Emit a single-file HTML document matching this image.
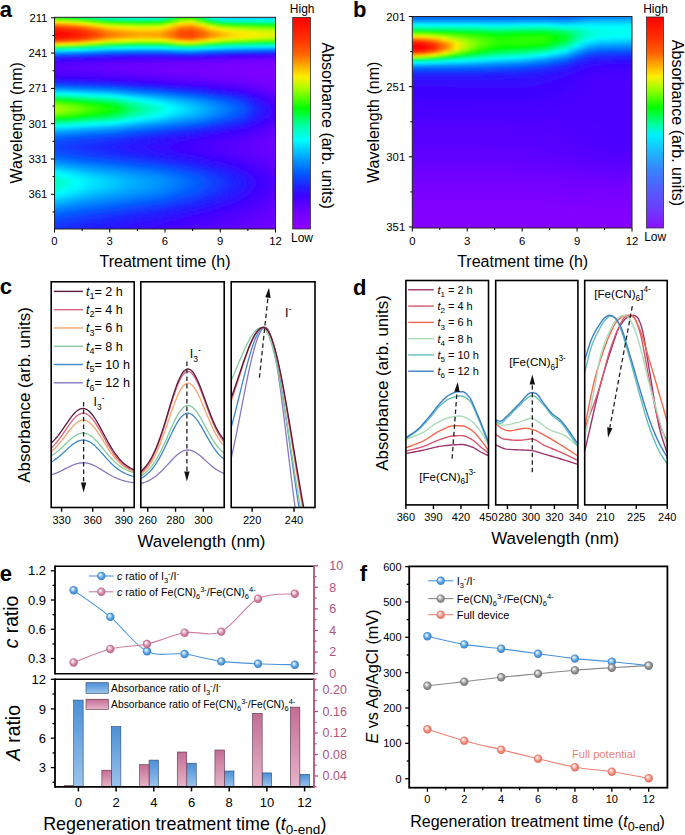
<!DOCTYPE html>
<html><head><meta charset="utf-8"><style>
html,body{margin:0;padding:0;background:#fff;width:685px;height:835px;overflow:hidden}
svg{display:block}
text{font-family:"Liberation Sans", sans-serif}
</style></head><body>
<svg width="685" height="835" viewBox="0 0 685 835">
<defs><filter id="blura" x="-5%" y="-5%" width="110%" height="110%"><feGaussianBlur stdDeviation="0.6 1.0"/></filter><clipPath id="clipa"><rect x="54.5" y="17.3" width="221" height="211.7"/></clipPath><linearGradient id="ga0" gradientUnits="userSpaceOnUse" x1="54.5" x2="275.5" y1="0" y2="0"><stop offset="0" stop-color="#00ff39"/><stop offset="0.05" stop-color="#00ff55"/><stop offset="0.1" stop-color="#00ff71"/><stop offset="0.14" stop-color="#00ff96"/><stop offset="0.19" stop-color="#00ffbc"/><stop offset="0.24" stop-color="#00ffdf"/><stop offset="0.29" stop-color="#00ffed"/><stop offset="0.33" stop-color="#00fff3"/><stop offset="0.38" stop-color="#00fff9"/><stop offset="0.43" stop-color="#00fff7"/><stop offset="0.48" stop-color="#00fff0"/><stop offset="0.52" stop-color="#00ffb3"/><stop offset="0.57" stop-color="#00ff23"/><stop offset="0.62" stop-color="#00ff01"/><stop offset="0.67" stop-color="#00ff8d"/><stop offset="0.71" stop-color="#00fffc"/><stop offset="0.76" stop-color="#00c1ff"/><stop offset="0.81" stop-color="#00b9ff"/><stop offset="0.86" stop-color="#00b9ff"/><stop offset="0.9" stop-color="#00baff"/><stop offset="0.95" stop-color="#00baff"/><stop offset="1" stop-color="#00b9ff"/></linearGradient><linearGradient id="ga1" gradientUnits="userSpaceOnUse" x1="54.5" x2="275.5" y1="0" y2="0"><stop offset="0" stop-color="#00ff39"/><stop offset="0.05" stop-color="#00ff55"/><stop offset="0.1" stop-color="#00ff71"/><stop offset="0.14" stop-color="#00ff96"/><stop offset="0.19" stop-color="#00ffbc"/><stop offset="0.24" stop-color="#00ffdf"/><stop offset="0.29" stop-color="#00ffed"/><stop offset="0.33" stop-color="#00fff3"/><stop offset="0.38" stop-color="#00fff9"/><stop offset="0.43" stop-color="#00fff7"/><stop offset="0.48" stop-color="#00fff0"/><stop offset="0.52" stop-color="#00ffb3"/><stop offset="0.57" stop-color="#00ff23"/><stop offset="0.62" stop-color="#00ff01"/><stop offset="0.67" stop-color="#00ff8d"/><stop offset="0.71" stop-color="#00fffc"/><stop offset="0.76" stop-color="#00c1ff"/><stop offset="0.81" stop-color="#00b9ff"/><stop offset="0.86" stop-color="#00b9ff"/><stop offset="0.9" stop-color="#00baff"/><stop offset="0.95" stop-color="#00baff"/><stop offset="1" stop-color="#00b9ff"/></linearGradient><linearGradient id="ga2" gradientUnits="userSpaceOnUse" x1="54.5" x2="275.5" y1="0" y2="0"><stop offset="0" stop-color="#00ff08"/><stop offset="0.05" stop-color="#00ff25"/><stop offset="0.1" stop-color="#00ff43"/><stop offset="0.14" stop-color="#00ff6a"/><stop offset="0.19" stop-color="#00ff9b"/><stop offset="0.24" stop-color="#00ffc2"/><stop offset="0.29" stop-color="#00ffd0"/><stop offset="0.33" stop-color="#00ffd7"/><stop offset="0.38" stop-color="#00ffde"/><stop offset="0.43" stop-color="#00ffdc"/><stop offset="0.48" stop-color="#00ffd4"/><stop offset="0.52" stop-color="#00ff94"/><stop offset="0.57" stop-color="#02ff00"/><stop offset="0.62" stop-color="#24ff00"/><stop offset="0.67" stop-color="#00ff67"/><stop offset="0.71" stop-color="#00ffdf"/><stop offset="0.76" stop-color="#00d8ff"/><stop offset="0.81" stop-color="#00cfff"/><stop offset="0.86" stop-color="#00d0ff"/><stop offset="0.9" stop-color="#00cfff"/><stop offset="0.95" stop-color="#00cfff"/><stop offset="1" stop-color="#00ceff"/></linearGradient><linearGradient id="ga3" gradientUnits="userSpaceOnUse" x1="54.5" x2="275.5" y1="0" y2="0"><stop offset="0" stop-color="#87ff00"/><stop offset="0.05" stop-color="#65ff00"/><stop offset="0.1" stop-color="#44ff00"/><stop offset="0.14" stop-color="#17ff00"/><stop offset="0.19" stop-color="#00ff22"/><stop offset="0.24" stop-color="#00ff5a"/><stop offset="0.29" stop-color="#00ff71"/><stop offset="0.33" stop-color="#00ff7c"/><stop offset="0.38" stop-color="#00ff87"/><stop offset="0.43" stop-color="#00ff85"/><stop offset="0.48" stop-color="#00ff7a"/><stop offset="0.52" stop-color="#00ff29"/><stop offset="0.57" stop-color="#6aff00"/><stop offset="0.62" stop-color="#8cff00"/><stop offset="0.67" stop-color="#06ff00"/><stop offset="0.71" stop-color="#00ff82"/><stop offset="0.76" stop-color="#00ffd9"/><stop offset="0.81" stop-color="#00ffe8"/><stop offset="0.86" stop-color="#00ffe9"/><stop offset="0.9" stop-color="#00ffeb"/><stop offset="0.95" stop-color="#00ffed"/><stop offset="1" stop-color="#00fff0"/></linearGradient><linearGradient id="ga4" gradientUnits="userSpaceOnUse" x1="54.5" x2="275.5" y1="0" y2="0"><stop offset="0" stop-color="#feee00"/><stop offset="0.05" stop-color="#e0f400"/><stop offset="0.1" stop-color="#c2f900"/><stop offset="0.14" stop-color="#99ff00"/><stop offset="0.19" stop-color="#59ff00"/><stop offset="0.24" stop-color="#19ff00"/><stop offset="0.29" stop-color="#00ff01"/><stop offset="0.33" stop-color="#00ff0f"/><stop offset="0.38" stop-color="#00ff1c"/><stop offset="0.43" stop-color="#00ff1a"/><stop offset="0.48" stop-color="#00ff0e"/><stop offset="0.52" stop-color="#41ff00"/><stop offset="0.57" stop-color="#c5f800"/><stop offset="0.62" stop-color="#e0f400"/><stop offset="0.67" stop-color="#70ff00"/><stop offset="0.71" stop-color="#00ff11"/><stop offset="0.76" stop-color="#00ff76"/><stop offset="0.81" stop-color="#00ff8f"/><stop offset="0.86" stop-color="#00ff94"/><stop offset="0.9" stop-color="#00ff99"/><stop offset="0.95" stop-color="#00ff9f"/><stop offset="1" stop-color="#00ffa4"/></linearGradient><linearGradient id="ga5" gradientUnits="userSpaceOnUse" x1="54.5" x2="275.5" y1="0" y2="0"><stop offset="0" stop-color="#ff9600"/><stop offset="0.05" stop-color="#ffb000"/><stop offset="0.1" stop-color="#ffcb00"/><stop offset="0.14" stop-color="#feee00"/><stop offset="0.19" stop-color="#c6f800"/><stop offset="0.24" stop-color="#89ff00"/><stop offset="0.29" stop-color="#6bff00"/><stop offset="0.33" stop-color="#5bff00"/><stop offset="0.38" stop-color="#4bff00"/><stop offset="0.43" stop-color="#4cff00"/><stop offset="0.48" stop-color="#59ff00"/><stop offset="0.52" stop-color="#a4fe00"/><stop offset="0.57" stop-color="#ffe000"/><stop offset="0.62" stop-color="#ffcb00"/><stop offset="0.67" stop-color="#caf700"/><stop offset="0.71" stop-color="#5dff00"/><stop offset="0.76" stop-color="#00ff02"/><stop offset="0.81" stop-color="#00ff21"/><stop offset="0.86" stop-color="#00ff29"/><stop offset="0.9" stop-color="#00ff31"/><stop offset="0.95" stop-color="#00ff3a"/><stop offset="1" stop-color="#00ff42"/></linearGradient><linearGradient id="ga6" gradientUnits="userSpaceOnUse" x1="54.5" x2="275.5" y1="0" y2="0"><stop offset="0" stop-color="#ff5300"/><stop offset="0.05" stop-color="#ff6500"/><stop offset="0.1" stop-color="#ff7f00"/><stop offset="0.14" stop-color="#ffa300"/><stop offset="0.19" stop-color="#ffd600"/><stop offset="0.24" stop-color="#dff400"/><stop offset="0.29" stop-color="#c5f800"/><stop offset="0.33" stop-color="#b7fb00"/><stop offset="0.38" stop-color="#a8fe00"/><stop offset="0.43" stop-color="#a8fd00"/><stop offset="0.48" stop-color="#b3fc00"/><stop offset="0.52" stop-color="#ecf100"/><stop offset="0.57" stop-color="#ffaa00"/><stop offset="0.62" stop-color="#ff9600"/><stop offset="0.67" stop-color="#ffde00"/><stop offset="0.71" stop-color="#bbfa00"/><stop offset="0.76" stop-color="#6bff00"/><stop offset="0.81" stop-color="#46ff00"/><stop offset="0.86" stop-color="#3bff00"/><stop offset="0.9" stop-color="#30ff00"/><stop offset="0.95" stop-color="#24ff00"/><stop offset="1" stop-color="#18ff00"/></linearGradient><linearGradient id="ga7" gradientUnits="userSpaceOnUse" x1="54.5" x2="275.5" y1="0" y2="0"><stop offset="0" stop-color="#ff2d00"/><stop offset="0.05" stop-color="#ff3d00"/><stop offset="0.1" stop-color="#ff4e00"/><stop offset="0.14" stop-color="#ff6800"/><stop offset="0.19" stop-color="#ff9900"/><stop offset="0.24" stop-color="#ffce00"/><stop offset="0.29" stop-color="#ffe500"/><stop offset="0.33" stop-color="#faef00"/><stop offset="0.38" stop-color="#eaf200"/><stop offset="0.43" stop-color="#e9f200"/><stop offset="0.48" stop-color="#f4f000"/><stop offset="0.52" stop-color="#ffcb00"/><stop offset="0.57" stop-color="#ff7f00"/><stop offset="0.62" stop-color="#ff6d00"/><stop offset="0.67" stop-color="#ffac00"/><stop offset="0.71" stop-color="#ffed00"/><stop offset="0.76" stop-color="#c2f900"/><stop offset="0.81" stop-color="#a0ff00"/><stop offset="0.86" stop-color="#92ff00"/><stop offset="0.9" stop-color="#84ff00"/><stop offset="0.95" stop-color="#76ff00"/><stop offset="1" stop-color="#68ff00"/></linearGradient><linearGradient id="ga8" gradientUnits="userSpaceOnUse" x1="54.5" x2="275.5" y1="0" y2="0"><stop offset="0" stop-color="#ff1800"/><stop offset="0.05" stop-color="#ff2400"/><stop offset="0.1" stop-color="#ff3000"/><stop offset="0.14" stop-color="#ff4800"/><stop offset="0.19" stop-color="#ff6c00"/><stop offset="0.24" stop-color="#ff9f00"/><stop offset="0.29" stop-color="#ffb800"/><stop offset="0.33" stop-color="#ffc600"/><stop offset="0.38" stop-color="#ffd500"/><stop offset="0.43" stop-color="#ffd500"/><stop offset="0.48" stop-color="#ffcd00"/><stop offset="0.52" stop-color="#ffa200"/><stop offset="0.57" stop-color="#ff5f00"/><stop offset="0.62" stop-color="#ff5400"/><stop offset="0.67" stop-color="#ff8600"/><stop offset="0.71" stop-color="#ffbf00"/><stop offset="0.76" stop-color="#ffed00"/><stop offset="0.81" stop-color="#daf500"/><stop offset="0.86" stop-color="#cdf700"/><stop offset="0.9" stop-color="#c0f900"/><stop offset="0.95" stop-color="#b3fc00"/><stop offset="1" stop-color="#a6fe00"/></linearGradient><linearGradient id="ga9" gradientUnits="userSpaceOnUse" x1="54.5" x2="275.5" y1="0" y2="0"><stop offset="0" stop-color="#ff0900"/><stop offset="0.05" stop-color="#ff1500"/><stop offset="0.1" stop-color="#ff2200"/><stop offset="0.14" stop-color="#ff3400"/><stop offset="0.19" stop-color="#ff5400"/><stop offset="0.24" stop-color="#ff8200"/><stop offset="0.29" stop-color="#ff9900"/><stop offset="0.33" stop-color="#ffa800"/><stop offset="0.38" stop-color="#ffb700"/><stop offset="0.43" stop-color="#ffb800"/><stop offset="0.48" stop-color="#ffaf00"/><stop offset="0.52" stop-color="#ff8900"/><stop offset="0.57" stop-color="#ff5100"/><stop offset="0.62" stop-color="#ff4700"/><stop offset="0.67" stop-color="#ff6d00"/><stop offset="0.71" stop-color="#ffa000"/><stop offset="0.76" stop-color="#ffca00"/><stop offset="0.81" stop-color="#ffeb00"/><stop offset="0.86" stop-color="#f4f000"/><stop offset="0.9" stop-color="#e6f300"/><stop offset="0.95" stop-color="#d7f500"/><stop offset="1" stop-color="#c9f800"/></linearGradient><linearGradient id="ga10" gradientUnits="userSpaceOnUse" x1="54.5" x2="275.5" y1="0" y2="0"><stop offset="0" stop-color="#ff0100"/><stop offset="0.05" stop-color="#ff0e00"/><stop offset="0.1" stop-color="#ff1a00"/><stop offset="0.14" stop-color="#ff2c00"/><stop offset="0.19" stop-color="#ff4a00"/><stop offset="0.24" stop-color="#ff7300"/><stop offset="0.29" stop-color="#ff8b00"/><stop offset="0.33" stop-color="#ff9900"/><stop offset="0.38" stop-color="#ffa800"/><stop offset="0.43" stop-color="#ffa900"/><stop offset="0.48" stop-color="#ffa000"/><stop offset="0.52" stop-color="#ff7c00"/><stop offset="0.57" stop-color="#ff4a00"/><stop offset="0.62" stop-color="#ff4000"/><stop offset="0.67" stop-color="#ff6100"/><stop offset="0.71" stop-color="#ff9100"/><stop offset="0.76" stop-color="#ffb800"/><stop offset="0.81" stop-color="#ffda00"/><stop offset="0.86" stop-color="#ffe600"/><stop offset="0.9" stop-color="#f9ef00"/><stop offset="0.95" stop-color="#eaf200"/><stop offset="1" stop-color="#dbf400"/></linearGradient><linearGradient id="ga11" gradientUnits="userSpaceOnUse" x1="54.5" x2="275.5" y1="0" y2="0"><stop offset="0" stop-color="#ff0200"/><stop offset="0.05" stop-color="#ff0e00"/><stop offset="0.1" stop-color="#ff1b00"/><stop offset="0.14" stop-color="#ff2c00"/><stop offset="0.19" stop-color="#ff4b00"/><stop offset="0.24" stop-color="#ff7400"/><stop offset="0.29" stop-color="#ff8c00"/><stop offset="0.33" stop-color="#ff9a00"/><stop offset="0.38" stop-color="#ffa900"/><stop offset="0.43" stop-color="#ffaa00"/><stop offset="0.48" stop-color="#ffa200"/><stop offset="0.52" stop-color="#ff7e00"/><stop offset="0.57" stop-color="#ff4c00"/><stop offset="0.62" stop-color="#ff4200"/><stop offset="0.67" stop-color="#ff6300"/><stop offset="0.71" stop-color="#ff9300"/><stop offset="0.76" stop-color="#ffb900"/><stop offset="0.81" stop-color="#ffdb00"/><stop offset="0.86" stop-color="#ffe800"/><stop offset="0.9" stop-color="#f7ef00"/><stop offset="0.95" stop-color="#e8f200"/><stop offset="1" stop-color="#d9f500"/></linearGradient><linearGradient id="ga12" gradientUnits="userSpaceOnUse" x1="54.5" x2="275.5" y1="0" y2="0"><stop offset="0" stop-color="#ff1000"/><stop offset="0.05" stop-color="#ff1c00"/><stop offset="0.1" stop-color="#ff2900"/><stop offset="0.14" stop-color="#ff3e00"/><stop offset="0.19" stop-color="#ff5d00"/><stop offset="0.24" stop-color="#ff9000"/><stop offset="0.29" stop-color="#ffa800"/><stop offset="0.33" stop-color="#ffb700"/><stop offset="0.38" stop-color="#ffc700"/><stop offset="0.43" stop-color="#ffc800"/><stop offset="0.48" stop-color="#ffbf00"/><stop offset="0.52" stop-color="#ff9a00"/><stop offset="0.57" stop-color="#ff5e00"/><stop offset="0.62" stop-color="#ff5500"/><stop offset="0.67" stop-color="#ff8000"/><stop offset="0.71" stop-color="#ffb000"/><stop offset="0.76" stop-color="#ffd700"/><stop offset="0.81" stop-color="#f3f000"/><stop offset="0.86" stop-color="#e4f300"/><stop offset="0.9" stop-color="#d5f500"/><stop offset="0.95" stop-color="#c6f800"/><stop offset="1" stop-color="#b8fb00"/></linearGradient><linearGradient id="ga13" gradientUnits="userSpaceOnUse" x1="54.5" x2="275.5" y1="0" y2="0"><stop offset="0" stop-color="#ff2b00"/><stop offset="0.05" stop-color="#ff3900"/><stop offset="0.1" stop-color="#ff4b00"/><stop offset="0.14" stop-color="#ff6300"/><stop offset="0.19" stop-color="#ff9400"/><stop offset="0.24" stop-color="#ffc900"/><stop offset="0.29" stop-color="#ffe100"/><stop offset="0.33" stop-color="#fdee00"/><stop offset="0.38" stop-color="#ecf100"/><stop offset="0.43" stop-color="#eaf200"/><stop offset="0.48" stop-color="#f3f000"/><stop offset="0.52" stop-color="#ffd500"/><stop offset="0.57" stop-color="#ff9700"/><stop offset="0.62" stop-color="#ff8800"/><stop offset="0.67" stop-color="#ffbb00"/><stop offset="0.71" stop-color="#ffea00"/><stop offset="0.76" stop-color="#d7f500"/><stop offset="0.81" stop-color="#b1fc00"/><stop offset="0.86" stop-color="#a3ff00"/><stop offset="0.9" stop-color="#92ff00"/><stop offset="0.95" stop-color="#80ff00"/><stop offset="1" stop-color="#6eff00"/></linearGradient><linearGradient id="ga14" gradientUnits="userSpaceOnUse" x1="54.5" x2="275.5" y1="0" y2="0"><stop offset="0" stop-color="#ff5f00"/><stop offset="0.05" stop-color="#ff7800"/><stop offset="0.1" stop-color="#ff9200"/><stop offset="0.14" stop-color="#ffb700"/><stop offset="0.19" stop-color="#ffe800"/><stop offset="0.24" stop-color="#caf800"/><stop offset="0.29" stop-color="#affc00"/><stop offset="0.33" stop-color="#9eff00"/><stop offset="0.38" stop-color="#8aff00"/><stop offset="0.43" stop-color="#88ff00"/><stop offset="0.48" stop-color="#92ff00"/><stop offset="0.52" stop-color="#bbfa00"/><stop offset="0.57" stop-color="#ffee00"/><stop offset="0.62" stop-color="#ffdf00"/><stop offset="0.67" stop-color="#d6f500"/><stop offset="0.71" stop-color="#a1ff00"/><stop offset="0.76" stop-color="#6fff00"/><stop offset="0.81" stop-color="#43ff00"/><stop offset="0.86" stop-color="#32ff00"/><stop offset="0.9" stop-color="#22ff00"/><stop offset="0.95" stop-color="#11ff00"/><stop offset="1" stop-color="#00ff00"/></linearGradient><linearGradient id="ga15" gradientUnits="userSpaceOnUse" x1="54.5" x2="275.5" y1="0" y2="0"><stop offset="0" stop-color="#ffce00"/><stop offset="0.05" stop-color="#ffe700"/><stop offset="0.1" stop-color="#e9f200"/><stop offset="0.14" stop-color="#bff900"/><stop offset="0.19" stop-color="#85ff00"/><stop offset="0.24" stop-color="#42ff00"/><stop offset="0.29" stop-color="#24ff00"/><stop offset="0.33" stop-color="#11ff00"/><stop offset="0.38" stop-color="#00ff01"/><stop offset="0.43" stop-color="#00ff04"/><stop offset="0.48" stop-color="#04ff00"/><stop offset="0.52" stop-color="#2eff00"/><stop offset="0.57" stop-color="#78ff00"/><stop offset="0.62" stop-color="#8bff00"/><stop offset="0.67" stop-color="#4aff00"/><stop offset="0.71" stop-color="#0fff00"/><stop offset="0.76" stop-color="#00ff1e"/><stop offset="0.81" stop-color="#00ff44"/><stop offset="0.86" stop-color="#00ff53"/><stop offset="0.9" stop-color="#00ff62"/><stop offset="0.95" stop-color="#00ff71"/><stop offset="1" stop-color="#00ff80"/></linearGradient><linearGradient id="ga16" gradientUnits="userSpaceOnUse" x1="54.5" x2="275.5" y1="0" y2="0"><stop offset="0" stop-color="#87ff00"/><stop offset="0.05" stop-color="#65ff00"/><stop offset="0.1" stop-color="#44ff00"/><stop offset="0.14" stop-color="#17ff00"/><stop offset="0.19" stop-color="#00ff22"/><stop offset="0.24" stop-color="#00ff5a"/><stop offset="0.29" stop-color="#00ff74"/><stop offset="0.33" stop-color="#00ff85"/><stop offset="0.38" stop-color="#00ff95"/><stop offset="0.43" stop-color="#00ff98"/><stop offset="0.48" stop-color="#00ff92"/><stop offset="0.52" stop-color="#00ff70"/><stop offset="0.57" stop-color="#00ff32"/><stop offset="0.62" stop-color="#00ff23"/><stop offset="0.67" stop-color="#00ff5b"/><stop offset="0.71" stop-color="#00ff8d"/><stop offset="0.76" stop-color="#00ffaf"/><stop offset="0.81" stop-color="#00ffc8"/><stop offset="0.86" stop-color="#00ffd2"/><stop offset="0.9" stop-color="#00ffdc"/><stop offset="0.95" stop-color="#00ffe6"/><stop offset="1" stop-color="#00fff0"/></linearGradient><linearGradient id="ga17" gradientUnits="userSpaceOnUse" x1="54.5" x2="275.5" y1="0" y2="0"><stop offset="0" stop-color="#00ff3a"/><stop offset="0.05" stop-color="#00ff56"/><stop offset="0.1" stop-color="#00ff72"/><stop offset="0.14" stop-color="#00ff97"/><stop offset="0.19" stop-color="#00ffbd"/><stop offset="0.24" stop-color="#00ffe0"/><stop offset="0.29" stop-color="#00fff1"/><stop offset="0.33" stop-color="#00fffc"/><stop offset="0.38" stop-color="#00f9ff"/><stop offset="0.43" stop-color="#00f7ff"/><stop offset="0.48" stop-color="#00faff"/><stop offset="0.52" stop-color="#00fff2"/><stop offset="0.57" stop-color="#00ffcd"/><stop offset="0.62" stop-color="#00ffc4"/><stop offset="0.67" stop-color="#00ffe7"/><stop offset="0.71" stop-color="#00f9ff"/><stop offset="0.76" stop-color="#00e6ff"/><stop offset="0.81" stop-color="#00d5ff"/><stop offset="0.86" stop-color="#00ceff"/><stop offset="0.9" stop-color="#00c7ff"/><stop offset="0.95" stop-color="#00c0ff"/><stop offset="1" stop-color="#00b9ff"/></linearGradient><linearGradient id="ga18" gradientUnits="userSpaceOnUse" x1="54.5" x2="275.5" y1="0" y2="0"><stop offset="0" stop-color="#00ffda"/><stop offset="0.05" stop-color="#00ffec"/><stop offset="0.1" stop-color="#00fffd"/><stop offset="0.14" stop-color="#00eeff"/><stop offset="0.19" stop-color="#00d7ff"/><stop offset="0.24" stop-color="#00c0ff"/><stop offset="0.29" stop-color="#00b5ff"/><stop offset="0.33" stop-color="#00aeff"/><stop offset="0.38" stop-color="#00a8ff"/><stop offset="0.43" stop-color="#00a6ff"/><stop offset="0.48" stop-color="#00a7ff"/><stop offset="0.52" stop-color="#00b2ff"/><stop offset="0.57" stop-color="#00c8ff"/><stop offset="0.62" stop-color="#00cdff"/><stop offset="0.67" stop-color="#00b7ff"/><stop offset="0.71" stop-color="#00a5ff"/><stop offset="0.76" stop-color="#0097ff"/><stop offset="0.81" stop-color="#008cff"/><stop offset="0.86" stop-color="#0087ff"/><stop offset="0.9" stop-color="#0082ff"/><stop offset="0.95" stop-color="#007cff"/><stop offset="1" stop-color="#0077ff"/></linearGradient><linearGradient id="ga19" gradientUnits="userSpaceOnUse" x1="54.5" x2="275.5" y1="0" y2="0"><stop offset="0" stop-color="#00bdff"/><stop offset="0.05" stop-color="#00b1ff"/><stop offset="0.1" stop-color="#00a8ff"/><stop offset="0.14" stop-color="#009cff"/><stop offset="0.19" stop-color="#008dff"/><stop offset="0.24" stop-color="#007eff"/><stop offset="0.29" stop-color="#0076ff"/><stop offset="0.33" stop-color="#0071ff"/><stop offset="0.38" stop-color="#006cff"/><stop offset="0.43" stop-color="#006aff"/><stop offset="0.48" stop-color="#006aff"/><stop offset="0.52" stop-color="#0071ff"/><stop offset="0.57" stop-color="#007fff"/><stop offset="0.62" stop-color="#0081ff"/><stop offset="0.67" stop-color="#0072ff"/><stop offset="0.71" stop-color="#0065ff"/><stop offset="0.76" stop-color="#035aff"/><stop offset="0.81" stop-color="#0751ff"/><stop offset="0.86" stop-color="#0a4dff"/><stop offset="0.9" stop-color="#0c48ff"/><stop offset="0.95" stop-color="#0e44ff"/><stop offset="1" stop-color="#103fff"/></linearGradient><linearGradient id="ga20" gradientUnits="userSpaceOnUse" x1="54.5" x2="275.5" y1="0" y2="0"><stop offset="0" stop-color="#0078ff"/><stop offset="0.05" stop-color="#0070ff"/><stop offset="0.1" stop-color="#0069ff"/><stop offset="0.14" stop-color="#005fff"/><stop offset="0.19" stop-color="#0654ff"/><stop offset="0.24" stop-color="#0c48ff"/><stop offset="0.29" stop-color="#0f42ff"/><stop offset="0.33" stop-color="#113eff"/><stop offset="0.38" stop-color="#1339ff"/><stop offset="0.43" stop-color="#1437ff"/><stop offset="0.48" stop-color="#1537ff"/><stop offset="0.52" stop-color="#123bff"/><stop offset="0.57" stop-color="#0e44ff"/><stop offset="0.62" stop-color="#0d46ff"/><stop offset="0.67" stop-color="#133aff"/><stop offset="0.71" stop-color="#1830ff"/><stop offset="0.76" stop-color="#1c28ff"/><stop offset="0.81" stop-color="#2020ff"/><stop offset="0.86" stop-color="#231dff"/><stop offset="0.9" stop-color="#251bff"/><stop offset="0.95" stop-color="#2818ff"/><stop offset="1" stop-color="#2b15ff"/></linearGradient><linearGradient id="ga21" gradientUnits="userSpaceOnUse" x1="54.5" x2="275.5" y1="0" y2="0"><stop offset="0" stop-color="#0e43ff"/><stop offset="0.05" stop-color="#113dff"/><stop offset="0.1" stop-color="#1437ff"/><stop offset="0.14" stop-color="#1830ff"/><stop offset="0.19" stop-color="#1d27ff"/><stop offset="0.24" stop-color="#221eff"/><stop offset="0.29" stop-color="#251bff"/><stop offset="0.33" stop-color="#2818ff"/><stop offset="0.38" stop-color="#2b15ff"/><stop offset="0.43" stop-color="#2c14ff"/><stop offset="0.48" stop-color="#2d13ff"/><stop offset="0.52" stop-color="#2b15ff"/><stop offset="0.57" stop-color="#2719ff"/><stop offset="0.62" stop-color="#2719ff"/><stop offset="0.67" stop-color="#2d13ff"/><stop offset="0.71" stop-color="#330dff"/><stop offset="0.76" stop-color="#3709ff"/><stop offset="0.81" stop-color="#3c04ff"/><stop offset="0.86" stop-color="#3e02ff"/><stop offset="0.9" stop-color="#4100ff"/><stop offset="0.95" stop-color="#4300ff"/><stop offset="1" stop-color="#4600ff"/></linearGradient><linearGradient id="ga22" gradientUnits="userSpaceOnUse" x1="54.5" x2="275.5" y1="0" y2="0"><stop offset="0" stop-color="#241cff"/><stop offset="0.05" stop-color="#2719ff"/><stop offset="0.1" stop-color="#2b15ff"/><stop offset="0.14" stop-color="#2f11ff"/><stop offset="0.19" stop-color="#340cff"/><stop offset="0.24" stop-color="#3808ff"/><stop offset="0.29" stop-color="#3c04ff"/><stop offset="0.33" stop-color="#3e02ff"/><stop offset="0.38" stop-color="#4000ff"/><stop offset="0.43" stop-color="#4200ff"/><stop offset="0.48" stop-color="#4300ff"/><stop offset="0.52" stop-color="#4300ff"/><stop offset="0.57" stop-color="#4000ff"/><stop offset="0.62" stop-color="#4100ff"/><stop offset="0.67" stop-color="#4600ff"/><stop offset="0.71" stop-color="#4b00ff"/><stop offset="0.76" stop-color="#4f00ff"/><stop offset="0.81" stop-color="#5300ff"/><stop offset="0.86" stop-color="#5500ff"/><stop offset="0.9" stop-color="#5700ff"/><stop offset="0.95" stop-color="#5a00ff"/><stop offset="1" stop-color="#5c00ff"/></linearGradient><linearGradient id="ga23" gradientUnits="userSpaceOnUse" x1="54.5" x2="275.5" y1="0" y2="0"><stop offset="0" stop-color="#3808ff"/><stop offset="0.05" stop-color="#3b05ff"/><stop offset="0.1" stop-color="#3e02ff"/><stop offset="0.14" stop-color="#4200ff"/><stop offset="0.19" stop-color="#4600ff"/><stop offset="0.24" stop-color="#4a00ff"/><stop offset="0.29" stop-color="#4d00ff"/><stop offset="0.33" stop-color="#4f00ff"/><stop offset="0.38" stop-color="#5200ff"/><stop offset="0.43" stop-color="#5300ff"/><stop offset="0.48" stop-color="#5500ff"/><stop offset="0.52" stop-color="#5500ff"/><stop offset="0.57" stop-color="#5400ff"/><stop offset="0.62" stop-color="#5500ff"/><stop offset="0.67" stop-color="#5900ff"/><stop offset="0.71" stop-color="#5d00ff"/><stop offset="0.76" stop-color="#6000ff"/><stop offset="0.81" stop-color="#6400ff"/><stop offset="0.86" stop-color="#6600ff"/><stop offset="0.9" stop-color="#6800ff"/><stop offset="0.95" stop-color="#6b00ff"/><stop offset="1" stop-color="#6d00ff"/></linearGradient><linearGradient id="ga24" gradientUnits="userSpaceOnUse" x1="54.5" x2="275.5" y1="0" y2="0"><stop offset="0" stop-color="#4700ff"/><stop offset="0.05" stop-color="#4a00ff"/><stop offset="0.1" stop-color="#4d00ff"/><stop offset="0.14" stop-color="#5000ff"/><stop offset="0.19" stop-color="#5300ff"/><stop offset="0.24" stop-color="#5600ff"/><stop offset="0.29" stop-color="#5900ff"/><stop offset="0.33" stop-color="#5b00ff"/><stop offset="0.38" stop-color="#5e00ff"/><stop offset="0.43" stop-color="#5f00ff"/><stop offset="0.48" stop-color="#6100ff"/><stop offset="0.52" stop-color="#6200ff"/><stop offset="0.57" stop-color="#6200ff"/><stop offset="0.62" stop-color="#6300ff"/><stop offset="0.67" stop-color="#6700ff"/><stop offset="0.71" stop-color="#6a00ff"/><stop offset="0.76" stop-color="#6d00ff"/><stop offset="0.81" stop-color="#7000ff"/><stop offset="0.86" stop-color="#7100ff"/><stop offset="0.9" stop-color="#7200ff"/><stop offset="0.95" stop-color="#7400ff"/><stop offset="1" stop-color="#7500ff"/></linearGradient><linearGradient id="ga25" gradientUnits="userSpaceOnUse" x1="54.5" x2="275.5" y1="0" y2="0"><stop offset="0" stop-color="#5100ff"/><stop offset="0.05" stop-color="#5300ff"/><stop offset="0.1" stop-color="#5600ff"/><stop offset="0.14" stop-color="#5900ff"/><stop offset="0.19" stop-color="#5b00ff"/><stop offset="0.24" stop-color="#5e00ff"/><stop offset="0.29" stop-color="#6100ff"/><stop offset="0.33" stop-color="#6300ff"/><stop offset="0.38" stop-color="#6500ff"/><stop offset="0.43" stop-color="#6700ff"/><stop offset="0.48" stop-color="#6900ff"/><stop offset="0.52" stop-color="#6a00ff"/><stop offset="0.57" stop-color="#6b00ff"/><stop offset="0.62" stop-color="#6d00ff"/><stop offset="0.67" stop-color="#7000ff"/><stop offset="0.71" stop-color="#7100ff"/><stop offset="0.76" stop-color="#7300ff"/><stop offset="0.81" stop-color="#7400ff"/><stop offset="0.86" stop-color="#7600ff"/><stop offset="0.9" stop-color="#7700ff"/><stop offset="0.95" stop-color="#7800ff"/><stop offset="1" stop-color="#7a00ff"/></linearGradient><linearGradient id="ga26" gradientUnits="userSpaceOnUse" x1="54.5" x2="275.5" y1="0" y2="0"><stop offset="0" stop-color="#5600ff"/><stop offset="0.05" stop-color="#5900ff"/><stop offset="0.1" stop-color="#5b00ff"/><stop offset="0.14" stop-color="#5d00ff"/><stop offset="0.19" stop-color="#6000ff"/><stop offset="0.24" stop-color="#6200ff"/><stop offset="0.29" stop-color="#6500ff"/><stop offset="0.33" stop-color="#6700ff"/><stop offset="0.38" stop-color="#6900ff"/><stop offset="0.43" stop-color="#6b00ff"/><stop offset="0.48" stop-color="#6d00ff"/><stop offset="0.52" stop-color="#6f00ff"/><stop offset="0.57" stop-color="#7000ff"/><stop offset="0.62" stop-color="#7100ff"/><stop offset="0.67" stop-color="#7300ff"/><stop offset="0.71" stop-color="#7400ff"/><stop offset="0.76" stop-color="#7600ff"/><stop offset="0.81" stop-color="#7700ff"/><stop offset="0.86" stop-color="#7900ff"/><stop offset="0.9" stop-color="#7a00ff"/><stop offset="0.95" stop-color="#7b00ff"/><stop offset="1" stop-color="#7d00ff"/></linearGradient><linearGradient id="ga27" gradientUnits="userSpaceOnUse" x1="54.5" x2="275.5" y1="0" y2="0"><stop offset="0" stop-color="#5800ff"/><stop offset="0.05" stop-color="#5a00ff"/><stop offset="0.1" stop-color="#5c00ff"/><stop offset="0.14" stop-color="#5f00ff"/><stop offset="0.19" stop-color="#6100ff"/><stop offset="0.24" stop-color="#6400ff"/><stop offset="0.29" stop-color="#6600ff"/><stop offset="0.33" stop-color="#6800ff"/><stop offset="0.38" stop-color="#6b00ff"/><stop offset="0.43" stop-color="#6d00ff"/><stop offset="0.48" stop-color="#6f00ff"/><stop offset="0.52" stop-color="#7100ff"/><stop offset="0.57" stop-color="#7200ff"/><stop offset="0.62" stop-color="#7300ff"/><stop offset="0.67" stop-color="#7400ff"/><stop offset="0.71" stop-color="#7600ff"/><stop offset="0.76" stop-color="#7700ff"/><stop offset="0.81" stop-color="#7900ff"/><stop offset="0.86" stop-color="#7a00ff"/><stop offset="0.9" stop-color="#7b00ff"/><stop offset="0.95" stop-color="#7d00ff"/><stop offset="1" stop-color="#7e00ff"/></linearGradient><linearGradient id="ga28" gradientUnits="userSpaceOnUse" x1="54.5" x2="275.5" y1="0" y2="0"><stop offset="0" stop-color="#5700ff"/><stop offset="0.05" stop-color="#5900ff"/><stop offset="0.1" stop-color="#5b00ff"/><stop offset="0.14" stop-color="#5e00ff"/><stop offset="0.19" stop-color="#6000ff"/><stop offset="0.24" stop-color="#6200ff"/><stop offset="0.29" stop-color="#6500ff"/><stop offset="0.33" stop-color="#6700ff"/><stop offset="0.38" stop-color="#6a00ff"/><stop offset="0.43" stop-color="#6c00ff"/><stop offset="0.48" stop-color="#6f00ff"/><stop offset="0.52" stop-color="#7000ff"/><stop offset="0.57" stop-color="#7200ff"/><stop offset="0.62" stop-color="#7300ff"/><stop offset="0.67" stop-color="#7400ff"/><stop offset="0.71" stop-color="#7600ff"/><stop offset="0.76" stop-color="#7700ff"/><stop offset="0.81" stop-color="#7900ff"/><stop offset="0.86" stop-color="#7a00ff"/><stop offset="0.9" stop-color="#7c00ff"/><stop offset="0.95" stop-color="#7e00ff"/><stop offset="1" stop-color="#7f00ff"/></linearGradient><linearGradient id="ga29" gradientUnits="userSpaceOnUse" x1="54.5" x2="275.5" y1="0" y2="0"><stop offset="0" stop-color="#5300ff"/><stop offset="0.05" stop-color="#5500ff"/><stop offset="0.1" stop-color="#5800ff"/><stop offset="0.14" stop-color="#5a00ff"/><stop offset="0.19" stop-color="#5c00ff"/><stop offset="0.24" stop-color="#5f00ff"/><stop offset="0.29" stop-color="#6100ff"/><stop offset="0.33" stop-color="#6400ff"/><stop offset="0.38" stop-color="#6700ff"/><stop offset="0.43" stop-color="#6a00ff"/><stop offset="0.48" stop-color="#6c00ff"/><stop offset="0.52" stop-color="#6f00ff"/><stop offset="0.57" stop-color="#7100ff"/><stop offset="0.62" stop-color="#7200ff"/><stop offset="0.67" stop-color="#7400ff"/><stop offset="0.71" stop-color="#7500ff"/><stop offset="0.76" stop-color="#7700ff"/><stop offset="0.81" stop-color="#7800ff"/><stop offset="0.86" stop-color="#7a00ff"/><stop offset="0.9" stop-color="#7c00ff"/><stop offset="0.95" stop-color="#7e00ff"/><stop offset="1" stop-color="#7f00ff"/></linearGradient><linearGradient id="ga30" gradientUnits="userSpaceOnUse" x1="54.5" x2="275.5" y1="0" y2="0"><stop offset="0" stop-color="#4d00ff"/><stop offset="0.05" stop-color="#4f00ff"/><stop offset="0.1" stop-color="#5200ff"/><stop offset="0.14" stop-color="#5400ff"/><stop offset="0.19" stop-color="#5700ff"/><stop offset="0.24" stop-color="#5900ff"/><stop offset="0.29" stop-color="#5c00ff"/><stop offset="0.33" stop-color="#5f00ff"/><stop offset="0.38" stop-color="#6200ff"/><stop offset="0.43" stop-color="#6500ff"/><stop offset="0.48" stop-color="#6800ff"/><stop offset="0.52" stop-color="#6b00ff"/><stop offset="0.57" stop-color="#6e00ff"/><stop offset="0.62" stop-color="#7000ff"/><stop offset="0.67" stop-color="#7200ff"/><stop offset="0.71" stop-color="#7400ff"/><stop offset="0.76" stop-color="#7500ff"/><stop offset="0.81" stop-color="#7700ff"/><stop offset="0.86" stop-color="#7900ff"/><stop offset="0.9" stop-color="#7b00ff"/><stop offset="0.95" stop-color="#7d00ff"/><stop offset="1" stop-color="#7f00ff"/></linearGradient><linearGradient id="ga31" gradientUnits="userSpaceOnUse" x1="54.5" x2="275.5" y1="0" y2="0"><stop offset="0" stop-color="#4400ff"/><stop offset="0.05" stop-color="#4700ff"/><stop offset="0.1" stop-color="#4900ff"/><stop offset="0.14" stop-color="#4c00ff"/><stop offset="0.19" stop-color="#4e00ff"/><stop offset="0.24" stop-color="#5100ff"/><stop offset="0.29" stop-color="#5500ff"/><stop offset="0.33" stop-color="#5800ff"/><stop offset="0.38" stop-color="#5c00ff"/><stop offset="0.43" stop-color="#5f00ff"/><stop offset="0.48" stop-color="#6200ff"/><stop offset="0.52" stop-color="#6500ff"/><stop offset="0.57" stop-color="#6900ff"/><stop offset="0.62" stop-color="#6c00ff"/><stop offset="0.67" stop-color="#6f00ff"/><stop offset="0.71" stop-color="#7100ff"/><stop offset="0.76" stop-color="#7300ff"/><stop offset="0.81" stop-color="#7500ff"/><stop offset="0.86" stop-color="#7700ff"/><stop offset="0.9" stop-color="#7a00ff"/><stop offset="0.95" stop-color="#7c00ff"/><stop offset="1" stop-color="#7e00ff"/></linearGradient><linearGradient id="ga32" gradientUnits="userSpaceOnUse" x1="54.5" x2="275.5" y1="0" y2="0"><stop offset="0" stop-color="#3907ff"/><stop offset="0.05" stop-color="#3c04ff"/><stop offset="0.1" stop-color="#3e02ff"/><stop offset="0.14" stop-color="#4100ff"/><stop offset="0.19" stop-color="#4400ff"/><stop offset="0.24" stop-color="#4700ff"/><stop offset="0.29" stop-color="#4b00ff"/><stop offset="0.33" stop-color="#4f00ff"/><stop offset="0.38" stop-color="#5300ff"/><stop offset="0.43" stop-color="#5700ff"/><stop offset="0.48" stop-color="#5b00ff"/><stop offset="0.52" stop-color="#5e00ff"/><stop offset="0.57" stop-color="#6200ff"/><stop offset="0.62" stop-color="#6500ff"/><stop offset="0.67" stop-color="#6900ff"/><stop offset="0.71" stop-color="#6d00ff"/><stop offset="0.76" stop-color="#7000ff"/><stop offset="0.81" stop-color="#7300ff"/><stop offset="0.86" stop-color="#7500ff"/><stop offset="0.9" stop-color="#7800ff"/><stop offset="0.95" stop-color="#7b00ff"/><stop offset="1" stop-color="#7d00ff"/></linearGradient><linearGradient id="ga33" gradientUnits="userSpaceOnUse" x1="54.5" x2="275.5" y1="0" y2="0"><stop offset="0" stop-color="#2c14ff"/><stop offset="0.05" stop-color="#2f11ff"/><stop offset="0.1" stop-color="#320eff"/><stop offset="0.14" stop-color="#350bff"/><stop offset="0.19" stop-color="#3808ff"/><stop offset="0.24" stop-color="#3b05ff"/><stop offset="0.29" stop-color="#3f01ff"/><stop offset="0.33" stop-color="#4400ff"/><stop offset="0.38" stop-color="#4900ff"/><stop offset="0.43" stop-color="#4d00ff"/><stop offset="0.48" stop-color="#5100ff"/><stop offset="0.52" stop-color="#5500ff"/><stop offset="0.57" stop-color="#5900ff"/><stop offset="0.62" stop-color="#5e00ff"/><stop offset="0.67" stop-color="#6200ff"/><stop offset="0.71" stop-color="#6600ff"/><stop offset="0.76" stop-color="#6a00ff"/><stop offset="0.81" stop-color="#6f00ff"/><stop offset="0.86" stop-color="#7200ff"/><stop offset="0.9" stop-color="#7500ff"/><stop offset="0.95" stop-color="#7900ff"/><stop offset="1" stop-color="#7c00ff"/></linearGradient><linearGradient id="ga34" gradientUnits="userSpaceOnUse" x1="54.5" x2="275.5" y1="0" y2="0"><stop offset="0" stop-color="#1d26ff"/><stop offset="0.05" stop-color="#2021ff"/><stop offset="0.1" stop-color="#231dff"/><stop offset="0.14" stop-color="#261aff"/><stop offset="0.19" stop-color="#2917ff"/><stop offset="0.24" stop-color="#2d13ff"/><stop offset="0.29" stop-color="#320eff"/><stop offset="0.33" stop-color="#3709ff"/><stop offset="0.38" stop-color="#3c04ff"/><stop offset="0.43" stop-color="#4100ff"/><stop offset="0.48" stop-color="#4600ff"/><stop offset="0.52" stop-color="#4b00ff"/><stop offset="0.57" stop-color="#4f00ff"/><stop offset="0.62" stop-color="#5400ff"/><stop offset="0.67" stop-color="#5900ff"/><stop offset="0.71" stop-color="#5e00ff"/><stop offset="0.76" stop-color="#6300ff"/><stop offset="0.81" stop-color="#6800ff"/><stop offset="0.86" stop-color="#6d00ff"/><stop offset="0.9" stop-color="#7200ff"/><stop offset="0.95" stop-color="#7600ff"/><stop offset="1" stop-color="#7a00ff"/></linearGradient><linearGradient id="ga35" gradientUnits="userSpaceOnUse" x1="54.5" x2="275.5" y1="0" y2="0"><stop offset="0" stop-color="#1041ff"/><stop offset="0.05" stop-color="#123cff"/><stop offset="0.1" stop-color="#1536ff"/><stop offset="0.14" stop-color="#1831ff"/><stop offset="0.19" stop-color="#1a2bff"/><stop offset="0.24" stop-color="#1d26ff"/><stop offset="0.29" stop-color="#211fff"/><stop offset="0.33" stop-color="#2818ff"/><stop offset="0.38" stop-color="#2e12ff"/><stop offset="0.43" stop-color="#330dff"/><stop offset="0.48" stop-color="#3907ff"/><stop offset="0.52" stop-color="#3e02ff"/><stop offset="0.57" stop-color="#4300ff"/><stop offset="0.62" stop-color="#4800ff"/><stop offset="0.67" stop-color="#4e00ff"/><stop offset="0.71" stop-color="#5400ff"/><stop offset="0.76" stop-color="#5a00ff"/><stop offset="0.81" stop-color="#6000ff"/><stop offset="0.86" stop-color="#6600ff"/><stop offset="0.9" stop-color="#6e00ff"/><stop offset="0.95" stop-color="#7300ff"/><stop offset="1" stop-color="#7800ff"/></linearGradient><linearGradient id="ga36" gradientUnits="userSpaceOnUse" x1="54.5" x2="275.5" y1="0" y2="0"><stop offset="0" stop-color="#0060ff"/><stop offset="0.05" stop-color="#035aff"/><stop offset="0.1" stop-color="#0654ff"/><stop offset="0.14" stop-color="#094eff"/><stop offset="0.19" stop-color="#0c48ff"/><stop offset="0.24" stop-color="#0f42ff"/><stop offset="0.29" stop-color="#1439ff"/><stop offset="0.33" stop-color="#192eff"/><stop offset="0.38" stop-color="#1e24ff"/><stop offset="0.43" stop-color="#241cff"/><stop offset="0.48" stop-color="#2a16ff"/><stop offset="0.52" stop-color="#3010ff"/><stop offset="0.57" stop-color="#360aff"/><stop offset="0.62" stop-color="#3b05ff"/><stop offset="0.67" stop-color="#4100ff"/><stop offset="0.71" stop-color="#4800ff"/><stop offset="0.76" stop-color="#4f00ff"/><stop offset="0.81" stop-color="#5600ff"/><stop offset="0.86" stop-color="#5e00ff"/><stop offset="0.9" stop-color="#6700ff"/><stop offset="0.95" stop-color="#7000ff"/><stop offset="1" stop-color="#7600ff"/></linearGradient><linearGradient id="ga37" gradientUnits="userSpaceOnUse" x1="54.5" x2="275.5" y1="0" y2="0"><stop offset="0" stop-color="#0085ff"/><stop offset="0.05" stop-color="#007eff"/><stop offset="0.1" stop-color="#0077ff"/><stop offset="0.14" stop-color="#0070ff"/><stop offset="0.19" stop-color="#0069ff"/><stop offset="0.24" stop-color="#0061ff"/><stop offset="0.29" stop-color="#0557ff"/><stop offset="0.33" stop-color="#0b4bff"/><stop offset="0.38" stop-color="#113eff"/><stop offset="0.43" stop-color="#1634ff"/><stop offset="0.48" stop-color="#1b2aff"/><stop offset="0.52" stop-color="#2020ff"/><stop offset="0.57" stop-color="#2719ff"/><stop offset="0.62" stop-color="#2d13ff"/><stop offset="0.67" stop-color="#340cff"/><stop offset="0.71" stop-color="#3b05ff"/><stop offset="0.76" stop-color="#4300ff"/><stop offset="0.81" stop-color="#4b00ff"/><stop offset="0.86" stop-color="#5400ff"/><stop offset="0.9" stop-color="#5f00ff"/><stop offset="0.95" stop-color="#6a00ff"/><stop offset="1" stop-color="#7300ff"/></linearGradient><linearGradient id="ga38" gradientUnits="userSpaceOnUse" x1="54.5" x2="275.5" y1="0" y2="0"><stop offset="0" stop-color="#00acff"/><stop offset="0.05" stop-color="#00a5ff"/><stop offset="0.1" stop-color="#009dff"/><stop offset="0.14" stop-color="#0095ff"/><stop offset="0.19" stop-color="#008dff"/><stop offset="0.24" stop-color="#0085ff"/><stop offset="0.29" stop-color="#0078ff"/><stop offset="0.33" stop-color="#006aff"/><stop offset="0.38" stop-color="#025bff"/><stop offset="0.43" stop-color="#084fff"/><stop offset="0.48" stop-color="#0e44ff"/><stop offset="0.52" stop-color="#1439ff"/><stop offset="0.57" stop-color="#192eff"/><stop offset="0.62" stop-color="#1f23ff"/><stop offset="0.67" stop-color="#261aff"/><stop offset="0.71" stop-color="#2e12ff"/><stop offset="0.76" stop-color="#3709ff"/><stop offset="0.81" stop-color="#4000ff"/><stop offset="0.86" stop-color="#4900ff"/><stop offset="0.9" stop-color="#5600ff"/><stop offset="0.95" stop-color="#6300ff"/><stop offset="1" stop-color="#6f00ff"/></linearGradient><linearGradient id="ga39" gradientUnits="userSpaceOnUse" x1="54.5" x2="275.5" y1="0" y2="0"><stop offset="0" stop-color="#00dfff"/><stop offset="0.05" stop-color="#00d4ff"/><stop offset="0.1" stop-color="#00c9ff"/><stop offset="0.14" stop-color="#00beff"/><stop offset="0.19" stop-color="#00b3ff"/><stop offset="0.24" stop-color="#00aaff"/><stop offset="0.29" stop-color="#009bff"/><stop offset="0.33" stop-color="#008bff"/><stop offset="0.38" stop-color="#007bff"/><stop offset="0.43" stop-color="#006cff"/><stop offset="0.48" stop-color="#005fff"/><stop offset="0.52" stop-color="#0753ff"/><stop offset="0.57" stop-color="#0d46ff"/><stop offset="0.62" stop-color="#133aff"/><stop offset="0.67" stop-color="#192dff"/><stop offset="0.71" stop-color="#2020ff"/><stop offset="0.76" stop-color="#2a16ff"/><stop offset="0.81" stop-color="#340cff"/><stop offset="0.86" stop-color="#3e02ff"/><stop offset="0.9" stop-color="#4d00ff"/><stop offset="0.95" stop-color="#5b00ff"/><stop offset="1" stop-color="#6900ff"/></linearGradient><linearGradient id="ga40" gradientUnits="userSpaceOnUse" x1="54.5" x2="275.5" y1="0" y2="0"><stop offset="0" stop-color="#00ffe6"/><stop offset="0.05" stop-color="#00fff5"/><stop offset="0.1" stop-color="#00fbff"/><stop offset="0.14" stop-color="#00efff"/><stop offset="0.19" stop-color="#00e3ff"/><stop offset="0.24" stop-color="#00d7ff"/><stop offset="0.29" stop-color="#00c3ff"/><stop offset="0.33" stop-color="#00adff"/><stop offset="0.38" stop-color="#009bff"/><stop offset="0.43" stop-color="#008bff"/><stop offset="0.48" stop-color="#007cff"/><stop offset="0.52" stop-color="#006eff"/><stop offset="0.57" stop-color="#005fff"/><stop offset="0.62" stop-color="#0751ff"/><stop offset="0.67" stop-color="#0e43ff"/><stop offset="0.71" stop-color="#1635ff"/><stop offset="0.76" stop-color="#1e25ff"/><stop offset="0.81" stop-color="#2818ff"/><stop offset="0.86" stop-color="#340cff"/><stop offset="0.9" stop-color="#4300ff"/><stop offset="0.95" stop-color="#5300ff"/><stop offset="1" stop-color="#6400ff"/></linearGradient><linearGradient id="ga41" gradientUnits="userSpaceOnUse" x1="54.5" x2="275.5" y1="0" y2="0"><stop offset="0" stop-color="#00ffa4"/><stop offset="0.05" stop-color="#00ffb5"/><stop offset="0.1" stop-color="#00ffc6"/><stop offset="0.14" stop-color="#00ffd6"/><stop offset="0.19" stop-color="#00ffe7"/><stop offset="0.24" stop-color="#00fff7"/><stop offset="0.29" stop-color="#00efff"/><stop offset="0.33" stop-color="#00d6ff"/><stop offset="0.38" stop-color="#00beff"/><stop offset="0.43" stop-color="#00a9ff"/><stop offset="0.48" stop-color="#0099ff"/><stop offset="0.52" stop-color="#0089ff"/><stop offset="0.57" stop-color="#0079ff"/><stop offset="0.62" stop-color="#0069ff"/><stop offset="0.67" stop-color="#0359ff"/><stop offset="0.71" stop-color="#0b49ff"/><stop offset="0.76" stop-color="#1437ff"/><stop offset="0.81" stop-color="#1d26ff"/><stop offset="0.86" stop-color="#2917ff"/><stop offset="0.9" stop-color="#3a06ff"/><stop offset="0.95" stop-color="#4c00ff"/><stop offset="1" stop-color="#5e00ff"/></linearGradient><linearGradient id="ga42" gradientUnits="userSpaceOnUse" x1="54.5" x2="275.5" y1="0" y2="0"><stop offset="0" stop-color="#00ff53"/><stop offset="0.05" stop-color="#00ff6b"/><stop offset="0.1" stop-color="#00ff83"/><stop offset="0.14" stop-color="#00ff9b"/><stop offset="0.19" stop-color="#00ffae"/><stop offset="0.24" stop-color="#00ffc0"/><stop offset="0.29" stop-color="#00ffde"/><stop offset="0.33" stop-color="#00feff"/><stop offset="0.38" stop-color="#00e3ff"/><stop offset="0.43" stop-color="#00cbff"/><stop offset="0.48" stop-color="#00b6ff"/><stop offset="0.52" stop-color="#00a3ff"/><stop offset="0.57" stop-color="#0092ff"/><stop offset="0.62" stop-color="#0080ff"/><stop offset="0.67" stop-color="#006fff"/><stop offset="0.71" stop-color="#025dff"/><stop offset="0.76" stop-color="#0b49ff"/><stop offset="0.81" stop-color="#1536ff"/><stop offset="0.86" stop-color="#1f21ff"/><stop offset="0.9" stop-color="#310fff"/><stop offset="0.95" stop-color="#4400ff"/><stop offset="1" stop-color="#5800ff"/></linearGradient><linearGradient id="ga43" gradientUnits="userSpaceOnUse" x1="54.5" x2="275.5" y1="0" y2="0"><stop offset="0" stop-color="#00ff07"/><stop offset="0.05" stop-color="#00ff20"/><stop offset="0.1" stop-color="#00ff3a"/><stop offset="0.14" stop-color="#00ff54"/><stop offset="0.19" stop-color="#00ff6e"/><stop offset="0.24" stop-color="#00ff88"/><stop offset="0.29" stop-color="#00ffae"/><stop offset="0.33" stop-color="#00ffd3"/><stop offset="0.38" stop-color="#00fff8"/><stop offset="0.43" stop-color="#00ebff"/><stop offset="0.48" stop-color="#00d4ff"/><stop offset="0.52" stop-color="#00bdff"/><stop offset="0.57" stop-color="#00a8ff"/><stop offset="0.62" stop-color="#0095ff"/><stop offset="0.67" stop-color="#0082ff"/><stop offset="0.71" stop-color="#006fff"/><stop offset="0.76" stop-color="#035aff"/><stop offset="0.81" stop-color="#0e45ff"/><stop offset="0.86" stop-color="#192fff"/><stop offset="0.9" stop-color="#2917ff"/><stop offset="0.95" stop-color="#3d03ff"/><stop offset="1" stop-color="#5200ff"/></linearGradient><linearGradient id="ga44" gradientUnits="userSpaceOnUse" x1="54.5" x2="275.5" y1="0" y2="0"><stop offset="0" stop-color="#3cff00"/><stop offset="0.05" stop-color="#20ff00"/><stop offset="0.1" stop-color="#04ff00"/><stop offset="0.14" stop-color="#00ff17"/><stop offset="0.19" stop-color="#00ff33"/><stop offset="0.24" stop-color="#00ff4e"/><stop offset="0.29" stop-color="#00ff7c"/><stop offset="0.33" stop-color="#00ffac"/><stop offset="0.38" stop-color="#00ffd3"/><stop offset="0.43" stop-color="#00fff5"/><stop offset="0.48" stop-color="#00efff"/><stop offset="0.52" stop-color="#00d6ff"/><stop offset="0.57" stop-color="#00beff"/><stop offset="0.62" stop-color="#00a8ff"/><stop offset="0.67" stop-color="#0094ff"/><stop offset="0.71" stop-color="#007fff"/><stop offset="0.76" stop-color="#0068ff"/><stop offset="0.81" stop-color="#0752ff"/><stop offset="0.86" stop-color="#133aff"/><stop offset="0.9" stop-color="#231dff"/><stop offset="0.95" stop-color="#3808ff"/><stop offset="1" stop-color="#4e00ff"/></linearGradient><linearGradient id="ga45" gradientUnits="userSpaceOnUse" x1="54.5" x2="275.5" y1="0" y2="0"><stop offset="0" stop-color="#70ff00"/><stop offset="0.05" stop-color="#53ff00"/><stop offset="0.1" stop-color="#36ff00"/><stop offset="0.14" stop-color="#19ff00"/><stop offset="0.19" stop-color="#00ff03"/><stop offset="0.24" stop-color="#00ff20"/><stop offset="0.29" stop-color="#00ff50"/><stop offset="0.33" stop-color="#00ff87"/><stop offset="0.38" stop-color="#00ffb6"/><stop offset="0.43" stop-color="#00ffd9"/><stop offset="0.48" stop-color="#00fff9"/><stop offset="0.52" stop-color="#00eaff"/><stop offset="0.57" stop-color="#00d1ff"/><stop offset="0.62" stop-color="#00b7ff"/><stop offset="0.67" stop-color="#00a1ff"/><stop offset="0.71" stop-color="#008bff"/><stop offset="0.76" stop-color="#0074ff"/><stop offset="0.81" stop-color="#025cff"/><stop offset="0.86" stop-color="#0e44ff"/><stop offset="0.9" stop-color="#1e24ff"/><stop offset="0.95" stop-color="#330dff"/><stop offset="1" stop-color="#4a00ff"/></linearGradient><linearGradient id="ga46" gradientUnits="userSpaceOnUse" x1="54.5" x2="275.5" y1="0" y2="0"><stop offset="0" stop-color="#95ff00"/><stop offset="0.05" stop-color="#77ff00"/><stop offset="0.1" stop-color="#5aff00"/><stop offset="0.14" stop-color="#3cff00"/><stop offset="0.19" stop-color="#1eff00"/><stop offset="0.24" stop-color="#00ff00"/><stop offset="0.29" stop-color="#00ff31"/><stop offset="0.33" stop-color="#00ff6a"/><stop offset="0.38" stop-color="#00ffa1"/><stop offset="0.43" stop-color="#00ffc6"/><stop offset="0.48" stop-color="#00ffe7"/><stop offset="0.52" stop-color="#00f8ff"/><stop offset="0.57" stop-color="#00deff"/><stop offset="0.62" stop-color="#00c4ff"/><stop offset="0.67" stop-color="#00abff"/><stop offset="0.71" stop-color="#0095ff"/><stop offset="0.76" stop-color="#007cff"/><stop offset="0.81" stop-color="#0064ff"/><stop offset="0.86" stop-color="#0b4aff"/><stop offset="0.9" stop-color="#1b2aff"/><stop offset="0.95" stop-color="#3010ff"/><stop offset="1" stop-color="#4700ff"/></linearGradient><linearGradient id="ga47" gradientUnits="userSpaceOnUse" x1="54.5" x2="275.5" y1="0" y2="0"><stop offset="0" stop-color="#a7fe00"/><stop offset="0.05" stop-color="#8aff00"/><stop offset="0.1" stop-color="#6cff00"/><stop offset="0.14" stop-color="#4eff00"/><stop offset="0.19" stop-color="#2fff00"/><stop offset="0.24" stop-color="#11ff00"/><stop offset="0.29" stop-color="#00ff21"/><stop offset="0.33" stop-color="#00ff5a"/><stop offset="0.38" stop-color="#00ff93"/><stop offset="0.43" stop-color="#00ffbb"/><stop offset="0.48" stop-color="#00ffdd"/><stop offset="0.52" stop-color="#00fffe"/><stop offset="0.57" stop-color="#00e5ff"/><stop offset="0.62" stop-color="#00cbff"/><stop offset="0.67" stop-color="#00b0ff"/><stop offset="0.71" stop-color="#0099ff"/><stop offset="0.76" stop-color="#0081ff"/><stop offset="0.81" stop-color="#0068ff"/><stop offset="0.86" stop-color="#094eff"/><stop offset="0.9" stop-color="#192dff"/><stop offset="0.95" stop-color="#2e12ff"/><stop offset="1" stop-color="#4500ff"/></linearGradient><linearGradient id="ga48" gradientUnits="userSpaceOnUse" x1="54.5" x2="275.5" y1="0" y2="0"><stop offset="0" stop-color="#a8fd00"/><stop offset="0.05" stop-color="#8cff00"/><stop offset="0.1" stop-color="#6eff00"/><stop offset="0.14" stop-color="#4fff00"/><stop offset="0.19" stop-color="#31ff00"/><stop offset="0.24" stop-color="#12ff00"/><stop offset="0.29" stop-color="#00ff20"/><stop offset="0.33" stop-color="#00ff59"/><stop offset="0.38" stop-color="#00ff92"/><stop offset="0.43" stop-color="#00ffba"/><stop offset="0.48" stop-color="#00ffdc"/><stop offset="0.52" stop-color="#00fffd"/><stop offset="0.57" stop-color="#00e6ff"/><stop offset="0.62" stop-color="#00ccff"/><stop offset="0.67" stop-color="#00b1ff"/><stop offset="0.71" stop-color="#009aff"/><stop offset="0.76" stop-color="#0081ff"/><stop offset="0.81" stop-color="#0069ff"/><stop offset="0.86" stop-color="#084fff"/><stop offset="0.9" stop-color="#192eff"/><stop offset="0.95" stop-color="#2d13ff"/><stop offset="1" stop-color="#4400ff"/></linearGradient><linearGradient id="ga49" gradientUnits="userSpaceOnUse" x1="54.5" x2="275.5" y1="0" y2="0"><stop offset="0" stop-color="#9bff00"/><stop offset="0.05" stop-color="#7dff00"/><stop offset="0.1" stop-color="#5eff00"/><stop offset="0.14" stop-color="#40ff00"/><stop offset="0.19" stop-color="#22ff00"/><stop offset="0.24" stop-color="#04ff00"/><stop offset="0.29" stop-color="#00ff2e"/><stop offset="0.33" stop-color="#00ff65"/><stop offset="0.38" stop-color="#00ff9d"/><stop offset="0.43" stop-color="#00ffc2"/><stop offset="0.48" stop-color="#00ffe3"/><stop offset="0.52" stop-color="#00fbff"/><stop offset="0.57" stop-color="#00e1ff"/><stop offset="0.62" stop-color="#00c7ff"/><stop offset="0.67" stop-color="#00adff"/><stop offset="0.71" stop-color="#0097ff"/><stop offset="0.76" stop-color="#007fff"/><stop offset="0.81" stop-color="#0066ff"/><stop offset="0.86" stop-color="#094dff"/><stop offset="0.9" stop-color="#1a2dff"/><stop offset="0.95" stop-color="#2d13ff"/><stop offset="1" stop-color="#4400ff"/></linearGradient><linearGradient id="ga50" gradientUnits="userSpaceOnUse" x1="54.5" x2="275.5" y1="0" y2="0"><stop offset="0" stop-color="#7bff00"/><stop offset="0.05" stop-color="#5dff00"/><stop offset="0.1" stop-color="#40ff00"/><stop offset="0.14" stop-color="#22ff00"/><stop offset="0.19" stop-color="#05ff00"/><stop offset="0.24" stop-color="#00ff19"/><stop offset="0.29" stop-color="#00ff49"/><stop offset="0.33" stop-color="#00ff7f"/><stop offset="0.38" stop-color="#00ffaf"/><stop offset="0.43" stop-color="#00ffd3"/><stop offset="0.48" stop-color="#00fff3"/><stop offset="0.52" stop-color="#00efff"/><stop offset="0.57" stop-color="#00d6ff"/><stop offset="0.62" stop-color="#00bdff"/><stop offset="0.67" stop-color="#00a5ff"/><stop offset="0.71" stop-color="#0090ff"/><stop offset="0.76" stop-color="#0078ff"/><stop offset="0.81" stop-color="#0060ff"/><stop offset="0.86" stop-color="#0c48ff"/><stop offset="0.9" stop-color="#1b29ff"/><stop offset="0.95" stop-color="#2f11ff"/><stop offset="1" stop-color="#4500ff"/></linearGradient><linearGradient id="ga51" gradientUnits="userSpaceOnUse" x1="54.5" x2="275.5" y1="0" y2="0"><stop offset="0" stop-color="#4dff00"/><stop offset="0.05" stop-color="#30ff00"/><stop offset="0.1" stop-color="#14ff00"/><stop offset="0.14" stop-color="#00ff09"/><stop offset="0.19" stop-color="#00ff25"/><stop offset="0.24" stop-color="#00ff42"/><stop offset="0.29" stop-color="#00ff6f"/><stop offset="0.33" stop-color="#00ffa2"/><stop offset="0.38" stop-color="#00ffc9"/><stop offset="0.43" stop-color="#00ffeb"/><stop offset="0.48" stop-color="#00f7ff"/><stop offset="0.52" stop-color="#00deff"/><stop offset="0.57" stop-color="#00c6ff"/><stop offset="0.62" stop-color="#00aeff"/><stop offset="0.67" stop-color="#009aff"/><stop offset="0.71" stop-color="#0085ff"/><stop offset="0.76" stop-color="#006fff"/><stop offset="0.81" stop-color="#0458ff"/><stop offset="0.86" stop-color="#0f41ff"/><stop offset="0.9" stop-color="#1e24ff"/><stop offset="0.95" stop-color="#320eff"/><stop offset="1" stop-color="#4700ff"/></linearGradient><linearGradient id="ga52" gradientUnits="userSpaceOnUse" x1="54.5" x2="275.5" y1="0" y2="0"><stop offset="0" stop-color="#13ff00"/><stop offset="0.05" stop-color="#00ff08"/><stop offset="0.1" stop-color="#00ff23"/><stop offset="0.14" stop-color="#00ff3e"/><stop offset="0.19" stop-color="#00ff59"/><stop offset="0.24" stop-color="#00ff74"/><stop offset="0.29" stop-color="#00ffa0"/><stop offset="0.33" stop-color="#00ffc4"/><stop offset="0.38" stop-color="#00ffe9"/><stop offset="0.43" stop-color="#00f7ff"/><stop offset="0.48" stop-color="#00e0ff"/><stop offset="0.52" stop-color="#00c9ff"/><stop offset="0.57" stop-color="#00b2ff"/><stop offset="0.62" stop-color="#009fff"/><stop offset="0.67" stop-color="#008cff"/><stop offset="0.71" stop-color="#0078ff"/><stop offset="0.76" stop-color="#0063ff"/><stop offset="0.81" stop-color="#094eff"/><stop offset="0.86" stop-color="#1438ff"/><stop offset="0.9" stop-color="#231dff"/><stop offset="0.95" stop-color="#360aff"/><stop offset="1" stop-color="#4a00ff"/></linearGradient><linearGradient id="ga53" gradientUnits="userSpaceOnUse" x1="54.5" x2="275.5" y1="0" y2="0"><stop offset="0" stop-color="#00ff2e"/><stop offset="0.05" stop-color="#00ff48"/><stop offset="0.1" stop-color="#00ff61"/><stop offset="0.14" stop-color="#00ff7b"/><stop offset="0.19" stop-color="#00ff95"/><stop offset="0.24" stop-color="#00ffab"/><stop offset="0.29" stop-color="#00ffc9"/><stop offset="0.33" stop-color="#00ffeb"/><stop offset="0.38" stop-color="#00f4ff"/><stop offset="0.43" stop-color="#00dcff"/><stop offset="0.48" stop-color="#00c7ff"/><stop offset="0.52" stop-color="#00b1ff"/><stop offset="0.57" stop-color="#009fff"/><stop offset="0.62" stop-color="#008dff"/><stop offset="0.67" stop-color="#007bff"/><stop offset="0.71" stop-color="#0069ff"/><stop offset="0.76" stop-color="#0555ff"/><stop offset="0.81" stop-color="#0f42ff"/><stop offset="0.86" stop-color="#192eff"/><stop offset="0.9" stop-color="#2818ff"/><stop offset="0.95" stop-color="#3a06ff"/><stop offset="1" stop-color="#4d00ff"/></linearGradient><linearGradient id="ga54" gradientUnits="userSpaceOnUse" x1="54.5" x2="275.5" y1="0" y2="0"><stop offset="0" stop-color="#00ff74"/><stop offset="0.05" stop-color="#00ff8c"/><stop offset="0.1" stop-color="#00ffa3"/><stop offset="0.14" stop-color="#00ffb6"/><stop offset="0.19" stop-color="#00ffc8"/><stop offset="0.24" stop-color="#00ffda"/><stop offset="0.29" stop-color="#00fff6"/><stop offset="0.33" stop-color="#00eeff"/><stop offset="0.38" stop-color="#00d5ff"/><stop offset="0.43" stop-color="#00bfff"/><stop offset="0.48" stop-color="#00acff"/><stop offset="0.52" stop-color="#009bff"/><stop offset="0.57" stop-color="#008bff"/><stop offset="0.62" stop-color="#007aff"/><stop offset="0.67" stop-color="#006aff"/><stop offset="0.71" stop-color="#0459ff"/><stop offset="0.76" stop-color="#0d47ff"/><stop offset="0.81" stop-color="#1535ff"/><stop offset="0.86" stop-color="#1f22ff"/><stop offset="0.9" stop-color="#2f11ff"/><stop offset="0.95" stop-color="#3f01ff"/><stop offset="1" stop-color="#5100ff"/></linearGradient><linearGradient id="ga55" gradientUnits="userSpaceOnUse" x1="54.5" x2="275.5" y1="0" y2="0"><stop offset="0" stop-color="#00ffb5"/><stop offset="0.05" stop-color="#00ffc6"/><stop offset="0.1" stop-color="#00ffd7"/><stop offset="0.14" stop-color="#00ffe8"/><stop offset="0.19" stop-color="#00fff9"/><stop offset="0.24" stop-color="#00f6ff"/><stop offset="0.29" stop-color="#00e2ff"/><stop offset="0.33" stop-color="#00cbff"/><stop offset="0.38" stop-color="#00b5ff"/><stop offset="0.43" stop-color="#00a3ff"/><stop offset="0.48" stop-color="#0094ff"/><stop offset="0.52" stop-color="#0085ff"/><stop offset="0.57" stop-color="#0076ff"/><stop offset="0.62" stop-color="#0067ff"/><stop offset="0.67" stop-color="#0458ff"/><stop offset="0.71" stop-color="#0c48ff"/><stop offset="0.76" stop-color="#1438ff"/><stop offset="0.81" stop-color="#1c28ff"/><stop offset="0.86" stop-color="#2719ff"/><stop offset="0.9" stop-color="#360aff"/><stop offset="0.95" stop-color="#4500ff"/><stop offset="1" stop-color="#5500ff"/></linearGradient><linearGradient id="ga56" gradientUnits="userSpaceOnUse" x1="54.5" x2="275.5" y1="0" y2="0"><stop offset="0" stop-color="#00ffea"/><stop offset="0.05" stop-color="#00fffa"/><stop offset="0.1" stop-color="#00f6ff"/><stop offset="0.14" stop-color="#00eaff"/><stop offset="0.19" stop-color="#00ddff"/><stop offset="0.24" stop-color="#00d0ff"/><stop offset="0.29" stop-color="#00beff"/><stop offset="0.33" stop-color="#00abff"/><stop offset="0.38" stop-color="#009aff"/><stop offset="0.43" stop-color="#008bff"/><stop offset="0.48" stop-color="#007dff"/><stop offset="0.52" stop-color="#006fff"/><stop offset="0.57" stop-color="#0061ff"/><stop offset="0.62" stop-color="#0654ff"/><stop offset="0.67" stop-color="#0d46ff"/><stop offset="0.71" stop-color="#1438ff"/><stop offset="0.76" stop-color="#1b29ff"/><stop offset="0.81" stop-color="#241cff"/><stop offset="0.86" stop-color="#2f11ff"/><stop offset="0.9" stop-color="#3c04ff"/><stop offset="0.95" stop-color="#4a00ff"/><stop offset="1" stop-color="#5900ff"/></linearGradient><linearGradient id="ga57" gradientUnits="userSpaceOnUse" x1="54.5" x2="275.5" y1="0" y2="0"><stop offset="0" stop-color="#00e7ff"/><stop offset="0.05" stop-color="#00dbff"/><stop offset="0.1" stop-color="#00d0ff"/><stop offset="0.14" stop-color="#00c4ff"/><stop offset="0.19" stop-color="#00b8ff"/><stop offset="0.24" stop-color="#00adff"/><stop offset="0.29" stop-color="#009fff"/><stop offset="0.33" stop-color="#0090ff"/><stop offset="0.38" stop-color="#0081ff"/><stop offset="0.43" stop-color="#0073ff"/><stop offset="0.48" stop-color="#0067ff"/><stop offset="0.52" stop-color="#035aff"/><stop offset="0.57" stop-color="#094eff"/><stop offset="0.62" stop-color="#0f42ff"/><stop offset="0.67" stop-color="#1535ff"/><stop offset="0.71" stop-color="#1c29ff"/><stop offset="0.76" stop-color="#231dff"/><stop offset="0.81" stop-color="#2d13ff"/><stop offset="0.86" stop-color="#3709ff"/><stop offset="0.9" stop-color="#4300ff"/><stop offset="0.95" stop-color="#4f00ff"/><stop offset="1" stop-color="#5c00ff"/></linearGradient><linearGradient id="ga58" gradientUnits="userSpaceOnUse" x1="54.5" x2="275.5" y1="0" y2="0"><stop offset="0" stop-color="#00c2ff"/><stop offset="0.05" stop-color="#00b7ff"/><stop offset="0.1" stop-color="#00acff"/><stop offset="0.14" stop-color="#00a3ff"/><stop offset="0.19" stop-color="#009aff"/><stop offset="0.24" stop-color="#0091ff"/><stop offset="0.29" stop-color="#0085ff"/><stop offset="0.33" stop-color="#0077ff"/><stop offset="0.38" stop-color="#006aff"/><stop offset="0.43" stop-color="#015eff"/><stop offset="0.48" stop-color="#0753ff"/><stop offset="0.52" stop-color="#0c47ff"/><stop offset="0.57" stop-color="#123cff"/><stop offset="0.62" stop-color="#1731ff"/><stop offset="0.67" stop-color="#1d26ff"/><stop offset="0.71" stop-color="#241cff"/><stop offset="0.76" stop-color="#2c14ff"/><stop offset="0.81" stop-color="#350bff"/><stop offset="0.86" stop-color="#3e02ff"/><stop offset="0.9" stop-color="#4900ff"/><stop offset="0.95" stop-color="#5400ff"/><stop offset="1" stop-color="#6000ff"/></linearGradient><linearGradient id="ga59" gradientUnits="userSpaceOnUse" x1="54.5" x2="275.5" y1="0" y2="0"><stop offset="0" stop-color="#00a3ff"/><stop offset="0.05" stop-color="#009aff"/><stop offset="0.1" stop-color="#0092ff"/><stop offset="0.14" stop-color="#0089ff"/><stop offset="0.19" stop-color="#0081ff"/><stop offset="0.24" stop-color="#0079ff"/><stop offset="0.29" stop-color="#006dff"/><stop offset="0.33" stop-color="#0061ff"/><stop offset="0.38" stop-color="#0555ff"/><stop offset="0.43" stop-color="#0b4bff"/><stop offset="0.48" stop-color="#1041ff"/><stop offset="0.52" stop-color="#1536ff"/><stop offset="0.57" stop-color="#1a2cff"/><stop offset="0.62" stop-color="#1f22ff"/><stop offset="0.67" stop-color="#261aff"/><stop offset="0.71" stop-color="#2d13ff"/><stop offset="0.76" stop-color="#350bff"/><stop offset="0.81" stop-color="#3c04ff"/><stop offset="0.86" stop-color="#4500ff"/><stop offset="0.9" stop-color="#4f00ff"/><stop offset="0.95" stop-color="#5900ff"/><stop offset="1" stop-color="#6300ff"/></linearGradient><linearGradient id="ga60" gradientUnits="userSpaceOnUse" x1="54.5" x2="275.5" y1="0" y2="0"><stop offset="0" stop-color="#008bff"/><stop offset="0.05" stop-color="#0083ff"/><stop offset="0.1" stop-color="#007bff"/><stop offset="0.14" stop-color="#0073ff"/><stop offset="0.19" stop-color="#006bff"/><stop offset="0.24" stop-color="#0063ff"/><stop offset="0.29" stop-color="#0459ff"/><stop offset="0.33" stop-color="#094eff"/><stop offset="0.38" stop-color="#0e44ff"/><stop offset="0.43" stop-color="#133aff"/><stop offset="0.48" stop-color="#1831ff"/><stop offset="0.52" stop-color="#1c28ff"/><stop offset="0.57" stop-color="#211fff"/><stop offset="0.62" stop-color="#2818ff"/><stop offset="0.67" stop-color="#2e12ff"/><stop offset="0.71" stop-color="#350bff"/><stop offset="0.76" stop-color="#3c04ff"/><stop offset="0.81" stop-color="#4300ff"/><stop offset="0.86" stop-color="#4b00ff"/><stop offset="0.9" stop-color="#5400ff"/><stop offset="0.95" stop-color="#5d00ff"/><stop offset="1" stop-color="#6500ff"/></linearGradient><linearGradient id="ga61" gradientUnits="userSpaceOnUse" x1="54.5" x2="275.5" y1="0" y2="0"><stop offset="0" stop-color="#0076ff"/><stop offset="0.05" stop-color="#006fff"/><stop offset="0.1" stop-color="#0067ff"/><stop offset="0.14" stop-color="#005fff"/><stop offset="0.19" stop-color="#0458ff"/><stop offset="0.24" stop-color="#0851ff"/><stop offset="0.29" stop-color="#0c48ff"/><stop offset="0.33" stop-color="#113eff"/><stop offset="0.38" stop-color="#1635ff"/><stop offset="0.43" stop-color="#1a2cff"/><stop offset="0.48" stop-color="#1e24ff"/><stop offset="0.52" stop-color="#231dff"/><stop offset="0.57" stop-color="#2917ff"/><stop offset="0.62" stop-color="#2f11ff"/><stop offset="0.67" stop-color="#350bff"/><stop offset="0.71" stop-color="#3c04ff"/><stop offset="0.76" stop-color="#4200ff"/><stop offset="0.81" stop-color="#4900ff"/><stop offset="0.86" stop-color="#5000ff"/><stop offset="0.9" stop-color="#5800ff"/><stop offset="0.95" stop-color="#6000ff"/><stop offset="1" stop-color="#6800ff"/></linearGradient><linearGradient id="ga62" gradientUnits="userSpaceOnUse" x1="54.5" x2="275.5" y1="0" y2="0"><stop offset="0" stop-color="#0065ff"/><stop offset="0.05" stop-color="#015eff"/><stop offset="0.1" stop-color="#0557ff"/><stop offset="0.14" stop-color="#0850ff"/><stop offset="0.19" stop-color="#0b49ff"/><stop offset="0.24" stop-color="#0f42ff"/><stop offset="0.29" stop-color="#133aff"/><stop offset="0.33" stop-color="#1731ff"/><stop offset="0.38" stop-color="#1c29ff"/><stop offset="0.43" stop-color="#2020ff"/><stop offset="0.48" stop-color="#251bff"/><stop offset="0.52" stop-color="#2b15ff"/><stop offset="0.57" stop-color="#3010ff"/><stop offset="0.62" stop-color="#360aff"/><stop offset="0.67" stop-color="#3b05ff"/><stop offset="0.71" stop-color="#4100ff"/><stop offset="0.76" stop-color="#4800ff"/><stop offset="0.81" stop-color="#4e00ff"/><stop offset="0.86" stop-color="#5400ff"/><stop offset="0.9" stop-color="#5b00ff"/><stop offset="0.95" stop-color="#6300ff"/><stop offset="1" stop-color="#6a00ff"/></linearGradient><linearGradient id="ga63" gradientUnits="userSpaceOnUse" x1="54.5" x2="275.5" y1="0" y2="0"><stop offset="0" stop-color="#0458ff"/><stop offset="0.05" stop-color="#0751ff"/><stop offset="0.1" stop-color="#0b4aff"/><stop offset="0.14" stop-color="#0e44ff"/><stop offset="0.19" stop-color="#123dff"/><stop offset="0.24" stop-color="#1536ff"/><stop offset="0.29" stop-color="#192fff"/><stop offset="0.33" stop-color="#1d27ff"/><stop offset="0.38" stop-color="#211fff"/><stop offset="0.43" stop-color="#261aff"/><stop offset="0.48" stop-color="#2b15ff"/><stop offset="0.52" stop-color="#310fff"/><stop offset="0.57" stop-color="#360aff"/><stop offset="0.62" stop-color="#3b05ff"/><stop offset="0.67" stop-color="#4000ff"/><stop offset="0.71" stop-color="#4600ff"/><stop offset="0.76" stop-color="#4c00ff"/><stop offset="0.81" stop-color="#5200ff"/><stop offset="0.86" stop-color="#5800ff"/><stop offset="0.9" stop-color="#5e00ff"/><stop offset="0.95" stop-color="#6500ff"/><stop offset="1" stop-color="#6b00ff"/></linearGradient><linearGradient id="ga64" gradientUnits="userSpaceOnUse" x1="54.5" x2="275.5" y1="0" y2="0"><stop offset="0" stop-color="#094eff"/><stop offset="0.05" stop-color="#0c48ff"/><stop offset="0.1" stop-color="#1041ff"/><stop offset="0.14" stop-color="#133aff"/><stop offset="0.19" stop-color="#1634ff"/><stop offset="0.24" stop-color="#192dff"/><stop offset="0.29" stop-color="#1d26ff"/><stop offset="0.33" stop-color="#211fff"/><stop offset="0.38" stop-color="#261aff"/><stop offset="0.43" stop-color="#2b15ff"/><stop offset="0.48" stop-color="#3010ff"/><stop offset="0.52" stop-color="#350bff"/><stop offset="0.57" stop-color="#3a06ff"/><stop offset="0.62" stop-color="#3f01ff"/><stop offset="0.67" stop-color="#4400ff"/><stop offset="0.71" stop-color="#4a00ff"/><stop offset="0.76" stop-color="#4f00ff"/><stop offset="0.81" stop-color="#5500ff"/><stop offset="0.86" stop-color="#5a00ff"/><stop offset="0.9" stop-color="#6000ff"/><stop offset="0.95" stop-color="#6700ff"/><stop offset="1" stop-color="#6d00ff"/></linearGradient><linearGradient id="ga65" gradientUnits="userSpaceOnUse" x1="54.5" x2="275.5" y1="0" y2="0"><stop offset="0" stop-color="#0c48ff"/><stop offset="0.05" stop-color="#0f42ff"/><stop offset="0.1" stop-color="#133bff"/><stop offset="0.14" stop-color="#1634ff"/><stop offset="0.19" stop-color="#192eff"/><stop offset="0.24" stop-color="#1c27ff"/><stop offset="0.29" stop-color="#2021ff"/><stop offset="0.33" stop-color="#241cff"/><stop offset="0.38" stop-color="#2917ff"/><stop offset="0.43" stop-color="#2e12ff"/><stop offset="0.48" stop-color="#330dff"/><stop offset="0.52" stop-color="#3808ff"/><stop offset="0.57" stop-color="#3c04ff"/><stop offset="0.62" stop-color="#4100ff"/><stop offset="0.67" stop-color="#4700ff"/><stop offset="0.71" stop-color="#4c00ff"/><stop offset="0.76" stop-color="#5100ff"/><stop offset="0.81" stop-color="#5700ff"/><stop offset="0.86" stop-color="#5c00ff"/><stop offset="0.9" stop-color="#6200ff"/><stop offset="0.95" stop-color="#6800ff"/><stop offset="1" stop-color="#6d00ff"/></linearGradient><linearGradient id="ga66" gradientUnits="userSpaceOnUse" x1="54.5" x2="275.5" y1="0" y2="0"><stop offset="0" stop-color="#0d46ff"/><stop offset="0.05" stop-color="#113fff"/><stop offset="0.1" stop-color="#1438ff"/><stop offset="0.14" stop-color="#1731ff"/><stop offset="0.19" stop-color="#1b2bff"/><stop offset="0.24" stop-color="#1e24ff"/><stop offset="0.29" stop-color="#221eff"/><stop offset="0.33" stop-color="#261aff"/><stop offset="0.38" stop-color="#2b15ff"/><stop offset="0.43" stop-color="#3010ff"/><stop offset="0.48" stop-color="#340cff"/><stop offset="0.52" stop-color="#3907ff"/><stop offset="0.57" stop-color="#3e02ff"/><stop offset="0.62" stop-color="#4300ff"/><stop offset="0.67" stop-color="#4800ff"/><stop offset="0.71" stop-color="#4d00ff"/><stop offset="0.76" stop-color="#5200ff"/><stop offset="0.81" stop-color="#5800ff"/><stop offset="0.86" stop-color="#5d00ff"/><stop offset="0.9" stop-color="#6200ff"/><stop offset="0.95" stop-color="#6800ff"/><stop offset="1" stop-color="#6e00ff"/></linearGradient><linearGradient id="ga67" gradientUnits="userSpaceOnUse" x1="54.5" x2="275.5" y1="0" y2="0"><stop offset="0" stop-color="#0d46ff"/><stop offset="0.05" stop-color="#113fff"/><stop offset="0.1" stop-color="#1437ff"/><stop offset="0.14" stop-color="#1831ff"/><stop offset="0.19" stop-color="#1b2aff"/><stop offset="0.24" stop-color="#1e24ff"/><stop offset="0.29" stop-color="#221eff"/><stop offset="0.33" stop-color="#261aff"/><stop offset="0.38" stop-color="#2b15ff"/><stop offset="0.43" stop-color="#2f11ff"/><stop offset="0.48" stop-color="#340cff"/><stop offset="0.52" stop-color="#3907ff"/><stop offset="0.57" stop-color="#3d03ff"/><stop offset="0.62" stop-color="#4200ff"/><stop offset="0.67" stop-color="#4800ff"/><stop offset="0.71" stop-color="#4d00ff"/><stop offset="0.76" stop-color="#5200ff"/><stop offset="0.81" stop-color="#5800ff"/><stop offset="0.86" stop-color="#5d00ff"/><stop offset="0.9" stop-color="#6200ff"/><stop offset="0.95" stop-color="#6800ff"/><stop offset="1" stop-color="#6e00ff"/></linearGradient><linearGradient id="ga68" gradientUnits="userSpaceOnUse" x1="54.5" x2="275.5" y1="0" y2="0"><stop offset="0" stop-color="#0c49ff"/><stop offset="0.05" stop-color="#0f41ff"/><stop offset="0.1" stop-color="#133aff"/><stop offset="0.14" stop-color="#1633ff"/><stop offset="0.19" stop-color="#1a2dff"/><stop offset="0.24" stop-color="#1d26ff"/><stop offset="0.29" stop-color="#2020ff"/><stop offset="0.33" stop-color="#251bff"/><stop offset="0.38" stop-color="#2917ff"/><stop offset="0.43" stop-color="#2e12ff"/><stop offset="0.48" stop-color="#320eff"/><stop offset="0.52" stop-color="#3709ff"/><stop offset="0.57" stop-color="#3c04ff"/><stop offset="0.62" stop-color="#4100ff"/><stop offset="0.67" stop-color="#4600ff"/><stop offset="0.71" stop-color="#4c00ff"/><stop offset="0.76" stop-color="#5100ff"/><stop offset="0.81" stop-color="#5700ff"/><stop offset="0.86" stop-color="#5c00ff"/><stop offset="0.9" stop-color="#6200ff"/><stop offset="0.95" stop-color="#6800ff"/><stop offset="1" stop-color="#6d00ff"/></linearGradient><linearGradient id="ga69" gradientUnits="userSpaceOnUse" x1="54.5" x2="275.5" y1="0" y2="0"><stop offset="0" stop-color="#094fff"/><stop offset="0.05" stop-color="#0d47ff"/><stop offset="0.1" stop-color="#113fff"/><stop offset="0.14" stop-color="#1438ff"/><stop offset="0.19" stop-color="#1831ff"/><stop offset="0.24" stop-color="#1b2aff"/><stop offset="0.29" stop-color="#1e24ff"/><stop offset="0.33" stop-color="#221eff"/><stop offset="0.38" stop-color="#2719ff"/><stop offset="0.43" stop-color="#2b15ff"/><stop offset="0.48" stop-color="#3010ff"/><stop offset="0.52" stop-color="#350bff"/><stop offset="0.57" stop-color="#3a06ff"/><stop offset="0.62" stop-color="#3f01ff"/><stop offset="0.67" stop-color="#4400ff"/><stop offset="0.71" stop-color="#4a00ff"/><stop offset="0.76" stop-color="#4f00ff"/><stop offset="0.81" stop-color="#5500ff"/><stop offset="0.86" stop-color="#5b00ff"/><stop offset="0.9" stop-color="#6100ff"/><stop offset="0.95" stop-color="#6700ff"/><stop offset="1" stop-color="#6c00ff"/></linearGradient><linearGradient id="ga70" gradientUnits="userSpaceOnUse" x1="54.5" x2="275.5" y1="0" y2="0"><stop offset="0" stop-color="#0557ff"/><stop offset="0.05" stop-color="#094eff"/><stop offset="0.1" stop-color="#0d46ff"/><stop offset="0.14" stop-color="#113eff"/><stop offset="0.19" stop-color="#1437ff"/><stop offset="0.24" stop-color="#1831ff"/><stop offset="0.29" stop-color="#1b2aff"/><stop offset="0.33" stop-color="#1e23ff"/><stop offset="0.38" stop-color="#231dff"/><stop offset="0.43" stop-color="#2719ff"/><stop offset="0.48" stop-color="#2c14ff"/><stop offset="0.52" stop-color="#310fff"/><stop offset="0.57" stop-color="#360aff"/><stop offset="0.62" stop-color="#3c04ff"/><stop offset="0.67" stop-color="#4100ff"/><stop offset="0.71" stop-color="#4700ff"/><stop offset="0.76" stop-color="#4d00ff"/><stop offset="0.81" stop-color="#5300ff"/><stop offset="0.86" stop-color="#5900ff"/><stop offset="0.9" stop-color="#5f00ff"/><stop offset="0.95" stop-color="#6500ff"/><stop offset="1" stop-color="#6b00ff"/></linearGradient><linearGradient id="ga71" gradientUnits="userSpaceOnUse" x1="54.5" x2="275.5" y1="0" y2="0"><stop offset="0" stop-color="#0062ff"/><stop offset="0.05" stop-color="#0458ff"/><stop offset="0.1" stop-color="#094fff"/><stop offset="0.14" stop-color="#0c47ff"/><stop offset="0.19" stop-color="#1040ff"/><stop offset="0.24" stop-color="#1439ff"/><stop offset="0.29" stop-color="#1732ff"/><stop offset="0.33" stop-color="#1b2bff"/><stop offset="0.38" stop-color="#1e24ff"/><stop offset="0.43" stop-color="#221eff"/><stop offset="0.48" stop-color="#2719ff"/><stop offset="0.52" stop-color="#2c14ff"/><stop offset="0.57" stop-color="#320eff"/><stop offset="0.62" stop-color="#3709ff"/><stop offset="0.67" stop-color="#3d03ff"/><stop offset="0.71" stop-color="#4300ff"/><stop offset="0.76" stop-color="#4900ff"/><stop offset="0.81" stop-color="#5000ff"/><stop offset="0.86" stop-color="#5600ff"/><stop offset="0.9" stop-color="#5d00ff"/><stop offset="0.95" stop-color="#6300ff"/><stop offset="1" stop-color="#6a00ff"/></linearGradient><linearGradient id="ga72" gradientUnits="userSpaceOnUse" x1="54.5" x2="275.5" y1="0" y2="0"><stop offset="0" stop-color="#006fff"/><stop offset="0.05" stop-color="#0064ff"/><stop offset="0.1" stop-color="#035aff"/><stop offset="0.14" stop-color="#0752ff"/><stop offset="0.19" stop-color="#0b4aff"/><stop offset="0.24" stop-color="#0f43ff"/><stop offset="0.29" stop-color="#123bff"/><stop offset="0.33" stop-color="#1634ff"/><stop offset="0.38" stop-color="#192dff"/><stop offset="0.43" stop-color="#1d26ff"/><stop offset="0.48" stop-color="#211fff"/><stop offset="0.52" stop-color="#261aff"/><stop offset="0.57" stop-color="#2c14ff"/><stop offset="0.62" stop-color="#320eff"/><stop offset="0.67" stop-color="#3808ff"/><stop offset="0.71" stop-color="#3f01ff"/><stop offset="0.76" stop-color="#4500ff"/><stop offset="0.81" stop-color="#4c00ff"/><stop offset="0.86" stop-color="#5300ff"/><stop offset="0.9" stop-color="#5a00ff"/><stop offset="0.95" stop-color="#6100ff"/><stop offset="1" stop-color="#6800ff"/></linearGradient><linearGradient id="ga73" gradientUnits="userSpaceOnUse" x1="54.5" x2="275.5" y1="0" y2="0"><stop offset="0" stop-color="#007eff"/><stop offset="0.05" stop-color="#0072ff"/><stop offset="0.1" stop-color="#0067ff"/><stop offset="0.14" stop-color="#015eff"/><stop offset="0.19" stop-color="#0556ff"/><stop offset="0.24" stop-color="#094eff"/><stop offset="0.29" stop-color="#0d47ff"/><stop offset="0.33" stop-color="#103fff"/><stop offset="0.38" stop-color="#1438ff"/><stop offset="0.43" stop-color="#1830ff"/><stop offset="0.48" stop-color="#1c29ff"/><stop offset="0.52" stop-color="#2021ff"/><stop offset="0.57" stop-color="#261aff"/><stop offset="0.62" stop-color="#2d13ff"/><stop offset="0.67" stop-color="#330dff"/><stop offset="0.71" stop-color="#3a06ff"/><stop offset="0.76" stop-color="#4000ff"/><stop offset="0.81" stop-color="#4800ff"/><stop offset="0.86" stop-color="#4f00ff"/><stop offset="0.9" stop-color="#5700ff"/><stop offset="0.95" stop-color="#5e00ff"/><stop offset="1" stop-color="#6600ff"/></linearGradient><linearGradient id="ga74" gradientUnits="userSpaceOnUse" x1="54.5" x2="275.5" y1="0" y2="0"><stop offset="0" stop-color="#008fff"/><stop offset="0.05" stop-color="#0082ff"/><stop offset="0.1" stop-color="#0076ff"/><stop offset="0.14" stop-color="#006dff"/><stop offset="0.19" stop-color="#0064ff"/><stop offset="0.24" stop-color="#035bff"/><stop offset="0.29" stop-color="#0753ff"/><stop offset="0.33" stop-color="#0a4bff"/><stop offset="0.38" stop-color="#0e44ff"/><stop offset="0.43" stop-color="#123cff"/><stop offset="0.48" stop-color="#1634ff"/><stop offset="0.52" stop-color="#1a2bff"/><stop offset="0.57" stop-color="#1f21ff"/><stop offset="0.62" stop-color="#261aff"/><stop offset="0.67" stop-color="#2d13ff"/><stop offset="0.71" stop-color="#340cff"/><stop offset="0.76" stop-color="#3b05ff"/><stop offset="0.81" stop-color="#4300ff"/><stop offset="0.86" stop-color="#4b00ff"/><stop offset="0.9" stop-color="#5300ff"/><stop offset="0.95" stop-color="#5b00ff"/><stop offset="1" stop-color="#6400ff"/></linearGradient><linearGradient id="ga75" gradientUnits="userSpaceOnUse" x1="54.5" x2="275.5" y1="0" y2="0"><stop offset="0" stop-color="#00a1ff"/><stop offset="0.05" stop-color="#0093ff"/><stop offset="0.1" stop-color="#0086ff"/><stop offset="0.14" stop-color="#007cff"/><stop offset="0.19" stop-color="#0072ff"/><stop offset="0.24" stop-color="#0069ff"/><stop offset="0.29" stop-color="#0060ff"/><stop offset="0.33" stop-color="#0458ff"/><stop offset="0.38" stop-color="#0850ff"/><stop offset="0.43" stop-color="#0c48ff"/><stop offset="0.48" stop-color="#1040ff"/><stop offset="0.52" stop-color="#1537ff"/><stop offset="0.57" stop-color="#1a2cff"/><stop offset="0.62" stop-color="#1f21ff"/><stop offset="0.67" stop-color="#2719ff"/><stop offset="0.71" stop-color="#2e12ff"/><stop offset="0.76" stop-color="#360aff"/><stop offset="0.81" stop-color="#3e02ff"/><stop offset="0.86" stop-color="#4700ff"/><stop offset="0.9" stop-color="#5000ff"/><stop offset="0.95" stop-color="#5800ff"/><stop offset="1" stop-color="#6100ff"/></linearGradient><linearGradient id="ga76" gradientUnits="userSpaceOnUse" x1="54.5" x2="275.5" y1="0" y2="0"><stop offset="0" stop-color="#00b5ff"/><stop offset="0.05" stop-color="#00a5ff"/><stop offset="0.1" stop-color="#0096ff"/><stop offset="0.14" stop-color="#008cff"/><stop offset="0.19" stop-color="#0082ff"/><stop offset="0.24" stop-color="#0078ff"/><stop offset="0.29" stop-color="#006fff"/><stop offset="0.33" stop-color="#0066ff"/><stop offset="0.38" stop-color="#015dff"/><stop offset="0.43" stop-color="#0655ff"/><stop offset="0.48" stop-color="#0a4cff"/><stop offset="0.52" stop-color="#0f42ff"/><stop offset="0.57" stop-color="#1537ff"/><stop offset="0.62" stop-color="#1a2bff"/><stop offset="0.67" stop-color="#2020ff"/><stop offset="0.71" stop-color="#2818ff"/><stop offset="0.76" stop-color="#310fff"/><stop offset="0.81" stop-color="#3907ff"/><stop offset="0.86" stop-color="#4200ff"/><stop offset="0.9" stop-color="#4c00ff"/><stop offset="0.95" stop-color="#5500ff"/><stop offset="1" stop-color="#5f00ff"/></linearGradient><linearGradient id="ga77" gradientUnits="userSpaceOnUse" x1="54.5" x2="275.5" y1="0" y2="0"><stop offset="0" stop-color="#00ccff"/><stop offset="0.05" stop-color="#00b8ff"/><stop offset="0.1" stop-color="#00a7ff"/><stop offset="0.14" stop-color="#009cff"/><stop offset="0.19" stop-color="#0091ff"/><stop offset="0.24" stop-color="#0087ff"/><stop offset="0.29" stop-color="#007dff"/><stop offset="0.33" stop-color="#0074ff"/><stop offset="0.38" stop-color="#006bff"/><stop offset="0.43" stop-color="#0062ff"/><stop offset="0.48" stop-color="#0359ff"/><stop offset="0.52" stop-color="#094eff"/><stop offset="0.57" stop-color="#0f42ff"/><stop offset="0.62" stop-color="#1536ff"/><stop offset="0.67" stop-color="#1b29ff"/><stop offset="0.71" stop-color="#221eff"/><stop offset="0.76" stop-color="#2b15ff"/><stop offset="0.81" stop-color="#340cff"/><stop offset="0.86" stop-color="#3e02ff"/><stop offset="0.9" stop-color="#4800ff"/><stop offset="0.95" stop-color="#5200ff"/><stop offset="1" stop-color="#5c00ff"/></linearGradient><linearGradient id="ga78" gradientUnits="userSpaceOnUse" x1="54.5" x2="275.5" y1="0" y2="0"><stop offset="0" stop-color="#00e2ff"/><stop offset="0.05" stop-color="#00ceff"/><stop offset="0.1" stop-color="#00b9ff"/><stop offset="0.14" stop-color="#00acff"/><stop offset="0.19" stop-color="#00a1ff"/><stop offset="0.24" stop-color="#0095ff"/><stop offset="0.29" stop-color="#008cff"/><stop offset="0.33" stop-color="#0082ff"/><stop offset="0.38" stop-color="#0078ff"/><stop offset="0.43" stop-color="#006fff"/><stop offset="0.48" stop-color="#0065ff"/><stop offset="0.52" stop-color="#035aff"/><stop offset="0.57" stop-color="#094dff"/><stop offset="0.62" stop-color="#1040ff"/><stop offset="0.67" stop-color="#1733ff"/><stop offset="0.71" stop-color="#1d26ff"/><stop offset="0.76" stop-color="#251bff"/><stop offset="0.81" stop-color="#2f11ff"/><stop offset="0.86" stop-color="#3a06ff"/><stop offset="0.9" stop-color="#4400ff"/><stop offset="0.95" stop-color="#4f00ff"/><stop offset="1" stop-color="#5900ff"/></linearGradient><linearGradient id="ga79" gradientUnits="userSpaceOnUse" x1="54.5" x2="275.5" y1="0" y2="0"><stop offset="0" stop-color="#00f8ff"/><stop offset="0.05" stop-color="#00e2ff"/><stop offset="0.1" stop-color="#00ccff"/><stop offset="0.14" stop-color="#00bdff"/><stop offset="0.19" stop-color="#00afff"/><stop offset="0.24" stop-color="#00a3ff"/><stop offset="0.29" stop-color="#0099ff"/><stop offset="0.33" stop-color="#008fff"/><stop offset="0.38" stop-color="#0085ff"/><stop offset="0.43" stop-color="#007bff"/><stop offset="0.48" stop-color="#0071ff"/><stop offset="0.52" stop-color="#0065ff"/><stop offset="0.57" stop-color="#0457ff"/><stop offset="0.62" stop-color="#0b49ff"/><stop offset="0.67" stop-color="#123cff"/><stop offset="0.71" stop-color="#192eff"/><stop offset="0.76" stop-color="#2020ff"/><stop offset="0.81" stop-color="#2b15ff"/><stop offset="0.86" stop-color="#360aff"/><stop offset="0.9" stop-color="#4000ff"/><stop offset="0.95" stop-color="#4c00ff"/><stop offset="1" stop-color="#5700ff"/></linearGradient><linearGradient id="ga80" gradientUnits="userSpaceOnUse" x1="54.5" x2="275.5" y1="0" y2="0"><stop offset="0" stop-color="#00fff0"/><stop offset="0.05" stop-color="#00f4ff"/><stop offset="0.1" stop-color="#00dcff"/><stop offset="0.14" stop-color="#00cdff"/><stop offset="0.19" stop-color="#00beff"/><stop offset="0.24" stop-color="#00b0ff"/><stop offset="0.29" stop-color="#00a5ff"/><stop offset="0.33" stop-color="#009bff"/><stop offset="0.38" stop-color="#0090ff"/><stop offset="0.43" stop-color="#0086ff"/><stop offset="0.48" stop-color="#007cff"/><stop offset="0.52" stop-color="#006fff"/><stop offset="0.57" stop-color="#0061ff"/><stop offset="0.62" stop-color="#0752ff"/><stop offset="0.67" stop-color="#0e44ff"/><stop offset="0.71" stop-color="#1535ff"/><stop offset="0.76" stop-color="#1d26ff"/><stop offset="0.81" stop-color="#2719ff"/><stop offset="0.86" stop-color="#320eff"/><stop offset="0.9" stop-color="#3d03ff"/><stop offset="0.95" stop-color="#4900ff"/><stop offset="1" stop-color="#5500ff"/></linearGradient><linearGradient id="ga81" gradientUnits="userSpaceOnUse" x1="54.5" x2="275.5" y1="0" y2="0"><stop offset="0" stop-color="#00ffdc"/><stop offset="0.05" stop-color="#00fffa"/><stop offset="0.1" stop-color="#00ebff"/><stop offset="0.14" stop-color="#00daff"/><stop offset="0.19" stop-color="#00cbff"/><stop offset="0.24" stop-color="#00bcff"/><stop offset="0.29" stop-color="#00afff"/><stop offset="0.33" stop-color="#00a5ff"/><stop offset="0.38" stop-color="#009aff"/><stop offset="0.43" stop-color="#0090ff"/><stop offset="0.48" stop-color="#0085ff"/><stop offset="0.52" stop-color="#0078ff"/><stop offset="0.57" stop-color="#0069ff"/><stop offset="0.62" stop-color="#0359ff"/><stop offset="0.67" stop-color="#0b4aff"/><stop offset="0.71" stop-color="#123bff"/><stop offset="0.76" stop-color="#1a2cff"/><stop offset="0.81" stop-color="#231dff"/><stop offset="0.86" stop-color="#2f11ff"/><stop offset="0.9" stop-color="#3b05ff"/><stop offset="0.95" stop-color="#4700ff"/><stop offset="1" stop-color="#5300ff"/></linearGradient><linearGradient id="ga82" gradientUnits="userSpaceOnUse" x1="54.5" x2="275.5" y1="0" y2="0"><stop offset="0" stop-color="#00ffcc"/><stop offset="0.05" stop-color="#00ffeb"/><stop offset="0.1" stop-color="#00f5ff"/><stop offset="0.14" stop-color="#00e5ff"/><stop offset="0.19" stop-color="#00d6ff"/><stop offset="0.24" stop-color="#00c6ff"/><stop offset="0.29" stop-color="#00b8ff"/><stop offset="0.33" stop-color="#00acff"/><stop offset="0.38" stop-color="#00a1ff"/><stop offset="0.43" stop-color="#0097ff"/><stop offset="0.48" stop-color="#008cff"/><stop offset="0.52" stop-color="#007fff"/><stop offset="0.57" stop-color="#006fff"/><stop offset="0.62" stop-color="#015fff"/><stop offset="0.67" stop-color="#084fff"/><stop offset="0.71" stop-color="#1040ff"/><stop offset="0.76" stop-color="#1830ff"/><stop offset="0.81" stop-color="#211fff"/><stop offset="0.86" stop-color="#2d13ff"/><stop offset="0.9" stop-color="#3907ff"/><stop offset="0.95" stop-color="#4500ff"/><stop offset="1" stop-color="#5200ff"/></linearGradient><linearGradient id="ga83" gradientUnits="userSpaceOnUse" x1="54.5" x2="275.5" y1="0" y2="0"><stop offset="0" stop-color="#00ffc1"/><stop offset="0.05" stop-color="#00ffe2"/><stop offset="0.1" stop-color="#00fdff"/><stop offset="0.14" stop-color="#00ecff"/><stop offset="0.19" stop-color="#00dcff"/><stop offset="0.24" stop-color="#00cdff"/><stop offset="0.29" stop-color="#00bfff"/><stop offset="0.33" stop-color="#00b1ff"/><stop offset="0.38" stop-color="#00a6ff"/><stop offset="0.43" stop-color="#009bff"/><stop offset="0.48" stop-color="#0091ff"/><stop offset="0.52" stop-color="#0083ff"/><stop offset="0.57" stop-color="#0073ff"/><stop offset="0.62" stop-color="#0063ff"/><stop offset="0.67" stop-color="#0753ff"/><stop offset="0.71" stop-color="#0e43ff"/><stop offset="0.76" stop-color="#1733ff"/><stop offset="0.81" stop-color="#1f22ff"/><stop offset="0.86" stop-color="#2b15ff"/><stop offset="0.9" stop-color="#3709ff"/><stop offset="0.95" stop-color="#4400ff"/><stop offset="1" stop-color="#5100ff"/></linearGradient><linearGradient id="ga84" gradientUnits="userSpaceOnUse" x1="54.5" x2="275.5" y1="0" y2="0"><stop offset="0" stop-color="#00ffbd"/><stop offset="0.05" stop-color="#00ffdd"/><stop offset="0.1" stop-color="#00fffe"/><stop offset="0.14" stop-color="#00efff"/><stop offset="0.19" stop-color="#00dfff"/><stop offset="0.24" stop-color="#00cfff"/><stop offset="0.29" stop-color="#00c1ff"/><stop offset="0.33" stop-color="#00b4ff"/><stop offset="0.38" stop-color="#00a8ff"/><stop offset="0.43" stop-color="#009dff"/><stop offset="0.48" stop-color="#0093ff"/><stop offset="0.52" stop-color="#0085ff"/><stop offset="0.57" stop-color="#0075ff"/><stop offset="0.62" stop-color="#0064ff"/><stop offset="0.67" stop-color="#0654ff"/><stop offset="0.71" stop-color="#0e45ff"/><stop offset="0.76" stop-color="#1634ff"/><stop offset="0.81" stop-color="#1f23ff"/><stop offset="0.86" stop-color="#2a16ff"/><stop offset="0.9" stop-color="#3709ff"/><stop offset="0.95" stop-color="#4300ff"/><stop offset="1" stop-color="#5000ff"/></linearGradient><linearGradient id="ga85" gradientUnits="userSpaceOnUse" x1="54.5" x2="275.5" y1="0" y2="0"><stop offset="0" stop-color="#00ffbe"/><stop offset="0.05" stop-color="#00ffde"/><stop offset="0.1" stop-color="#00ffff"/><stop offset="0.14" stop-color="#00eeff"/><stop offset="0.19" stop-color="#00dfff"/><stop offset="0.24" stop-color="#00cfff"/><stop offset="0.29" stop-color="#00c1ff"/><stop offset="0.33" stop-color="#00b4ff"/><stop offset="0.38" stop-color="#00a8ff"/><stop offset="0.43" stop-color="#009dff"/><stop offset="0.48" stop-color="#0092ff"/><stop offset="0.52" stop-color="#0085ff"/><stop offset="0.57" stop-color="#0074ff"/><stop offset="0.62" stop-color="#0064ff"/><stop offset="0.67" stop-color="#0654ff"/><stop offset="0.71" stop-color="#0e44ff"/><stop offset="0.76" stop-color="#1634ff"/><stop offset="0.81" stop-color="#1f22ff"/><stop offset="0.86" stop-color="#2b15ff"/><stop offset="0.9" stop-color="#3709ff"/><stop offset="0.95" stop-color="#4300ff"/><stop offset="1" stop-color="#5100ff"/></linearGradient><linearGradient id="ga86" gradientUnits="userSpaceOnUse" x1="54.5" x2="275.5" y1="0" y2="0"><stop offset="0" stop-color="#00ffc3"/><stop offset="0.05" stop-color="#00ffe3"/><stop offset="0.1" stop-color="#00fcff"/><stop offset="0.14" stop-color="#00ebff"/><stop offset="0.19" stop-color="#00dbff"/><stop offset="0.24" stop-color="#00ccff"/><stop offset="0.29" stop-color="#00beff"/><stop offset="0.33" stop-color="#00b1ff"/><stop offset="0.38" stop-color="#00a6ff"/><stop offset="0.43" stop-color="#009bff"/><stop offset="0.48" stop-color="#0090ff"/><stop offset="0.52" stop-color="#0083ff"/><stop offset="0.57" stop-color="#0072ff"/><stop offset="0.62" stop-color="#0062ff"/><stop offset="0.67" stop-color="#0752ff"/><stop offset="0.71" stop-color="#0f43ff"/><stop offset="0.76" stop-color="#1733ff"/><stop offset="0.81" stop-color="#1f21ff"/><stop offset="0.86" stop-color="#2b15ff"/><stop offset="0.9" stop-color="#3709ff"/><stop offset="0.95" stop-color="#4400ff"/><stop offset="1" stop-color="#5100ff"/></linearGradient><linearGradient id="ga87" gradientUnits="userSpaceOnUse" x1="54.5" x2="275.5" y1="0" y2="0"><stop offset="0" stop-color="#00ffcb"/><stop offset="0.05" stop-color="#00ffeb"/><stop offset="0.1" stop-color="#00f6ff"/><stop offset="0.14" stop-color="#00e5ff"/><stop offset="0.19" stop-color="#00d6ff"/><stop offset="0.24" stop-color="#00c6ff"/><stop offset="0.29" stop-color="#00b9ff"/><stop offset="0.33" stop-color="#00acff"/><stop offset="0.38" stop-color="#00a2ff"/><stop offset="0.43" stop-color="#0097ff"/><stop offset="0.48" stop-color="#008cff"/><stop offset="0.52" stop-color="#007fff"/><stop offset="0.57" stop-color="#006fff"/><stop offset="0.62" stop-color="#005fff"/><stop offset="0.67" stop-color="#0850ff"/><stop offset="0.71" stop-color="#1040ff"/><stop offset="0.76" stop-color="#1830ff"/><stop offset="0.81" stop-color="#211fff"/><stop offset="0.86" stop-color="#2d13ff"/><stop offset="0.9" stop-color="#3907ff"/><stop offset="0.95" stop-color="#4500ff"/><stop offset="1" stop-color="#5200ff"/></linearGradient><linearGradient id="ga88" gradientUnits="userSpaceOnUse" x1="54.5" x2="275.5" y1="0" y2="0"><stop offset="0" stop-color="#00ffd7"/><stop offset="0.05" stop-color="#00fff6"/><stop offset="0.1" stop-color="#00eeff"/><stop offset="0.14" stop-color="#00ddff"/><stop offset="0.19" stop-color="#00ceff"/><stop offset="0.24" stop-color="#00bfff"/><stop offset="0.29" stop-color="#00b2ff"/><stop offset="0.33" stop-color="#00a7ff"/><stop offset="0.38" stop-color="#009cff"/><stop offset="0.43" stop-color="#0092ff"/><stop offset="0.48" stop-color="#0087ff"/><stop offset="0.52" stop-color="#007aff"/><stop offset="0.57" stop-color="#006aff"/><stop offset="0.62" stop-color="#035bff"/><stop offset="0.67" stop-color="#0a4cff"/><stop offset="0.71" stop-color="#123dff"/><stop offset="0.76" stop-color="#192dff"/><stop offset="0.81" stop-color="#231dff"/><stop offset="0.86" stop-color="#2e12ff"/><stop offset="0.9" stop-color="#3a06ff"/><stop offset="0.95" stop-color="#4600ff"/><stop offset="1" stop-color="#5300ff"/></linearGradient><linearGradient id="ga89" gradientUnits="userSpaceOnUse" x1="54.5" x2="275.5" y1="0" y2="0"><stop offset="0" stop-color="#00ffe6"/><stop offset="0.05" stop-color="#00fbff"/><stop offset="0.1" stop-color="#00e3ff"/><stop offset="0.14" stop-color="#00d3ff"/><stop offset="0.19" stop-color="#00c4ff"/><stop offset="0.24" stop-color="#00b6ff"/><stop offset="0.29" stop-color="#00aaff"/><stop offset="0.33" stop-color="#009fff"/><stop offset="0.38" stop-color="#0095ff"/><stop offset="0.43" stop-color="#008bff"/><stop offset="0.48" stop-color="#0080ff"/><stop offset="0.52" stop-color="#0074ff"/><stop offset="0.57" stop-color="#0064ff"/><stop offset="0.62" stop-color="#0555ff"/><stop offset="0.67" stop-color="#0d47ff"/><stop offset="0.71" stop-color="#1438ff"/><stop offset="0.76" stop-color="#1c29ff"/><stop offset="0.81" stop-color="#251bff"/><stop offset="0.86" stop-color="#310fff"/><stop offset="0.9" stop-color="#3c04ff"/><stop offset="0.95" stop-color="#4800ff"/><stop offset="1" stop-color="#5400ff"/></linearGradient><linearGradient id="ga90" gradientUnits="userSpaceOnUse" x1="54.5" x2="275.5" y1="0" y2="0"><stop offset="0" stop-color="#00fff8"/><stop offset="0.05" stop-color="#00eeff"/><stop offset="0.1" stop-color="#00d7ff"/><stop offset="0.14" stop-color="#00c7ff"/><stop offset="0.19" stop-color="#00b9ff"/><stop offset="0.24" stop-color="#00abff"/><stop offset="0.29" stop-color="#00a1ff"/><stop offset="0.33" stop-color="#0097ff"/><stop offset="0.38" stop-color="#008dff"/><stop offset="0.43" stop-color="#0083ff"/><stop offset="0.48" stop-color="#0078ff"/><stop offset="0.52" stop-color="#006cff"/><stop offset="0.57" stop-color="#015dff"/><stop offset="0.62" stop-color="#084fff"/><stop offset="0.67" stop-color="#1041ff"/><stop offset="0.71" stop-color="#1733ff"/><stop offset="0.76" stop-color="#1e24ff"/><stop offset="0.81" stop-color="#2818ff"/><stop offset="0.86" stop-color="#330dff"/><stop offset="0.9" stop-color="#3e02ff"/><stop offset="0.95" stop-color="#4a00ff"/><stop offset="1" stop-color="#5600ff"/></linearGradient><linearGradient id="ga91" gradientUnits="userSpaceOnUse" x1="54.5" x2="275.5" y1="0" y2="0"><stop offset="0" stop-color="#00f5ff"/><stop offset="0.05" stop-color="#00dfff"/><stop offset="0.1" stop-color="#00c9ff"/><stop offset="0.14" stop-color="#00baff"/><stop offset="0.19" stop-color="#00adff"/><stop offset="0.24" stop-color="#00a1ff"/><stop offset="0.29" stop-color="#0097ff"/><stop offset="0.33" stop-color="#008dff"/><stop offset="0.38" stop-color="#0083ff"/><stop offset="0.43" stop-color="#0079ff"/><stop offset="0.48" stop-color="#0070ff"/><stop offset="0.52" stop-color="#0064ff"/><stop offset="0.57" stop-color="#0556ff"/><stop offset="0.62" stop-color="#0c48ff"/><stop offset="0.67" stop-color="#133aff"/><stop offset="0.71" stop-color="#1a2dff"/><stop offset="0.76" stop-color="#211fff"/><stop offset="0.81" stop-color="#2c14ff"/><stop offset="0.86" stop-color="#360aff"/><stop offset="0.9" stop-color="#4100ff"/><stop offset="0.95" stop-color="#4c00ff"/><stop offset="1" stop-color="#5700ff"/></linearGradient><linearGradient id="ga92" gradientUnits="userSpaceOnUse" x1="54.5" x2="275.5" y1="0" y2="0"><stop offset="0" stop-color="#00e3ff"/><stop offset="0.05" stop-color="#00cfff"/><stop offset="0.1" stop-color="#00baff"/><stop offset="0.14" stop-color="#00acff"/><stop offset="0.19" stop-color="#00a1ff"/><stop offset="0.24" stop-color="#0096ff"/><stop offset="0.29" stop-color="#008cff"/><stop offset="0.33" stop-color="#0083ff"/><stop offset="0.38" stop-color="#0079ff"/><stop offset="0.43" stop-color="#0070ff"/><stop offset="0.48" stop-color="#0066ff"/><stop offset="0.52" stop-color="#035bff"/><stop offset="0.57" stop-color="#094dff"/><stop offset="0.62" stop-color="#1040ff"/><stop offset="0.67" stop-color="#1633ff"/><stop offset="0.71" stop-color="#1d26ff"/><stop offset="0.76" stop-color="#251bff"/><stop offset="0.81" stop-color="#2f11ff"/><stop offset="0.86" stop-color="#3907ff"/><stop offset="0.9" stop-color="#4400ff"/><stop offset="0.95" stop-color="#4f00ff"/><stop offset="1" stop-color="#5900ff"/></linearGradient><linearGradient id="ga93" gradientUnits="userSpaceOnUse" x1="54.5" x2="275.5" y1="0" y2="0"><stop offset="0" stop-color="#00d1ff"/><stop offset="0.05" stop-color="#00beff"/><stop offset="0.1" stop-color="#00abff"/><stop offset="0.14" stop-color="#00a0ff"/><stop offset="0.19" stop-color="#0095ff"/><stop offset="0.24" stop-color="#008aff"/><stop offset="0.29" stop-color="#0081ff"/><stop offset="0.33" stop-color="#0078ff"/><stop offset="0.38" stop-color="#006eff"/><stop offset="0.43" stop-color="#0065ff"/><stop offset="0.48" stop-color="#025cff"/><stop offset="0.52" stop-color="#0751ff"/><stop offset="0.57" stop-color="#0e45ff"/><stop offset="0.62" stop-color="#1438ff"/><stop offset="0.67" stop-color="#1a2cff"/><stop offset="0.71" stop-color="#211fff"/><stop offset="0.76" stop-color="#2a16ff"/><stop offset="0.81" stop-color="#330dff"/><stop offset="0.86" stop-color="#3d03ff"/><stop offset="0.9" stop-color="#4700ff"/><stop offset="0.95" stop-color="#5100ff"/><stop offset="1" stop-color="#5b00ff"/></linearGradient><linearGradient id="ga94" gradientUnits="userSpaceOnUse" x1="54.5" x2="275.5" y1="0" y2="0"><stop offset="0" stop-color="#00bfff"/><stop offset="0.05" stop-color="#00adff"/><stop offset="0.1" stop-color="#009dff"/><stop offset="0.14" stop-color="#0093ff"/><stop offset="0.19" stop-color="#0089ff"/><stop offset="0.24" stop-color="#007eff"/><stop offset="0.29" stop-color="#0075ff"/><stop offset="0.33" stop-color="#006cff"/><stop offset="0.38" stop-color="#0063ff"/><stop offset="0.43" stop-color="#035bff"/><stop offset="0.48" stop-color="#0752ff"/><stop offset="0.52" stop-color="#0c48ff"/><stop offset="0.57" stop-color="#123cff"/><stop offset="0.62" stop-color="#1830ff"/><stop offset="0.67" stop-color="#1e24ff"/><stop offset="0.71" stop-color="#261aff"/><stop offset="0.76" stop-color="#2e12ff"/><stop offset="0.81" stop-color="#3709ff"/><stop offset="0.86" stop-color="#4000ff"/><stop offset="0.9" stop-color="#4a00ff"/><stop offset="0.95" stop-color="#5400ff"/><stop offset="1" stop-color="#5d00ff"/></linearGradient><linearGradient id="ga95" gradientUnits="userSpaceOnUse" x1="54.5" x2="275.5" y1="0" y2="0"><stop offset="0" stop-color="#00adff"/><stop offset="0.05" stop-color="#009eff"/><stop offset="0.1" stop-color="#0090ff"/><stop offset="0.14" stop-color="#0086ff"/><stop offset="0.19" stop-color="#007cff"/><stop offset="0.24" stop-color="#0072ff"/><stop offset="0.29" stop-color="#0069ff"/><stop offset="0.33" stop-color="#0061ff"/><stop offset="0.38" stop-color="#0458ff"/><stop offset="0.43" stop-color="#0850ff"/><stop offset="0.48" stop-color="#0c48ff"/><stop offset="0.52" stop-color="#113eff"/><stop offset="0.57" stop-color="#1733ff"/><stop offset="0.62" stop-color="#1c28ff"/><stop offset="0.67" stop-color="#231dff"/><stop offset="0.71" stop-color="#2b15ff"/><stop offset="0.76" stop-color="#330dff"/><stop offset="0.81" stop-color="#3b05ff"/><stop offset="0.86" stop-color="#4400ff"/><stop offset="0.9" stop-color="#4d00ff"/><stop offset="0.95" stop-color="#5600ff"/><stop offset="1" stop-color="#6000ff"/></linearGradient><linearGradient id="ga96" gradientUnits="userSpaceOnUse" x1="54.5" x2="275.5" y1="0" y2="0"><stop offset="0" stop-color="#009eff"/><stop offset="0.05" stop-color="#0090ff"/><stop offset="0.1" stop-color="#0083ff"/><stop offset="0.14" stop-color="#0079ff"/><stop offset="0.19" stop-color="#0070ff"/><stop offset="0.24" stop-color="#0066ff"/><stop offset="0.29" stop-color="#015eff"/><stop offset="0.33" stop-color="#0556ff"/><stop offset="0.38" stop-color="#094eff"/><stop offset="0.43" stop-color="#0d46ff"/><stop offset="0.48" stop-color="#113eff"/><stop offset="0.52" stop-color="#1635ff"/><stop offset="0.57" stop-color="#1b2aff"/><stop offset="0.62" stop-color="#211fff"/><stop offset="0.67" stop-color="#2818ff"/><stop offset="0.71" stop-color="#2f11ff"/><stop offset="0.76" stop-color="#3709ff"/><stop offset="0.81" stop-color="#3f01ff"/><stop offset="0.86" stop-color="#4800ff"/><stop offset="0.9" stop-color="#5000ff"/><stop offset="0.95" stop-color="#5900ff"/><stop offset="1" stop-color="#6200ff"/></linearGradient><linearGradient id="ga97" gradientUnits="userSpaceOnUse" x1="54.5" x2="275.5" y1="0" y2="0"><stop offset="0" stop-color="#008fff"/><stop offset="0.05" stop-color="#0082ff"/><stop offset="0.1" stop-color="#0076ff"/><stop offset="0.14" stop-color="#006dff"/><stop offset="0.19" stop-color="#0064ff"/><stop offset="0.24" stop-color="#035bff"/><stop offset="0.29" stop-color="#0653ff"/><stop offset="0.33" stop-color="#0a4bff"/><stop offset="0.38" stop-color="#0e44ff"/><stop offset="0.43" stop-color="#123cff"/><stop offset="0.48" stop-color="#1634ff"/><stop offset="0.52" stop-color="#1a2bff"/><stop offset="0.57" stop-color="#1f21ff"/><stop offset="0.62" stop-color="#261aff"/><stop offset="0.67" stop-color="#2d13ff"/><stop offset="0.71" stop-color="#340cff"/><stop offset="0.76" stop-color="#3b05ff"/><stop offset="0.81" stop-color="#4300ff"/><stop offset="0.86" stop-color="#4b00ff"/><stop offset="0.9" stop-color="#5300ff"/><stop offset="0.95" stop-color="#5b00ff"/><stop offset="1" stop-color="#6400ff"/></linearGradient><linearGradient id="ga98" gradientUnits="userSpaceOnUse" x1="54.5" x2="275.5" y1="0" y2="0"><stop offset="0" stop-color="#0081ff"/><stop offset="0.05" stop-color="#0075ff"/><stop offset="0.1" stop-color="#006aff"/><stop offset="0.14" stop-color="#0061ff"/><stop offset="0.19" stop-color="#0459ff"/><stop offset="0.24" stop-color="#0850ff"/><stop offset="0.29" stop-color="#0c49ff"/><stop offset="0.33" stop-color="#0f41ff"/><stop offset="0.38" stop-color="#133aff"/><stop offset="0.43" stop-color="#1732ff"/><stop offset="0.48" stop-color="#1b2bff"/><stop offset="0.52" stop-color="#1f23ff"/><stop offset="0.57" stop-color="#251bff"/><stop offset="0.62" stop-color="#2b15ff"/><stop offset="0.67" stop-color="#320eff"/><stop offset="0.71" stop-color="#3907ff"/><stop offset="0.76" stop-color="#3f01ff"/><stop offset="0.81" stop-color="#4700ff"/><stop offset="0.86" stop-color="#4f00ff"/><stop offset="0.9" stop-color="#5600ff"/><stop offset="0.95" stop-color="#5e00ff"/><stop offset="1" stop-color="#6500ff"/></linearGradient><linearGradient id="ga99" gradientUnits="userSpaceOnUse" x1="54.5" x2="275.5" y1="0" y2="0"><stop offset="0" stop-color="#0074ff"/><stop offset="0.05" stop-color="#0069ff"/><stop offset="0.1" stop-color="#015eff"/><stop offset="0.14" stop-color="#0556ff"/><stop offset="0.19" stop-color="#094eff"/><stop offset="0.24" stop-color="#0d46ff"/><stop offset="0.29" stop-color="#113fff"/><stop offset="0.33" stop-color="#1438ff"/><stop offset="0.38" stop-color="#1831ff"/><stop offset="0.43" stop-color="#1b2aff"/><stop offset="0.48" stop-color="#1f22ff"/><stop offset="0.52" stop-color="#241cff"/><stop offset="0.57" stop-color="#2a16ff"/><stop offset="0.62" stop-color="#3010ff"/><stop offset="0.67" stop-color="#3709ff"/><stop offset="0.71" stop-color="#3d03ff"/><stop offset="0.76" stop-color="#4400ff"/><stop offset="0.81" stop-color="#4b00ff"/><stop offset="0.86" stop-color="#5200ff"/><stop offset="0.9" stop-color="#5900ff"/><stop offset="0.95" stop-color="#6000ff"/><stop offset="1" stop-color="#6700ff"/></linearGradient><linearGradient id="ga100" gradientUnits="userSpaceOnUse" x1="54.5" x2="275.5" y1="0" y2="0"><stop offset="0" stop-color="#0068ff"/><stop offset="0.05" stop-color="#015eff"/><stop offset="0.1" stop-color="#0654ff"/><stop offset="0.14" stop-color="#0a4cff"/><stop offset="0.19" stop-color="#0e45ff"/><stop offset="0.24" stop-color="#113dff"/><stop offset="0.29" stop-color="#1536ff"/><stop offset="0.33" stop-color="#182fff"/><stop offset="0.38" stop-color="#1c28ff"/><stop offset="0.43" stop-color="#1f21ff"/><stop offset="0.48" stop-color="#241cff"/><stop offset="0.52" stop-color="#2917ff"/><stop offset="0.57" stop-color="#2f11ff"/><stop offset="0.62" stop-color="#350bff"/><stop offset="0.67" stop-color="#3b05ff"/><stop offset="0.71" stop-color="#4100ff"/><stop offset="0.76" stop-color="#4700ff"/><stop offset="0.81" stop-color="#4e00ff"/><stop offset="0.86" stop-color="#5500ff"/><stop offset="0.9" stop-color="#5b00ff"/><stop offset="0.95" stop-color="#6200ff"/><stop offset="1" stop-color="#6900ff"/></linearGradient><linearGradient id="ga101" gradientUnits="userSpaceOnUse" x1="54.5" x2="275.5" y1="0" y2="0"><stop offset="0" stop-color="#025dff"/><stop offset="0.05" stop-color="#0654ff"/><stop offset="0.1" stop-color="#0b4aff"/><stop offset="0.14" stop-color="#0e43ff"/><stop offset="0.19" stop-color="#123cff"/><stop offset="0.24" stop-color="#1635ff"/><stop offset="0.29" stop-color="#192eff"/><stop offset="0.33" stop-color="#1c27ff"/><stop offset="0.38" stop-color="#2020ff"/><stop offset="0.43" stop-color="#241cff"/><stop offset="0.48" stop-color="#2917ff"/><stop offset="0.52" stop-color="#2e12ff"/><stop offset="0.57" stop-color="#340cff"/><stop offset="0.62" stop-color="#3907ff"/><stop offset="0.67" stop-color="#3f01ff"/><stop offset="0.71" stop-color="#4500ff"/><stop offset="0.76" stop-color="#4b00ff"/><stop offset="0.81" stop-color="#5100ff"/><stop offset="0.86" stop-color="#5700ff"/><stop offset="0.9" stop-color="#5e00ff"/><stop offset="0.95" stop-color="#6400ff"/><stop offset="1" stop-color="#6a00ff"/></linearGradient><linearGradient id="ga102" gradientUnits="userSpaceOnUse" x1="54.5" x2="275.5" y1="0" y2="0"><stop offset="0" stop-color="#0653ff"/><stop offset="0.05" stop-color="#0b4bff"/><stop offset="0.1" stop-color="#0f42ff"/><stop offset="0.14" stop-color="#133bff"/><stop offset="0.19" stop-color="#1634ff"/><stop offset="0.24" stop-color="#192dff"/><stop offset="0.29" stop-color="#1d27ff"/><stop offset="0.33" stop-color="#2020ff"/><stop offset="0.38" stop-color="#251bff"/><stop offset="0.43" stop-color="#2917ff"/><stop offset="0.48" stop-color="#2e12ff"/><stop offset="0.52" stop-color="#320eff"/><stop offset="0.57" stop-color="#3808ff"/><stop offset="0.62" stop-color="#3d03ff"/><stop offset="0.67" stop-color="#4300ff"/><stop offset="0.71" stop-color="#4800ff"/><stop offset="0.76" stop-color="#4e00ff"/><stop offset="0.81" stop-color="#5400ff"/><stop offset="0.86" stop-color="#5a00ff"/><stop offset="0.9" stop-color="#6000ff"/><stop offset="0.95" stop-color="#6600ff"/><stop offset="1" stop-color="#6c00ff"/></linearGradient><linearGradient id="ga103" gradientUnits="userSpaceOnUse" x1="54.5" x2="275.5" y1="0" y2="0"><stop offset="0" stop-color="#0b4bff"/><stop offset="0.05" stop-color="#0f43ff"/><stop offset="0.1" stop-color="#133bff"/><stop offset="0.14" stop-color="#1634ff"/><stop offset="0.19" stop-color="#192dff"/><stop offset="0.24" stop-color="#1d26ff"/><stop offset="0.29" stop-color="#2020ff"/><stop offset="0.33" stop-color="#241cff"/><stop offset="0.38" stop-color="#2917ff"/><stop offset="0.43" stop-color="#2d13ff"/><stop offset="0.48" stop-color="#320eff"/><stop offset="0.52" stop-color="#360aff"/><stop offset="0.57" stop-color="#3b05ff"/><stop offset="0.62" stop-color="#4000ff"/><stop offset="0.67" stop-color="#4600ff"/><stop offset="0.71" stop-color="#4b00ff"/><stop offset="0.76" stop-color="#5100ff"/><stop offset="0.81" stop-color="#5600ff"/><stop offset="0.86" stop-color="#5c00ff"/><stop offset="0.9" stop-color="#6200ff"/><stop offset="0.95" stop-color="#6700ff"/><stop offset="1" stop-color="#6d00ff"/></linearGradient><linearGradient id="ga104" gradientUnits="userSpaceOnUse" x1="54.5" x2="275.5" y1="0" y2="0"><stop offset="0" stop-color="#0e43ff"/><stop offset="0.05" stop-color="#123cff"/><stop offset="0.1" stop-color="#1634ff"/><stop offset="0.14" stop-color="#192dff"/><stop offset="0.19" stop-color="#1c27ff"/><stop offset="0.24" stop-color="#2021ff"/><stop offset="0.29" stop-color="#241cff"/><stop offset="0.33" stop-color="#2818ff"/><stop offset="0.38" stop-color="#2d13ff"/><stop offset="0.43" stop-color="#310fff"/><stop offset="0.48" stop-color="#350bff"/><stop offset="0.52" stop-color="#3a06ff"/><stop offset="0.57" stop-color="#3f01ff"/><stop offset="0.62" stop-color="#4400ff"/><stop offset="0.67" stop-color="#4900ff"/><stop offset="0.71" stop-color="#4e00ff"/><stop offset="0.76" stop-color="#5300ff"/><stop offset="0.81" stop-color="#5800ff"/><stop offset="0.86" stop-color="#5e00ff"/><stop offset="0.9" stop-color="#6300ff"/><stop offset="0.95" stop-color="#6900ff"/><stop offset="1" stop-color="#6e00ff"/></linearGradient><linearGradient id="ga105" gradientUnits="userSpaceOnUse" x1="54.5" x2="275.5" y1="0" y2="0"><stop offset="0" stop-color="#123dff"/><stop offset="0.05" stop-color="#1536ff"/><stop offset="0.1" stop-color="#192eff"/><stop offset="0.14" stop-color="#1c28ff"/><stop offset="0.19" stop-color="#1f22ff"/><stop offset="0.24" stop-color="#231dff"/><stop offset="0.29" stop-color="#2719ff"/><stop offset="0.33" stop-color="#2c14ff"/><stop offset="0.38" stop-color="#3010ff"/><stop offset="0.43" stop-color="#340cff"/><stop offset="0.48" stop-color="#3808ff"/><stop offset="0.52" stop-color="#3d03ff"/><stop offset="0.57" stop-color="#4100ff"/><stop offset="0.62" stop-color="#4600ff"/><stop offset="0.67" stop-color="#4b00ff"/><stop offset="0.71" stop-color="#5000ff"/><stop offset="0.76" stop-color="#5500ff"/><stop offset="0.81" stop-color="#5a00ff"/><stop offset="0.86" stop-color="#5f00ff"/><stop offset="0.9" stop-color="#6500ff"/><stop offset="0.95" stop-color="#6a00ff"/><stop offset="1" stop-color="#6f00ff"/></linearGradient><linearGradient id="ga106" gradientUnits="userSpaceOnUse" x1="54.5" x2="275.5" y1="0" y2="0"><stop offset="0" stop-color="#1437ff"/><stop offset="0.05" stop-color="#1830ff"/><stop offset="0.1" stop-color="#1b2aff"/><stop offset="0.14" stop-color="#1e23ff"/><stop offset="0.19" stop-color="#221eff"/><stop offset="0.24" stop-color="#261aff"/><stop offset="0.29" stop-color="#2a16ff"/><stop offset="0.33" stop-color="#2e12ff"/><stop offset="0.38" stop-color="#330dff"/><stop offset="0.43" stop-color="#3709ff"/><stop offset="0.48" stop-color="#3b05ff"/><stop offset="0.52" stop-color="#3f01ff"/><stop offset="0.57" stop-color="#4400ff"/><stop offset="0.62" stop-color="#4900ff"/><stop offset="0.67" stop-color="#4d00ff"/><stop offset="0.71" stop-color="#5200ff"/><stop offset="0.76" stop-color="#5700ff"/><stop offset="0.81" stop-color="#5c00ff"/><stop offset="0.86" stop-color="#6100ff"/><stop offset="0.9" stop-color="#6600ff"/><stop offset="0.95" stop-color="#6b00ff"/><stop offset="1" stop-color="#7000ff"/></linearGradient><linearGradient id="ga107" gradientUnits="userSpaceOnUse" x1="54.5" x2="275.5" y1="0" y2="0"><stop offset="0" stop-color="#1733ff"/><stop offset="0.05" stop-color="#1a2cff"/><stop offset="0.1" stop-color="#1d25ff"/><stop offset="0.14" stop-color="#2020ff"/><stop offset="0.19" stop-color="#251bff"/><stop offset="0.24" stop-color="#2917ff"/><stop offset="0.29" stop-color="#2d13ff"/><stop offset="0.33" stop-color="#310fff"/><stop offset="0.38" stop-color="#350bff"/><stop offset="0.43" stop-color="#3907ff"/><stop offset="0.48" stop-color="#3d03ff"/><stop offset="0.52" stop-color="#4100ff"/><stop offset="0.57" stop-color="#4600ff"/><stop offset="0.62" stop-color="#4b00ff"/><stop offset="0.67" stop-color="#4f00ff"/><stop offset="0.71" stop-color="#5400ff"/><stop offset="0.76" stop-color="#5800ff"/><stop offset="0.81" stop-color="#5d00ff"/><stop offset="0.86" stop-color="#6200ff"/><stop offset="0.9" stop-color="#6700ff"/><stop offset="0.95" stop-color="#6b00ff"/><stop offset="1" stop-color="#7000ff"/></linearGradient><linearGradient id="ga108" gradientUnits="userSpaceOnUse" x1="54.5" x2="275.5" y1="0" y2="0"><stop offset="0" stop-color="#1831ff"/><stop offset="0.05" stop-color="#1b2aff"/><stop offset="0.1" stop-color="#1e24ff"/><stop offset="0.14" stop-color="#221eff"/><stop offset="0.19" stop-color="#261aff"/><stop offset="0.24" stop-color="#2a16ff"/><stop offset="0.29" stop-color="#2e12ff"/><stop offset="0.33" stop-color="#320eff"/><stop offset="0.38" stop-color="#360aff"/><stop offset="0.43" stop-color="#3a06ff"/><stop offset="0.48" stop-color="#3e02ff"/><stop offset="0.52" stop-color="#4200ff"/><stop offset="0.57" stop-color="#4700ff"/><stop offset="0.62" stop-color="#4b00ff"/><stop offset="0.67" stop-color="#5000ff"/><stop offset="0.71" stop-color="#5500ff"/><stop offset="0.76" stop-color="#5900ff"/><stop offset="0.81" stop-color="#5e00ff"/><stop offset="0.86" stop-color="#6200ff"/><stop offset="0.9" stop-color="#6700ff"/><stop offset="0.95" stop-color="#6c00ff"/><stop offset="1" stop-color="#7000ff"/></linearGradient><linearGradient id="ga109" gradientUnits="userSpaceOnUse" x1="54.5" x2="275.5" y1="0" y2="0"><stop offset="0" stop-color="#1831ff"/><stop offset="0.05" stop-color="#1b2aff"/><stop offset="0.1" stop-color="#1e24ff"/><stop offset="0.14" stop-color="#221eff"/><stop offset="0.19" stop-color="#261aff"/><stop offset="0.24" stop-color="#2a16ff"/><stop offset="0.29" stop-color="#2e12ff"/><stop offset="0.33" stop-color="#320eff"/><stop offset="0.38" stop-color="#360aff"/><stop offset="0.43" stop-color="#3a06ff"/><stop offset="0.48" stop-color="#3e02ff"/><stop offset="0.52" stop-color="#4200ff"/><stop offset="0.57" stop-color="#4700ff"/><stop offset="0.62" stop-color="#4b00ff"/><stop offset="0.67" stop-color="#5000ff"/><stop offset="0.71" stop-color="#5500ff"/><stop offset="0.76" stop-color="#5900ff"/><stop offset="0.81" stop-color="#5e00ff"/><stop offset="0.86" stop-color="#6200ff"/><stop offset="0.9" stop-color="#6700ff"/><stop offset="0.95" stop-color="#6c00ff"/><stop offset="1" stop-color="#7000ff"/></linearGradient><linearGradient id="cba" x1="0" y1="0" x2="0" y2="1"><stop offset="0" stop-color="#ff0000"/><stop offset="0.1" stop-color="#ff3000"/><stop offset="0.17" stop-color="#ff6000"/><stop offset="0.22" stop-color="#ffa000"/><stop offset="0.28" stop-color="#ffee00"/><stop offset="0.34" stop-color="#a0ff00"/><stop offset="0.43" stop-color="#00ff00"/><stop offset="0.51" stop-color="#00ffa0"/><stop offset="0.58" stop-color="#00ffff"/><stop offset="0.65" stop-color="#00b0ff"/><stop offset="0.73" stop-color="#0060ff"/><stop offset="0.8" stop-color="#2020ff"/><stop offset="0.85" stop-color="#4000ff"/><stop offset="0.92" stop-color="#7000ff"/><stop offset="1" stop-color="#9000ff"/></linearGradient><filter id="blurb" x="-5%" y="-5%" width="110%" height="110%"><feGaussianBlur stdDeviation="0.6 1.0"/></filter><clipPath id="clipb"><rect x="412.3" y="16.5" width="219.7" height="211.5"/></clipPath><linearGradient id="gb0" gradientUnits="userSpaceOnUse" x1="412.3" x2="632" y1="0" y2="0"><stop offset="0" stop-color="#0556ff"/><stop offset="0.05" stop-color="#0556ff"/><stop offset="0.1" stop-color="#0556ff"/><stop offset="0.15" stop-color="#0556ff"/><stop offset="0.2" stop-color="#0556ff"/><stop offset="0.25" stop-color="#0556ff"/><stop offset="0.3" stop-color="#0655ff"/><stop offset="0.35" stop-color="#0654ff"/><stop offset="0.4" stop-color="#0752ff"/><stop offset="0.45" stop-color="#0654ff"/><stop offset="0.5" stop-color="#0556ff"/><stop offset="0.55" stop-color="#0557ff"/><stop offset="0.6" stop-color="#0557ff"/><stop offset="0.65" stop-color="#0654ff"/><stop offset="0.7" stop-color="#0751ff"/><stop offset="0.75" stop-color="#015fff"/><stop offset="0.8" stop-color="#006fff"/><stop offset="0.85" stop-color="#0076ff"/><stop offset="0.9" stop-color="#0078ff"/><stop offset="0.95" stop-color="#0079ff"/><stop offset="1" stop-color="#007aff"/></linearGradient><linearGradient id="gb1" gradientUnits="userSpaceOnUse" x1="412.3" x2="632" y1="0" y2="0"><stop offset="0" stop-color="#0556ff"/><stop offset="0.05" stop-color="#0556ff"/><stop offset="0.1" stop-color="#0556ff"/><stop offset="0.15" stop-color="#0556ff"/><stop offset="0.2" stop-color="#0556ff"/><stop offset="0.25" stop-color="#0556ff"/><stop offset="0.3" stop-color="#0655ff"/><stop offset="0.35" stop-color="#0654ff"/><stop offset="0.4" stop-color="#0752ff"/><stop offset="0.45" stop-color="#0654ff"/><stop offset="0.5" stop-color="#0556ff"/><stop offset="0.55" stop-color="#0557ff"/><stop offset="0.6" stop-color="#0557ff"/><stop offset="0.65" stop-color="#0654ff"/><stop offset="0.7" stop-color="#0751ff"/><stop offset="0.75" stop-color="#015fff"/><stop offset="0.8" stop-color="#006fff"/><stop offset="0.85" stop-color="#0076ff"/><stop offset="0.9" stop-color="#0078ff"/><stop offset="0.95" stop-color="#0079ff"/><stop offset="1" stop-color="#007aff"/></linearGradient><linearGradient id="gb2" gradientUnits="userSpaceOnUse" x1="412.3" x2="632" y1="0" y2="0"><stop offset="0" stop-color="#025dff"/><stop offset="0.05" stop-color="#025dff"/><stop offset="0.1" stop-color="#025dff"/><stop offset="0.15" stop-color="#025dff"/><stop offset="0.2" stop-color="#025dff"/><stop offset="0.25" stop-color="#025dff"/><stop offset="0.3" stop-color="#025cff"/><stop offset="0.35" stop-color="#035aff"/><stop offset="0.4" stop-color="#0459ff"/><stop offset="0.45" stop-color="#025bff"/><stop offset="0.5" stop-color="#015dff"/><stop offset="0.55" stop-color="#015eff"/><stop offset="0.6" stop-color="#015eff"/><stop offset="0.65" stop-color="#035bff"/><stop offset="0.7" stop-color="#0458ff"/><stop offset="0.75" stop-color="#0066ff"/><stop offset="0.8" stop-color="#0077ff"/><stop offset="0.85" stop-color="#007eff"/><stop offset="0.9" stop-color="#007fff"/><stop offset="0.95" stop-color="#0081ff"/><stop offset="1" stop-color="#0082ff"/></linearGradient><linearGradient id="gb3" gradientUnits="userSpaceOnUse" x1="412.3" x2="632" y1="0" y2="0"><stop offset="0" stop-color="#007bff"/><stop offset="0.05" stop-color="#007bff"/><stop offset="0.1" stop-color="#007bff"/><stop offset="0.15" stop-color="#007bff"/><stop offset="0.2" stop-color="#007bff"/><stop offset="0.25" stop-color="#007bff"/><stop offset="0.3" stop-color="#007aff"/><stop offset="0.35" stop-color="#0078ff"/><stop offset="0.4" stop-color="#0076ff"/><stop offset="0.45" stop-color="#0079ff"/><stop offset="0.5" stop-color="#007cff"/><stop offset="0.55" stop-color="#007dff"/><stop offset="0.6" stop-color="#007dff"/><stop offset="0.65" stop-color="#0079ff"/><stop offset="0.7" stop-color="#0074ff"/><stop offset="0.75" stop-color="#0085ff"/><stop offset="0.8" stop-color="#0096ff"/><stop offset="0.85" stop-color="#009dff"/><stop offset="0.9" stop-color="#009eff"/><stop offset="0.95" stop-color="#009fff"/><stop offset="1" stop-color="#00a0ff"/></linearGradient><linearGradient id="gb4" gradientUnits="userSpaceOnUse" x1="412.3" x2="632" y1="0" y2="0"><stop offset="0" stop-color="#009eff"/><stop offset="0.05" stop-color="#009eff"/><stop offset="0.1" stop-color="#009eff"/><stop offset="0.15" stop-color="#009eff"/><stop offset="0.2" stop-color="#009eff"/><stop offset="0.25" stop-color="#009eff"/><stop offset="0.3" stop-color="#009cff"/><stop offset="0.35" stop-color="#009aff"/><stop offset="0.4" stop-color="#0097ff"/><stop offset="0.45" stop-color="#009aff"/><stop offset="0.5" stop-color="#009eff"/><stop offset="0.55" stop-color="#009fff"/><stop offset="0.6" stop-color="#00a0ff"/><stop offset="0.65" stop-color="#009aff"/><stop offset="0.7" stop-color="#0095ff"/><stop offset="0.75" stop-color="#00a4ff"/><stop offset="0.8" stop-color="#00b4ff"/><stop offset="0.85" stop-color="#00baff"/><stop offset="0.9" stop-color="#00bbff"/><stop offset="0.95" stop-color="#00bbff"/><stop offset="1" stop-color="#00bcff"/></linearGradient><linearGradient id="gb5" gradientUnits="userSpaceOnUse" x1="412.3" x2="632" y1="0" y2="0"><stop offset="0" stop-color="#00c9ff"/><stop offset="0.05" stop-color="#00c9ff"/><stop offset="0.1" stop-color="#00c9ff"/><stop offset="0.15" stop-color="#00c8ff"/><stop offset="0.2" stop-color="#00c8ff"/><stop offset="0.25" stop-color="#00c8ff"/><stop offset="0.3" stop-color="#00c6ff"/><stop offset="0.35" stop-color="#00c1ff"/><stop offset="0.4" stop-color="#00bdff"/><stop offset="0.45" stop-color="#00c2ff"/><stop offset="0.5" stop-color="#00c8ff"/><stop offset="0.55" stop-color="#00caff"/><stop offset="0.6" stop-color="#00cbff"/><stop offset="0.65" stop-color="#00c2ff"/><stop offset="0.7" stop-color="#00b9ff"/><stop offset="0.75" stop-color="#00c8ff"/><stop offset="0.8" stop-color="#00d4ff"/><stop offset="0.85" stop-color="#00d7ff"/><stop offset="0.9" stop-color="#00d7ff"/><stop offset="0.95" stop-color="#00d7ff"/><stop offset="1" stop-color="#00d7ff"/></linearGradient><linearGradient id="gb6" gradientUnits="userSpaceOnUse" x1="412.3" x2="632" y1="0" y2="0"><stop offset="0" stop-color="#00fbff"/><stop offset="0.05" stop-color="#00fbff"/><stop offset="0.1" stop-color="#00faff"/><stop offset="0.15" stop-color="#00faff"/><stop offset="0.2" stop-color="#00f9ff"/><stop offset="0.25" stop-color="#00f9ff"/><stop offset="0.3" stop-color="#00f5ff"/><stop offset="0.35" stop-color="#00f0ff"/><stop offset="0.4" stop-color="#00ebff"/><stop offset="0.45" stop-color="#00f1ff"/><stop offset="0.5" stop-color="#00f7ff"/><stop offset="0.55" stop-color="#00faff"/><stop offset="0.6" stop-color="#00fcff"/><stop offset="0.65" stop-color="#00f1ff"/><stop offset="0.7" stop-color="#00e5ff"/><stop offset="0.75" stop-color="#00ecff"/><stop offset="0.8" stop-color="#00efff"/><stop offset="0.85" stop-color="#00eeff"/><stop offset="0.9" stop-color="#00edff"/><stop offset="0.95" stop-color="#00ecff"/><stop offset="1" stop-color="#00ebff"/></linearGradient><linearGradient id="gb7" gradientUnits="userSpaceOnUse" x1="412.3" x2="632" y1="0" y2="0"><stop offset="0" stop-color="#00ffc3"/><stop offset="0.05" stop-color="#00ffc4"/><stop offset="0.1" stop-color="#00ffc5"/><stop offset="0.15" stop-color="#00ffc7"/><stop offset="0.2" stop-color="#00ffc9"/><stop offset="0.25" stop-color="#00ffca"/><stop offset="0.3" stop-color="#00ffcf"/><stop offset="0.35" stop-color="#00ffd7"/><stop offset="0.4" stop-color="#00ffde"/><stop offset="0.45" stop-color="#00ffd6"/><stop offset="0.5" stop-color="#00ffce"/><stop offset="0.55" stop-color="#00ffcb"/><stop offset="0.6" stop-color="#00ffc7"/><stop offset="0.65" stop-color="#00ffd8"/><stop offset="0.7" stop-color="#00ffe9"/><stop offset="0.75" stop-color="#00ffef"/><stop offset="0.8" stop-color="#00fff8"/><stop offset="0.85" stop-color="#00feff"/><stop offset="0.9" stop-color="#00fcff"/><stop offset="0.95" stop-color="#00faff"/><stop offset="1" stop-color="#00f8ff"/></linearGradient><linearGradient id="gb8" gradientUnits="userSpaceOnUse" x1="412.3" x2="632" y1="0" y2="0"><stop offset="0" stop-color="#00ff75"/><stop offset="0.05" stop-color="#00ff77"/><stop offset="0.1" stop-color="#00ff7c"/><stop offset="0.15" stop-color="#00ff81"/><stop offset="0.2" stop-color="#00ff86"/><stop offset="0.25" stop-color="#00ff8a"/><stop offset="0.3" stop-color="#00ff93"/><stop offset="0.35" stop-color="#00ff9f"/><stop offset="0.4" stop-color="#00ffa8"/><stop offset="0.45" stop-color="#00ff9f"/><stop offset="0.5" stop-color="#00ff94"/><stop offset="0.55" stop-color="#00ff8e"/><stop offset="0.6" stop-color="#00ff89"/><stop offset="0.65" stop-color="#00ffa3"/><stop offset="0.7" stop-color="#00ffb7"/><stop offset="0.75" stop-color="#00ffcc"/><stop offset="0.8" stop-color="#00ffe3"/><stop offset="0.85" stop-color="#00fff1"/><stop offset="0.9" stop-color="#00fff5"/><stop offset="0.95" stop-color="#00fff9"/><stop offset="1" stop-color="#00fffc"/></linearGradient><linearGradient id="gb9" gradientUnits="userSpaceOnUse" x1="412.3" x2="632" y1="0" y2="0"><stop offset="0" stop-color="#00ff15"/><stop offset="0.05" stop-color="#00ff19"/><stop offset="0.1" stop-color="#00ff23"/><stop offset="0.15" stop-color="#00ff2f"/><stop offset="0.2" stop-color="#00ff39"/><stop offset="0.25" stop-color="#00ff40"/><stop offset="0.3" stop-color="#00ff4c"/><stop offset="0.35" stop-color="#00ff5a"/><stop offset="0.4" stop-color="#00ff67"/><stop offset="0.45" stop-color="#00ff5c"/><stop offset="0.5" stop-color="#00ff51"/><stop offset="0.55" stop-color="#00ff4b"/><stop offset="0.6" stop-color="#00ff46"/><stop offset="0.65" stop-color="#00ff64"/><stop offset="0.7" stop-color="#00ff83"/><stop offset="0.75" stop-color="#00ffaf"/><stop offset="0.8" stop-color="#00ffd3"/><stop offset="0.85" stop-color="#00ffe6"/><stop offset="0.9" stop-color="#00ffeb"/><stop offset="0.95" stop-color="#00fff0"/><stop offset="1" stop-color="#00fff4"/></linearGradient><linearGradient id="gb10" gradientUnits="userSpaceOnUse" x1="412.3" x2="632" y1="0" y2="0"><stop offset="0" stop-color="#50ff00"/><stop offset="0.05" stop-color="#48ff00"/><stop offset="0.1" stop-color="#35ff00"/><stop offset="0.15" stop-color="#1fff00"/><stop offset="0.2" stop-color="#0bff00"/><stop offset="0.25" stop-color="#00ff02"/><stop offset="0.3" stop-color="#00ff12"/><stop offset="0.35" stop-color="#00ff23"/><stop offset="0.4" stop-color="#00ff32"/><stop offset="0.45" stop-color="#00ff27"/><stop offset="0.5" stop-color="#00ff1c"/><stop offset="0.55" stop-color="#00ff16"/><stop offset="0.6" stop-color="#00ff12"/><stop offset="0.65" stop-color="#00ff34"/><stop offset="0.7" stop-color="#00ff57"/><stop offset="0.75" stop-color="#00ff9c"/><stop offset="0.8" stop-color="#00ffcd"/><stop offset="0.85" stop-color="#00ffe4"/><stop offset="0.9" stop-color="#00ffea"/><stop offset="0.95" stop-color="#00fff0"/><stop offset="1" stop-color="#00fff5"/></linearGradient><linearGradient id="gb11" gradientUnits="userSpaceOnUse" x1="412.3" x2="632" y1="0" y2="0"><stop offset="0" stop-color="#b9fa00"/><stop offset="0.05" stop-color="#affc00"/><stop offset="0.1" stop-color="#92ff00"/><stop offset="0.15" stop-color="#6aff00"/><stop offset="0.2" stop-color="#48ff00"/><stop offset="0.25" stop-color="#31ff00"/><stop offset="0.3" stop-color="#1bff00"/><stop offset="0.35" stop-color="#06ff00"/><stop offset="0.4" stop-color="#00ff0b"/><stop offset="0.45" stop-color="#00ff01"/><stop offset="0.5" stop-color="#09ff00"/><stop offset="0.55" stop-color="#0eff00"/><stop offset="0.6" stop-color="#11ff00"/><stop offset="0.65" stop-color="#00ff15"/><stop offset="0.7" stop-color="#00ff3d"/><stop offset="0.75" stop-color="#00ff93"/><stop offset="0.8" stop-color="#00ffcf"/><stop offset="0.85" stop-color="#00ffeb"/><stop offset="0.9" stop-color="#00fff2"/><stop offset="0.95" stop-color="#00fff8"/><stop offset="1" stop-color="#00fffd"/></linearGradient><linearGradient id="gb12" gradientUnits="userSpaceOnUse" x1="412.3" x2="632" y1="0" y2="0"><stop offset="0" stop-color="#ffd200"/><stop offset="0.05" stop-color="#ffe000"/><stop offset="0.1" stop-color="#e5f300"/><stop offset="0.15" stop-color="#b3fc00"/><stop offset="0.2" stop-color="#80ff00"/><stop offset="0.25" stop-color="#5aff00"/><stop offset="0.3" stop-color="#3cff00"/><stop offset="0.35" stop-color="#23ff00"/><stop offset="0.4" stop-color="#10ff00"/><stop offset="0.45" stop-color="#18ff00"/><stop offset="0.5" stop-color="#21ff00"/><stop offset="0.55" stop-color="#24ff00"/><stop offset="0.6" stop-color="#25ff00"/><stop offset="0.65" stop-color="#00ff05"/><stop offset="0.7" stop-color="#00ff32"/><stop offset="0.75" stop-color="#00ff96"/><stop offset="0.8" stop-color="#00ffda"/><stop offset="0.85" stop-color="#00fff9"/><stop offset="0.9" stop-color="#00feff"/><stop offset="0.95" stop-color="#00f9ff"/><stop offset="1" stop-color="#00f4ff"/></linearGradient><linearGradient id="gb13" gradientUnits="userSpaceOnUse" x1="412.3" x2="632" y1="0" y2="0"><stop offset="0" stop-color="#ff7600"/><stop offset="0.05" stop-color="#ff8900"/><stop offset="0.1" stop-color="#ffba00"/><stop offset="0.15" stop-color="#f2f000"/><stop offset="0.2" stop-color="#b1fc00"/><stop offset="0.25" stop-color="#7dff00"/><stop offset="0.3" stop-color="#54ff00"/><stop offset="0.35" stop-color="#36ff00"/><stop offset="0.4" stop-color="#20ff00"/><stop offset="0.45" stop-color="#26ff00"/><stop offset="0.5" stop-color="#2dff00"/><stop offset="0.55" stop-color="#2eff00"/><stop offset="0.6" stop-color="#2bff00"/><stop offset="0.65" stop-color="#00ff04"/><stop offset="0.7" stop-color="#00ff35"/><stop offset="0.75" stop-color="#00ffa4"/><stop offset="0.8" stop-color="#00ffed"/><stop offset="0.85" stop-color="#00f3ff"/><stop offset="0.9" stop-color="#00edff"/><stop offset="0.95" stop-color="#00e8ff"/><stop offset="1" stop-color="#00e3ff"/></linearGradient><linearGradient id="gb14" gradientUnits="userSpaceOnUse" x1="412.3" x2="632" y1="0" y2="0"><stop offset="0" stop-color="#ff3600"/><stop offset="0.05" stop-color="#ff4500"/><stop offset="0.1" stop-color="#ff7400"/><stop offset="0.15" stop-color="#ffc500"/><stop offset="0.2" stop-color="#d7f500"/><stop offset="0.25" stop-color="#98ff00"/><stop offset="0.3" stop-color="#64ff00"/><stop offset="0.35" stop-color="#40ff00"/><stop offset="0.4" stop-color="#26ff00"/><stop offset="0.45" stop-color="#2bff00"/><stop offset="0.5" stop-color="#2fff00"/><stop offset="0.55" stop-color="#2cff00"/><stop offset="0.6" stop-color="#26ff00"/><stop offset="0.65" stop-color="#00ff0e"/><stop offset="0.7" stop-color="#00ff44"/><stop offset="0.75" stop-color="#00ffb7"/><stop offset="0.8" stop-color="#00f9ff"/><stop offset="0.85" stop-color="#00ddff"/><stop offset="0.9" stop-color="#00d7ff"/><stop offset="0.95" stop-color="#00d2ff"/><stop offset="1" stop-color="#00cdff"/></linearGradient><linearGradient id="gb15" gradientUnits="userSpaceOnUse" x1="412.3" x2="632" y1="0" y2="0"><stop offset="0" stop-color="#ff1100"/><stop offset="0.05" stop-color="#ff1f00"/><stop offset="0.1" stop-color="#ff4800"/><stop offset="0.15" stop-color="#ff9900"/><stop offset="0.2" stop-color="#f6f000"/><stop offset="0.25" stop-color="#a9fd00"/><stop offset="0.3" stop-color="#6bff00"/><stop offset="0.35" stop-color="#41ff00"/><stop offset="0.4" stop-color="#25ff00"/><stop offset="0.45" stop-color="#26ff00"/><stop offset="0.5" stop-color="#28ff00"/><stop offset="0.55" stop-color="#21ff00"/><stop offset="0.6" stop-color="#15ff00"/><stop offset="0.65" stop-color="#00ff24"/><stop offset="0.7" stop-color="#00ff5f"/><stop offset="0.75" stop-color="#00ffd2"/><stop offset="0.8" stop-color="#00e1ff"/><stop offset="0.85" stop-color="#00c4ff"/><stop offset="0.9" stop-color="#00beff"/><stop offset="0.95" stop-color="#00b9ff"/><stop offset="1" stop-color="#00b4ff"/></linearGradient><linearGradient id="gb16" gradientUnits="userSpaceOnUse" x1="412.3" x2="632" y1="0" y2="0"><stop offset="0" stop-color="#ff0000"/><stop offset="0.05" stop-color="#ff0800"/><stop offset="0.1" stop-color="#ff2e00"/><stop offset="0.15" stop-color="#ff7e00"/><stop offset="0.2" stop-color="#ffe700"/><stop offset="0.25" stop-color="#aefc00"/><stop offset="0.3" stop-color="#68ff00"/><stop offset="0.35" stop-color="#39ff00"/><stop offset="0.4" stop-color="#1aff00"/><stop offset="0.45" stop-color="#18ff00"/><stop offset="0.5" stop-color="#17ff00"/><stop offset="0.55" stop-color="#0bff00"/><stop offset="0.6" stop-color="#00ff07"/><stop offset="0.65" stop-color="#00ff45"/><stop offset="0.7" stop-color="#00ff86"/><stop offset="0.75" stop-color="#00fff3"/><stop offset="0.8" stop-color="#00c4ff"/><stop offset="0.85" stop-color="#00a9ff"/><stop offset="0.9" stop-color="#00a5ff"/><stop offset="0.95" stop-color="#00a1ff"/><stop offset="1" stop-color="#009dff"/></linearGradient><linearGradient id="gb17" gradientUnits="userSpaceOnUse" x1="412.3" x2="632" y1="0" y2="0"><stop offset="0" stop-color="#ff0000"/><stop offset="0.05" stop-color="#ff0000"/><stop offset="0.1" stop-color="#ff2900"/><stop offset="0.15" stop-color="#ff7800"/><stop offset="0.2" stop-color="#ffe700"/><stop offset="0.25" stop-color="#a7fe00"/><stop offset="0.3" stop-color="#5aff00"/><stop offset="0.35" stop-color="#28ff00"/><stop offset="0.4" stop-color="#07ff00"/><stop offset="0.45" stop-color="#01ff00"/><stop offset="0.5" stop-color="#00ff04"/><stop offset="0.55" stop-color="#00ff15"/><stop offset="0.6" stop-color="#00ff2d"/><stop offset="0.65" stop-color="#00ff70"/><stop offset="0.7" stop-color="#00ffb0"/><stop offset="0.75" stop-color="#00ebff"/><stop offset="0.8" stop-color="#00a8ff"/><stop offset="0.85" stop-color="#0091ff"/><stop offset="0.9" stop-color="#008cff"/><stop offset="0.95" stop-color="#0089ff"/><stop offset="1" stop-color="#0086ff"/></linearGradient><linearGradient id="gb18" gradientUnits="userSpaceOnUse" x1="412.3" x2="632" y1="0" y2="0"><stop offset="0" stop-color="#ff0000"/><stop offset="0.05" stop-color="#ff0800"/><stop offset="0.1" stop-color="#ff3100"/><stop offset="0.15" stop-color="#ff8a00"/><stop offset="0.2" stop-color="#f1f000"/><stop offset="0.25" stop-color="#8eff00"/><stop offset="0.3" stop-color="#40ff00"/><stop offset="0.35" stop-color="#0dff00"/><stop offset="0.4" stop-color="#00ff15"/><stop offset="0.45" stop-color="#00ff1f"/><stop offset="0.5" stop-color="#00ff28"/><stop offset="0.55" stop-color="#00ff3f"/><stop offset="0.6" stop-color="#00ff5d"/><stop offset="0.65" stop-color="#00ffa4"/><stop offset="0.7" stop-color="#00ffda"/><stop offset="0.75" stop-color="#00c9ff"/><stop offset="0.8" stop-color="#008eff"/><stop offset="0.85" stop-color="#0078ff"/><stop offset="0.9" stop-color="#0074ff"/><stop offset="0.95" stop-color="#0071ff"/><stop offset="1" stop-color="#006fff"/></linearGradient><linearGradient id="gb19" gradientUnits="userSpaceOnUse" x1="412.3" x2="632" y1="0" y2="0"><stop offset="0" stop-color="#ff1100"/><stop offset="0.05" stop-color="#ff2100"/><stop offset="0.1" stop-color="#ff5100"/><stop offset="0.15" stop-color="#ffb500"/><stop offset="0.2" stop-color="#c6f800"/><stop offset="0.25" stop-color="#62ff00"/><stop offset="0.3" stop-color="#18ff00"/><stop offset="0.35" stop-color="#00ff19"/><stop offset="0.4" stop-color="#00ff3b"/><stop offset="0.45" stop-color="#00ff48"/><stop offset="0.5" stop-color="#00ff55"/><stop offset="0.55" stop-color="#00ff73"/><stop offset="0.6" stop-color="#00ff96"/><stop offset="0.65" stop-color="#00ffd1"/><stop offset="0.7" stop-color="#00f8ff"/><stop offset="0.75" stop-color="#00a8ff"/><stop offset="0.8" stop-color="#0074ff"/><stop offset="0.85" stop-color="#0060ff"/><stop offset="0.9" stop-color="#025dff"/><stop offset="0.95" stop-color="#035bff"/><stop offset="1" stop-color="#0459ff"/></linearGradient><linearGradient id="gb20" gradientUnits="userSpaceOnUse" x1="412.3" x2="632" y1="0" y2="0"><stop offset="0" stop-color="#ff3e00"/><stop offset="0.05" stop-color="#ff5200"/><stop offset="0.1" stop-color="#ff9500"/><stop offset="0.15" stop-color="#f2f000"/><stop offset="0.2" stop-color="#81ff00"/><stop offset="0.25" stop-color="#24ff00"/><stop offset="0.3" stop-color="#00ff1c"/><stop offset="0.35" stop-color="#00ff4a"/><stop offset="0.4" stop-color="#00ff6b"/><stop offset="0.45" stop-color="#00ff7c"/><stop offset="0.5" stop-color="#00ff8d"/><stop offset="0.55" stop-color="#00ffac"/><stop offset="0.6" stop-color="#00ffca"/><stop offset="0.65" stop-color="#00fcff"/><stop offset="0.7" stop-color="#00d0ff"/><stop offset="0.75" stop-color="#008cff"/><stop offset="0.8" stop-color="#025cff"/><stop offset="0.85" stop-color="#0b4bff"/><stop offset="0.9" stop-color="#0c48ff"/><stop offset="0.95" stop-color="#0d46ff"/><stop offset="1" stop-color="#0e45ff"/></linearGradient><linearGradient id="gb21" gradientUnits="userSpaceOnUse" x1="412.3" x2="632" y1="0" y2="0"><stop offset="0" stop-color="#ff9c00"/><stop offset="0.05" stop-color="#ffb900"/><stop offset="0.1" stop-color="#eff100"/><stop offset="0.15" stop-color="#8bff00"/><stop offset="0.2" stop-color="#23ff00"/><stop offset="0.25" stop-color="#00ff26"/><stop offset="0.3" stop-color="#00ff5c"/><stop offset="0.35" stop-color="#00ff86"/><stop offset="0.4" stop-color="#00ffa4"/><stop offset="0.45" stop-color="#00ffb3"/><stop offset="0.5" stop-color="#00ffc1"/><stop offset="0.55" stop-color="#00ffdf"/><stop offset="0.6" stop-color="#00fffe"/><stop offset="0.65" stop-color="#00d3ff"/><stop offset="0.7" stop-color="#00aaff"/><stop offset="0.75" stop-color="#0070ff"/><stop offset="0.8" stop-color="#0d47ff"/><stop offset="0.85" stop-color="#1437ff"/><stop offset="0.9" stop-color="#1535ff"/><stop offset="0.95" stop-color="#1634ff"/><stop offset="1" stop-color="#1733ff"/></linearGradient><linearGradient id="gb22" gradientUnits="userSpaceOnUse" x1="412.3" x2="632" y1="0" y2="0"><stop offset="0" stop-color="#c2f900"/><stop offset="0.05" stop-color="#a6fe00"/><stop offset="0.1" stop-color="#5eff00"/><stop offset="0.15" stop-color="#07ff00"/><stop offset="0.2" stop-color="#00ff44"/><stop offset="0.25" stop-color="#00ff7a"/><stop offset="0.3" stop-color="#00ffa4"/><stop offset="0.35" stop-color="#00ffc0"/><stop offset="0.4" stop-color="#00ffd5"/><stop offset="0.45" stop-color="#00ffe5"/><stop offset="0.5" stop-color="#00fff5"/><stop offset="0.55" stop-color="#00eeff"/><stop offset="0.6" stop-color="#00d4ff"/><stop offset="0.65" stop-color="#00abff"/><stop offset="0.7" stop-color="#008bff"/><stop offset="0.75" stop-color="#0458ff"/><stop offset="0.8" stop-color="#1634ff"/><stop offset="0.85" stop-color="#1d27ff"/><stop offset="0.9" stop-color="#1e25ff"/><stop offset="0.95" stop-color="#1e24ff"/><stop offset="1" stop-color="#1e23ff"/></linearGradient><linearGradient id="gb23" gradientUnits="userSpaceOnUse" x1="412.3" x2="632" y1="0" y2="0"><stop offset="0" stop-color="#0cff00"/><stop offset="0.05" stop-color="#00ff0e"/><stop offset="0.1" stop-color="#00ff40"/><stop offset="0.15" stop-color="#00ff7a"/><stop offset="0.2" stop-color="#00ffaa"/><stop offset="0.25" stop-color="#00ffc6"/><stop offset="0.3" stop-color="#00ffe0"/><stop offset="0.35" stop-color="#00fff7"/><stop offset="0.4" stop-color="#00f6ff"/><stop offset="0.45" stop-color="#00e8ff"/><stop offset="0.5" stop-color="#00dcff"/><stop offset="0.55" stop-color="#00c3ff"/><stop offset="0.6" stop-color="#00abff"/><stop offset="0.65" stop-color="#008bff"/><stop offset="0.7" stop-color="#006fff"/><stop offset="0.75" stop-color="#0f42ff"/><stop offset="0.8" stop-color="#1e24ff"/><stop offset="0.85" stop-color="#251bff"/><stop offset="0.9" stop-color="#261aff"/><stop offset="0.95" stop-color="#2719ff"/><stop offset="1" stop-color="#2719ff"/></linearGradient><linearGradient id="gb24" gradientUnits="userSpaceOnUse" x1="412.3" x2="632" y1="0" y2="0"><stop offset="0" stop-color="#00ff9b"/><stop offset="0.05" stop-color="#00ffaa"/><stop offset="0.1" stop-color="#00ffc2"/><stop offset="0.15" stop-color="#00ffde"/><stop offset="0.2" stop-color="#00fff7"/><stop offset="0.25" stop-color="#00f7ff"/><stop offset="0.3" stop-color="#00e7ff"/><stop offset="0.35" stop-color="#00d7ff"/><stop offset="0.4" stop-color="#00caff"/><stop offset="0.45" stop-color="#00bdff"/><stop offset="0.5" stop-color="#00b1ff"/><stop offset="0.55" stop-color="#009eff"/><stop offset="0.6" stop-color="#008aff"/><stop offset="0.65" stop-color="#006eff"/><stop offset="0.7" stop-color="#0555ff"/><stop offset="0.75" stop-color="#1830ff"/><stop offset="0.8" stop-color="#2719ff"/><stop offset="0.85" stop-color="#2d13ff"/><stop offset="0.9" stop-color="#2e12ff"/><stop offset="0.95" stop-color="#2f11ff"/><stop offset="1" stop-color="#2f11ff"/></linearGradient><linearGradient id="gb25" gradientUnits="userSpaceOnUse" x1="412.3" x2="632" y1="0" y2="0"><stop offset="0" stop-color="#00f9ff"/><stop offset="0.05" stop-color="#00f1ff"/><stop offset="0.1" stop-color="#00e6ff"/><stop offset="0.15" stop-color="#00d8ff"/><stop offset="0.2" stop-color="#00ccff"/><stop offset="0.25" stop-color="#00c3ff"/><stop offset="0.3" stop-color="#00b7ff"/><stop offset="0.35" stop-color="#00acff"/><stop offset="0.4" stop-color="#00a2ff"/><stop offset="0.45" stop-color="#0099ff"/><stop offset="0.5" stop-color="#008fff"/><stop offset="0.55" stop-color="#007eff"/><stop offset="0.6" stop-color="#006dff"/><stop offset="0.65" stop-color="#0555ff"/><stop offset="0.7" stop-color="#1040ff"/><stop offset="0.75" stop-color="#1f21ff"/><stop offset="0.8" stop-color="#2e12ff"/><stop offset="0.85" stop-color="#340cff"/><stop offset="0.9" stop-color="#350bff"/><stop offset="0.95" stop-color="#350bff"/><stop offset="1" stop-color="#350bff"/></linearGradient><linearGradient id="gb26" gradientUnits="userSpaceOnUse" x1="412.3" x2="632" y1="0" y2="0"><stop offset="0" stop-color="#00b3ff"/><stop offset="0.05" stop-color="#00afff"/><stop offset="0.1" stop-color="#00a9ff"/><stop offset="0.15" stop-color="#00a3ff"/><stop offset="0.2" stop-color="#009dff"/><stop offset="0.25" stop-color="#0098ff"/><stop offset="0.3" stop-color="#0091ff"/><stop offset="0.35" stop-color="#0089ff"/><stop offset="0.4" stop-color="#0082ff"/><stop offset="0.45" stop-color="#0079ff"/><stop offset="0.5" stop-color="#0071ff"/><stop offset="0.55" stop-color="#0062ff"/><stop offset="0.6" stop-color="#0654ff"/><stop offset="0.65" stop-color="#1040ff"/><stop offset="0.7" stop-color="#192eff"/><stop offset="0.75" stop-color="#2818ff"/><stop offset="0.8" stop-color="#340cff"/><stop offset="0.85" stop-color="#3907ff"/><stop offset="0.9" stop-color="#3a06ff"/><stop offset="0.95" stop-color="#3a06ff"/><stop offset="1" stop-color="#3a06ff"/></linearGradient><linearGradient id="gb27" gradientUnits="userSpaceOnUse" x1="412.3" x2="632" y1="0" y2="0"><stop offset="0" stop-color="#0084ff"/><stop offset="0.05" stop-color="#0082ff"/><stop offset="0.1" stop-color="#007fff"/><stop offset="0.15" stop-color="#007bff"/><stop offset="0.2" stop-color="#0078ff"/><stop offset="0.25" stop-color="#0076ff"/><stop offset="0.3" stop-color="#0071ff"/><stop offset="0.35" stop-color="#006bff"/><stop offset="0.4" stop-color="#0065ff"/><stop offset="0.45" stop-color="#015eff"/><stop offset="0.5" stop-color="#0458ff"/><stop offset="0.55" stop-color="#0a4bff"/><stop offset="0.6" stop-color="#103fff"/><stop offset="0.65" stop-color="#192fff"/><stop offset="0.7" stop-color="#2020ff"/><stop offset="0.75" stop-color="#2f11ff"/><stop offset="0.8" stop-color="#3907ff"/><stop offset="0.85" stop-color="#3d03ff"/><stop offset="0.9" stop-color="#3e02ff"/><stop offset="0.95" stop-color="#3e02ff"/><stop offset="1" stop-color="#3e02ff"/></linearGradient><linearGradient id="gb28" gradientUnits="userSpaceOnUse" x1="412.3" x2="632" y1="0" y2="0"><stop offset="0" stop-color="#005fff"/><stop offset="0.05" stop-color="#015eff"/><stop offset="0.1" stop-color="#025dff"/><stop offset="0.15" stop-color="#025bff"/><stop offset="0.2" stop-color="#035aff"/><stop offset="0.25" stop-color="#0459ff"/><stop offset="0.3" stop-color="#0556ff"/><stop offset="0.35" stop-color="#0851ff"/><stop offset="0.4" stop-color="#0a4dff"/><stop offset="0.45" stop-color="#0c47ff"/><stop offset="0.5" stop-color="#0f42ff"/><stop offset="0.55" stop-color="#1439ff"/><stop offset="0.6" stop-color="#192fff"/><stop offset="0.65" stop-color="#2021ff"/><stop offset="0.7" stop-color="#2818ff"/><stop offset="0.75" stop-color="#340cff"/><stop offset="0.8" stop-color="#3c04ff"/><stop offset="0.85" stop-color="#4000ff"/><stop offset="0.9" stop-color="#4100ff"/><stop offset="0.95" stop-color="#4100ff"/><stop offset="1" stop-color="#4100ff"/></linearGradient><linearGradient id="gb29" gradientUnits="userSpaceOnUse" x1="412.3" x2="632" y1="0" y2="0"><stop offset="0" stop-color="#0e44ff"/><stop offset="0.05" stop-color="#0e43ff"/><stop offset="0.1" stop-color="#0f43ff"/><stop offset="0.15" stop-color="#0f42ff"/><stop offset="0.2" stop-color="#0f42ff"/><stop offset="0.25" stop-color="#0f42ff"/><stop offset="0.3" stop-color="#103fff"/><stop offset="0.35" stop-color="#123cff"/><stop offset="0.4" stop-color="#1339ff"/><stop offset="0.45" stop-color="#1635ff"/><stop offset="0.5" stop-color="#1731ff"/><stop offset="0.55" stop-color="#1b29ff"/><stop offset="0.6" stop-color="#1f21ff"/><stop offset="0.65" stop-color="#2719ff"/><stop offset="0.7" stop-color="#2e12ff"/><stop offset="0.75" stop-color="#3808ff"/><stop offset="0.8" stop-color="#3f01ff"/><stop offset="0.85" stop-color="#4200ff"/><stop offset="0.9" stop-color="#4400ff"/><stop offset="0.95" stop-color="#4400ff"/><stop offset="1" stop-color="#4400ff"/></linearGradient><linearGradient id="gb30" gradientUnits="userSpaceOnUse" x1="412.3" x2="632" y1="0" y2="0"><stop offset="0" stop-color="#192fff"/><stop offset="0.05" stop-color="#192fff"/><stop offset="0.1" stop-color="#182fff"/><stop offset="0.15" stop-color="#182fff"/><stop offset="0.2" stop-color="#182fff"/><stop offset="0.25" stop-color="#182fff"/><stop offset="0.3" stop-color="#192eff"/><stop offset="0.35" stop-color="#1a2bff"/><stop offset="0.4" stop-color="#1b29ff"/><stop offset="0.45" stop-color="#1d26ff"/><stop offset="0.5" stop-color="#1e24ff"/><stop offset="0.55" stop-color="#221eff"/><stop offset="0.6" stop-color="#2719ff"/><stop offset="0.65" stop-color="#2d13ff"/><stop offset="0.7" stop-color="#330dff"/><stop offset="0.75" stop-color="#3b05ff"/><stop offset="0.8" stop-color="#4100ff"/><stop offset="0.85" stop-color="#4400ff"/><stop offset="0.9" stop-color="#4600ff"/><stop offset="0.95" stop-color="#4600ff"/><stop offset="1" stop-color="#4600ff"/></linearGradient><linearGradient id="gb31" gradientUnits="userSpaceOnUse" x1="412.3" x2="632" y1="0" y2="0"><stop offset="0" stop-color="#2020ff"/><stop offset="0.05" stop-color="#2020ff"/><stop offset="0.1" stop-color="#2020ff"/><stop offset="0.15" stop-color="#2020ff"/><stop offset="0.2" stop-color="#2021ff"/><stop offset="0.25" stop-color="#2021ff"/><stop offset="0.3" stop-color="#2020ff"/><stop offset="0.35" stop-color="#211fff"/><stop offset="0.4" stop-color="#221eff"/><stop offset="0.45" stop-color="#241cff"/><stop offset="0.5" stop-color="#251bff"/><stop offset="0.55" stop-color="#2818ff"/><stop offset="0.6" stop-color="#2c14ff"/><stop offset="0.65" stop-color="#320eff"/><stop offset="0.7" stop-color="#3709ff"/><stop offset="0.75" stop-color="#3e02ff"/><stop offset="0.8" stop-color="#4300ff"/><stop offset="0.85" stop-color="#4600ff"/><stop offset="0.9" stop-color="#4700ff"/><stop offset="0.95" stop-color="#4800ff"/><stop offset="1" stop-color="#4700ff"/></linearGradient><linearGradient id="gb32" gradientUnits="userSpaceOnUse" x1="412.3" x2="632" y1="0" y2="0"><stop offset="0" stop-color="#2818ff"/><stop offset="0.05" stop-color="#2818ff"/><stop offset="0.1" stop-color="#2818ff"/><stop offset="0.15" stop-color="#2818ff"/><stop offset="0.2" stop-color="#2719ff"/><stop offset="0.25" stop-color="#2719ff"/><stop offset="0.3" stop-color="#2719ff"/><stop offset="0.35" stop-color="#2818ff"/><stop offset="0.4" stop-color="#2917ff"/><stop offset="0.45" stop-color="#2a16ff"/><stop offset="0.5" stop-color="#2b15ff"/><stop offset="0.55" stop-color="#2d13ff"/><stop offset="0.6" stop-color="#310fff"/><stop offset="0.65" stop-color="#350bff"/><stop offset="0.7" stop-color="#3a06ff"/><stop offset="0.75" stop-color="#3f01ff"/><stop offset="0.8" stop-color="#4400ff"/><stop offset="0.85" stop-color="#4700ff"/><stop offset="0.9" stop-color="#4800ff"/><stop offset="0.95" stop-color="#4900ff"/><stop offset="1" stop-color="#4900ff"/></linearGradient><linearGradient id="gb33" gradientUnits="userSpaceOnUse" x1="412.3" x2="632" y1="0" y2="0"><stop offset="0" stop-color="#2e12ff"/><stop offset="0.05" stop-color="#2e12ff"/><stop offset="0.1" stop-color="#2e12ff"/><stop offset="0.15" stop-color="#2d13ff"/><stop offset="0.2" stop-color="#2d13ff"/><stop offset="0.25" stop-color="#2d13ff"/><stop offset="0.3" stop-color="#2d13ff"/><stop offset="0.35" stop-color="#2d13ff"/><stop offset="0.4" stop-color="#2e12ff"/><stop offset="0.45" stop-color="#2f11ff"/><stop offset="0.5" stop-color="#2f11ff"/><stop offset="0.55" stop-color="#310fff"/><stop offset="0.6" stop-color="#340cff"/><stop offset="0.65" stop-color="#3808ff"/><stop offset="0.7" stop-color="#3c04ff"/><stop offset="0.75" stop-color="#4100ff"/><stop offset="0.8" stop-color="#4500ff"/><stop offset="0.85" stop-color="#4800ff"/><stop offset="0.9" stop-color="#4900ff"/><stop offset="0.95" stop-color="#4a00ff"/><stop offset="1" stop-color="#4900ff"/></linearGradient><linearGradient id="gb34" gradientUnits="userSpaceOnUse" x1="412.3" x2="632" y1="0" y2="0"><stop offset="0" stop-color="#330dff"/><stop offset="0.05" stop-color="#320eff"/><stop offset="0.1" stop-color="#320eff"/><stop offset="0.15" stop-color="#320eff"/><stop offset="0.2" stop-color="#310fff"/><stop offset="0.25" stop-color="#310fff"/><stop offset="0.3" stop-color="#310fff"/><stop offset="0.35" stop-color="#320eff"/><stop offset="0.4" stop-color="#320eff"/><stop offset="0.45" stop-color="#320eff"/><stop offset="0.5" stop-color="#330dff"/><stop offset="0.55" stop-color="#340cff"/><stop offset="0.6" stop-color="#3709ff"/><stop offset="0.65" stop-color="#3a06ff"/><stop offset="0.7" stop-color="#3e02ff"/><stop offset="0.75" stop-color="#4200ff"/><stop offset="0.8" stop-color="#4600ff"/><stop offset="0.85" stop-color="#4800ff"/><stop offset="0.9" stop-color="#4a00ff"/><stop offset="0.95" stop-color="#4a00ff"/><stop offset="1" stop-color="#4a00ff"/></linearGradient><linearGradient id="gb35" gradientUnits="userSpaceOnUse" x1="412.3" x2="632" y1="0" y2="0"><stop offset="0" stop-color="#360aff"/><stop offset="0.05" stop-color="#360aff"/><stop offset="0.1" stop-color="#350bff"/><stop offset="0.15" stop-color="#350bff"/><stop offset="0.2" stop-color="#350bff"/><stop offset="0.25" stop-color="#350bff"/><stop offset="0.3" stop-color="#350bff"/><stop offset="0.35" stop-color="#350bff"/><stop offset="0.4" stop-color="#350bff"/><stop offset="0.45" stop-color="#350bff"/><stop offset="0.5" stop-color="#350bff"/><stop offset="0.55" stop-color="#3709ff"/><stop offset="0.6" stop-color="#3907ff"/><stop offset="0.65" stop-color="#3c04ff"/><stop offset="0.7" stop-color="#3f01ff"/><stop offset="0.75" stop-color="#4300ff"/><stop offset="0.8" stop-color="#4600ff"/><stop offset="0.85" stop-color="#4900ff"/><stop offset="0.9" stop-color="#4a00ff"/><stop offset="0.95" stop-color="#4b00ff"/><stop offset="1" stop-color="#4b00ff"/></linearGradient><linearGradient id="gb36" gradientUnits="userSpaceOnUse" x1="412.3" x2="632" y1="0" y2="0"><stop offset="0" stop-color="#3808ff"/><stop offset="0.05" stop-color="#3808ff"/><stop offset="0.1" stop-color="#3808ff"/><stop offset="0.15" stop-color="#3808ff"/><stop offset="0.2" stop-color="#3709ff"/><stop offset="0.25" stop-color="#3709ff"/><stop offset="0.3" stop-color="#3709ff"/><stop offset="0.35" stop-color="#3709ff"/><stop offset="0.4" stop-color="#3709ff"/><stop offset="0.45" stop-color="#3709ff"/><stop offset="0.5" stop-color="#3808ff"/><stop offset="0.55" stop-color="#3907ff"/><stop offset="0.6" stop-color="#3a06ff"/><stop offset="0.65" stop-color="#3d03ff"/><stop offset="0.7" stop-color="#4000ff"/><stop offset="0.75" stop-color="#4400ff"/><stop offset="0.8" stop-color="#4700ff"/><stop offset="0.85" stop-color="#4900ff"/><stop offset="0.9" stop-color="#4b00ff"/><stop offset="0.95" stop-color="#4b00ff"/><stop offset="1" stop-color="#4b00ff"/></linearGradient><linearGradient id="gb37" gradientUnits="userSpaceOnUse" x1="412.3" x2="632" y1="0" y2="0"><stop offset="0" stop-color="#3a06ff"/><stop offset="0.05" stop-color="#3a06ff"/><stop offset="0.1" stop-color="#3a06ff"/><stop offset="0.15" stop-color="#3a06ff"/><stop offset="0.2" stop-color="#3907ff"/><stop offset="0.25" stop-color="#3907ff"/><stop offset="0.3" stop-color="#3907ff"/><stop offset="0.35" stop-color="#3907ff"/><stop offset="0.4" stop-color="#3907ff"/><stop offset="0.45" stop-color="#3907ff"/><stop offset="0.5" stop-color="#3907ff"/><stop offset="0.55" stop-color="#3a06ff"/><stop offset="0.6" stop-color="#3c04ff"/><stop offset="0.65" stop-color="#3e02ff"/><stop offset="0.7" stop-color="#4100ff"/><stop offset="0.75" stop-color="#4400ff"/><stop offset="0.8" stop-color="#4700ff"/><stop offset="0.85" stop-color="#4a00ff"/><stop offset="0.9" stop-color="#4b00ff"/><stop offset="0.95" stop-color="#4b00ff"/><stop offset="1" stop-color="#4b00ff"/></linearGradient><linearGradient id="gb38" gradientUnits="userSpaceOnUse" x1="412.3" x2="632" y1="0" y2="0"><stop offset="0" stop-color="#3c04ff"/><stop offset="0.05" stop-color="#3b05ff"/><stop offset="0.1" stop-color="#3b05ff"/><stop offset="0.15" stop-color="#3b05ff"/><stop offset="0.2" stop-color="#3b05ff"/><stop offset="0.25" stop-color="#3b05ff"/><stop offset="0.3" stop-color="#3b05ff"/><stop offset="0.35" stop-color="#3b05ff"/><stop offset="0.4" stop-color="#3b05ff"/><stop offset="0.45" stop-color="#3b05ff"/><stop offset="0.5" stop-color="#3b05ff"/><stop offset="0.55" stop-color="#3c04ff"/><stop offset="0.6" stop-color="#3d03ff"/><stop offset="0.65" stop-color="#3f01ff"/><stop offset="0.7" stop-color="#4200ff"/><stop offset="0.75" stop-color="#4500ff"/><stop offset="0.8" stop-color="#4800ff"/><stop offset="0.85" stop-color="#4a00ff"/><stop offset="0.9" stop-color="#4b00ff"/><stop offset="0.95" stop-color="#4c00ff"/><stop offset="1" stop-color="#4c00ff"/></linearGradient><linearGradient id="gb39" gradientUnits="userSpaceOnUse" x1="412.3" x2="632" y1="0" y2="0"><stop offset="0" stop-color="#3d03ff"/><stop offset="0.05" stop-color="#3d03ff"/><stop offset="0.1" stop-color="#3d03ff"/><stop offset="0.15" stop-color="#3d03ff"/><stop offset="0.2" stop-color="#3c04ff"/><stop offset="0.25" stop-color="#3c04ff"/><stop offset="0.3" stop-color="#3c04ff"/><stop offset="0.35" stop-color="#3c04ff"/><stop offset="0.4" stop-color="#3c04ff"/><stop offset="0.45" stop-color="#3c04ff"/><stop offset="0.5" stop-color="#3c04ff"/><stop offset="0.55" stop-color="#3d03ff"/><stop offset="0.6" stop-color="#3e02ff"/><stop offset="0.65" stop-color="#4000ff"/><stop offset="0.7" stop-color="#4300ff"/><stop offset="0.75" stop-color="#4600ff"/><stop offset="0.8" stop-color="#4800ff"/><stop offset="0.85" stop-color="#4a00ff"/><stop offset="0.9" stop-color="#4b00ff"/><stop offset="0.95" stop-color="#4c00ff"/><stop offset="1" stop-color="#4c00ff"/></linearGradient><linearGradient id="gb40" gradientUnits="userSpaceOnUse" x1="412.3" x2="632" y1="0" y2="0"><stop offset="0" stop-color="#3e02ff"/><stop offset="0.05" stop-color="#3e02ff"/><stop offset="0.1" stop-color="#3e02ff"/><stop offset="0.15" stop-color="#3e02ff"/><stop offset="0.2" stop-color="#3e02ff"/><stop offset="0.25" stop-color="#3e02ff"/><stop offset="0.3" stop-color="#3e02ff"/><stop offset="0.35" stop-color="#3e02ff"/><stop offset="0.4" stop-color="#3e02ff"/><stop offset="0.45" stop-color="#3e02ff"/><stop offset="0.5" stop-color="#3d03ff"/><stop offset="0.55" stop-color="#3e02ff"/><stop offset="0.6" stop-color="#3f01ff"/><stop offset="0.65" stop-color="#4100ff"/><stop offset="0.7" stop-color="#4400ff"/><stop offset="0.75" stop-color="#4600ff"/><stop offset="0.8" stop-color="#4800ff"/><stop offset="0.85" stop-color="#4a00ff"/><stop offset="0.9" stop-color="#4b00ff"/><stop offset="0.95" stop-color="#4c00ff"/><stop offset="1" stop-color="#4c00ff"/></linearGradient><linearGradient id="gb41" gradientUnits="userSpaceOnUse" x1="412.3" x2="632" y1="0" y2="0"><stop offset="0" stop-color="#3f01ff"/><stop offset="0.05" stop-color="#3f01ff"/><stop offset="0.1" stop-color="#3f01ff"/><stop offset="0.15" stop-color="#3f01ff"/><stop offset="0.2" stop-color="#3f01ff"/><stop offset="0.25" stop-color="#3f01ff"/><stop offset="0.3" stop-color="#3f01ff"/><stop offset="0.35" stop-color="#3f01ff"/><stop offset="0.4" stop-color="#3f01ff"/><stop offset="0.45" stop-color="#3f01ff"/><stop offset="0.5" stop-color="#3f01ff"/><stop offset="0.55" stop-color="#3f01ff"/><stop offset="0.6" stop-color="#4000ff"/><stop offset="0.65" stop-color="#4200ff"/><stop offset="0.7" stop-color="#4400ff"/><stop offset="0.75" stop-color="#4700ff"/><stop offset="0.8" stop-color="#4900ff"/><stop offset="0.85" stop-color="#4a00ff"/><stop offset="0.9" stop-color="#4c00ff"/><stop offset="0.95" stop-color="#4c00ff"/><stop offset="1" stop-color="#4c00ff"/></linearGradient><linearGradient id="gb42" gradientUnits="userSpaceOnUse" x1="412.3" x2="632" y1="0" y2="0"><stop offset="0" stop-color="#4000ff"/><stop offset="0.05" stop-color="#4000ff"/><stop offset="0.1" stop-color="#4000ff"/><stop offset="0.15" stop-color="#4000ff"/><stop offset="0.2" stop-color="#4000ff"/><stop offset="0.25" stop-color="#4000ff"/><stop offset="0.3" stop-color="#4000ff"/><stop offset="0.35" stop-color="#4000ff"/><stop offset="0.4" stop-color="#4000ff"/><stop offset="0.45" stop-color="#4000ff"/><stop offset="0.5" stop-color="#4000ff"/><stop offset="0.55" stop-color="#4000ff"/><stop offset="0.6" stop-color="#4100ff"/><stop offset="0.65" stop-color="#4300ff"/><stop offset="0.7" stop-color="#4500ff"/><stop offset="0.75" stop-color="#4700ff"/><stop offset="0.8" stop-color="#4900ff"/><stop offset="0.85" stop-color="#4b00ff"/><stop offset="0.9" stop-color="#4c00ff"/><stop offset="0.95" stop-color="#4c00ff"/><stop offset="1" stop-color="#4c00ff"/></linearGradient><linearGradient id="gb43" gradientUnits="userSpaceOnUse" x1="412.3" x2="632" y1="0" y2="0"><stop offset="0" stop-color="#4100ff"/><stop offset="0.05" stop-color="#4100ff"/><stop offset="0.1" stop-color="#4100ff"/><stop offset="0.15" stop-color="#4100ff"/><stop offset="0.2" stop-color="#4100ff"/><stop offset="0.25" stop-color="#4100ff"/><stop offset="0.3" stop-color="#4100ff"/><stop offset="0.35" stop-color="#4100ff"/><stop offset="0.4" stop-color="#4100ff"/><stop offset="0.45" stop-color="#4100ff"/><stop offset="0.5" stop-color="#4100ff"/><stop offset="0.55" stop-color="#4100ff"/><stop offset="0.6" stop-color="#4200ff"/><stop offset="0.65" stop-color="#4400ff"/><stop offset="0.7" stop-color="#4600ff"/><stop offset="0.75" stop-color="#4800ff"/><stop offset="0.8" stop-color="#4900ff"/><stop offset="0.85" stop-color="#4b00ff"/><stop offset="0.9" stop-color="#4c00ff"/><stop offset="0.95" stop-color="#4c00ff"/><stop offset="1" stop-color="#4c00ff"/></linearGradient><linearGradient id="gb44" gradientUnits="userSpaceOnUse" x1="412.3" x2="632" y1="0" y2="0"><stop offset="0" stop-color="#4300ff"/><stop offset="0.05" stop-color="#4300ff"/><stop offset="0.1" stop-color="#4300ff"/><stop offset="0.15" stop-color="#4300ff"/><stop offset="0.2" stop-color="#4300ff"/><stop offset="0.25" stop-color="#4300ff"/><stop offset="0.3" stop-color="#4200ff"/><stop offset="0.35" stop-color="#4200ff"/><stop offset="0.4" stop-color="#4200ff"/><stop offset="0.45" stop-color="#4200ff"/><stop offset="0.5" stop-color="#4200ff"/><stop offset="0.55" stop-color="#4200ff"/><stop offset="0.6" stop-color="#4300ff"/><stop offset="0.65" stop-color="#4500ff"/><stop offset="0.7" stop-color="#4600ff"/><stop offset="0.75" stop-color="#4800ff"/><stop offset="0.8" stop-color="#4a00ff"/><stop offset="0.85" stop-color="#4b00ff"/><stop offset="0.9" stop-color="#4c00ff"/><stop offset="0.95" stop-color="#4c00ff"/><stop offset="1" stop-color="#4c00ff"/></linearGradient><linearGradient id="gb45" gradientUnits="userSpaceOnUse" x1="412.3" x2="632" y1="0" y2="0"><stop offset="0" stop-color="#4400ff"/><stop offset="0.05" stop-color="#4400ff"/><stop offset="0.1" stop-color="#4400ff"/><stop offset="0.15" stop-color="#4400ff"/><stop offset="0.2" stop-color="#4400ff"/><stop offset="0.25" stop-color="#4400ff"/><stop offset="0.3" stop-color="#4400ff"/><stop offset="0.35" stop-color="#4400ff"/><stop offset="0.4" stop-color="#4400ff"/><stop offset="0.45" stop-color="#4400ff"/><stop offset="0.5" stop-color="#4300ff"/><stop offset="0.55" stop-color="#4400ff"/><stop offset="0.6" stop-color="#4400ff"/><stop offset="0.65" stop-color="#4600ff"/><stop offset="0.7" stop-color="#4700ff"/><stop offset="0.75" stop-color="#4900ff"/><stop offset="0.8" stop-color="#4a00ff"/><stop offset="0.85" stop-color="#4b00ff"/><stop offset="0.9" stop-color="#4c00ff"/><stop offset="0.95" stop-color="#4c00ff"/><stop offset="1" stop-color="#4c00ff"/></linearGradient><linearGradient id="gb46" gradientUnits="userSpaceOnUse" x1="412.3" x2="632" y1="0" y2="0"><stop offset="0" stop-color="#4500ff"/><stop offset="0.05" stop-color="#4500ff"/><stop offset="0.1" stop-color="#4500ff"/><stop offset="0.15" stop-color="#4500ff"/><stop offset="0.2" stop-color="#4500ff"/><stop offset="0.25" stop-color="#4500ff"/><stop offset="0.3" stop-color="#4500ff"/><stop offset="0.35" stop-color="#4500ff"/><stop offset="0.4" stop-color="#4500ff"/><stop offset="0.45" stop-color="#4500ff"/><stop offset="0.5" stop-color="#4500ff"/><stop offset="0.55" stop-color="#4500ff"/><stop offset="0.6" stop-color="#4500ff"/><stop offset="0.65" stop-color="#4700ff"/><stop offset="0.7" stop-color="#4800ff"/><stop offset="0.75" stop-color="#4900ff"/><stop offset="0.8" stop-color="#4a00ff"/><stop offset="0.85" stop-color="#4b00ff"/><stop offset="0.9" stop-color="#4c00ff"/><stop offset="0.95" stop-color="#4c00ff"/><stop offset="1" stop-color="#4c00ff"/></linearGradient><linearGradient id="gb47" gradientUnits="userSpaceOnUse" x1="412.3" x2="632" y1="0" y2="0"><stop offset="0" stop-color="#4600ff"/><stop offset="0.05" stop-color="#4600ff"/><stop offset="0.1" stop-color="#4600ff"/><stop offset="0.15" stop-color="#4600ff"/><stop offset="0.2" stop-color="#4600ff"/><stop offset="0.25" stop-color="#4600ff"/><stop offset="0.3" stop-color="#4600ff"/><stop offset="0.35" stop-color="#4600ff"/><stop offset="0.4" stop-color="#4600ff"/><stop offset="0.45" stop-color="#4600ff"/><stop offset="0.5" stop-color="#4600ff"/><stop offset="0.55" stop-color="#4600ff"/><stop offset="0.6" stop-color="#4700ff"/><stop offset="0.65" stop-color="#4700ff"/><stop offset="0.7" stop-color="#4900ff"/><stop offset="0.75" stop-color="#4a00ff"/><stop offset="0.8" stop-color="#4b00ff"/><stop offset="0.85" stop-color="#4b00ff"/><stop offset="0.9" stop-color="#4c00ff"/><stop offset="0.95" stop-color="#4c00ff"/><stop offset="1" stop-color="#4c00ff"/></linearGradient><linearGradient id="gb48" gradientUnits="userSpaceOnUse" x1="412.3" x2="632" y1="0" y2="0"><stop offset="0" stop-color="#4800ff"/><stop offset="0.05" stop-color="#4800ff"/><stop offset="0.1" stop-color="#4800ff"/><stop offset="0.15" stop-color="#4800ff"/><stop offset="0.2" stop-color="#4800ff"/><stop offset="0.25" stop-color="#4800ff"/><stop offset="0.3" stop-color="#4700ff"/><stop offset="0.35" stop-color="#4700ff"/><stop offset="0.4" stop-color="#4700ff"/><stop offset="0.45" stop-color="#4700ff"/><stop offset="0.5" stop-color="#4700ff"/><stop offset="0.55" stop-color="#4700ff"/><stop offset="0.6" stop-color="#4800ff"/><stop offset="0.65" stop-color="#4800ff"/><stop offset="0.7" stop-color="#4900ff"/><stop offset="0.75" stop-color="#4a00ff"/><stop offset="0.8" stop-color="#4b00ff"/><stop offset="0.85" stop-color="#4c00ff"/><stop offset="0.9" stop-color="#4c00ff"/><stop offset="0.95" stop-color="#4c00ff"/><stop offset="1" stop-color="#4c00ff"/></linearGradient><linearGradient id="gb49" gradientUnits="userSpaceOnUse" x1="412.3" x2="632" y1="0" y2="0"><stop offset="0" stop-color="#4900ff"/><stop offset="0.05" stop-color="#4900ff"/><stop offset="0.1" stop-color="#4900ff"/><stop offset="0.15" stop-color="#4900ff"/><stop offset="0.2" stop-color="#4900ff"/><stop offset="0.25" stop-color="#4900ff"/><stop offset="0.3" stop-color="#4900ff"/><stop offset="0.35" stop-color="#4900ff"/><stop offset="0.4" stop-color="#4900ff"/><stop offset="0.45" stop-color="#4900ff"/><stop offset="0.5" stop-color="#4800ff"/><stop offset="0.55" stop-color="#4800ff"/><stop offset="0.6" stop-color="#4900ff"/><stop offset="0.65" stop-color="#4900ff"/><stop offset="0.7" stop-color="#4a00ff"/><stop offset="0.75" stop-color="#4b00ff"/><stop offset="0.8" stop-color="#4b00ff"/><stop offset="0.85" stop-color="#4c00ff"/><stop offset="0.9" stop-color="#4c00ff"/><stop offset="0.95" stop-color="#4c00ff"/><stop offset="1" stop-color="#4c00ff"/></linearGradient><linearGradient id="gb50" gradientUnits="userSpaceOnUse" x1="412.3" x2="632" y1="0" y2="0"><stop offset="0" stop-color="#4a00ff"/><stop offset="0.05" stop-color="#4a00ff"/><stop offset="0.1" stop-color="#4a00ff"/><stop offset="0.15" stop-color="#4a00ff"/><stop offset="0.2" stop-color="#4a00ff"/><stop offset="0.25" stop-color="#4a00ff"/><stop offset="0.3" stop-color="#4a00ff"/><stop offset="0.35" stop-color="#4a00ff"/><stop offset="0.4" stop-color="#4a00ff"/><stop offset="0.45" stop-color="#4a00ff"/><stop offset="0.5" stop-color="#4a00ff"/><stop offset="0.55" stop-color="#4900ff"/><stop offset="0.6" stop-color="#4a00ff"/><stop offset="0.65" stop-color="#4a00ff"/><stop offset="0.7" stop-color="#4b00ff"/><stop offset="0.75" stop-color="#4b00ff"/><stop offset="0.8" stop-color="#4c00ff"/><stop offset="0.85" stop-color="#4c00ff"/><stop offset="0.9" stop-color="#4c00ff"/><stop offset="0.95" stop-color="#4c00ff"/><stop offset="1" stop-color="#4c00ff"/></linearGradient><linearGradient id="gb51" gradientUnits="userSpaceOnUse" x1="412.3" x2="632" y1="0" y2="0"><stop offset="0" stop-color="#4b00ff"/><stop offset="0.05" stop-color="#4b00ff"/><stop offset="0.1" stop-color="#4b00ff"/><stop offset="0.15" stop-color="#4b00ff"/><stop offset="0.2" stop-color="#4b00ff"/><stop offset="0.25" stop-color="#4b00ff"/><stop offset="0.3" stop-color="#4b00ff"/><stop offset="0.35" stop-color="#4b00ff"/><stop offset="0.4" stop-color="#4b00ff"/><stop offset="0.45" stop-color="#4b00ff"/><stop offset="0.5" stop-color="#4b00ff"/><stop offset="0.55" stop-color="#4b00ff"/><stop offset="0.6" stop-color="#4b00ff"/><stop offset="0.65" stop-color="#4b00ff"/><stop offset="0.7" stop-color="#4b00ff"/><stop offset="0.75" stop-color="#4c00ff"/><stop offset="0.8" stop-color="#4c00ff"/><stop offset="0.85" stop-color="#4c00ff"/><stop offset="0.9" stop-color="#4c00ff"/><stop offset="0.95" stop-color="#4c00ff"/><stop offset="1" stop-color="#4c00ff"/></linearGradient><linearGradient id="gb52" gradientUnits="userSpaceOnUse" x1="412.3" x2="632" y1="0" y2="0"><stop offset="0" stop-color="#4d00ff"/><stop offset="0.05" stop-color="#4d00ff"/><stop offset="0.1" stop-color="#4c00ff"/><stop offset="0.15" stop-color="#4c00ff"/><stop offset="0.2" stop-color="#4c00ff"/><stop offset="0.25" stop-color="#4c00ff"/><stop offset="0.3" stop-color="#4c00ff"/><stop offset="0.35" stop-color="#4c00ff"/><stop offset="0.4" stop-color="#4c00ff"/><stop offset="0.45" stop-color="#4c00ff"/><stop offset="0.5" stop-color="#4c00ff"/><stop offset="0.55" stop-color="#4c00ff"/><stop offset="0.6" stop-color="#4c00ff"/><stop offset="0.65" stop-color="#4c00ff"/><stop offset="0.7" stop-color="#4c00ff"/><stop offset="0.75" stop-color="#4c00ff"/><stop offset="0.8" stop-color="#4c00ff"/><stop offset="0.85" stop-color="#4c00ff"/><stop offset="0.9" stop-color="#4c00ff"/><stop offset="0.95" stop-color="#4c00ff"/><stop offset="1" stop-color="#4c00ff"/></linearGradient><linearGradient id="gb53" gradientUnits="userSpaceOnUse" x1="412.3" x2="632" y1="0" y2="0"><stop offset="0" stop-color="#4e00ff"/><stop offset="0.05" stop-color="#4e00ff"/><stop offset="0.1" stop-color="#4e00ff"/><stop offset="0.15" stop-color="#4e00ff"/><stop offset="0.2" stop-color="#4e00ff"/><stop offset="0.25" stop-color="#4e00ff"/><stop offset="0.3" stop-color="#4e00ff"/><stop offset="0.35" stop-color="#4e00ff"/><stop offset="0.4" stop-color="#4d00ff"/><stop offset="0.45" stop-color="#4d00ff"/><stop offset="0.5" stop-color="#4d00ff"/><stop offset="0.55" stop-color="#4d00ff"/><stop offset="0.6" stop-color="#4d00ff"/><stop offset="0.65" stop-color="#4d00ff"/><stop offset="0.7" stop-color="#4d00ff"/><stop offset="0.75" stop-color="#4d00ff"/><stop offset="0.8" stop-color="#4c00ff"/><stop offset="0.85" stop-color="#4c00ff"/><stop offset="0.9" stop-color="#4c00ff"/><stop offset="0.95" stop-color="#4c00ff"/><stop offset="1" stop-color="#4c00ff"/></linearGradient><linearGradient id="gb54" gradientUnits="userSpaceOnUse" x1="412.3" x2="632" y1="0" y2="0"><stop offset="0" stop-color="#4f00ff"/><stop offset="0.05" stop-color="#4f00ff"/><stop offset="0.1" stop-color="#4f00ff"/><stop offset="0.15" stop-color="#4f00ff"/><stop offset="0.2" stop-color="#4f00ff"/><stop offset="0.25" stop-color="#4f00ff"/><stop offset="0.3" stop-color="#4f00ff"/><stop offset="0.35" stop-color="#4f00ff"/><stop offset="0.4" stop-color="#4f00ff"/><stop offset="0.45" stop-color="#4e00ff"/><stop offset="0.5" stop-color="#4e00ff"/><stop offset="0.55" stop-color="#4e00ff"/><stop offset="0.6" stop-color="#4e00ff"/><stop offset="0.65" stop-color="#4e00ff"/><stop offset="0.7" stop-color="#4d00ff"/><stop offset="0.75" stop-color="#4d00ff"/><stop offset="0.8" stop-color="#4d00ff"/><stop offset="0.85" stop-color="#4c00ff"/><stop offset="0.9" stop-color="#4c00ff"/><stop offset="0.95" stop-color="#4c00ff"/><stop offset="1" stop-color="#4c00ff"/></linearGradient><linearGradient id="gb55" gradientUnits="userSpaceOnUse" x1="412.3" x2="632" y1="0" y2="0"><stop offset="0" stop-color="#5000ff"/><stop offset="0.05" stop-color="#5000ff"/><stop offset="0.1" stop-color="#5000ff"/><stop offset="0.15" stop-color="#5000ff"/><stop offset="0.2" stop-color="#5000ff"/><stop offset="0.25" stop-color="#5000ff"/><stop offset="0.3" stop-color="#5000ff"/><stop offset="0.35" stop-color="#5000ff"/><stop offset="0.4" stop-color="#5000ff"/><stop offset="0.45" stop-color="#5000ff"/><stop offset="0.5" stop-color="#4f00ff"/><stop offset="0.55" stop-color="#4f00ff"/><stop offset="0.6" stop-color="#4f00ff"/><stop offset="0.65" stop-color="#4e00ff"/><stop offset="0.7" stop-color="#4e00ff"/><stop offset="0.75" stop-color="#4d00ff"/><stop offset="0.8" stop-color="#4d00ff"/><stop offset="0.85" stop-color="#4c00ff"/><stop offset="0.9" stop-color="#4c00ff"/><stop offset="0.95" stop-color="#4c00ff"/><stop offset="1" stop-color="#4c00ff"/></linearGradient><linearGradient id="gb56" gradientUnits="userSpaceOnUse" x1="412.3" x2="632" y1="0" y2="0"><stop offset="0" stop-color="#5100ff"/><stop offset="0.05" stop-color="#5100ff"/><stop offset="0.1" stop-color="#5100ff"/><stop offset="0.15" stop-color="#5100ff"/><stop offset="0.2" stop-color="#5100ff"/><stop offset="0.25" stop-color="#5100ff"/><stop offset="0.3" stop-color="#5100ff"/><stop offset="0.35" stop-color="#5100ff"/><stop offset="0.4" stop-color="#5100ff"/><stop offset="0.45" stop-color="#5100ff"/><stop offset="0.5" stop-color="#5000ff"/><stop offset="0.55" stop-color="#5000ff"/><stop offset="0.6" stop-color="#5000ff"/><stop offset="0.65" stop-color="#4f00ff"/><stop offset="0.7" stop-color="#4f00ff"/><stop offset="0.75" stop-color="#4e00ff"/><stop offset="0.8" stop-color="#4d00ff"/><stop offset="0.85" stop-color="#4d00ff"/><stop offset="0.9" stop-color="#4c00ff"/><stop offset="0.95" stop-color="#4c00ff"/><stop offset="1" stop-color="#4c00ff"/></linearGradient><linearGradient id="gb57" gradientUnits="userSpaceOnUse" x1="412.3" x2="632" y1="0" y2="0"><stop offset="0" stop-color="#5200ff"/><stop offset="0.05" stop-color="#5200ff"/><stop offset="0.1" stop-color="#5200ff"/><stop offset="0.15" stop-color="#5200ff"/><stop offset="0.2" stop-color="#5200ff"/><stop offset="0.25" stop-color="#5200ff"/><stop offset="0.3" stop-color="#5200ff"/><stop offset="0.35" stop-color="#5200ff"/><stop offset="0.4" stop-color="#5200ff"/><stop offset="0.45" stop-color="#5200ff"/><stop offset="0.5" stop-color="#5100ff"/><stop offset="0.55" stop-color="#5100ff"/><stop offset="0.6" stop-color="#5000ff"/><stop offset="0.65" stop-color="#5000ff"/><stop offset="0.7" stop-color="#4f00ff"/><stop offset="0.75" stop-color="#4e00ff"/><stop offset="0.8" stop-color="#4d00ff"/><stop offset="0.85" stop-color="#4d00ff"/><stop offset="0.9" stop-color="#4c00ff"/><stop offset="0.95" stop-color="#4c00ff"/><stop offset="1" stop-color="#4c00ff"/></linearGradient><linearGradient id="gb58" gradientUnits="userSpaceOnUse" x1="412.3" x2="632" y1="0" y2="0"><stop offset="0" stop-color="#5300ff"/><stop offset="0.05" stop-color="#5300ff"/><stop offset="0.1" stop-color="#5300ff"/><stop offset="0.15" stop-color="#5300ff"/><stop offset="0.2" stop-color="#5300ff"/><stop offset="0.25" stop-color="#5300ff"/><stop offset="0.3" stop-color="#5300ff"/><stop offset="0.35" stop-color="#5300ff"/><stop offset="0.4" stop-color="#5300ff"/><stop offset="0.45" stop-color="#5300ff"/><stop offset="0.5" stop-color="#5200ff"/><stop offset="0.55" stop-color="#5200ff"/><stop offset="0.6" stop-color="#5100ff"/><stop offset="0.65" stop-color="#5100ff"/><stop offset="0.7" stop-color="#5000ff"/><stop offset="0.75" stop-color="#4f00ff"/><stop offset="0.8" stop-color="#4e00ff"/><stop offset="0.85" stop-color="#4d00ff"/><stop offset="0.9" stop-color="#4c00ff"/><stop offset="0.95" stop-color="#4c00ff"/><stop offset="1" stop-color="#4c00ff"/></linearGradient><linearGradient id="gb59" gradientUnits="userSpaceOnUse" x1="412.3" x2="632" y1="0" y2="0"><stop offset="0" stop-color="#5400ff"/><stop offset="0.05" stop-color="#5400ff"/><stop offset="0.1" stop-color="#5400ff"/><stop offset="0.15" stop-color="#5400ff"/><stop offset="0.2" stop-color="#5400ff"/><stop offset="0.25" stop-color="#5400ff"/><stop offset="0.3" stop-color="#5400ff"/><stop offset="0.35" stop-color="#5400ff"/><stop offset="0.4" stop-color="#5400ff"/><stop offset="0.45" stop-color="#5300ff"/><stop offset="0.5" stop-color="#5300ff"/><stop offset="0.55" stop-color="#5300ff"/><stop offset="0.6" stop-color="#5200ff"/><stop offset="0.65" stop-color="#5100ff"/><stop offset="0.7" stop-color="#5000ff"/><stop offset="0.75" stop-color="#4f00ff"/><stop offset="0.8" stop-color="#4e00ff"/><stop offset="0.85" stop-color="#4d00ff"/><stop offset="0.9" stop-color="#4c00ff"/><stop offset="0.95" stop-color="#4c00ff"/><stop offset="1" stop-color="#4c00ff"/></linearGradient><linearGradient id="gb60" gradientUnits="userSpaceOnUse" x1="412.3" x2="632" y1="0" y2="0"><stop offset="0" stop-color="#5500ff"/><stop offset="0.05" stop-color="#5500ff"/><stop offset="0.1" stop-color="#5500ff"/><stop offset="0.15" stop-color="#5500ff"/><stop offset="0.2" stop-color="#5500ff"/><stop offset="0.25" stop-color="#5500ff"/><stop offset="0.3" stop-color="#5500ff"/><stop offset="0.35" stop-color="#5500ff"/><stop offset="0.4" stop-color="#5500ff"/><stop offset="0.45" stop-color="#5400ff"/><stop offset="0.5" stop-color="#5400ff"/><stop offset="0.55" stop-color="#5300ff"/><stop offset="0.6" stop-color="#5300ff"/><stop offset="0.65" stop-color="#5200ff"/><stop offset="0.7" stop-color="#5100ff"/><stop offset="0.75" stop-color="#4f00ff"/><stop offset="0.8" stop-color="#4e00ff"/><stop offset="0.85" stop-color="#4d00ff"/><stop offset="0.9" stop-color="#4c00ff"/><stop offset="0.95" stop-color="#4c00ff"/><stop offset="1" stop-color="#4c00ff"/></linearGradient><linearGradient id="gb61" gradientUnits="userSpaceOnUse" x1="412.3" x2="632" y1="0" y2="0"><stop offset="0" stop-color="#5600ff"/><stop offset="0.05" stop-color="#5600ff"/><stop offset="0.1" stop-color="#5600ff"/><stop offset="0.15" stop-color="#5600ff"/><stop offset="0.2" stop-color="#5600ff"/><stop offset="0.25" stop-color="#5600ff"/><stop offset="0.3" stop-color="#5600ff"/><stop offset="0.35" stop-color="#5600ff"/><stop offset="0.4" stop-color="#5500ff"/><stop offset="0.45" stop-color="#5500ff"/><stop offset="0.5" stop-color="#5500ff"/><stop offset="0.55" stop-color="#5400ff"/><stop offset="0.6" stop-color="#5300ff"/><stop offset="0.65" stop-color="#5200ff"/><stop offset="0.7" stop-color="#5100ff"/><stop offset="0.75" stop-color="#5000ff"/><stop offset="0.8" stop-color="#4e00ff"/><stop offset="0.85" stop-color="#4d00ff"/><stop offset="0.9" stop-color="#4c00ff"/><stop offset="0.95" stop-color="#4c00ff"/><stop offset="1" stop-color="#4c00ff"/></linearGradient><linearGradient id="gb62" gradientUnits="userSpaceOnUse" x1="412.3" x2="632" y1="0" y2="0"><stop offset="0" stop-color="#5600ff"/><stop offset="0.05" stop-color="#5600ff"/><stop offset="0.1" stop-color="#5600ff"/><stop offset="0.15" stop-color="#5600ff"/><stop offset="0.2" stop-color="#5600ff"/><stop offset="0.25" stop-color="#5600ff"/><stop offset="0.3" stop-color="#5600ff"/><stop offset="0.35" stop-color="#5600ff"/><stop offset="0.4" stop-color="#5600ff"/><stop offset="0.45" stop-color="#5600ff"/><stop offset="0.5" stop-color="#5500ff"/><stop offset="0.55" stop-color="#5500ff"/><stop offset="0.6" stop-color="#5400ff"/><stop offset="0.65" stop-color="#5300ff"/><stop offset="0.7" stop-color="#5200ff"/><stop offset="0.75" stop-color="#5000ff"/><stop offset="0.8" stop-color="#4f00ff"/><stop offset="0.85" stop-color="#4d00ff"/><stop offset="0.9" stop-color="#4c00ff"/><stop offset="0.95" stop-color="#4c00ff"/><stop offset="1" stop-color="#4d00ff"/></linearGradient><linearGradient id="gb63" gradientUnits="userSpaceOnUse" x1="412.3" x2="632" y1="0" y2="0"><stop offset="0" stop-color="#5700ff"/><stop offset="0.05" stop-color="#5700ff"/><stop offset="0.1" stop-color="#5700ff"/><stop offset="0.15" stop-color="#5700ff"/><stop offset="0.2" stop-color="#5700ff"/><stop offset="0.25" stop-color="#5700ff"/><stop offset="0.3" stop-color="#5700ff"/><stop offset="0.35" stop-color="#5700ff"/><stop offset="0.4" stop-color="#5700ff"/><stop offset="0.45" stop-color="#5700ff"/><stop offset="0.5" stop-color="#5600ff"/><stop offset="0.55" stop-color="#5600ff"/><stop offset="0.6" stop-color="#5500ff"/><stop offset="0.65" stop-color="#5400ff"/><stop offset="0.7" stop-color="#5200ff"/><stop offset="0.75" stop-color="#5100ff"/><stop offset="0.8" stop-color="#4f00ff"/><stop offset="0.85" stop-color="#4e00ff"/><stop offset="0.9" stop-color="#4d00ff"/><stop offset="0.95" stop-color="#4c00ff"/><stop offset="1" stop-color="#4d00ff"/></linearGradient><linearGradient id="gb64" gradientUnits="userSpaceOnUse" x1="412.3" x2="632" y1="0" y2="0"><stop offset="0" stop-color="#5800ff"/><stop offset="0.05" stop-color="#5800ff"/><stop offset="0.1" stop-color="#5800ff"/><stop offset="0.15" stop-color="#5800ff"/><stop offset="0.2" stop-color="#5800ff"/><stop offset="0.25" stop-color="#5800ff"/><stop offset="0.3" stop-color="#5800ff"/><stop offset="0.35" stop-color="#5800ff"/><stop offset="0.4" stop-color="#5800ff"/><stop offset="0.45" stop-color="#5700ff"/><stop offset="0.5" stop-color="#5700ff"/><stop offset="0.55" stop-color="#5600ff"/><stop offset="0.6" stop-color="#5500ff"/><stop offset="0.65" stop-color="#5400ff"/><stop offset="0.7" stop-color="#5300ff"/><stop offset="0.75" stop-color="#5100ff"/><stop offset="0.8" stop-color="#4f00ff"/><stop offset="0.85" stop-color="#4e00ff"/><stop offset="0.9" stop-color="#4d00ff"/><stop offset="0.95" stop-color="#4c00ff"/><stop offset="1" stop-color="#4d00ff"/></linearGradient><linearGradient id="gb65" gradientUnits="userSpaceOnUse" x1="412.3" x2="632" y1="0" y2="0"><stop offset="0" stop-color="#5900ff"/><stop offset="0.05" stop-color="#5900ff"/><stop offset="0.1" stop-color="#5900ff"/><stop offset="0.15" stop-color="#5900ff"/><stop offset="0.2" stop-color="#5900ff"/><stop offset="0.25" stop-color="#5900ff"/><stop offset="0.3" stop-color="#5900ff"/><stop offset="0.35" stop-color="#5900ff"/><stop offset="0.4" stop-color="#5800ff"/><stop offset="0.45" stop-color="#5800ff"/><stop offset="0.5" stop-color="#5800ff"/><stop offset="0.55" stop-color="#5700ff"/><stop offset="0.6" stop-color="#5600ff"/><stop offset="0.65" stop-color="#5500ff"/><stop offset="0.7" stop-color="#5300ff"/><stop offset="0.75" stop-color="#5100ff"/><stop offset="0.8" stop-color="#5000ff"/><stop offset="0.85" stop-color="#4e00ff"/><stop offset="0.9" stop-color="#4d00ff"/><stop offset="0.95" stop-color="#4d00ff"/><stop offset="1" stop-color="#4d00ff"/></linearGradient><linearGradient id="gb66" gradientUnits="userSpaceOnUse" x1="412.3" x2="632" y1="0" y2="0"><stop offset="0" stop-color="#5a00ff"/><stop offset="0.05" stop-color="#5a00ff"/><stop offset="0.1" stop-color="#5a00ff"/><stop offset="0.15" stop-color="#5a00ff"/><stop offset="0.2" stop-color="#5a00ff"/><stop offset="0.25" stop-color="#5a00ff"/><stop offset="0.3" stop-color="#5a00ff"/><stop offset="0.35" stop-color="#5900ff"/><stop offset="0.4" stop-color="#5900ff"/><stop offset="0.45" stop-color="#5900ff"/><stop offset="0.5" stop-color="#5900ff"/><stop offset="0.55" stop-color="#5800ff"/><stop offset="0.6" stop-color="#5700ff"/><stop offset="0.65" stop-color="#5600ff"/><stop offset="0.7" stop-color="#5400ff"/><stop offset="0.75" stop-color="#5200ff"/><stop offset="0.8" stop-color="#5000ff"/><stop offset="0.85" stop-color="#4f00ff"/><stop offset="0.9" stop-color="#4e00ff"/><stop offset="0.95" stop-color="#4d00ff"/><stop offset="1" stop-color="#4e00ff"/></linearGradient><linearGradient id="gb67" gradientUnits="userSpaceOnUse" x1="412.3" x2="632" y1="0" y2="0"><stop offset="0" stop-color="#5b00ff"/><stop offset="0.05" stop-color="#5b00ff"/><stop offset="0.1" stop-color="#5b00ff"/><stop offset="0.15" stop-color="#5b00ff"/><stop offset="0.2" stop-color="#5b00ff"/><stop offset="0.25" stop-color="#5b00ff"/><stop offset="0.3" stop-color="#5b00ff"/><stop offset="0.35" stop-color="#5a00ff"/><stop offset="0.4" stop-color="#5a00ff"/><stop offset="0.45" stop-color="#5a00ff"/><stop offset="0.5" stop-color="#5a00ff"/><stop offset="0.55" stop-color="#5900ff"/><stop offset="0.6" stop-color="#5800ff"/><stop offset="0.65" stop-color="#5600ff"/><stop offset="0.7" stop-color="#5500ff"/><stop offset="0.75" stop-color="#5300ff"/><stop offset="0.8" stop-color="#5100ff"/><stop offset="0.85" stop-color="#4f00ff"/><stop offset="0.9" stop-color="#4e00ff"/><stop offset="0.95" stop-color="#4e00ff"/><stop offset="1" stop-color="#4e00ff"/></linearGradient><linearGradient id="gb68" gradientUnits="userSpaceOnUse" x1="412.3" x2="632" y1="0" y2="0"><stop offset="0" stop-color="#5c00ff"/><stop offset="0.05" stop-color="#5c00ff"/><stop offset="0.1" stop-color="#5c00ff"/><stop offset="0.15" stop-color="#5c00ff"/><stop offset="0.2" stop-color="#5c00ff"/><stop offset="0.25" stop-color="#5c00ff"/><stop offset="0.3" stop-color="#5c00ff"/><stop offset="0.35" stop-color="#5c00ff"/><stop offset="0.4" stop-color="#5b00ff"/><stop offset="0.45" stop-color="#5b00ff"/><stop offset="0.5" stop-color="#5b00ff"/><stop offset="0.55" stop-color="#5a00ff"/><stop offset="0.6" stop-color="#5900ff"/><stop offset="0.65" stop-color="#5700ff"/><stop offset="0.7" stop-color="#5600ff"/><stop offset="0.75" stop-color="#5400ff"/><stop offset="0.8" stop-color="#5200ff"/><stop offset="0.85" stop-color="#5000ff"/><stop offset="0.9" stop-color="#4f00ff"/><stop offset="0.95" stop-color="#4f00ff"/><stop offset="1" stop-color="#4f00ff"/></linearGradient><linearGradient id="gb69" gradientUnits="userSpaceOnUse" x1="412.3" x2="632" y1="0" y2="0"><stop offset="0" stop-color="#5d00ff"/><stop offset="0.05" stop-color="#5d00ff"/><stop offset="0.1" stop-color="#5d00ff"/><stop offset="0.15" stop-color="#5d00ff"/><stop offset="0.2" stop-color="#5d00ff"/><stop offset="0.25" stop-color="#5d00ff"/><stop offset="0.3" stop-color="#5d00ff"/><stop offset="0.35" stop-color="#5d00ff"/><stop offset="0.4" stop-color="#5d00ff"/><stop offset="0.45" stop-color="#5c00ff"/><stop offset="0.5" stop-color="#5c00ff"/><stop offset="0.55" stop-color="#5b00ff"/><stop offset="0.6" stop-color="#5a00ff"/><stop offset="0.65" stop-color="#5900ff"/><stop offset="0.7" stop-color="#5700ff"/><stop offset="0.75" stop-color="#5500ff"/><stop offset="0.8" stop-color="#5300ff"/><stop offset="0.85" stop-color="#5100ff"/><stop offset="0.9" stop-color="#5000ff"/><stop offset="0.95" stop-color="#5000ff"/><stop offset="1" stop-color="#5000ff"/></linearGradient><linearGradient id="gb70" gradientUnits="userSpaceOnUse" x1="412.3" x2="632" y1="0" y2="0"><stop offset="0" stop-color="#5e00ff"/><stop offset="0.05" stop-color="#5e00ff"/><stop offset="0.1" stop-color="#5e00ff"/><stop offset="0.15" stop-color="#5e00ff"/><stop offset="0.2" stop-color="#5e00ff"/><stop offset="0.25" stop-color="#5e00ff"/><stop offset="0.3" stop-color="#5e00ff"/><stop offset="0.35" stop-color="#5e00ff"/><stop offset="0.4" stop-color="#5e00ff"/><stop offset="0.45" stop-color="#5d00ff"/><stop offset="0.5" stop-color="#5d00ff"/><stop offset="0.55" stop-color="#5c00ff"/><stop offset="0.6" stop-color="#5b00ff"/><stop offset="0.65" stop-color="#5a00ff"/><stop offset="0.7" stop-color="#5800ff"/><stop offset="0.75" stop-color="#5600ff"/><stop offset="0.8" stop-color="#5400ff"/><stop offset="0.85" stop-color="#5300ff"/><stop offset="0.9" stop-color="#5100ff"/><stop offset="0.95" stop-color="#5100ff"/><stop offset="1" stop-color="#5100ff"/></linearGradient><linearGradient id="gb71" gradientUnits="userSpaceOnUse" x1="412.3" x2="632" y1="0" y2="0"><stop offset="0" stop-color="#5f00ff"/><stop offset="0.05" stop-color="#5f00ff"/><stop offset="0.1" stop-color="#5f00ff"/><stop offset="0.15" stop-color="#5f00ff"/><stop offset="0.2" stop-color="#5f00ff"/><stop offset="0.25" stop-color="#5f00ff"/><stop offset="0.3" stop-color="#5f00ff"/><stop offset="0.35" stop-color="#5f00ff"/><stop offset="0.4" stop-color="#5f00ff"/><stop offset="0.45" stop-color="#5f00ff"/><stop offset="0.5" stop-color="#5e00ff"/><stop offset="0.55" stop-color="#5e00ff"/><stop offset="0.6" stop-color="#5d00ff"/><stop offset="0.65" stop-color="#5b00ff"/><stop offset="0.7" stop-color="#5900ff"/><stop offset="0.75" stop-color="#5700ff"/><stop offset="0.8" stop-color="#5600ff"/><stop offset="0.85" stop-color="#5400ff"/><stop offset="0.9" stop-color="#5300ff"/><stop offset="0.95" stop-color="#5200ff"/><stop offset="1" stop-color="#5300ff"/></linearGradient><linearGradient id="gb72" gradientUnits="userSpaceOnUse" x1="412.3" x2="632" y1="0" y2="0"><stop offset="0" stop-color="#6100ff"/><stop offset="0.05" stop-color="#6100ff"/><stop offset="0.1" stop-color="#6100ff"/><stop offset="0.15" stop-color="#6100ff"/><stop offset="0.2" stop-color="#6100ff"/><stop offset="0.25" stop-color="#6100ff"/><stop offset="0.3" stop-color="#6100ff"/><stop offset="0.35" stop-color="#6100ff"/><stop offset="0.4" stop-color="#6000ff"/><stop offset="0.45" stop-color="#6000ff"/><stop offset="0.5" stop-color="#6000ff"/><stop offset="0.55" stop-color="#5f00ff"/><stop offset="0.6" stop-color="#5e00ff"/><stop offset="0.65" stop-color="#5d00ff"/><stop offset="0.7" stop-color="#5b00ff"/><stop offset="0.75" stop-color="#5900ff"/><stop offset="0.8" stop-color="#5700ff"/><stop offset="0.85" stop-color="#5500ff"/><stop offset="0.9" stop-color="#5400ff"/><stop offset="0.95" stop-color="#5400ff"/><stop offset="1" stop-color="#5400ff"/></linearGradient><linearGradient id="gb73" gradientUnits="userSpaceOnUse" x1="412.3" x2="632" y1="0" y2="0"><stop offset="0" stop-color="#6200ff"/><stop offset="0.05" stop-color="#6200ff"/><stop offset="0.1" stop-color="#6200ff"/><stop offset="0.15" stop-color="#6200ff"/><stop offset="0.2" stop-color="#6200ff"/><stop offset="0.25" stop-color="#6200ff"/><stop offset="0.3" stop-color="#6200ff"/><stop offset="0.35" stop-color="#6200ff"/><stop offset="0.4" stop-color="#6200ff"/><stop offset="0.45" stop-color="#6200ff"/><stop offset="0.5" stop-color="#6100ff"/><stop offset="0.55" stop-color="#6000ff"/><stop offset="0.6" stop-color="#5f00ff"/><stop offset="0.65" stop-color="#5e00ff"/><stop offset="0.7" stop-color="#5c00ff"/><stop offset="0.75" stop-color="#5a00ff"/><stop offset="0.8" stop-color="#5900ff"/><stop offset="0.85" stop-color="#5700ff"/><stop offset="0.9" stop-color="#5600ff"/><stop offset="0.95" stop-color="#5500ff"/><stop offset="1" stop-color="#5600ff"/></linearGradient><linearGradient id="gb74" gradientUnits="userSpaceOnUse" x1="412.3" x2="632" y1="0" y2="0"><stop offset="0" stop-color="#6400ff"/><stop offset="0.05" stop-color="#6400ff"/><stop offset="0.1" stop-color="#6400ff"/><stop offset="0.15" stop-color="#6400ff"/><stop offset="0.2" stop-color="#6400ff"/><stop offset="0.25" stop-color="#6400ff"/><stop offset="0.3" stop-color="#6400ff"/><stop offset="0.35" stop-color="#6400ff"/><stop offset="0.4" stop-color="#6300ff"/><stop offset="0.45" stop-color="#6300ff"/><stop offset="0.5" stop-color="#6300ff"/><stop offset="0.55" stop-color="#6200ff"/><stop offset="0.6" stop-color="#6100ff"/><stop offset="0.65" stop-color="#6000ff"/><stop offset="0.7" stop-color="#5e00ff"/><stop offset="0.75" stop-color="#5c00ff"/><stop offset="0.8" stop-color="#5a00ff"/><stop offset="0.85" stop-color="#5900ff"/><stop offset="0.9" stop-color="#5800ff"/><stop offset="0.95" stop-color="#5700ff"/><stop offset="1" stop-color="#5800ff"/></linearGradient><linearGradient id="gb75" gradientUnits="userSpaceOnUse" x1="412.3" x2="632" y1="0" y2="0"><stop offset="0" stop-color="#6500ff"/><stop offset="0.05" stop-color="#6500ff"/><stop offset="0.1" stop-color="#6500ff"/><stop offset="0.15" stop-color="#6500ff"/><stop offset="0.2" stop-color="#6500ff"/><stop offset="0.25" stop-color="#6500ff"/><stop offset="0.3" stop-color="#6500ff"/><stop offset="0.35" stop-color="#6500ff"/><stop offset="0.4" stop-color="#6500ff"/><stop offset="0.45" stop-color="#6500ff"/><stop offset="0.5" stop-color="#6400ff"/><stop offset="0.55" stop-color="#6400ff"/><stop offset="0.6" stop-color="#6300ff"/><stop offset="0.65" stop-color="#6100ff"/><stop offset="0.7" stop-color="#6000ff"/><stop offset="0.75" stop-color="#5e00ff"/><stop offset="0.8" stop-color="#5c00ff"/><stop offset="0.85" stop-color="#5b00ff"/><stop offset="0.9" stop-color="#5900ff"/><stop offset="0.95" stop-color="#5900ff"/><stop offset="1" stop-color="#5900ff"/></linearGradient><linearGradient id="gb76" gradientUnits="userSpaceOnUse" x1="412.3" x2="632" y1="0" y2="0"><stop offset="0" stop-color="#6700ff"/><stop offset="0.05" stop-color="#6700ff"/><stop offset="0.1" stop-color="#6700ff"/><stop offset="0.15" stop-color="#6700ff"/><stop offset="0.2" stop-color="#6700ff"/><stop offset="0.25" stop-color="#6700ff"/><stop offset="0.3" stop-color="#6700ff"/><stop offset="0.35" stop-color="#6700ff"/><stop offset="0.4" stop-color="#6700ff"/><stop offset="0.45" stop-color="#6600ff"/><stop offset="0.5" stop-color="#6600ff"/><stop offset="0.55" stop-color="#6500ff"/><stop offset="0.6" stop-color="#6400ff"/><stop offset="0.65" stop-color="#6300ff"/><stop offset="0.7" stop-color="#6200ff"/><stop offset="0.75" stop-color="#6000ff"/><stop offset="0.8" stop-color="#5e00ff"/><stop offset="0.85" stop-color="#5c00ff"/><stop offset="0.9" stop-color="#5b00ff"/><stop offset="0.95" stop-color="#5b00ff"/><stop offset="1" stop-color="#5b00ff"/></linearGradient><linearGradient id="gb77" gradientUnits="userSpaceOnUse" x1="412.3" x2="632" y1="0" y2="0"><stop offset="0" stop-color="#6900ff"/><stop offset="0.05" stop-color="#6900ff"/><stop offset="0.1" stop-color="#6900ff"/><stop offset="0.15" stop-color="#6900ff"/><stop offset="0.2" stop-color="#6900ff"/><stop offset="0.25" stop-color="#6900ff"/><stop offset="0.3" stop-color="#6900ff"/><stop offset="0.35" stop-color="#6900ff"/><stop offset="0.4" stop-color="#6800ff"/><stop offset="0.45" stop-color="#6800ff"/><stop offset="0.5" stop-color="#6800ff"/><stop offset="0.55" stop-color="#6700ff"/><stop offset="0.6" stop-color="#6600ff"/><stop offset="0.65" stop-color="#6500ff"/><stop offset="0.7" stop-color="#6300ff"/><stop offset="0.75" stop-color="#6200ff"/><stop offset="0.8" stop-color="#6000ff"/><stop offset="0.85" stop-color="#5e00ff"/><stop offset="0.9" stop-color="#5d00ff"/><stop offset="0.95" stop-color="#5d00ff"/><stop offset="1" stop-color="#5d00ff"/></linearGradient><linearGradient id="gb78" gradientUnits="userSpaceOnUse" x1="412.3" x2="632" y1="0" y2="0"><stop offset="0" stop-color="#6a00ff"/><stop offset="0.05" stop-color="#6a00ff"/><stop offset="0.1" stop-color="#6a00ff"/><stop offset="0.15" stop-color="#6a00ff"/><stop offset="0.2" stop-color="#6a00ff"/><stop offset="0.25" stop-color="#6a00ff"/><stop offset="0.3" stop-color="#6a00ff"/><stop offset="0.35" stop-color="#6a00ff"/><stop offset="0.4" stop-color="#6a00ff"/><stop offset="0.45" stop-color="#6a00ff"/><stop offset="0.5" stop-color="#6900ff"/><stop offset="0.55" stop-color="#6900ff"/><stop offset="0.6" stop-color="#6800ff"/><stop offset="0.65" stop-color="#6700ff"/><stop offset="0.7" stop-color="#6500ff"/><stop offset="0.75" stop-color="#6400ff"/><stop offset="0.8" stop-color="#6200ff"/><stop offset="0.85" stop-color="#6100ff"/><stop offset="0.9" stop-color="#6000ff"/><stop offset="0.95" stop-color="#5f00ff"/><stop offset="1" stop-color="#6000ff"/></linearGradient><linearGradient id="gb79" gradientUnits="userSpaceOnUse" x1="412.3" x2="632" y1="0" y2="0"><stop offset="0" stop-color="#6c00ff"/><stop offset="0.05" stop-color="#6c00ff"/><stop offset="0.1" stop-color="#6c00ff"/><stop offset="0.15" stop-color="#6c00ff"/><stop offset="0.2" stop-color="#6c00ff"/><stop offset="0.25" stop-color="#6c00ff"/><stop offset="0.3" stop-color="#6c00ff"/><stop offset="0.35" stop-color="#6c00ff"/><stop offset="0.4" stop-color="#6c00ff"/><stop offset="0.45" stop-color="#6c00ff"/><stop offset="0.5" stop-color="#6b00ff"/><stop offset="0.55" stop-color="#6b00ff"/><stop offset="0.6" stop-color="#6a00ff"/><stop offset="0.65" stop-color="#6900ff"/><stop offset="0.7" stop-color="#6700ff"/><stop offset="0.75" stop-color="#6600ff"/><stop offset="0.8" stop-color="#6400ff"/><stop offset="0.85" stop-color="#6300ff"/><stop offset="0.9" stop-color="#6200ff"/><stop offset="0.95" stop-color="#6100ff"/><stop offset="1" stop-color="#6200ff"/></linearGradient><linearGradient id="gb80" gradientUnits="userSpaceOnUse" x1="412.3" x2="632" y1="0" y2="0"><stop offset="0" stop-color="#6e00ff"/><stop offset="0.05" stop-color="#6e00ff"/><stop offset="0.1" stop-color="#6e00ff"/><stop offset="0.15" stop-color="#6e00ff"/><stop offset="0.2" stop-color="#6e00ff"/><stop offset="0.25" stop-color="#6e00ff"/><stop offset="0.3" stop-color="#6e00ff"/><stop offset="0.35" stop-color="#6e00ff"/><stop offset="0.4" stop-color="#6e00ff"/><stop offset="0.45" stop-color="#6d00ff"/><stop offset="0.5" stop-color="#6d00ff"/><stop offset="0.55" stop-color="#6d00ff"/><stop offset="0.6" stop-color="#6c00ff"/><stop offset="0.65" stop-color="#6b00ff"/><stop offset="0.7" stop-color="#6900ff"/><stop offset="0.75" stop-color="#6800ff"/><stop offset="0.8" stop-color="#6600ff"/><stop offset="0.85" stop-color="#6500ff"/><stop offset="0.9" stop-color="#6400ff"/><stop offset="0.95" stop-color="#6400ff"/><stop offset="1" stop-color="#6400ff"/></linearGradient><linearGradient id="gb81" gradientUnits="userSpaceOnUse" x1="412.3" x2="632" y1="0" y2="0"><stop offset="0" stop-color="#7000ff"/><stop offset="0.05" stop-color="#7000ff"/><stop offset="0.1" stop-color="#7000ff"/><stop offset="0.15" stop-color="#7000ff"/><stop offset="0.2" stop-color="#7000ff"/><stop offset="0.25" stop-color="#7000ff"/><stop offset="0.3" stop-color="#7000ff"/><stop offset="0.35" stop-color="#7000ff"/><stop offset="0.4" stop-color="#6f00ff"/><stop offset="0.45" stop-color="#6f00ff"/><stop offset="0.5" stop-color="#6f00ff"/><stop offset="0.55" stop-color="#6e00ff"/><stop offset="0.6" stop-color="#6e00ff"/><stop offset="0.65" stop-color="#6d00ff"/><stop offset="0.7" stop-color="#6b00ff"/><stop offset="0.75" stop-color="#6a00ff"/><stop offset="0.8" stop-color="#6800ff"/><stop offset="0.85" stop-color="#6700ff"/><stop offset="0.9" stop-color="#6600ff"/><stop offset="0.95" stop-color="#6600ff"/><stop offset="1" stop-color="#6600ff"/></linearGradient><linearGradient id="gb82" gradientUnits="userSpaceOnUse" x1="412.3" x2="632" y1="0" y2="0"><stop offset="0" stop-color="#7100ff"/><stop offset="0.05" stop-color="#7100ff"/><stop offset="0.1" stop-color="#7100ff"/><stop offset="0.15" stop-color="#7100ff"/><stop offset="0.2" stop-color="#7100ff"/><stop offset="0.25" stop-color="#7100ff"/><stop offset="0.3" stop-color="#7100ff"/><stop offset="0.35" stop-color="#7100ff"/><stop offset="0.4" stop-color="#7100ff"/><stop offset="0.45" stop-color="#7100ff"/><stop offset="0.5" stop-color="#7000ff"/><stop offset="0.55" stop-color="#7000ff"/><stop offset="0.6" stop-color="#7000ff"/><stop offset="0.65" stop-color="#6f00ff"/><stop offset="0.7" stop-color="#6d00ff"/><stop offset="0.75" stop-color="#6c00ff"/><stop offset="0.8" stop-color="#6b00ff"/><stop offset="0.85" stop-color="#6a00ff"/><stop offset="0.9" stop-color="#6900ff"/><stop offset="0.95" stop-color="#6800ff"/><stop offset="1" stop-color="#6900ff"/></linearGradient><linearGradient id="gb83" gradientUnits="userSpaceOnUse" x1="412.3" x2="632" y1="0" y2="0"><stop offset="0" stop-color="#7200ff"/><stop offset="0.05" stop-color="#7200ff"/><stop offset="0.1" stop-color="#7200ff"/><stop offset="0.15" stop-color="#7200ff"/><stop offset="0.2" stop-color="#7200ff"/><stop offset="0.25" stop-color="#7200ff"/><stop offset="0.3" stop-color="#7200ff"/><stop offset="0.35" stop-color="#7200ff"/><stop offset="0.4" stop-color="#7200ff"/><stop offset="0.45" stop-color="#7200ff"/><stop offset="0.5" stop-color="#7200ff"/><stop offset="0.55" stop-color="#7100ff"/><stop offset="0.6" stop-color="#7100ff"/><stop offset="0.65" stop-color="#7000ff"/><stop offset="0.7" stop-color="#6f00ff"/><stop offset="0.75" stop-color="#6e00ff"/><stop offset="0.8" stop-color="#6d00ff"/><stop offset="0.85" stop-color="#6c00ff"/><stop offset="0.9" stop-color="#6b00ff"/><stop offset="0.95" stop-color="#6b00ff"/><stop offset="1" stop-color="#6b00ff"/></linearGradient><linearGradient id="gb84" gradientUnits="userSpaceOnUse" x1="412.3" x2="632" y1="0" y2="0"><stop offset="0" stop-color="#7300ff"/><stop offset="0.05" stop-color="#7300ff"/><stop offset="0.1" stop-color="#7300ff"/><stop offset="0.15" stop-color="#7300ff"/><stop offset="0.2" stop-color="#7300ff"/><stop offset="0.25" stop-color="#7300ff"/><stop offset="0.3" stop-color="#7300ff"/><stop offset="0.35" stop-color="#7300ff"/><stop offset="0.4" stop-color="#7300ff"/><stop offset="0.45" stop-color="#7300ff"/><stop offset="0.5" stop-color="#7300ff"/><stop offset="0.55" stop-color="#7200ff"/><stop offset="0.6" stop-color="#7200ff"/><stop offset="0.65" stop-color="#7200ff"/><stop offset="0.7" stop-color="#7100ff"/><stop offset="0.75" stop-color="#7000ff"/><stop offset="0.8" stop-color="#6f00ff"/><stop offset="0.85" stop-color="#6e00ff"/><stop offset="0.9" stop-color="#6d00ff"/><stop offset="0.95" stop-color="#6d00ff"/><stop offset="1" stop-color="#6d00ff"/></linearGradient><linearGradient id="gb85" gradientUnits="userSpaceOnUse" x1="412.3" x2="632" y1="0" y2="0"><stop offset="0" stop-color="#7400ff"/><stop offset="0.05" stop-color="#7400ff"/><stop offset="0.1" stop-color="#7400ff"/><stop offset="0.15" stop-color="#7400ff"/><stop offset="0.2" stop-color="#7400ff"/><stop offset="0.25" stop-color="#7400ff"/><stop offset="0.3" stop-color="#7400ff"/><stop offset="0.35" stop-color="#7400ff"/><stop offset="0.4" stop-color="#7400ff"/><stop offset="0.45" stop-color="#7400ff"/><stop offset="0.5" stop-color="#7400ff"/><stop offset="0.55" stop-color="#7400ff"/><stop offset="0.6" stop-color="#7300ff"/><stop offset="0.65" stop-color="#7300ff"/><stop offset="0.7" stop-color="#7200ff"/><stop offset="0.75" stop-color="#7100ff"/><stop offset="0.8" stop-color="#7100ff"/><stop offset="0.85" stop-color="#7000ff"/><stop offset="0.9" stop-color="#7000ff"/><stop offset="0.95" stop-color="#7000ff"/><stop offset="1" stop-color="#7000ff"/></linearGradient><linearGradient id="gb86" gradientUnits="userSpaceOnUse" x1="412.3" x2="632" y1="0" y2="0"><stop offset="0" stop-color="#7500ff"/><stop offset="0.05" stop-color="#7500ff"/><stop offset="0.1" stop-color="#7500ff"/><stop offset="0.15" stop-color="#7500ff"/><stop offset="0.2" stop-color="#7500ff"/><stop offset="0.25" stop-color="#7500ff"/><stop offset="0.3" stop-color="#7500ff"/><stop offset="0.35" stop-color="#7500ff"/><stop offset="0.4" stop-color="#7500ff"/><stop offset="0.45" stop-color="#7500ff"/><stop offset="0.5" stop-color="#7500ff"/><stop offset="0.55" stop-color="#7500ff"/><stop offset="0.6" stop-color="#7400ff"/><stop offset="0.65" stop-color="#7400ff"/><stop offset="0.7" stop-color="#7300ff"/><stop offset="0.75" stop-color="#7300ff"/><stop offset="0.8" stop-color="#7200ff"/><stop offset="0.85" stop-color="#7200ff"/><stop offset="0.9" stop-color="#7100ff"/><stop offset="0.95" stop-color="#7100ff"/><stop offset="1" stop-color="#7100ff"/></linearGradient><linearGradient id="gb87" gradientUnits="userSpaceOnUse" x1="412.3" x2="632" y1="0" y2="0"><stop offset="0" stop-color="#7600ff"/><stop offset="0.05" stop-color="#7600ff"/><stop offset="0.1" stop-color="#7600ff"/><stop offset="0.15" stop-color="#7600ff"/><stop offset="0.2" stop-color="#7600ff"/><stop offset="0.25" stop-color="#7600ff"/><stop offset="0.3" stop-color="#7600ff"/><stop offset="0.35" stop-color="#7600ff"/><stop offset="0.4" stop-color="#7600ff"/><stop offset="0.45" stop-color="#7600ff"/><stop offset="0.5" stop-color="#7600ff"/><stop offset="0.55" stop-color="#7600ff"/><stop offset="0.6" stop-color="#7500ff"/><stop offset="0.65" stop-color="#7500ff"/><stop offset="0.7" stop-color="#7500ff"/><stop offset="0.75" stop-color="#7400ff"/><stop offset="0.8" stop-color="#7300ff"/><stop offset="0.85" stop-color="#7300ff"/><stop offset="0.9" stop-color="#7300ff"/><stop offset="0.95" stop-color="#7300ff"/><stop offset="1" stop-color="#7300ff"/></linearGradient><linearGradient id="gb88" gradientUnits="userSpaceOnUse" x1="412.3" x2="632" y1="0" y2="0"><stop offset="0" stop-color="#7700ff"/><stop offset="0.05" stop-color="#7700ff"/><stop offset="0.1" stop-color="#7700ff"/><stop offset="0.15" stop-color="#7700ff"/><stop offset="0.2" stop-color="#7700ff"/><stop offset="0.25" stop-color="#7700ff"/><stop offset="0.3" stop-color="#7700ff"/><stop offset="0.35" stop-color="#7700ff"/><stop offset="0.4" stop-color="#7700ff"/><stop offset="0.45" stop-color="#7700ff"/><stop offset="0.5" stop-color="#7700ff"/><stop offset="0.55" stop-color="#7700ff"/><stop offset="0.6" stop-color="#7700ff"/><stop offset="0.65" stop-color="#7600ff"/><stop offset="0.7" stop-color="#7600ff"/><stop offset="0.75" stop-color="#7500ff"/><stop offset="0.8" stop-color="#7500ff"/><stop offset="0.85" stop-color="#7400ff"/><stop offset="0.9" stop-color="#7400ff"/><stop offset="0.95" stop-color="#7400ff"/><stop offset="1" stop-color="#7400ff"/></linearGradient><linearGradient id="gb89" gradientUnits="userSpaceOnUse" x1="412.3" x2="632" y1="0" y2="0"><stop offset="0" stop-color="#7800ff"/><stop offset="0.05" stop-color="#7800ff"/><stop offset="0.1" stop-color="#7800ff"/><stop offset="0.15" stop-color="#7800ff"/><stop offset="0.2" stop-color="#7800ff"/><stop offset="0.25" stop-color="#7800ff"/><stop offset="0.3" stop-color="#7800ff"/><stop offset="0.35" stop-color="#7800ff"/><stop offset="0.4" stop-color="#7800ff"/><stop offset="0.45" stop-color="#7800ff"/><stop offset="0.5" stop-color="#7800ff"/><stop offset="0.55" stop-color="#7800ff"/><stop offset="0.6" stop-color="#7800ff"/><stop offset="0.65" stop-color="#7700ff"/><stop offset="0.7" stop-color="#7700ff"/><stop offset="0.75" stop-color="#7600ff"/><stop offset="0.8" stop-color="#7600ff"/><stop offset="0.85" stop-color="#7600ff"/><stop offset="0.9" stop-color="#7500ff"/><stop offset="0.95" stop-color="#7500ff"/><stop offset="1" stop-color="#7500ff"/></linearGradient><linearGradient id="gb90" gradientUnits="userSpaceOnUse" x1="412.3" x2="632" y1="0" y2="0"><stop offset="0" stop-color="#7900ff"/><stop offset="0.05" stop-color="#7900ff"/><stop offset="0.1" stop-color="#7900ff"/><stop offset="0.15" stop-color="#7900ff"/><stop offset="0.2" stop-color="#7900ff"/><stop offset="0.25" stop-color="#7900ff"/><stop offset="0.3" stop-color="#7900ff"/><stop offset="0.35" stop-color="#7900ff"/><stop offset="0.4" stop-color="#7900ff"/><stop offset="0.45" stop-color="#7900ff"/><stop offset="0.5" stop-color="#7900ff"/><stop offset="0.55" stop-color="#7900ff"/><stop offset="0.6" stop-color="#7900ff"/><stop offset="0.65" stop-color="#7800ff"/><stop offset="0.7" stop-color="#7800ff"/><stop offset="0.75" stop-color="#7800ff"/><stop offset="0.8" stop-color="#7700ff"/><stop offset="0.85" stop-color="#7700ff"/><stop offset="0.9" stop-color="#7700ff"/><stop offset="0.95" stop-color="#7600ff"/><stop offset="1" stop-color="#7700ff"/></linearGradient><linearGradient id="gb91" gradientUnits="userSpaceOnUse" x1="412.3" x2="632" y1="0" y2="0"><stop offset="0" stop-color="#7a00ff"/><stop offset="0.05" stop-color="#7a00ff"/><stop offset="0.1" stop-color="#7a00ff"/><stop offset="0.15" stop-color="#7a00ff"/><stop offset="0.2" stop-color="#7a00ff"/><stop offset="0.25" stop-color="#7a00ff"/><stop offset="0.3" stop-color="#7a00ff"/><stop offset="0.35" stop-color="#7a00ff"/><stop offset="0.4" stop-color="#7a00ff"/><stop offset="0.45" stop-color="#7a00ff"/><stop offset="0.5" stop-color="#7a00ff"/><stop offset="0.55" stop-color="#7a00ff"/><stop offset="0.6" stop-color="#7a00ff"/><stop offset="0.65" stop-color="#7a00ff"/><stop offset="0.7" stop-color="#7900ff"/><stop offset="0.75" stop-color="#7900ff"/><stop offset="0.8" stop-color="#7800ff"/><stop offset="0.85" stop-color="#7800ff"/><stop offset="0.9" stop-color="#7800ff"/><stop offset="0.95" stop-color="#7800ff"/><stop offset="1" stop-color="#7800ff"/></linearGradient><linearGradient id="gb92" gradientUnits="userSpaceOnUse" x1="412.3" x2="632" y1="0" y2="0"><stop offset="0" stop-color="#7b00ff"/><stop offset="0.05" stop-color="#7b00ff"/><stop offset="0.1" stop-color="#7b00ff"/><stop offset="0.15" stop-color="#7b00ff"/><stop offset="0.2" stop-color="#7b00ff"/><stop offset="0.25" stop-color="#7b00ff"/><stop offset="0.3" stop-color="#7b00ff"/><stop offset="0.35" stop-color="#7b00ff"/><stop offset="0.4" stop-color="#7b00ff"/><stop offset="0.45" stop-color="#7b00ff"/><stop offset="0.5" stop-color="#7b00ff"/><stop offset="0.55" stop-color="#7b00ff"/><stop offset="0.6" stop-color="#7b00ff"/><stop offset="0.65" stop-color="#7b00ff"/><stop offset="0.7" stop-color="#7a00ff"/><stop offset="0.75" stop-color="#7a00ff"/><stop offset="0.8" stop-color="#7a00ff"/><stop offset="0.85" stop-color="#7900ff"/><stop offset="0.9" stop-color="#7900ff"/><stop offset="0.95" stop-color="#7900ff"/><stop offset="1" stop-color="#7900ff"/></linearGradient><linearGradient id="gb93" gradientUnits="userSpaceOnUse" x1="412.3" x2="632" y1="0" y2="0"><stop offset="0" stop-color="#7c00ff"/><stop offset="0.05" stop-color="#7c00ff"/><stop offset="0.1" stop-color="#7c00ff"/><stop offset="0.15" stop-color="#7c00ff"/><stop offset="0.2" stop-color="#7c00ff"/><stop offset="0.25" stop-color="#7c00ff"/><stop offset="0.3" stop-color="#7c00ff"/><stop offset="0.35" stop-color="#7c00ff"/><stop offset="0.4" stop-color="#7c00ff"/><stop offset="0.45" stop-color="#7c00ff"/><stop offset="0.5" stop-color="#7c00ff"/><stop offset="0.55" stop-color="#7c00ff"/><stop offset="0.6" stop-color="#7c00ff"/><stop offset="0.65" stop-color="#7c00ff"/><stop offset="0.7" stop-color="#7b00ff"/><stop offset="0.75" stop-color="#7b00ff"/><stop offset="0.8" stop-color="#7b00ff"/><stop offset="0.85" stop-color="#7a00ff"/><stop offset="0.9" stop-color="#7a00ff"/><stop offset="0.95" stop-color="#7a00ff"/><stop offset="1" stop-color="#7a00ff"/></linearGradient><linearGradient id="gb94" gradientUnits="userSpaceOnUse" x1="412.3" x2="632" y1="0" y2="0"><stop offset="0" stop-color="#7d00ff"/><stop offset="0.05" stop-color="#7d00ff"/><stop offset="0.1" stop-color="#7d00ff"/><stop offset="0.15" stop-color="#7d00ff"/><stop offset="0.2" stop-color="#7d00ff"/><stop offset="0.25" stop-color="#7d00ff"/><stop offset="0.3" stop-color="#7d00ff"/><stop offset="0.35" stop-color="#7d00ff"/><stop offset="0.4" stop-color="#7d00ff"/><stop offset="0.45" stop-color="#7d00ff"/><stop offset="0.5" stop-color="#7d00ff"/><stop offset="0.55" stop-color="#7d00ff"/><stop offset="0.6" stop-color="#7d00ff"/><stop offset="0.65" stop-color="#7d00ff"/><stop offset="0.7" stop-color="#7c00ff"/><stop offset="0.75" stop-color="#7c00ff"/><stop offset="0.8" stop-color="#7c00ff"/><stop offset="0.85" stop-color="#7b00ff"/><stop offset="0.9" stop-color="#7b00ff"/><stop offset="0.95" stop-color="#7b00ff"/><stop offset="1" stop-color="#7b00ff"/></linearGradient><linearGradient id="gb95" gradientUnits="userSpaceOnUse" x1="412.3" x2="632" y1="0" y2="0"><stop offset="0" stop-color="#7e00ff"/><stop offset="0.05" stop-color="#7e00ff"/><stop offset="0.1" stop-color="#7e00ff"/><stop offset="0.15" stop-color="#7e00ff"/><stop offset="0.2" stop-color="#7e00ff"/><stop offset="0.25" stop-color="#7e00ff"/><stop offset="0.3" stop-color="#7e00ff"/><stop offset="0.35" stop-color="#7e00ff"/><stop offset="0.4" stop-color="#7e00ff"/><stop offset="0.45" stop-color="#7e00ff"/><stop offset="0.5" stop-color="#7e00ff"/><stop offset="0.55" stop-color="#7e00ff"/><stop offset="0.6" stop-color="#7e00ff"/><stop offset="0.65" stop-color="#7d00ff"/><stop offset="0.7" stop-color="#7d00ff"/><stop offset="0.75" stop-color="#7d00ff"/><stop offset="0.8" stop-color="#7d00ff"/><stop offset="0.85" stop-color="#7d00ff"/><stop offset="0.9" stop-color="#7c00ff"/><stop offset="0.95" stop-color="#7c00ff"/><stop offset="1" stop-color="#7c00ff"/></linearGradient><linearGradient id="gb96" gradientUnits="userSpaceOnUse" x1="412.3" x2="632" y1="0" y2="0"><stop offset="0" stop-color="#7f00ff"/><stop offset="0.05" stop-color="#7f00ff"/><stop offset="0.1" stop-color="#7f00ff"/><stop offset="0.15" stop-color="#7f00ff"/><stop offset="0.2" stop-color="#7f00ff"/><stop offset="0.25" stop-color="#7f00ff"/><stop offset="0.3" stop-color="#7f00ff"/><stop offset="0.35" stop-color="#7f00ff"/><stop offset="0.4" stop-color="#7f00ff"/><stop offset="0.45" stop-color="#7f00ff"/><stop offset="0.5" stop-color="#7f00ff"/><stop offset="0.55" stop-color="#7f00ff"/><stop offset="0.6" stop-color="#7f00ff"/><stop offset="0.65" stop-color="#7e00ff"/><stop offset="0.7" stop-color="#7e00ff"/><stop offset="0.75" stop-color="#7e00ff"/><stop offset="0.8" stop-color="#7e00ff"/><stop offset="0.85" stop-color="#7e00ff"/><stop offset="0.9" stop-color="#7d00ff"/><stop offset="0.95" stop-color="#7d00ff"/><stop offset="1" stop-color="#7d00ff"/></linearGradient><linearGradient id="gb97" gradientUnits="userSpaceOnUse" x1="412.3" x2="632" y1="0" y2="0"><stop offset="0" stop-color="#8000ff"/><stop offset="0.05" stop-color="#8000ff"/><stop offset="0.1" stop-color="#8000ff"/><stop offset="0.15" stop-color="#8000ff"/><stop offset="0.2" stop-color="#8000ff"/><stop offset="0.25" stop-color="#8000ff"/><stop offset="0.3" stop-color="#8000ff"/><stop offset="0.35" stop-color="#8000ff"/><stop offset="0.4" stop-color="#8000ff"/><stop offset="0.45" stop-color="#8000ff"/><stop offset="0.5" stop-color="#8000ff"/><stop offset="0.55" stop-color="#7f00ff"/><stop offset="0.6" stop-color="#7f00ff"/><stop offset="0.65" stop-color="#7f00ff"/><stop offset="0.7" stop-color="#7f00ff"/><stop offset="0.75" stop-color="#7f00ff"/><stop offset="0.8" stop-color="#7f00ff"/><stop offset="0.85" stop-color="#7e00ff"/><stop offset="0.9" stop-color="#7e00ff"/><stop offset="0.95" stop-color="#7e00ff"/><stop offset="1" stop-color="#7e00ff"/></linearGradient><linearGradient id="gb98" gradientUnits="userSpaceOnUse" x1="412.3" x2="632" y1="0" y2="0"><stop offset="0" stop-color="#8000ff"/><stop offset="0.05" stop-color="#8000ff"/><stop offset="0.1" stop-color="#8000ff"/><stop offset="0.15" stop-color="#8000ff"/><stop offset="0.2" stop-color="#8000ff"/><stop offset="0.25" stop-color="#8000ff"/><stop offset="0.3" stop-color="#8000ff"/><stop offset="0.35" stop-color="#8000ff"/><stop offset="0.4" stop-color="#8000ff"/><stop offset="0.45" stop-color="#8000ff"/><stop offset="0.5" stop-color="#8000ff"/><stop offset="0.55" stop-color="#8000ff"/><stop offset="0.6" stop-color="#8000ff"/><stop offset="0.65" stop-color="#8000ff"/><stop offset="0.7" stop-color="#8000ff"/><stop offset="0.75" stop-color="#8000ff"/><stop offset="0.8" stop-color="#7f00ff"/><stop offset="0.85" stop-color="#7f00ff"/><stop offset="0.9" stop-color="#7f00ff"/><stop offset="0.95" stop-color="#7f00ff"/><stop offset="1" stop-color="#7f00ff"/></linearGradient><linearGradient id="gb99" gradientUnits="userSpaceOnUse" x1="412.3" x2="632" y1="0" y2="0"><stop offset="0" stop-color="#8100ff"/><stop offset="0.05" stop-color="#8100ff"/><stop offset="0.1" stop-color="#8100ff"/><stop offset="0.15" stop-color="#8100ff"/><stop offset="0.2" stop-color="#8100ff"/><stop offset="0.25" stop-color="#8100ff"/><stop offset="0.3" stop-color="#8100ff"/><stop offset="0.35" stop-color="#8100ff"/><stop offset="0.4" stop-color="#8100ff"/><stop offset="0.45" stop-color="#8100ff"/><stop offset="0.5" stop-color="#8100ff"/><stop offset="0.55" stop-color="#8100ff"/><stop offset="0.6" stop-color="#8100ff"/><stop offset="0.65" stop-color="#8100ff"/><stop offset="0.7" stop-color="#8100ff"/><stop offset="0.75" stop-color="#8000ff"/><stop offset="0.8" stop-color="#8000ff"/><stop offset="0.85" stop-color="#8000ff"/><stop offset="0.9" stop-color="#8000ff"/><stop offset="0.95" stop-color="#8000ff"/><stop offset="1" stop-color="#8000ff"/></linearGradient><linearGradient id="gb100" gradientUnits="userSpaceOnUse" x1="412.3" x2="632" y1="0" y2="0"><stop offset="0" stop-color="#8200ff"/><stop offset="0.05" stop-color="#8200ff"/><stop offset="0.1" stop-color="#8200ff"/><stop offset="0.15" stop-color="#8200ff"/><stop offset="0.2" stop-color="#8200ff"/><stop offset="0.25" stop-color="#8200ff"/><stop offset="0.3" stop-color="#8200ff"/><stop offset="0.35" stop-color="#8200ff"/><stop offset="0.4" stop-color="#8200ff"/><stop offset="0.45" stop-color="#8200ff"/><stop offset="0.5" stop-color="#8200ff"/><stop offset="0.55" stop-color="#8200ff"/><stop offset="0.6" stop-color="#8100ff"/><stop offset="0.65" stop-color="#8100ff"/><stop offset="0.7" stop-color="#8100ff"/><stop offset="0.75" stop-color="#8100ff"/><stop offset="0.8" stop-color="#8100ff"/><stop offset="0.85" stop-color="#8100ff"/><stop offset="0.9" stop-color="#8100ff"/><stop offset="0.95" stop-color="#8100ff"/><stop offset="1" stop-color="#8100ff"/></linearGradient><linearGradient id="gb101" gradientUnits="userSpaceOnUse" x1="412.3" x2="632" y1="0" y2="0"><stop offset="0" stop-color="#8200ff"/><stop offset="0.05" stop-color="#8200ff"/><stop offset="0.1" stop-color="#8200ff"/><stop offset="0.15" stop-color="#8200ff"/><stop offset="0.2" stop-color="#8200ff"/><stop offset="0.25" stop-color="#8200ff"/><stop offset="0.3" stop-color="#8200ff"/><stop offset="0.35" stop-color="#8200ff"/><stop offset="0.4" stop-color="#8200ff"/><stop offset="0.45" stop-color="#8200ff"/><stop offset="0.5" stop-color="#8200ff"/><stop offset="0.55" stop-color="#8200ff"/><stop offset="0.6" stop-color="#8200ff"/><stop offset="0.65" stop-color="#8200ff"/><stop offset="0.7" stop-color="#8200ff"/><stop offset="0.75" stop-color="#8200ff"/><stop offset="0.8" stop-color="#8200ff"/><stop offset="0.85" stop-color="#8200ff"/><stop offset="0.9" stop-color="#8100ff"/><stop offset="0.95" stop-color="#8100ff"/><stop offset="1" stop-color="#8100ff"/></linearGradient><linearGradient id="gb102" gradientUnits="userSpaceOnUse" x1="412.3" x2="632" y1="0" y2="0"><stop offset="0" stop-color="#8300ff"/><stop offset="0.05" stop-color="#8300ff"/><stop offset="0.1" stop-color="#8300ff"/><stop offset="0.15" stop-color="#8300ff"/><stop offset="0.2" stop-color="#8300ff"/><stop offset="0.25" stop-color="#8300ff"/><stop offset="0.3" stop-color="#8300ff"/><stop offset="0.35" stop-color="#8300ff"/><stop offset="0.4" stop-color="#8300ff"/><stop offset="0.45" stop-color="#8300ff"/><stop offset="0.5" stop-color="#8300ff"/><stop offset="0.55" stop-color="#8300ff"/><stop offset="0.6" stop-color="#8300ff"/><stop offset="0.65" stop-color="#8200ff"/><stop offset="0.7" stop-color="#8200ff"/><stop offset="0.75" stop-color="#8200ff"/><stop offset="0.8" stop-color="#8200ff"/><stop offset="0.85" stop-color="#8200ff"/><stop offset="0.9" stop-color="#8200ff"/><stop offset="0.95" stop-color="#8200ff"/><stop offset="1" stop-color="#8200ff"/></linearGradient><linearGradient id="gb103" gradientUnits="userSpaceOnUse" x1="412.3" x2="632" y1="0" y2="0"><stop offset="0" stop-color="#8300ff"/><stop offset="0.05" stop-color="#8300ff"/><stop offset="0.1" stop-color="#8300ff"/><stop offset="0.15" stop-color="#8300ff"/><stop offset="0.2" stop-color="#8300ff"/><stop offset="0.25" stop-color="#8300ff"/><stop offset="0.3" stop-color="#8300ff"/><stop offset="0.35" stop-color="#8300ff"/><stop offset="0.4" stop-color="#8300ff"/><stop offset="0.45" stop-color="#8300ff"/><stop offset="0.5" stop-color="#8300ff"/><stop offset="0.55" stop-color="#8300ff"/><stop offset="0.6" stop-color="#8300ff"/><stop offset="0.65" stop-color="#8300ff"/><stop offset="0.7" stop-color="#8300ff"/><stop offset="0.75" stop-color="#8300ff"/><stop offset="0.8" stop-color="#8300ff"/><stop offset="0.85" stop-color="#8300ff"/><stop offset="0.9" stop-color="#8300ff"/><stop offset="0.95" stop-color="#8300ff"/><stop offset="1" stop-color="#8300ff"/></linearGradient><linearGradient id="gb104" gradientUnits="userSpaceOnUse" x1="412.3" x2="632" y1="0" y2="0"><stop offset="0" stop-color="#8300ff"/><stop offset="0.05" stop-color="#8300ff"/><stop offset="0.1" stop-color="#8300ff"/><stop offset="0.15" stop-color="#8300ff"/><stop offset="0.2" stop-color="#8300ff"/><stop offset="0.25" stop-color="#8300ff"/><stop offset="0.3" stop-color="#8300ff"/><stop offset="0.35" stop-color="#8300ff"/><stop offset="0.4" stop-color="#8300ff"/><stop offset="0.45" stop-color="#8300ff"/><stop offset="0.5" stop-color="#8300ff"/><stop offset="0.55" stop-color="#8300ff"/><stop offset="0.6" stop-color="#8300ff"/><stop offset="0.65" stop-color="#8300ff"/><stop offset="0.7" stop-color="#8300ff"/><stop offset="0.75" stop-color="#8300ff"/><stop offset="0.8" stop-color="#8300ff"/><stop offset="0.85" stop-color="#8300ff"/><stop offset="0.9" stop-color="#8300ff"/><stop offset="0.95" stop-color="#8300ff"/><stop offset="1" stop-color="#8300ff"/></linearGradient><linearGradient id="gb105" gradientUnits="userSpaceOnUse" x1="412.3" x2="632" y1="0" y2="0"><stop offset="0" stop-color="#8400ff"/><stop offset="0.05" stop-color="#8400ff"/><stop offset="0.1" stop-color="#8400ff"/><stop offset="0.15" stop-color="#8400ff"/><stop offset="0.2" stop-color="#8400ff"/><stop offset="0.25" stop-color="#8400ff"/><stop offset="0.3" stop-color="#8400ff"/><stop offset="0.35" stop-color="#8400ff"/><stop offset="0.4" stop-color="#8400ff"/><stop offset="0.45" stop-color="#8400ff"/><stop offset="0.5" stop-color="#8400ff"/><stop offset="0.55" stop-color="#8400ff"/><stop offset="0.6" stop-color="#8400ff"/><stop offset="0.65" stop-color="#8400ff"/><stop offset="0.7" stop-color="#8400ff"/><stop offset="0.75" stop-color="#8300ff"/><stop offset="0.8" stop-color="#8300ff"/><stop offset="0.85" stop-color="#8300ff"/><stop offset="0.9" stop-color="#8300ff"/><stop offset="0.95" stop-color="#8300ff"/><stop offset="1" stop-color="#8300ff"/></linearGradient><linearGradient id="gb106" gradientUnits="userSpaceOnUse" x1="412.3" x2="632" y1="0" y2="0"><stop offset="0" stop-color="#8400ff"/><stop offset="0.05" stop-color="#8400ff"/><stop offset="0.1" stop-color="#8400ff"/><stop offset="0.15" stop-color="#8400ff"/><stop offset="0.2" stop-color="#8400ff"/><stop offset="0.25" stop-color="#8400ff"/><stop offset="0.3" stop-color="#8400ff"/><stop offset="0.35" stop-color="#8400ff"/><stop offset="0.4" stop-color="#8400ff"/><stop offset="0.45" stop-color="#8400ff"/><stop offset="0.5" stop-color="#8400ff"/><stop offset="0.55" stop-color="#8400ff"/><stop offset="0.6" stop-color="#8400ff"/><stop offset="0.65" stop-color="#8400ff"/><stop offset="0.7" stop-color="#8400ff"/><stop offset="0.75" stop-color="#8400ff"/><stop offset="0.8" stop-color="#8400ff"/><stop offset="0.85" stop-color="#8400ff"/><stop offset="0.9" stop-color="#8400ff"/><stop offset="0.95" stop-color="#8400ff"/><stop offset="1" stop-color="#8400ff"/></linearGradient><linearGradient id="gb107" gradientUnits="userSpaceOnUse" x1="412.3" x2="632" y1="0" y2="0"><stop offset="0" stop-color="#8400ff"/><stop offset="0.05" stop-color="#8400ff"/><stop offset="0.1" stop-color="#8400ff"/><stop offset="0.15" stop-color="#8400ff"/><stop offset="0.2" stop-color="#8400ff"/><stop offset="0.25" stop-color="#8400ff"/><stop offset="0.3" stop-color="#8400ff"/><stop offset="0.35" stop-color="#8400ff"/><stop offset="0.4" stop-color="#8400ff"/><stop offset="0.45" stop-color="#8400ff"/><stop offset="0.5" stop-color="#8400ff"/><stop offset="0.55" stop-color="#8400ff"/><stop offset="0.6" stop-color="#8400ff"/><stop offset="0.65" stop-color="#8400ff"/><stop offset="0.7" stop-color="#8400ff"/><stop offset="0.75" stop-color="#8400ff"/><stop offset="0.8" stop-color="#8400ff"/><stop offset="0.85" stop-color="#8400ff"/><stop offset="0.9" stop-color="#8400ff"/><stop offset="0.95" stop-color="#8400ff"/><stop offset="1" stop-color="#8400ff"/></linearGradient><linearGradient id="gb108" gradientUnits="userSpaceOnUse" x1="412.3" x2="632" y1="0" y2="0"><stop offset="0" stop-color="#8400ff"/><stop offset="0.05" stop-color="#8400ff"/><stop offset="0.1" stop-color="#8400ff"/><stop offset="0.15" stop-color="#8400ff"/><stop offset="0.2" stop-color="#8400ff"/><stop offset="0.25" stop-color="#8400ff"/><stop offset="0.3" stop-color="#8400ff"/><stop offset="0.35" stop-color="#8400ff"/><stop offset="0.4" stop-color="#8400ff"/><stop offset="0.45" stop-color="#8400ff"/><stop offset="0.5" stop-color="#8400ff"/><stop offset="0.55" stop-color="#8400ff"/><stop offset="0.6" stop-color="#8400ff"/><stop offset="0.65" stop-color="#8400ff"/><stop offset="0.7" stop-color="#8400ff"/><stop offset="0.75" stop-color="#8400ff"/><stop offset="0.8" stop-color="#8400ff"/><stop offset="0.85" stop-color="#8400ff"/><stop offset="0.9" stop-color="#8400ff"/><stop offset="0.95" stop-color="#8400ff"/><stop offset="1" stop-color="#8400ff"/></linearGradient><linearGradient id="gb109" gradientUnits="userSpaceOnUse" x1="412.3" x2="632" y1="0" y2="0"><stop offset="0" stop-color="#8400ff"/><stop offset="0.05" stop-color="#8400ff"/><stop offset="0.1" stop-color="#8400ff"/><stop offset="0.15" stop-color="#8400ff"/><stop offset="0.2" stop-color="#8400ff"/><stop offset="0.25" stop-color="#8400ff"/><stop offset="0.3" stop-color="#8400ff"/><stop offset="0.35" stop-color="#8400ff"/><stop offset="0.4" stop-color="#8400ff"/><stop offset="0.45" stop-color="#8400ff"/><stop offset="0.5" stop-color="#8400ff"/><stop offset="0.55" stop-color="#8400ff"/><stop offset="0.6" stop-color="#8400ff"/><stop offset="0.65" stop-color="#8400ff"/><stop offset="0.7" stop-color="#8400ff"/><stop offset="0.75" stop-color="#8400ff"/><stop offset="0.8" stop-color="#8400ff"/><stop offset="0.85" stop-color="#8400ff"/><stop offset="0.9" stop-color="#8400ff"/><stop offset="0.95" stop-color="#8400ff"/><stop offset="1" stop-color="#8400ff"/></linearGradient><linearGradient id="cbb" x1="0" y1="0" x2="0" y2="1"><stop offset="0" stop-color="#ff0000"/><stop offset="0.1" stop-color="#ff3000"/><stop offset="0.17" stop-color="#ff6000"/><stop offset="0.22" stop-color="#ffa000"/><stop offset="0.28" stop-color="#ffee00"/><stop offset="0.34" stop-color="#a0ff00"/><stop offset="0.43" stop-color="#00ff00"/><stop offset="0.51" stop-color="#00ffa0"/><stop offset="0.56" stop-color="#00f0ff"/><stop offset="0.65" stop-color="#20b0ff"/><stop offset="0.73" stop-color="#3a80ff"/><stop offset="0.81" stop-color="#5060ff"/><stop offset="0.9" stop-color="#6a40ff"/><stop offset="1" stop-color="#8a10ff"/></linearGradient><clipPath id="clipc1"><rect x="51.2" y="281.8" width="83" height="225.7"/></clipPath><clipPath id="clipc2"><rect x="140.8" y="281.8" width="83.4" height="225.7"/></clipPath><clipPath id="clipc3"><rect x="231.2" y="281.8" width="83.8" height="225.7"/></clipPath><clipPath id="clipd1"><rect x="405.9" y="280.5" width="82.6" height="224.4"/></clipPath><clipPath id="clipd2"><rect x="495.7" y="280.5" width="82.2" height="224.4"/></clipPath><clipPath id="clipd3"><rect x="584.7" y="280.5" width="82.5" height="224.4"/></clipPath><radialGradient id="spb" cx="0.5" cy="0.5" r="0.55" fx="0.36" fy="0.32"><stop offset="0" stop-color="#ffffff"/><stop offset="0.28" stop-color="#b8d7f2"/><stop offset="0.62" stop-color="#4f9be0"/><stop offset="1" stop-color="#3a7cc0"/></radialGradient><radialGradient id="spp" cx="0.5" cy="0.5" r="0.55" fx="0.36" fy="0.32"><stop offset="0" stop-color="#ffffff"/><stop offset="0.28" stop-color="#eccbd9"/><stop offset="0.62" stop-color="#d07fa0"/><stop offset="1" stop-color="#b06080"/></radialGradient><radialGradient id="spg" cx="0.5" cy="0.5" r="0.55" fx="0.36" fy="0.32"><stop offset="0" stop-color="#ffffff"/><stop offset="0.28" stop-color="#d2d2d2"/><stop offset="0.62" stop-color="#8f8f8f"/><stop offset="1" stop-color="#707070"/></radialGradient><radialGradient id="spo" cx="0.5" cy="0.5" r="0.55" fx="0.36" fy="0.32"><stop offset="0" stop-color="#ffffff"/><stop offset="0.28" stop-color="#f9cfc9"/><stop offset="0.62" stop-color="#f08878"/><stop offset="1" stop-color="#d86a5a"/></radialGradient><linearGradient id="barb" x1="0" y1="0" x2="0" y2="1"><stop offset="0" stop-color="#4b8fd6"/><stop offset="1" stop-color="#9cc4ec"/></linearGradient><linearGradient id="barp" x1="0" y1="0" x2="0" y2="1"><stop offset="0" stop-color="#c36e94"/><stop offset="1" stop-color="#e6b4c8"/></linearGradient></defs>
<rect width="685" height="835" fill="#fff"/>
<g clip-path="url(#clipa)"><g filter="url(#blura)" shape-rendering="crispEdges">
<rect x="51.5" y="13" width="227" height="2" fill="url(#ga0)"/>
<rect x="51.5" y="15" width="227" height="2" fill="url(#ga1)"/>
<rect x="51.5" y="17" width="227" height="2" fill="url(#ga2)"/>
<rect x="51.5" y="19" width="227" height="2" fill="url(#ga3)"/>
<rect x="51.5" y="21" width="227" height="2" fill="url(#ga4)"/>
<rect x="51.5" y="23" width="227" height="2" fill="url(#ga5)"/>
<rect x="51.5" y="25" width="227" height="2" fill="url(#ga6)"/>
<rect x="51.5" y="27" width="227" height="2" fill="url(#ga7)"/>
<rect x="51.5" y="29" width="227" height="2" fill="url(#ga8)"/>
<rect x="51.5" y="31" width="227" height="2" fill="url(#ga9)"/>
<rect x="51.5" y="33" width="227" height="2" fill="url(#ga10)"/>
<rect x="51.5" y="35" width="227" height="2" fill="url(#ga11)"/>
<rect x="51.5" y="37" width="227" height="2" fill="url(#ga12)"/>
<rect x="51.5" y="39" width="227" height="2" fill="url(#ga13)"/>
<rect x="51.5" y="41" width="227" height="2" fill="url(#ga14)"/>
<rect x="51.5" y="43" width="227" height="2" fill="url(#ga15)"/>
<rect x="51.5" y="45" width="227" height="2" fill="url(#ga16)"/>
<rect x="51.5" y="47" width="227" height="2" fill="url(#ga17)"/>
<rect x="51.5" y="49" width="227" height="2" fill="url(#ga18)"/>
<rect x="51.5" y="51" width="227" height="2" fill="url(#ga19)"/>
<rect x="51.5" y="53" width="227" height="2" fill="url(#ga20)"/>
<rect x="51.5" y="55" width="227" height="2" fill="url(#ga21)"/>
<rect x="51.5" y="57" width="227" height="2" fill="url(#ga22)"/>
<rect x="51.5" y="59" width="227" height="2" fill="url(#ga23)"/>
<rect x="51.5" y="61" width="227" height="2" fill="url(#ga24)"/>
<rect x="51.5" y="63" width="227" height="2" fill="url(#ga25)"/>
<rect x="51.5" y="65" width="227" height="2" fill="url(#ga26)"/>
<rect x="51.5" y="67" width="227" height="2" fill="url(#ga27)"/>
<rect x="51.5" y="69" width="227" height="2" fill="url(#ga28)"/>
<rect x="51.5" y="71" width="227" height="2" fill="url(#ga29)"/>
<rect x="51.5" y="73" width="227" height="2" fill="url(#ga30)"/>
<rect x="51.5" y="75" width="227" height="2" fill="url(#ga31)"/>
<rect x="51.5" y="77" width="227" height="2" fill="url(#ga32)"/>
<rect x="51.5" y="79" width="227" height="2" fill="url(#ga33)"/>
<rect x="51.5" y="81" width="227" height="2" fill="url(#ga34)"/>
<rect x="51.5" y="83" width="227" height="2" fill="url(#ga35)"/>
<rect x="51.5" y="85" width="227" height="2" fill="url(#ga36)"/>
<rect x="51.5" y="87" width="227" height="2" fill="url(#ga37)"/>
<rect x="51.5" y="89" width="227" height="2" fill="url(#ga38)"/>
<rect x="51.5" y="91" width="227" height="2" fill="url(#ga39)"/>
<rect x="51.5" y="93" width="227" height="2" fill="url(#ga40)"/>
<rect x="51.5" y="95" width="227" height="2" fill="url(#ga41)"/>
<rect x="51.5" y="97" width="227" height="2" fill="url(#ga42)"/>
<rect x="51.5" y="99" width="227" height="2" fill="url(#ga43)"/>
<rect x="51.5" y="101" width="227" height="2" fill="url(#ga44)"/>
<rect x="51.5" y="103" width="227" height="2" fill="url(#ga45)"/>
<rect x="51.5" y="105" width="227" height="2" fill="url(#ga46)"/>
<rect x="51.5" y="107" width="227" height="2" fill="url(#ga47)"/>
<rect x="51.5" y="109" width="227" height="2" fill="url(#ga48)"/>
<rect x="51.5" y="111" width="227" height="2" fill="url(#ga49)"/>
<rect x="51.5" y="113" width="227" height="2" fill="url(#ga50)"/>
<rect x="51.5" y="115" width="227" height="2" fill="url(#ga51)"/>
<rect x="51.5" y="117" width="227" height="2" fill="url(#ga52)"/>
<rect x="51.5" y="119" width="227" height="2" fill="url(#ga53)"/>
<rect x="51.5" y="121" width="227" height="2" fill="url(#ga54)"/>
<rect x="51.5" y="123" width="227" height="2" fill="url(#ga55)"/>
<rect x="51.5" y="125" width="227" height="2" fill="url(#ga56)"/>
<rect x="51.5" y="127" width="227" height="2" fill="url(#ga57)"/>
<rect x="51.5" y="129" width="227" height="2" fill="url(#ga58)"/>
<rect x="51.5" y="131" width="227" height="2" fill="url(#ga59)"/>
<rect x="51.5" y="133" width="227" height="2" fill="url(#ga60)"/>
<rect x="51.5" y="135" width="227" height="2" fill="url(#ga61)"/>
<rect x="51.5" y="137" width="227" height="2" fill="url(#ga62)"/>
<rect x="51.5" y="139" width="227" height="2" fill="url(#ga63)"/>
<rect x="51.5" y="141" width="227" height="2" fill="url(#ga64)"/>
<rect x="51.5" y="143" width="227" height="2" fill="url(#ga65)"/>
<rect x="51.5" y="145" width="227" height="2" fill="url(#ga66)"/>
<rect x="51.5" y="147" width="227" height="2" fill="url(#ga67)"/>
<rect x="51.5" y="149" width="227" height="2" fill="url(#ga68)"/>
<rect x="51.5" y="151" width="227" height="2" fill="url(#ga69)"/>
<rect x="51.5" y="153" width="227" height="2" fill="url(#ga70)"/>
<rect x="51.5" y="155" width="227" height="2" fill="url(#ga71)"/>
<rect x="51.5" y="157" width="227" height="2" fill="url(#ga72)"/>
<rect x="51.5" y="159" width="227" height="2" fill="url(#ga73)"/>
<rect x="51.5" y="161" width="227" height="2" fill="url(#ga74)"/>
<rect x="51.5" y="163" width="227" height="2" fill="url(#ga75)"/>
<rect x="51.5" y="165" width="227" height="2" fill="url(#ga76)"/>
<rect x="51.5" y="167" width="227" height="2" fill="url(#ga77)"/>
<rect x="51.5" y="169" width="227" height="2" fill="url(#ga78)"/>
<rect x="51.5" y="171" width="227" height="2" fill="url(#ga79)"/>
<rect x="51.5" y="173" width="227" height="2" fill="url(#ga80)"/>
<rect x="51.5" y="175" width="227" height="2" fill="url(#ga81)"/>
<rect x="51.5" y="177" width="227" height="2" fill="url(#ga82)"/>
<rect x="51.5" y="179" width="227" height="2" fill="url(#ga83)"/>
<rect x="51.5" y="181" width="227" height="2" fill="url(#ga84)"/>
<rect x="51.5" y="183" width="227" height="2" fill="url(#ga85)"/>
<rect x="51.5" y="185" width="227" height="2" fill="url(#ga86)"/>
<rect x="51.5" y="187" width="227" height="2" fill="url(#ga87)"/>
<rect x="51.5" y="189" width="227" height="2" fill="url(#ga88)"/>
<rect x="51.5" y="191" width="227" height="2" fill="url(#ga89)"/>
<rect x="51.5" y="193" width="227" height="2" fill="url(#ga90)"/>
<rect x="51.5" y="195" width="227" height="2" fill="url(#ga91)"/>
<rect x="51.5" y="197" width="227" height="2" fill="url(#ga92)"/>
<rect x="51.5" y="199" width="227" height="2" fill="url(#ga93)"/>
<rect x="51.5" y="201" width="227" height="2" fill="url(#ga94)"/>
<rect x="51.5" y="203" width="227" height="2" fill="url(#ga95)"/>
<rect x="51.5" y="205" width="227" height="2" fill="url(#ga96)"/>
<rect x="51.5" y="207" width="227" height="2" fill="url(#ga97)"/>
<rect x="51.5" y="209" width="227" height="2" fill="url(#ga98)"/>
<rect x="51.5" y="211" width="227" height="2" fill="url(#ga99)"/>
<rect x="51.5" y="213" width="227" height="2" fill="url(#ga100)"/>
<rect x="51.5" y="215" width="227" height="2" fill="url(#ga101)"/>
<rect x="51.5" y="217" width="227" height="2" fill="url(#ga102)"/>
<rect x="51.5" y="219" width="227" height="2" fill="url(#ga103)"/>
<rect x="51.5" y="221" width="227" height="2" fill="url(#ga104)"/>
<rect x="51.5" y="223" width="227" height="2" fill="url(#ga105)"/>
<rect x="51.5" y="225" width="227" height="2" fill="url(#ga106)"/>
<rect x="51.5" y="227" width="227" height="2" fill="url(#ga107)"/>
<rect x="51.5" y="229" width="227" height="2" fill="url(#ga108)"/>
<rect x="51.5" y="231" width="227" height="2" fill="url(#ga109)"/>
</g></g>
<rect x="54.5" y="17.3" width="221" height="211.7" fill="none" stroke="#222" stroke-width="1"/>
<line x1="54.5" y1="17.8" x2="51" y2="17.8" stroke="#000" stroke-width="1"/>
<text x="47.4" y="21.87" font-size="11.3" text-anchor="end">211</text>
<line x1="54.5" y1="53.1" x2="51" y2="53.1" stroke="#000" stroke-width="1"/>
<text x="47.4" y="57.17" font-size="11.3" text-anchor="end">241</text>
<line x1="54.5" y1="88.4" x2="51" y2="88.4" stroke="#000" stroke-width="1"/>
<text x="47.4" y="92.47" font-size="11.3" text-anchor="end">271</text>
<line x1="54.5" y1="123.7" x2="51" y2="123.7" stroke="#000" stroke-width="1"/>
<text x="47.4" y="127.77" font-size="11.3" text-anchor="end">301</text>
<line x1="54.5" y1="159" x2="51" y2="159" stroke="#000" stroke-width="1"/>
<text x="47.4" y="163.07" font-size="11.3" text-anchor="end">331</text>
<line x1="54.5" y1="194.3" x2="51" y2="194.3" stroke="#000" stroke-width="1"/>
<text x="47.4" y="198.37" font-size="11.3" text-anchor="end">361</text>
<line x1="54.5" y1="35.45" x2="52.5" y2="35.45" stroke="#000" stroke-width="1"/>
<line x1="54.5" y1="70.75" x2="52.5" y2="70.75" stroke="#000" stroke-width="1"/>
<line x1="54.5" y1="106.05" x2="52.5" y2="106.05" stroke="#000" stroke-width="1"/>
<line x1="54.5" y1="141.35" x2="52.5" y2="141.35" stroke="#000" stroke-width="1"/>
<line x1="54.5" y1="176.65" x2="52.5" y2="176.65" stroke="#000" stroke-width="1"/>
<line x1="54.5" y1="211.95" x2="52.5" y2="211.95" stroke="#000" stroke-width="1"/>
<line x1="54.5" y1="229" x2="54.5" y2="232.5" stroke="#000" stroke-width="1"/>
<text x="54.5" y="245.2" font-size="11.3" text-anchor="middle">0</text>
<line x1="109.75" y1="229" x2="109.75" y2="232.5" stroke="#000" stroke-width="1"/>
<text x="109.75" y="245.2" font-size="11.3" text-anchor="middle">3</text>
<line x1="165" y1="229" x2="165" y2="232.5" stroke="#000" stroke-width="1"/>
<text x="165" y="245.2" font-size="11.3" text-anchor="middle">6</text>
<line x1="220.25" y1="229" x2="220.25" y2="232.5" stroke="#000" stroke-width="1"/>
<text x="220.25" y="245.2" font-size="11.3" text-anchor="middle">9</text>
<line x1="275.5" y1="229" x2="275.5" y2="232.5" stroke="#000" stroke-width="1"/>
<text x="275.5" y="245.2" font-size="11.3" text-anchor="middle">12</text>
<line x1="82.12" y1="229" x2="82.12" y2="231" stroke="#000" stroke-width="1"/>
<line x1="137.38" y1="229" x2="137.38" y2="231" stroke="#000" stroke-width="1"/>
<line x1="192.62" y1="229" x2="192.62" y2="231" stroke="#000" stroke-width="1"/>
<line x1="247.88" y1="229" x2="247.88" y2="231" stroke="#000" stroke-width="1"/>
<text x="-0.3" y="16.8" font-size="22" font-weight="bold">a</text>
<text x="165" y="267" font-size="16" text-anchor="middle">Treatment time (h)</text>
<text x="22" y="122.8" font-size="16" text-anchor="middle" transform="rotate(-90 22 122.8)">Wavelength (nm)</text>
<rect x="292.7" y="17.4" width="17.8" height="211.6" fill="url(#cba)" stroke="#333" stroke-width="0.8"/>
<text x="302.2" y="13.2" font-size="12" text-anchor="middle">High</text>
<text x="302" y="242.1" font-size="12" text-anchor="middle">Low</text>
<text x="321.5" y="125.7" font-size="16" text-anchor="middle" transform="rotate(90 321.5 125.7)">Absorbance (arb. units)</text>
<g clip-path="url(#clipb)"><g filter="url(#blurb)" shape-rendering="crispEdges">
<rect x="409.3" y="12" width="225.7" height="2" fill="url(#gb0)"/>
<rect x="409.3" y="14" width="225.7" height="2" fill="url(#gb1)"/>
<rect x="409.3" y="16" width="225.7" height="2" fill="url(#gb2)"/>
<rect x="409.3" y="18" width="225.7" height="2" fill="url(#gb3)"/>
<rect x="409.3" y="20" width="225.7" height="2" fill="url(#gb4)"/>
<rect x="409.3" y="22" width="225.7" height="2" fill="url(#gb5)"/>
<rect x="409.3" y="24" width="225.7" height="2" fill="url(#gb6)"/>
<rect x="409.3" y="26" width="225.7" height="2" fill="url(#gb7)"/>
<rect x="409.3" y="28" width="225.7" height="2" fill="url(#gb8)"/>
<rect x="409.3" y="30" width="225.7" height="2" fill="url(#gb9)"/>
<rect x="409.3" y="32" width="225.7" height="2" fill="url(#gb10)"/>
<rect x="409.3" y="34" width="225.7" height="2" fill="url(#gb11)"/>
<rect x="409.3" y="36" width="225.7" height="2" fill="url(#gb12)"/>
<rect x="409.3" y="38" width="225.7" height="2" fill="url(#gb13)"/>
<rect x="409.3" y="40" width="225.7" height="2" fill="url(#gb14)"/>
<rect x="409.3" y="42" width="225.7" height="2" fill="url(#gb15)"/>
<rect x="409.3" y="44" width="225.7" height="2" fill="url(#gb16)"/>
<rect x="409.3" y="46" width="225.7" height="2" fill="url(#gb17)"/>
<rect x="409.3" y="48" width="225.7" height="2" fill="url(#gb18)"/>
<rect x="409.3" y="50" width="225.7" height="2" fill="url(#gb19)"/>
<rect x="409.3" y="52" width="225.7" height="2" fill="url(#gb20)"/>
<rect x="409.3" y="54" width="225.7" height="2" fill="url(#gb21)"/>
<rect x="409.3" y="56" width="225.7" height="2" fill="url(#gb22)"/>
<rect x="409.3" y="58" width="225.7" height="2" fill="url(#gb23)"/>
<rect x="409.3" y="60" width="225.7" height="2" fill="url(#gb24)"/>
<rect x="409.3" y="62" width="225.7" height="2" fill="url(#gb25)"/>
<rect x="409.3" y="64" width="225.7" height="2" fill="url(#gb26)"/>
<rect x="409.3" y="66" width="225.7" height="2" fill="url(#gb27)"/>
<rect x="409.3" y="68" width="225.7" height="2" fill="url(#gb28)"/>
<rect x="409.3" y="70" width="225.7" height="2" fill="url(#gb29)"/>
<rect x="409.3" y="72" width="225.7" height="2" fill="url(#gb30)"/>
<rect x="409.3" y="74" width="225.7" height="2" fill="url(#gb31)"/>
<rect x="409.3" y="76" width="225.7" height="2" fill="url(#gb32)"/>
<rect x="409.3" y="78" width="225.7" height="2" fill="url(#gb33)"/>
<rect x="409.3" y="80" width="225.7" height="2" fill="url(#gb34)"/>
<rect x="409.3" y="82" width="225.7" height="2" fill="url(#gb35)"/>
<rect x="409.3" y="84" width="225.7" height="2" fill="url(#gb36)"/>
<rect x="409.3" y="86" width="225.7" height="2" fill="url(#gb37)"/>
<rect x="409.3" y="88" width="225.7" height="2" fill="url(#gb38)"/>
<rect x="409.3" y="90" width="225.7" height="2" fill="url(#gb39)"/>
<rect x="409.3" y="92" width="225.7" height="2" fill="url(#gb40)"/>
<rect x="409.3" y="94" width="225.7" height="2" fill="url(#gb41)"/>
<rect x="409.3" y="96" width="225.7" height="2" fill="url(#gb42)"/>
<rect x="409.3" y="98" width="225.7" height="2" fill="url(#gb43)"/>
<rect x="409.3" y="100" width="225.7" height="2" fill="url(#gb44)"/>
<rect x="409.3" y="102" width="225.7" height="2" fill="url(#gb45)"/>
<rect x="409.3" y="104" width="225.7" height="2" fill="url(#gb46)"/>
<rect x="409.3" y="106" width="225.7" height="2" fill="url(#gb47)"/>
<rect x="409.3" y="108" width="225.7" height="2" fill="url(#gb48)"/>
<rect x="409.3" y="110" width="225.7" height="2" fill="url(#gb49)"/>
<rect x="409.3" y="112" width="225.7" height="2" fill="url(#gb50)"/>
<rect x="409.3" y="114" width="225.7" height="2" fill="url(#gb51)"/>
<rect x="409.3" y="116" width="225.7" height="2" fill="url(#gb52)"/>
<rect x="409.3" y="118" width="225.7" height="2" fill="url(#gb53)"/>
<rect x="409.3" y="120" width="225.7" height="2" fill="url(#gb54)"/>
<rect x="409.3" y="122" width="225.7" height="2" fill="url(#gb55)"/>
<rect x="409.3" y="124" width="225.7" height="2" fill="url(#gb56)"/>
<rect x="409.3" y="126" width="225.7" height="2" fill="url(#gb57)"/>
<rect x="409.3" y="128" width="225.7" height="2" fill="url(#gb58)"/>
<rect x="409.3" y="130" width="225.7" height="2" fill="url(#gb59)"/>
<rect x="409.3" y="132" width="225.7" height="2" fill="url(#gb60)"/>
<rect x="409.3" y="134" width="225.7" height="2" fill="url(#gb61)"/>
<rect x="409.3" y="136" width="225.7" height="2" fill="url(#gb62)"/>
<rect x="409.3" y="138" width="225.7" height="2" fill="url(#gb63)"/>
<rect x="409.3" y="140" width="225.7" height="2" fill="url(#gb64)"/>
<rect x="409.3" y="142" width="225.7" height="2" fill="url(#gb65)"/>
<rect x="409.3" y="144" width="225.7" height="2" fill="url(#gb66)"/>
<rect x="409.3" y="146" width="225.7" height="2" fill="url(#gb67)"/>
<rect x="409.3" y="148" width="225.7" height="2" fill="url(#gb68)"/>
<rect x="409.3" y="150" width="225.7" height="2" fill="url(#gb69)"/>
<rect x="409.3" y="152" width="225.7" height="2" fill="url(#gb70)"/>
<rect x="409.3" y="154" width="225.7" height="2" fill="url(#gb71)"/>
<rect x="409.3" y="156" width="225.7" height="2" fill="url(#gb72)"/>
<rect x="409.3" y="158" width="225.7" height="2" fill="url(#gb73)"/>
<rect x="409.3" y="160" width="225.7" height="2" fill="url(#gb74)"/>
<rect x="409.3" y="162" width="225.7" height="2" fill="url(#gb75)"/>
<rect x="409.3" y="164" width="225.7" height="2" fill="url(#gb76)"/>
<rect x="409.3" y="166" width="225.7" height="2" fill="url(#gb77)"/>
<rect x="409.3" y="168" width="225.7" height="2" fill="url(#gb78)"/>
<rect x="409.3" y="170" width="225.7" height="2" fill="url(#gb79)"/>
<rect x="409.3" y="172" width="225.7" height="2" fill="url(#gb80)"/>
<rect x="409.3" y="174" width="225.7" height="2" fill="url(#gb81)"/>
<rect x="409.3" y="176" width="225.7" height="2" fill="url(#gb82)"/>
<rect x="409.3" y="178" width="225.7" height="2" fill="url(#gb83)"/>
<rect x="409.3" y="180" width="225.7" height="2" fill="url(#gb84)"/>
<rect x="409.3" y="182" width="225.7" height="2" fill="url(#gb85)"/>
<rect x="409.3" y="184" width="225.7" height="2" fill="url(#gb86)"/>
<rect x="409.3" y="186" width="225.7" height="2" fill="url(#gb87)"/>
<rect x="409.3" y="188" width="225.7" height="2" fill="url(#gb88)"/>
<rect x="409.3" y="190" width="225.7" height="2" fill="url(#gb89)"/>
<rect x="409.3" y="192" width="225.7" height="2" fill="url(#gb90)"/>
<rect x="409.3" y="194" width="225.7" height="2" fill="url(#gb91)"/>
<rect x="409.3" y="196" width="225.7" height="2" fill="url(#gb92)"/>
<rect x="409.3" y="198" width="225.7" height="2" fill="url(#gb93)"/>
<rect x="409.3" y="200" width="225.7" height="2" fill="url(#gb94)"/>
<rect x="409.3" y="202" width="225.7" height="2" fill="url(#gb95)"/>
<rect x="409.3" y="204" width="225.7" height="2" fill="url(#gb96)"/>
<rect x="409.3" y="206" width="225.7" height="2" fill="url(#gb97)"/>
<rect x="409.3" y="208" width="225.7" height="2" fill="url(#gb98)"/>
<rect x="409.3" y="210" width="225.7" height="2" fill="url(#gb99)"/>
<rect x="409.3" y="212" width="225.7" height="2" fill="url(#gb100)"/>
<rect x="409.3" y="214" width="225.7" height="2" fill="url(#gb101)"/>
<rect x="409.3" y="216" width="225.7" height="2" fill="url(#gb102)"/>
<rect x="409.3" y="218" width="225.7" height="2" fill="url(#gb103)"/>
<rect x="409.3" y="220" width="225.7" height="2" fill="url(#gb104)"/>
<rect x="409.3" y="222" width="225.7" height="2" fill="url(#gb105)"/>
<rect x="409.3" y="224" width="225.7" height="2" fill="url(#gb106)"/>
<rect x="409.3" y="226" width="225.7" height="2" fill="url(#gb107)"/>
<rect x="409.3" y="228" width="225.7" height="2" fill="url(#gb108)"/>
<rect x="409.3" y="230" width="225.7" height="2" fill="url(#gb109)"/>
</g></g>
<rect x="412.3" y="16.5" width="219.7" height="211.5" fill="none" stroke="#222" stroke-width="1"/>
<line x1="412.3" y1="16.5" x2="408.8" y2="16.5" stroke="#000" stroke-width="1"/>
<text x="405.2" y="20.57" font-size="11.3" text-anchor="end">201</text>
<line x1="412.3" y1="86.67" x2="408.8" y2="86.67" stroke="#000" stroke-width="1"/>
<text x="405.2" y="90.74" font-size="11.3" text-anchor="end">251</text>
<line x1="412.3" y1="156.84" x2="408.8" y2="156.84" stroke="#000" stroke-width="1"/>
<text x="405.2" y="160.91" font-size="11.3" text-anchor="end">301</text>
<line x1="412.3" y1="227.01" x2="408.8" y2="227.01" stroke="#000" stroke-width="1"/>
<text x="405.2" y="231.08" font-size="11.3" text-anchor="end">351</text>
<line x1="412.3" y1="51.59" x2="410.3" y2="51.59" stroke="#000" stroke-width="1"/>
<line x1="412.3" y1="121.75" x2="410.3" y2="121.75" stroke="#000" stroke-width="1"/>
<line x1="412.3" y1="191.93" x2="410.3" y2="191.93" stroke="#000" stroke-width="1"/>
<line x1="412.3" y1="228" x2="412.3" y2="231.5" stroke="#000" stroke-width="1"/>
<text x="412.3" y="244.5" font-size="11.3" text-anchor="middle">0</text>
<line x1="467.23" y1="228" x2="467.23" y2="231.5" stroke="#000" stroke-width="1"/>
<text x="467.23" y="244.5" font-size="11.3" text-anchor="middle">3</text>
<line x1="522.16" y1="228" x2="522.16" y2="231.5" stroke="#000" stroke-width="1"/>
<text x="522.16" y="244.5" font-size="11.3" text-anchor="middle">6</text>
<line x1="577.09" y1="228" x2="577.09" y2="231.5" stroke="#000" stroke-width="1"/>
<text x="577.09" y="244.5" font-size="11.3" text-anchor="middle">9</text>
<line x1="632.02" y1="228" x2="632.02" y2="231.5" stroke="#000" stroke-width="1"/>
<text x="632.02" y="244.5" font-size="11.3" text-anchor="middle">12</text>
<line x1="439.76" y1="228" x2="439.76" y2="230" stroke="#000" stroke-width="1"/>
<line x1="494.69" y1="228" x2="494.69" y2="230" stroke="#000" stroke-width="1"/>
<line x1="549.62" y1="228" x2="549.62" y2="230" stroke="#000" stroke-width="1"/>
<line x1="604.56" y1="228" x2="604.56" y2="230" stroke="#000" stroke-width="1"/>
<text x="353" y="17.2" font-size="22" font-weight="bold">b</text>
<text x="522.7" y="267" font-size="16" text-anchor="middle">Treatment time (h)</text>
<text x="379.5" y="122.3" font-size="16" text-anchor="middle" transform="rotate(-90 379.5 122.3)">Wavelength (nm)</text>
<rect x="646.5" y="17" width="17" height="211" fill="url(#cbb)" stroke="#333" stroke-width="0.8"/>
<text x="655.5" y="13.2" font-size="12" text-anchor="middle">High</text>
<text x="655.2" y="241.2" font-size="12" text-anchor="middle">Low</text>
<text x="672" y="123" font-size="16" text-anchor="middle" transform="rotate(90 672 123)">Absorbance (arb. units)</text>
<g clip-path="url(#clipc1)">
<path d="M51.2 474.9 L52.58 474.46 L53.97 473.98 L55.35 473.45 L56.73 472.89 L58.12 472.29 L59.5 471.66 L60.88 471 L62.27 470.32 L63.65 469.62 L65.03 468.91 L66.42 468.2 L67.8 467.49 L69.18 466.81 L70.57 466.14 L71.95 465.52 L73.33 464.93 L74.72 464.4 L76.1 463.93 L77.48 463.54 L78.87 463.22 L80.25 462.98 L81.63 462.83 L83.02 462.77 L84.4 462.81 L85.78 462.94 L87.17 463.16 L88.55 463.47 L89.93 463.88 L91.32 464.36 L92.7 464.92 L94.08 465.55 L95.47 466.24 L96.85 466.98 L98.23 467.77 L99.62 468.59 L101 469.43 L102.38 470.29 L103.77 471.15 L105.15 472.01 L106.53 472.86 L107.92 473.69 L109.3 474.5 L110.68 475.28 L112.07 476.02 L113.45 476.73 L114.83 477.4 L116.22 478.03 L117.6 478.62 L118.98 479.16 L120.37 479.67 L121.75 480.13 L123.13 480.55 L124.52 480.94 L125.9 481.29 L127.28 481.61 L128.67 481.9 L130.05 482.16 L131.43 482.39 L132.82 482.61 L134.2 482.8" fill="none" stroke="#8878c0" stroke-width="1.3"/>
<path d="M51.2 462 L52.58 461.2 L53.97 460.33 L55.35 459.38 L56.73 458.36 L58.12 457.28 L59.5 456.13 L60.88 454.94 L62.27 453.7 L63.65 452.43 L65.03 451.15 L66.42 449.86 L67.8 448.59 L69.18 447.34 L70.57 446.14 L71.95 445.01 L73.33 443.95 L74.72 442.99 L76.1 442.14 L77.48 441.42 L78.87 440.84 L80.25 440.42 L81.63 440.15 L83.02 440.04 L84.4 440.11 L85.78 440.35 L87.17 440.76 L88.55 441.33 L89.93 442.06 L91.32 442.95 L92.7 443.97 L94.08 445.11 L95.47 446.37 L96.85 447.72 L98.23 449.14 L99.62 450.63 L101 452.16 L102.38 453.72 L103.77 455.29 L105.15 456.86 L106.53 458.4 L107.92 459.91 L109.3 461.38 L110.68 462.8 L112.07 464.16 L113.45 465.45 L114.83 466.66 L116.22 467.81 L117.6 468.88 L118.98 469.87 L120.37 470.78 L121.75 471.63 L123.13 472.4 L124.52 473.1 L125.9 473.74 L127.28 474.32 L128.67 474.85 L130.05 475.32 L131.43 475.76 L132.82 476.15 L134.2 476.5" fill="none" stroke="#3f88c8" stroke-width="1.3"/>
<path d="M51.2 455.9 L52.58 455.07 L53.97 454.16 L55.35 453.18 L56.73 452.11 L58.12 450.98 L59.5 449.78 L60.88 448.53 L62.27 447.24 L63.65 445.91 L65.03 444.56 L66.42 443.21 L67.8 441.88 L69.18 440.57 L70.57 439.32 L71.95 438.13 L73.33 437.03 L74.72 436.03 L76.1 435.15 L77.48 434.4 L78.87 433.8 L80.25 433.37 L81.63 433.11 L83.02 433.02 L84.4 433.11 L85.78 433.39 L87.17 433.85 L88.55 434.48 L89.93 435.28 L91.32 436.25 L92.7 437.36 L94.08 438.6 L95.47 439.96 L96.85 441.42 L98.23 442.96 L99.62 444.57 L101 446.23 L102.38 447.91 L103.77 449.61 L105.15 451.29 L106.53 452.96 L107.92 454.6 L109.3 456.19 L110.68 457.72 L112.07 459.19 L113.45 460.58 L114.83 461.9 L116.22 463.15 L117.6 464.31 L118.98 465.38 L120.37 466.38 L121.75 467.3 L123.13 468.15 L124.52 468.92 L125.9 469.62 L127.28 470.27 L128.67 470.85 L130.05 471.38 L131.43 471.86 L132.82 472.3 L134.2 472.7" fill="none" stroke="#86c9a0" stroke-width="1.3"/>
<path d="M51.2 451.7 L52.58 450.55 L53.97 449.3 L55.35 447.94 L56.73 446.48 L58.12 444.93 L59.5 443.29 L60.88 441.58 L62.27 439.82 L63.65 438 L65.03 436.17 L66.42 434.33 L67.8 432.51 L69.18 430.72 L70.57 429.01 L71.95 427.38 L73.33 425.87 L74.72 424.49 L76.1 423.28 L77.48 422.24 L78.87 421.41 L80.25 420.79 L81.63 420.39 L83.02 420.23 L84.4 420.31 L85.78 420.64 L87.17 421.21 L88.55 422.01 L89.93 423.03 L91.32 424.27 L92.7 425.71 L94.08 427.32 L95.47 429.09 L96.85 430.99 L98.23 433.01 L99.62 435.11 L101 437.27 L102.38 439.47 L103.77 441.68 L105.15 443.89 L106.53 446.07 L107.92 448.2 L109.3 450.28 L110.68 452.27 L112.07 454.19 L113.45 456 L114.83 457.72 L116.22 459.33 L117.6 460.83 L118.98 462.23 L120.37 463.52 L121.75 464.7 L123.13 465.78 L124.52 466.77 L125.9 467.66 L127.28 468.47 L128.67 469.21 L130.05 469.87 L131.43 470.47 L132.82 471.01 L134.2 471.5" fill="none" stroke="#f5a46a" stroke-width="1.3"/>
<path d="M51.2 448 L52.58 446.74 L53.97 445.35 L55.35 443.85 L56.73 442.24 L58.12 440.52 L59.5 438.71 L60.88 436.81 L62.27 434.85 L63.65 432.85 L65.03 430.81 L66.42 428.78 L67.8 426.76 L69.18 424.79 L70.57 422.89 L71.95 421.09 L73.33 419.41 L74.72 417.89 L76.1 416.55 L77.48 415.41 L78.87 414.49 L80.25 413.81 L81.63 413.38 L83.02 413.21 L84.4 413.32 L85.78 413.69 L87.17 414.33 L88.55 415.23 L89.93 416.39 L91.32 417.78 L92.7 419.39 L94.08 421.2 L95.47 423.18 L96.85 425.31 L98.23 427.56 L99.62 429.91 L101 432.33 L102.38 434.78 L103.77 437.26 L105.15 439.73 L106.53 442.17 L107.92 444.55 L109.3 446.87 L110.68 449.11 L112.07 451.25 L113.45 453.28 L114.83 455.21 L116.22 457.01 L117.6 458.69 L118.98 460.26 L120.37 461.7 L121.75 463.03 L123.13 464.24 L124.52 465.35 L125.9 466.36 L127.28 467.28 L128.67 468.1 L130.05 468.85 L131.43 469.53 L132.82 470.14 L134.2 470.7" fill="none" stroke="#d9627e" stroke-width="1.3"/>
<path d="M51.2 443 L52.58 441.75 L53.97 440.38 L55.35 438.89 L56.73 437.29 L58.12 435.57 L59.5 433.76 L60.88 431.87 L62.27 429.91 L63.65 427.9 L65.03 425.86 L66.42 423.82 L67.8 421.79 L69.18 419.82 L70.57 417.92 L71.95 416.12 L73.33 414.45 L74.72 412.94 L76.1 411.62 L77.48 410.5 L78.87 409.6 L80.25 408.96 L81.63 408.57 L83.02 408.46 L84.4 408.62 L85.78 409.06 L87.17 409.78 L88.55 410.77 L89.93 412.01 L91.32 413.5 L92.7 415.22 L94.08 417.14 L95.47 419.24 L96.85 421.49 L98.23 423.87 L99.62 426.34 L101 428.89 L102.38 431.48 L103.77 434.09 L105.15 436.69 L106.53 439.26 L107.92 441.78 L109.3 444.22 L110.68 446.58 L112.07 448.85 L113.45 451 L114.83 453.04 L116.22 454.95 L117.6 456.75 L118.98 458.41 L120.37 459.96 L121.75 461.38 L123.13 462.69 L124.52 463.89 L125.9 464.99 L127.28 465.99 L128.67 466.9 L130.05 467.73 L131.43 468.48 L132.82 469.17 L134.2 469.8" fill="none" stroke="#5c1a3a" stroke-width="1.3"/>
</g>
<g clip-path="url(#clipc2)">
<path d="M140.8 483.6 L142.19 483.19 L143.58 482.74 L144.97 482.24 L146.36 481.69 L147.75 481.07 L149.14 480.39 L150.53 479.64 L151.92 478.82 L153.31 477.92 L154.7 476.95 L156.09 475.9 L157.48 474.77 L158.87 473.57 L160.26 472.3 L161.65 470.96 L163.04 469.56 L164.43 468.11 L165.82 466.62 L167.21 465.1 L168.6 463.58 L169.99 462.05 L171.38 460.54 L172.77 459.07 L174.16 457.66 L175.55 456.31 L176.94 455.06 L178.33 453.91 L179.72 452.88 L181.11 452 L182.5 451.26 L183.89 450.68 L185.28 450.26 L186.67 450.02 L188.06 449.96 L189.45 450.06 L190.84 450.33 L192.23 450.77 L193.62 451.36 L195.01 452.09 L196.4 452.95 L197.79 453.92 L199.18 454.98 L200.57 456.12 L201.96 457.33 L203.35 458.57 L204.74 459.84 L206.13 461.12 L207.52 462.39 L208.91 463.64 L210.3 464.85 L211.69 466.01 L213.08 467.12 L214.47 468.17 L215.86 469.14 L217.25 470.04 L218.64 470.87 L220.03 471.61 L221.42 472.28 L222.81 472.88 L224.2 473.4" fill="none" stroke="#8878c0" stroke-width="1.3"/>
<path d="M140.8 478.5 L142.19 477.72 L143.58 476.85 L144.97 475.88 L146.36 474.8 L147.75 473.61 L149.14 472.29 L150.53 470.84 L151.92 469.25 L153.31 467.51 L154.7 465.62 L156.09 463.58 L157.48 461.4 L158.87 459.06 L160.26 456.59 L161.65 453.98 L163.04 451.27 L164.43 448.45 L165.82 445.56 L167.21 442.62 L168.6 439.65 L169.99 436.68 L171.38 433.75 L172.77 430.9 L174.16 428.15 L175.55 425.53 L176.94 423.1 L178.33 420.87 L179.72 418.88 L181.11 417.16 L182.5 415.72 L183.89 414.6 L185.28 413.81 L186.67 413.34 L188.06 413.22 L189.45 413.43 L190.84 413.97 L192.23 414.83 L193.62 415.99 L195.01 417.42 L196.4 419.09 L197.79 420.99 L199.18 423.07 L200.57 425.31 L201.96 427.66 L203.35 430.09 L204.74 432.58 L206.13 435.07 L207.52 437.56 L208.91 439.99 L210.3 442.36 L211.69 444.64 L213.08 446.81 L214.47 448.85 L215.86 450.76 L217.25 452.52 L218.64 454.13 L220.03 455.6 L221.42 456.91 L222.81 458.08 L224.2 459.1" fill="none" stroke="#3f88c8" stroke-width="1.3"/>
<path d="M140.8 476 L142.19 475.13 L143.58 474.17 L144.97 473.1 L146.36 471.92 L147.75 470.62 L149.14 469.18 L150.53 467.6 L151.92 465.88 L153.31 463.99 L154.7 461.95 L156.09 459.75 L157.48 457.4 L158.87 454.88 L160.26 452.22 L161.65 449.43 L163.04 446.51 L164.43 443.49 L165.82 440.38 L167.21 437.22 L168.6 434.04 L169.99 430.86 L171.38 427.72 L172.77 424.65 L174.16 421.7 L175.55 418.89 L176.94 416.27 L178.33 413.87 L179.72 411.72 L181.11 409.85 L182.5 408.3 L183.89 407.07 L185.28 406.18 L186.67 405.65 L188.06 405.48 L189.45 405.67 L190.84 406.2 L192.23 407.06 L193.62 408.25 L195.01 409.72 L196.4 411.46 L197.79 413.42 L199.18 415.59 L200.57 417.91 L201.96 420.36 L203.35 422.9 L204.74 425.49 L206.13 428.09 L207.52 430.68 L208.91 433.22 L210.3 435.68 L211.69 438.06 L213.08 440.31 L214.47 442.43 L215.86 444.41 L217.25 446.24 L218.64 447.91 L220.03 449.41 L221.42 450.76 L222.81 451.96 L224.2 453" fill="none" stroke="#86c9a0" stroke-width="1.3"/>
<path d="M140.8 474.4 L142.19 473.29 L143.58 472.05 L144.97 470.68 L146.36 469.16 L147.75 467.48 L149.14 465.63 L150.53 463.6 L151.92 461.37 L153.31 458.94 L154.7 456.3 L156.09 453.46 L157.48 450.41 L158.87 447.15 L160.26 443.71 L161.65 440.09 L163.04 436.31 L164.43 432.4 L165.82 428.38 L167.21 424.29 L168.6 420.16 L169.99 416.04 L171.38 411.98 L172.77 408 L174.16 404.18 L175.55 400.55 L176.94 397.15 L178.33 394.05 L179.72 391.27 L181.11 388.86 L182.5 386.85 L183.89 385.27 L185.28 384.14 L186.67 383.47 L188.06 383.26 L189.45 383.52 L190.84 384.22 L192.23 385.37 L193.62 386.92 L195.01 388.86 L196.4 391.13 L197.79 393.71 L199.18 396.54 L200.57 399.58 L201.96 402.78 L203.35 406.1 L204.74 409.48 L206.13 412.88 L207.52 416.27 L208.91 419.59 L210.3 422.81 L211.69 425.91 L213.08 428.86 L214.47 431.64 L215.86 434.23 L217.25 436.62 L218.64 438.81 L220.03 440.79 L221.42 442.56 L222.81 444.13 L224.2 445.5" fill="none" stroke="#f5a46a" stroke-width="1.3"/>
<path d="M140.8 472.8 L142.19 471.58 L143.58 470.21 L144.97 468.7 L146.36 467.02 L147.75 465.17 L149.14 463.11 L150.53 460.86 L151.92 458.38 L153.31 455.68 L154.7 452.75 L156.09 449.59 L157.48 446.19 L158.87 442.57 L160.26 438.74 L161.65 434.7 L163.04 430.49 L164.43 426.13 L165.82 421.65 L167.21 417.09 L168.6 412.49 L169.99 407.9 L171.38 403.36 L172.77 398.93 L174.16 394.67 L175.55 390.62 L176.94 386.85 L178.33 383.39 L179.72 380.3 L181.11 377.63 L182.5 375.4 L183.89 373.65 L185.28 372.4 L186.67 371.67 L188.06 371.46 L189.45 371.77 L190.84 372.59 L192.23 373.89 L193.62 375.66 L195.01 377.85 L196.4 380.42 L197.79 383.33 L199.18 386.53 L200.57 389.96 L201.96 393.57 L203.35 397.31 L204.74 401.12 L206.13 404.96 L207.52 408.77 L208.91 412.51 L210.3 416.15 L211.69 419.64 L213.08 422.97 L214.47 426.11 L215.86 429.03 L217.25 431.74 L218.64 434.21 L220.03 436.45 L221.42 438.46 L222.81 440.24 L224.2 441.8" fill="none" stroke="#d9627e" stroke-width="1.3"/>
<path d="M140.8 471.4 L142.19 470.16 L143.58 468.78 L144.97 467.25 L146.36 465.55 L147.75 463.67 L149.14 461.59 L150.53 459.31 L151.92 456.81 L153.31 454.08 L154.7 451.11 L156.09 447.92 L157.48 444.49 L158.87 440.83 L160.26 436.95 L161.65 432.88 L163.04 428.62 L164.43 424.21 L165.82 419.69 L167.21 415.08 L168.6 410.43 L169.99 405.79 L171.38 401.21 L172.77 396.74 L174.16 392.43 L175.55 388.34 L176.94 384.52 L178.33 381.03 L179.72 377.91 L181.11 375.2 L182.5 372.95 L183.89 371.18 L185.28 369.92 L186.67 369.17 L188.06 368.96 L189.45 369.26 L190.84 370.08 L192.23 371.4 L193.62 373.17 L195.01 375.37 L196.4 377.96 L197.79 380.9 L199.18 384.12 L200.57 387.57 L201.96 391.21 L203.35 394.98 L204.74 398.82 L206.13 402.69 L207.52 406.53 L208.91 410.3 L210.3 413.97 L211.69 417.49 L213.08 420.84 L214.47 424 L215.86 426.95 L217.25 429.67 L218.64 432.16 L220.03 434.42 L221.42 436.44 L222.81 438.23 L224.2 439.8" fill="none" stroke="#5c1a3a" stroke-width="1.3"/>
</g>
<g clip-path="url(#clipc3)">
<path d="M231.2 458.4 L232.25 453.73 L233.29 448.92 L234.34 443.99 L235.39 438.94 L236.44 433.78 L237.48 428.54 L238.53 423.23 L239.58 417.87 L240.63 412.47 L241.67 407.05 L242.72 401.64 L243.77 396.25 L244.82 390.9 L245.86 385.63 L246.91 380.45 L247.96 375.38 L249.01 370.46 L250.05 365.69 L251.1 361.11 L252.15 356.75 L253.2 352.61 L254.25 348.72 L255.29 345.1 L256.34 341.78 L257.39 338.77 L258.44 336.08 L259.48 333.74 L260.53 331.74 L261.58 330.12 L262.62 328.86 L263.67 327.99 L264.72 327.51 L265.77 327.42 L266.81 327.94 L267.86 329.14 L268.91 331.02 L269.96 333.56 L271 336.75 L272.05 340.56 L273.1 344.96 L274.15 349.94 L275.19 355.45 L276.24 361.47 L277.29 367.94 L278.34 374.84 L279.38 382.12 L280.43 389.73 L281.48 397.63 L282.53 405.78 L283.57 414.13 L284.62 422.64 L285.67 431.25 L286.72 439.94 L287.76 448.65 L288.81 457.34 L289.86 465.98 L290.91 474.54 L291.95 482.97 L293 491.25 L294.05 499.35 L295.1 507.24 L296.14 514.9 L297.19 522.32 L298.24 529.47 L299.29 536.35 L300.34 542.93 L301.38 549.22 L302.43 555.21 L303.48 560.89 L304.52 566.26 L305.57 571.33 L306.62 576.1 L307.67 580.56 L308.72 584.74 L309.76 588.63 L310.81 592.25 L311.86 595.61 L312.9 598.71 L313.95 601.56 L315 604.19" fill="none" stroke="#8878c0" stroke-width="1.3"/>
<path d="M231.2 427.3 L232.25 423.51 L233.29 419.62 L234.34 415.63 L235.39 411.57 L236.44 407.44 L237.48 403.25 L238.53 399.01 L239.58 394.75 L240.63 390.47 L241.67 386.2 L242.72 381.94 L243.77 377.72 L244.82 373.56 L245.86 369.46 L246.91 365.46 L247.96 361.57 L249.01 357.8 L250.05 354.18 L251.1 350.72 L252.15 347.44 L253.2 344.36 L254.25 341.5 L255.29 338.87 L256.34 336.48 L257.39 334.34 L258.44 332.48 L259.48 330.89 L260.53 329.6 L261.58 328.59 L262.62 327.89 L263.67 327.5 L264.72 327.41 L265.77 327.77 L266.81 328.64 L267.86 330.01 L268.91 331.88 L269.96 334.24 L271 337.07 L272.05 340.36 L273.1 344.09 L274.15 348.25 L275.19 352.82 L276.24 357.77 L277.29 363.08 L278.34 368.73 L279.38 374.68 L280.43 380.92 L281.48 387.41 L282.53 394.12 L283.57 401.04 L284.62 408.12 L285.67 415.34 L286.72 422.67 L287.76 430.08 L288.81 437.55 L289.86 445.04 L290.91 452.54 L291.95 460.01 L293 467.43 L294.05 474.79 L295.1 482.05 L296.14 489.21 L297.19 496.23 L298.24 503.11 L299.29 509.83 L300.34 516.37 L301.38 522.73 L302.43 528.89 L303.48 534.84 L304.52 540.59 L305.57 546.11 L306.62 551.41 L307.67 556.49 L308.72 561.34 L309.76 565.96 L310.81 570.36 L311.86 574.53 L312.9 578.48 L313.95 582.21 L315 585.73" fill="none" stroke="#3f88c8" stroke-width="1.3"/>
<path d="M231.2 380.5 L232.25 378.15 L233.29 375.75 L234.34 373.32 L235.39 370.85 L236.44 368.37 L237.48 365.87 L238.53 363.36 L239.58 360.86 L240.63 358.38 L241.67 355.92 L242.72 353.49 L243.77 351.12 L244.82 348.8 L245.86 346.54 L246.91 344.37 L247.96 342.28 L249.01 340.3 L250.05 338.42 L251.1 336.67 L252.15 335.04 L253.2 333.56 L254.25 332.21 L255.29 331.02 L256.34 330 L257.39 329.13 L258.44 328.44 L259.48 327.92 L260.53 327.58 L261.58 327.41 L262.62 327.47 L263.67 327.92 L264.72 328.78 L265.77 330.04 L266.81 331.69 L267.86 333.74 L268.91 336.17 L269.96 338.98 L271 342.15 L272.05 345.66 L273.1 349.52 L274.15 353.69 L275.19 358.17 L276.24 362.94 L277.29 367.97 L278.34 373.26 L279.38 378.78 L280.43 384.51 L281.48 390.43 L282.53 396.53 L283.57 402.77 L284.62 409.14 L285.67 415.62 L286.72 422.19 L287.76 428.82 L288.81 435.51 L289.86 442.22 L290.91 448.94 L291.95 455.65 L293 462.33 L294.05 468.97 L295.1 475.55 L296.14 482.05 L297.19 488.47 L298.24 494.78 L299.29 500.98 L300.34 507.06 L301.38 512.99 L302.43 518.79 L303.48 524.43 L304.52 529.91 L305.57 535.22 L306.62 540.37 L307.67 545.33 L308.72 550.13 L309.76 554.74 L310.81 559.16 L311.86 563.41 L312.9 567.47 L313.95 571.35 L315 575.06" fill="none" stroke="#86c9a0" stroke-width="1.3"/>
<path d="M231.2 401 L232.25 398.03 L233.29 394.99 L234.34 391.88 L235.39 388.73 L236.44 385.52 L237.48 382.29 L238.53 379.03 L239.58 375.76 L240.63 372.49 L241.67 369.24 L242.72 366.01 L243.77 362.83 L244.82 359.69 L245.86 356.63 L246.91 353.65 L247.96 350.76 L249.01 347.99 L250.05 345.34 L251.1 342.83 L252.15 340.47 L253.2 338.27 L254.25 336.25 L255.29 334.42 L256.34 332.78 L257.39 331.34 L258.44 330.12 L259.48 329.12 L260.53 328.34 L261.58 327.8 L262.62 327.48 L263.67 327.41 L264.72 327.67 L265.77 328.33 L266.81 329.38 L267.86 330.82 L268.91 332.64 L269.96 334.84 L271 337.41 L272.05 340.34 L273.1 343.61 L274.15 347.21 L275.19 351.14 L276.24 355.36 L277.29 359.88 L278.34 364.67 L279.38 369.72 L280.43 375 L281.48 380.5 L282.53 386.21 L283.57 392.09 L284.62 398.13 L285.67 404.31 L286.72 410.61 L287.76 417.01 L288.81 423.49 L289.86 430.04 L290.91 436.62 L291.95 443.23 L293 449.85 L294.05 456.45 L295.1 463.03 L296.14 469.56 L297.19 476.04 L298.24 482.44 L299.29 488.75 L300.34 494.96 L301.38 501.06 L302.43 507.04 L303.48 512.89 L304.52 518.6 L305.57 524.16 L306.62 529.56 L307.67 534.81 L308.72 539.89 L309.76 544.8 L310.81 549.54 L311.86 554.1 L312.9 558.49 L313.95 562.7 L315 566.73" fill="none" stroke="#f5a46a" stroke-width="1.3"/>
<path d="M231.2 399.6 L232.25 396.69 L233.29 393.7 L234.34 390.66 L235.39 387.56 L236.44 384.42 L237.48 381.25 L238.53 378.05 L239.58 374.84 L240.63 371.64 L241.67 368.44 L242.72 365.28 L243.77 362.15 L244.82 359.08 L245.86 356.07 L246.91 353.15 L247.96 350.32 L249.01 347.6 L250.05 345 L251.1 342.54 L252.15 340.22 L253.2 338.07 L254.25 336.08 L255.29 334.28 L256.34 332.68 L257.39 331.27 L258.44 330.07 L259.48 329.09 L260.53 328.32 L261.58 327.79 L262.62 327.48 L263.67 327.41 L264.72 327.66 L265.77 328.3 L266.81 329.32 L267.86 330.72 L268.91 332.49 L269.96 334.62 L271 337.12 L272.05 339.96 L273.1 343.13 L274.15 346.64 L275.19 350.45 L276.24 354.56 L277.29 358.96 L278.34 363.63 L279.38 368.54 L280.43 373.69 L281.48 379.06 L282.53 384.62 L283.57 390.37 L284.62 396.27 L285.67 402.32 L286.72 408.49 L287.76 414.76 L288.81 421.12 L289.86 427.54 L290.91 434.01 L291.95 440.52 L293 447.03 L294.05 453.55 L295.1 460.04 L296.14 466.49 L297.19 472.9 L298.24 479.24 L299.29 485.5 L300.34 491.67 L301.38 497.74 L302.43 503.7 L303.48 509.53 L304.52 515.24 L305.57 520.8 L306.62 526.22 L307.67 531.49 L308.72 536.59 L309.76 541.54 L310.81 546.32 L311.86 550.93 L312.9 555.38 L313.95 559.65 L315 563.75" fill="none" stroke="#d9627e" stroke-width="1.3"/>
<path d="M231.2 397.8 L232.25 394.96 L233.29 392.05 L234.34 389.08 L235.39 386.06 L236.44 383 L237.48 379.9 L238.53 376.79 L239.58 373.66 L240.63 370.53 L241.67 367.42 L242.72 364.33 L243.77 361.29 L244.82 358.29 L245.86 355.36 L246.91 352.51 L247.96 349.75 L249.01 347.1 L250.05 344.56 L251.1 342.16 L252.15 339.9 L253.2 337.8 L254.25 335.87 L255.29 334.11 L256.34 332.54 L257.39 331.17 L258.44 330 L259.48 329.04 L260.53 328.3 L261.58 327.78 L262.62 327.48 L263.67 327.41 L264.72 327.65 L265.77 328.27 L266.81 329.26 L267.86 330.62 L268.91 332.34 L269.96 334.41 L271 336.83 L272.05 339.59 L273.1 342.68 L274.15 346.09 L275.19 349.8 L276.24 353.8 L277.29 358.08 L278.34 362.62 L279.38 367.41 L280.43 372.43 L281.48 377.67 L282.53 383.1 L283.57 388.71 L284.62 394.48 L285.67 400.4 L286.72 406.44 L287.76 412.58 L288.81 418.82 L289.86 425.13 L290.91 431.49 L291.95 437.88 L293 444.3 L294.05 450.72 L295.1 457.12 L296.14 463.5 L297.19 469.84 L298.24 476.12 L299.29 482.33 L300.34 488.45 L301.38 494.49 L302.43 500.42 L303.48 506.23 L304.52 511.93 L305.57 517.49 L306.62 522.92 L307.67 528.2 L308.72 533.33 L309.76 538.31 L310.81 543.12 L311.86 547.78 L312.9 552.28 L313.95 556.6 L315 560.76" fill="none" stroke="#5c1a3a" stroke-width="1.3"/>
</g>
<rect x="51.2" y="281.8" width="83" height="225.7" fill="none" stroke="#000" stroke-width="1.6"/>
<rect x="140.8" y="281.8" width="83.4" height="225.7" fill="none" stroke="#000" stroke-width="1.6"/>
<rect x="231.2" y="281.8" width="83.8" height="225.7" fill="none" stroke="#000" stroke-width="1.6"/>
<line x1="61.58" y1="507.5" x2="61.58" y2="511.7" stroke="#000" stroke-width="1.4"/>
<text x="61.58" y="524" font-size="11" text-anchor="middle">330</text>
<line x1="92.7" y1="507.5" x2="92.7" y2="511.7" stroke="#000" stroke-width="1.4"/>
<text x="92.7" y="524" font-size="11" text-anchor="middle">360</text>
<line x1="123.82" y1="507.5" x2="123.82" y2="511.7" stroke="#000" stroke-width="1.4"/>
<text x="123.82" y="524" font-size="11" text-anchor="middle">390</text>
<line x1="147.75" y1="507.5" x2="147.75" y2="511.7" stroke="#000" stroke-width="1.4"/>
<text x="147.75" y="524" font-size="11" text-anchor="middle">260</text>
<line x1="175.55" y1="507.5" x2="175.55" y2="511.7" stroke="#000" stroke-width="1.4"/>
<text x="175.55" y="524" font-size="11" text-anchor="middle">280</text>
<line x1="203.35" y1="507.5" x2="203.35" y2="511.7" stroke="#000" stroke-width="1.4"/>
<text x="203.35" y="524" font-size="11" text-anchor="middle">300</text>
<line x1="252.15" y1="507.5" x2="252.15" y2="511.7" stroke="#000" stroke-width="1.4"/>
<text x="252.15" y="524" font-size="11" text-anchor="middle">220</text>
<line x1="294.05" y1="507.5" x2="294.05" y2="511.7" stroke="#000" stroke-width="1.4"/>
<text x="294.05" y="524" font-size="11" text-anchor="middle">240</text>
<text x="-0.3" y="293.6" font-size="22" font-weight="bold">c</text>
<text x="201.5" y="546.6" font-size="16.9" text-anchor="middle">Wavelength (nm)</text>
<text x="29.8" y="395" font-size="16.9" text-anchor="middle" transform="rotate(-90 29.8 395)">Absorbance (arb. units)</text>
<line x1="53.8" y1="291.4" x2="82.9" y2="291.4" stroke="#5c1a3a" stroke-width="1.4"/>
<text x="86" y="295.9" font-size="12.6"><tspan font-style="italic">t</tspan><tspan font-size="9" dy="3.2">1</tspan><tspan dy="-3.2">= 2 h</tspan></text>
<line x1="53.8" y1="309.68" x2="82.9" y2="309.68" stroke="#d9627e" stroke-width="1.4"/>
<text x="86" y="314.18" font-size="12.6"><tspan font-style="italic">t</tspan><tspan font-size="9" dy="3.2">2</tspan><tspan dy="-3.2">= 4 h</tspan></text>
<line x1="53.8" y1="327.96" x2="82.9" y2="327.96" stroke="#f5a46a" stroke-width="1.4"/>
<text x="86" y="332.46" font-size="12.6"><tspan font-style="italic">t</tspan><tspan font-size="9" dy="3.2">3</tspan><tspan dy="-3.2">= 6 h</tspan></text>
<line x1="53.8" y1="346.24" x2="82.9" y2="346.24" stroke="#86c9a0" stroke-width="1.4"/>
<text x="86" y="350.74" font-size="12.6"><tspan font-style="italic">t</tspan><tspan font-size="9" dy="3.2">4</tspan><tspan dy="-3.2">= 8 h</tspan></text>
<line x1="53.8" y1="364.52" x2="82.9" y2="364.52" stroke="#3f88c8" stroke-width="1.4"/>
<text x="86" y="369.02" font-size="12.6"><tspan font-style="italic">t</tspan><tspan font-size="9" dy="3.2">5</tspan><tspan dy="-3.2">= 10 h</tspan></text>
<line x1="53.8" y1="382.8" x2="82.9" y2="382.8" stroke="#8878c0" stroke-width="1.4"/>
<text x="86" y="387.3" font-size="12.6"><tspan font-style="italic">t</tspan><tspan font-size="9" dy="3.2">6</tspan><tspan dy="-3.2">= 12 h</tspan></text>
<line x1="83.6" y1="402" x2="83.6" y2="482.5" stroke="#222" stroke-width="1.3" stroke-dasharray="4.5 3"/>
<path d="M83.6 492.5 L80.9 482.5 L86.3 482.5 Z" fill="#111"/>
<line x1="186.9" y1="361.4" x2="186.9" y2="471.5" stroke="#222" stroke-width="1.3" stroke-dasharray="4.5 3"/>
<path d="M186.9 481.5 L184.2 471.5 L189.6 471.5 Z" fill="#111"/>
<line x1="259.4" y1="377.7" x2="267.94" y2="297.64" stroke="#222" stroke-width="1.3" stroke-dasharray="4.5 3"/>
<path d="M269 287.7 L270.62 297.93 L265.25 297.36 Z" fill="#111"/>
<text x="93.5" y="406" font-size="12.5">I<tspan font-size="8.5" dy="3.5">3</tspan><tspan font-size="8.5" dy="-9">-</tspan></text>
<text x="189.8" y="358.4" font-size="12.5">I<tspan font-size="8.5" dy="3.5">3</tspan><tspan font-size="8.5" dy="-9">-</tspan></text>
<text x="285" y="317.2" font-size="12.5">I<tspan font-size="8.5" dy="-5.5">-</tspan></text>
<g clip-path="url(#clipd1)">
<path d="M406.5 453.4 L408.64 452.99 L410.77 452.59 L412.91 452.19 L415.05 451.79 L417.19 451.38 L419.33 450.97 L421.46 450.54 L423.6 450.1 L425.61 449.65 L427.62 449.16 L429.64 448.64 L431.65 448.12 L433.66 447.62 L435.68 447.15 L437.69 446.74 L439.7 446.4 L441.56 446.13 L443.43 445.88 L445.29 445.65 L447.15 445.43 L449.01 445.24 L450.88 445.07 L452.74 444.92 L454.6 444.8 L455.53 444.75 L456.45 444.69 L457.38 444.64 L458.3 444.6 L459.23 444.56 L460.15 444.53 L461.07 444.51 L462 444.5 L463.25 444.56 L464.5 444.73 L465.75 444.98 L467 445.31 L468.25 445.69 L469.5 446.11 L470.75 446.56 L472 447 L473.09 447.45 L474.18 448 L475.26 448.63 L476.35 449.32 L477.44 450.03 L478.52 450.73 L479.61 451.39 L480.7 452 L481.68 452.5 L482.65 452.97 L483.62 453.44 L484.6 453.89 L485.57 454.34 L486.55 454.79 L487.52 455.24 L488.5 455.7" fill="none" stroke="#9b3570" stroke-width="1.4" stroke-linejoin="round"/>
<path d="M406.5 451 L408.64 450.44 L410.77 449.9 L412.91 449.37 L415.05 448.83 L417.19 448.28 L419.33 447.7 L421.46 447.07 L423.6 446.4 L425.61 445.67 L427.62 444.83 L429.64 443.92 L431.65 442.98 L433.66 442.03 L435.68 441.13 L437.69 440.31 L439.7 439.6 L441.56 438.99 L443.43 438.37 L445.29 437.76 L447.15 437.19 L449.01 436.68 L450.88 436.27 L452.74 435.96 L454.6 435.8 L455.53 435.76 L456.45 435.72 L457.38 435.69 L458.3 435.66 L459.23 435.63 L460.15 435.62 L461.07 435.6 L462 435.6 L463.25 435.7 L464.5 435.97 L465.75 436.38 L467 436.91 L468.25 437.53 L469.5 438.2 L470.75 438.9 L472 439.6 L473.09 440.28 L474.18 441.09 L475.26 442.01 L476.35 443 L477.44 444.03 L478.52 445.06 L479.61 446.06 L480.7 447 L481.68 447.79 L482.65 448.58 L483.62 449.36 L484.6 450.13 L485.57 450.89 L486.55 451.66 L487.52 452.43 L488.5 453.2" fill="none" stroke="#d8566e" stroke-width="1.4" stroke-linejoin="round"/>
<path d="M406.5 447.6 L408.64 446.77 L410.77 445.97 L412.91 445.18 L415.05 444.38 L417.19 443.57 L419.33 442.71 L421.46 441.79 L423.6 440.8 L425.61 439.73 L427.62 438.49 L429.64 437.15 L431.65 435.77 L433.66 434.39 L435.68 433.09 L437.69 431.9 L439.7 430.9 L441.56 430.04 L443.43 429.16 L445.29 428.29 L447.15 427.47 L449.01 426.76 L450.88 426.2 L452.74 425.83 L454.6 425.7 L455.38 425.7 L456.15 425.7 L456.93 425.7 L457.7 425.7 L458.48 425.7 L459.25 425.7 L460.03 425.7 L460.8 425.7 L462.05 425.79 L463.3 426.04 L464.55 426.43 L465.8 426.94 L467.05 427.53 L468.3 428.19 L469.55 428.89 L470.8 429.6 L471.88 430.31 L472.95 431.18 L474.02 432.19 L475.1 433.32 L476.18 434.52 L477.25 435.77 L478.32 437.04 L479.4 438.3 L480.54 439.67 L481.67 441.14 L482.81 442.68 L483.95 444.27 L485.09 445.89 L486.23 447.51 L487.36 449.12 L488.5 450.7" fill="none" stroke="#f26a4f" stroke-width="1.4" stroke-linejoin="round"/>
<path d="M406.5 439.3 L408.64 438.43 L410.77 437.59 L412.91 436.77 L415.05 435.94 L417.19 435.08 L419.33 434.17 L421.46 433.18 L423.6 432.1 L425.15 431.19 L426.7 430.13 L428.25 428.98 L429.8 427.78 L431.35 426.57 L432.9 425.41 L434.45 424.34 L436 423.4 L437.55 422.55 L439.1 421.7 L440.65 420.89 L442.2 420.11 L443.75 419.4 L445.3 418.77 L446.85 418.23 L448.4 417.8 L449.8 417.47 L451.2 417.15 L452.6 416.84 L454 416.57 L455.4 416.34 L456.8 416.16 L458.2 416.04 L459.6 416 L460.84 416.09 L462.08 416.33 L463.31 416.7 L464.55 417.18 L465.79 417.74 L467.02 418.36 L468.26 419.03 L469.5 419.7 L470.74 420.47 L471.98 421.43 L473.21 422.54 L474.45 423.78 L475.69 425.13 L476.92 426.57 L478.16 428.07 L479.4 429.6 L480.54 431.12 L481.67 432.82 L482.81 434.67 L483.95 436.6 L485.09 438.6 L486.23 440.61 L487.36 442.59 L488.5 444.5" fill="none" stroke="#a8dbb8" stroke-width="1.4" stroke-linejoin="round"/>
<path d="M406.5 438.3 L407.86 437.34 L409.23 436.41 L410.59 435.49 L411.95 434.57 L413.31 433.62 L414.67 432.64 L416.04 431.6 L417.4 430.5 L418.95 429.15 L420.5 427.69 L422.05 426.16 L423.6 424.56 L425.15 422.91 L426.7 421.22 L428.25 419.51 L429.8 417.8 L431.04 416.37 L432.27 414.84 L433.51 413.26 L434.75 411.66 L435.99 410.1 L437.23 408.6 L438.46 407.22 L439.7 406 L440.95 404.86 L442.2 403.74 L443.45 402.66 L444.7 401.64 L445.95 400.7 L447.2 399.87 L448.45 399.16 L449.7 398.6 L451.01 398.1 L452.32 397.61 L453.64 397.16 L454.95 396.75 L456.26 396.4 L457.57 396.13 L458.89 395.96 L460.2 395.9 L461.36 395.99 L462.52 396.27 L463.69 396.69 L464.85 397.26 L466.01 397.94 L467.18 398.72 L468.34 399.58 L469.5 400.5 L470.44 401.5 L471.38 402.91 L472.31 404.66 L473.25 406.66 L474.19 408.81 L475.12 411.05 L476.06 413.27 L477 415.4 L478.44 418.64 L479.88 422.06 L481.31 425.6 L482.75 429.23 L484.19 432.92 L485.62 436.62 L487.06 440.29 L488.5 443.9" fill="none" stroke="#5fc0b8" stroke-width="1.4" stroke-linejoin="round"/>
<path d="M406.5 437.3 L407.86 436.36 L409.23 435.45 L410.59 434.56 L411.95 433.65 L413.31 432.73 L414.67 431.75 L416.04 430.72 L417.4 429.6 L418.95 428.2 L420.5 426.66 L422.05 425.02 L423.6 423.29 L425.15 421.5 L426.7 419.67 L428.25 417.83 L429.8 416 L431.04 414.5 L432.27 412.92 L433.51 411.3 L434.75 409.67 L435.99 408.05 L437.23 406.48 L438.46 404.98 L439.7 403.6 L440.79 402.43 L441.88 401.25 L442.96 400.09 L444.05 398.98 L445.14 397.93 L446.22 396.99 L447.31 396.17 L448.4 395.5 L449.64 394.83 L450.88 394.17 L452.11 393.55 L453.35 392.98 L454.59 392.5 L455.82 392.13 L457.06 391.89 L458.3 391.8 L458.85 391.8 L459.4 391.8 L459.95 391.8 L460.5 391.8 L461.05 391.8 L461.6 391.8 L462.15 391.8 L462.7 391.8 L463.55 391.93 L464.4 392.3 L465.25 392.87 L466.1 393.6 L466.95 394.45 L467.8 395.39 L468.65 396.39 L469.5 397.4 L470.44 398.71 L471.38 400.36 L472.31 402.28 L473.25 404.41 L474.19 406.67 L475.12 408.99 L476.06 411.29 L477 413.5 L478.44 416.85 L479.88 420.32 L481.31 423.87 L482.75 427.48 L484.19 431.12 L485.62 434.77 L487.06 438.41 L488.5 442" fill="none" stroke="#3f7fc8" stroke-width="1.4" stroke-linejoin="round"/>
</g>
<g clip-path="url(#clipd2)">
<path d="M495.7 445 L497.06 445.55 L498.43 446.16 L499.79 446.79 L501.15 447.41 L502.51 447.98 L503.88 448.48 L505.24 448.86 L506.6 449.1 L509.74 449.4 L512.88 449.61 L516.01 449.76 L519.15 449.87 L522.29 449.99 L525.43 450.12 L528.56 450.32 L531.7 450.6 L533.26 450.83 L534.83 451.17 L536.39 451.59 L537.95 452.07 L539.51 452.59 L541.08 453.11 L542.64 453.63 L544.2 454.1 L546.09 454.64 L547.98 455.18 L549.86 455.72 L551.75 456.27 L553.64 456.82 L555.52 457.37 L557.41 457.93 L559.3 458.5 L561.62 459.21 L563.95 459.94 L566.27 460.67 L568.6 461.42 L570.92 462.16 L573.25 462.91 L575.57 463.66 L577.9 464.4" fill="none" stroke="#9b3570" stroke-width="1.4" stroke-linejoin="round"/>
<path d="M495.7 434.6 L496.74 435.19 L497.77 435.84 L498.81 436.52 L499.85 437.18 L500.89 437.8 L501.93 438.33 L502.96 438.74 L504 439 L505.89 439.29 L507.77 439.54 L509.66 439.76 L511.55 439.95 L513.44 440.1 L515.33 440.21 L517.21 440.28 L519.1 440.3 L520.68 440.24 L522.25 440.1 L523.83 439.89 L525.4 439.65 L526.98 439.41 L528.55 439.2 L530.12 439.06 L531.7 439 L533.26 439.19 L534.83 439.72 L536.39 440.49 L537.95 441.43 L539.51 442.47 L541.08 443.51 L542.64 444.48 L544.2 445.3 L546.09 446.14 L547.98 446.94 L549.86 447.72 L551.75 448.48 L553.64 449.24 L555.52 450 L557.41 450.78 L559.3 451.6 L561.62 452.65 L563.95 453.72 L566.27 454.82 L568.6 455.93 L570.92 457.05 L573.25 458.17 L575.57 459.29 L577.9 460.4" fill="none" stroke="#d8566e" stroke-width="1.4" stroke-linejoin="round"/>
<path d="M495.7 423.3 L496.43 423.95 L497.15 424.65 L497.88 425.37 L498.6 426.07 L499.32 426.74 L500.05 427.36 L500.77 427.88 L501.5 428.3 L502.45 428.76 L503.4 429.21 L504.35 429.63 L505.3 430.01 L506.25 430.33 L507.2 430.58 L508.15 430.74 L509.1 430.8 L511.14 430.69 L513.17 430.41 L515.21 430.01 L517.25 429.55 L519.29 429.09 L521.33 428.69 L523.36 428.41 L525.4 428.3 L526.34 428.33 L527.27 428.42 L528.21 428.55 L529.15 428.72 L530.09 428.92 L531.02 429.13 L531.96 429.37 L532.9 429.6 L534.31 430.03 L535.73 430.59 L537.14 431.25 L538.55 432 L539.96 432.79 L541.38 433.61 L542.79 434.42 L544.2 435.2 L546.09 436.22 L547.98 437.28 L549.86 438.35 L551.75 439.45 L553.64 440.57 L555.52 441.7 L557.41 442.85 L559.3 444 L561.62 445.44 L563.95 446.91 L566.27 448.41 L568.6 449.92 L570.92 451.44 L573.25 452.97 L575.57 454.49 L577.9 456" fill="none" stroke="#f26a4f" stroke-width="1.4" stroke-linejoin="round"/>
<path d="M495.7 422.7 L496.59 423.05 L497.48 423.44 L498.36 423.86 L499.25 424.26 L500.14 424.63 L501.02 424.93 L501.91 425.13 L502.8 425.2 L504.84 425.12 L506.88 424.9 L508.91 424.56 L510.95 424.13 L512.99 423.64 L515.02 423.12 L517.06 422.6 L519.1 422.1 L520.68 421.65 L522.25 421.09 L523.83 420.46 L525.4 419.83 L526.98 419.24 L528.55 418.75 L530.12 418.42 L531.7 418.3 L532.49 418.38 L533.28 418.61 L534.06 418.96 L534.85 419.39 L535.64 419.89 L536.42 420.4 L537.21 420.92 L538 421.4 L539.4 422.3 L540.8 423.33 L542.2 424.45 L543.6 425.61 L545 426.75 L546.4 427.83 L547.8 428.8 L549.2 429.6 L551.09 430.46 L552.98 431.17 L554.86 431.79 L556.75 432.37 L558.64 432.95 L560.52 433.58 L562.41 434.32 L564.3 435.2 L566 436.2 L567.7 437.42 L569.4 438.81 L571.1 440.32 L572.8 441.89 L574.5 443.47 L576.2 445.03 L577.9 446.5" fill="none" stroke="#a8dbb8" stroke-width="1.4" stroke-linejoin="round"/>
<path d="M495.7 421.4 L496.27 421.66 L496.85 421.96 L497.43 422.28 L498 422.59 L498.57 422.87 L499.15 423.09 L499.73 423.24 L500.3 423.3 L501.09 423.16 L501.88 422.78 L502.66 422.2 L503.45 421.49 L504.24 420.69 L505.03 419.86 L505.81 419.04 L506.6 418.3 L508.16 416.86 L509.73 415.3 L511.29 413.66 L512.85 411.98 L514.41 410.31 L515.98 408.68 L517.54 407.13 L519.1 405.7 L520.75 404.18 L522.4 402.53 L524.05 400.86 L525.7 399.27 L527.35 397.86 L529 396.73 L530.65 395.97 L532.3 395.7 L533.79 395.96 L535.27 396.69 L536.76 397.8 L538.25 399.18 L539.74 400.76 L541.23 402.43 L542.71 404.11 L544.2 405.7 L545.15 406.75 L546.1 407.93 L547.05 409.19 L548 410.49 L548.95 411.79 L549.9 413.04 L550.85 414.19 L551.8 415.2 L552.89 416.19 L553.97 417.06 L555.06 417.86 L556.15 418.62 L557.24 419.39 L558.33 420.2 L559.41 421.09 L560.5 422.1 L561.6 423.28 L562.7 424.62 L563.8 426.07 L564.9 427.61 L566 429.2 L567.1 430.82 L568.2 432.43 L569.3 434 L570.38 435.52 L571.45 437.06 L572.52 438.62 L573.6 440.19 L574.67 441.77 L575.75 443.35 L576.82 444.93 L577.9 446.5" fill="none" stroke="#5fc0b8" stroke-width="1.4" stroke-linejoin="round"/>
<path d="M495.7 419.9 L496.27 420.08 L496.85 420.29 L497.43 420.5 L498 420.71 L498.57 420.9 L499.15 421.06 L499.73 421.16 L500.3 421.2 L501.09 421.07 L501.88 420.7 L502.66 420.15 L503.45 419.47 L504.24 418.71 L505.03 417.91 L505.81 417.12 L506.6 416.4 L508.16 415.01 L509.73 413.5 L511.29 411.92 L512.85 410.3 L514.41 408.65 L515.98 407.02 L517.54 405.42 L519.1 403.9 L520.68 402.27 L522.25 400.46 L523.83 398.58 L525.4 396.76 L526.98 395.13 L528.55 393.81 L530.12 392.92 L531.7 392.6 L532.16 392.61 L532.62 392.65 L533.09 392.71 L533.55 392.78 L534.01 392.87 L534.48 392.97 L534.94 393.08 L535.4 393.2 L536.5 393.73 L537.6 394.69 L538.7 395.97 L539.8 397.49 L540.9 399.13 L542 400.82 L543.1 402.44 L544.2 403.9 L545.15 405.1 L546.1 406.33 L547.05 407.59 L548 408.84 L548.95 410.06 L549.9 411.23 L550.85 412.32 L551.8 413.3 L552.89 414.29 L553.97 415.17 L555.06 415.97 L556.15 416.74 L557.24 417.51 L558.33 418.32 L559.41 419.2 L560.5 420.2 L561.6 421.35 L562.7 422.62 L563.8 423.98 L564.9 425.43 L566 426.92 L567.1 428.45 L568.2 429.98 L569.3 431.5 L570.38 432.99 L571.45 434.52 L572.52 436.07 L573.6 437.65 L574.67 439.24 L575.75 440.84 L576.82 442.43 L577.9 444" fill="none" stroke="#3f7fc8" stroke-width="1.4" stroke-linejoin="round"/>
</g>
<g clip-path="url(#clipd3)">
<path d="M584.7 451 L586.83 441.99 L588.95 432.79 L591.08 423.51 L593.2 414.26 L595.33 405.18 L597.45 396.36 L599.58 387.93 L601.7 380 L602.86 375.88 L604.03 371.88 L605.19 368 L606.35 364.21 L607.51 360.53 L608.67 356.94 L609.84 353.43 L611 350 L612.12 346.65 L613.25 343.22 L614.38 339.8 L615.5 336.48 L616.62 333.36 L617.75 330.51 L618.88 328.02 L620 326 L621 324.46 L622 323 L623 321.64 L624 320.39 L625 319.29 L626 318.34 L627 317.57 L628 317 L628.7 316.68 L629.4 316.37 L630.1 316.08 L630.8 315.83 L631.5 315.61 L632.2 315.44 L632.9 315.34 L633.6 315.3 L634.02 315.34 L634.45 315.44 L634.88 315.6 L635.3 315.81 L635.73 316.07 L636.15 316.36 L636.58 316.67 L637 317 L637.56 317.58 L638.12 318.4 L638.69 319.43 L639.25 320.66 L639.81 322.03 L640.38 323.54 L640.94 325.13 L641.5 326.8 L642.49 330.33 L643.48 334.84 L644.46 340.12 L645.45 345.95 L646.44 352.1 L647.42 358.35 L648.41 364.49 L649.4 370.3 L650.64 377.55 L651.88 385.19 L653.11 393.02 L654.35 400.83 L655.59 408.4 L656.82 415.52 L658.06 422 L659.3 427.6 L660.29 431.47 L661.27 434.99 L662.26 438.24 L663.25 441.31 L664.24 444.27 L665.23 447.2 L666.21 450.18 L667.2 453.3" fill="none" stroke="#9b3570" stroke-width="1.4" stroke-linejoin="round"/>
<path d="M584.7 429 L586.61 423.7 L588.53 418.52 L590.44 413.38 L592.35 408.21 L594.26 402.96 L596.17 397.55 L598.09 391.92 L600 386 L601.25 381.81 L602.5 377.29 L603.75 372.56 L605 367.75 L606.25 362.96 L607.5 358.32 L608.75 353.96 L610 350 L611.12 346.69 L612.25 343.47 L613.38 340.37 L614.5 337.39 L615.62 334.54 L616.75 331.85 L617.88 329.34 L619 327 L619.75 325.48 L620.5 323.92 L621.25 322.39 L622 320.94 L622.75 319.62 L623.5 318.49 L624.25 317.6 L625 317 L625.59 316.67 L626.17 316.35 L626.76 316.06 L627.35 315.81 L627.94 315.6 L628.53 315.44 L629.11 315.34 L629.7 315.3 L630.24 315.35 L630.78 315.48 L631.31 315.69 L631.85 315.96 L632.39 316.29 L632.92 316.66 L633.46 317.07 L634 317.5 L634.69 318.26 L635.38 319.39 L636.06 320.82 L636.75 322.51 L637.44 324.39 L638.12 326.42 L638.81 328.54 L639.5 330.7 L640.74 335.16 L641.98 340.62 L643.21 346.81 L644.45 353.5 L645.69 360.42 L646.92 367.33 L648.16 373.97 L649.4 380.1 L650.64 386 L651.88 392.04 L653.11 398.08 L654.35 403.99 L655.59 409.63 L656.82 414.87 L658.06 419.57 L659.3 423.6 L660.29 426.35 L661.27 428.82 L662.26 431.07 L663.25 433.18 L664.24 435.2 L665.23 437.21 L666.21 439.25 L667.2 441.4" fill="none" stroke="#d8566e" stroke-width="1.4" stroke-linejoin="round"/>
<path d="M584.7 427 L585.93 421.01 L587.15 414.84 L588.38 408.61 L589.6 402.41 L590.83 396.34 L592.05 390.52 L593.27 385.04 L594.5 380 L595.19 377.38 L595.88 374.86 L596.56 372.45 L597.25 370.12 L597.94 367.86 L598.62 365.67 L599.31 363.52 L600 361.4 L601.25 357.59 L602.5 353.81 L603.75 350.11 L605 346.53 L606.25 343.08 L607.5 339.83 L608.75 336.79 L610 334 L611 331.87 L612 329.76 L613 327.71 L614 325.76 L615 323.97 L616 322.38 L617 321.04 L618 320 L619 319.12 L620 318.28 L621 317.48 L622 316.77 L623 316.17 L624 315.7 L625 315.41 L626 315.3 L626.75 315.31 L627.5 315.35 L628.25 315.41 L629 315.49 L629.75 315.59 L630.5 315.71 L631.25 315.85 L632 316 L632.94 316.47 L633.88 317.44 L634.81 318.81 L635.75 320.5 L636.69 322.42 L637.62 324.49 L638.56 326.61 L639.5 328.7 L640.74 331.69 L641.98 335.16 L643.21 339.03 L644.45 343.18 L645.69 347.49 L646.92 351.87 L648.16 356.21 L649.4 360.4 L650.64 364.5 L651.88 368.64 L653.11 372.81 L654.35 377.01 L655.59 381.23 L656.82 385.47 L658.06 389.73 L659.3 394 L660.29 397.42 L661.27 400.86 L662.26 404.32 L663.25 407.8 L664.24 411.27 L665.23 414.75 L666.21 418.23 L667.2 421.7" fill="none" stroke="#f26a4f" stroke-width="1.4" stroke-linejoin="round"/>
<path d="M584.7 439.4 L586.11 431.99 L587.53 424.59 L588.94 417.21 L590.35 409.82 L591.76 402.41 L593.17 394.98 L594.59 387.51 L596 380 L596.5 377.24 L597 374.36 L597.5 371.42 L598 368.49 L598.5 365.66 L599 362.98 L599.5 360.54 L600 358.4 L601 354.64 L602 351.19 L603 348 L604 345.06 L605 342.32 L606 339.76 L607 337.33 L608 335 L609 332.71 L610 330.43 L611 328.22 L612 326.13 L613 324.22 L614 322.52 L615 321.1 L616 320 L616.96 319.12 L617.92 318.27 L618.89 317.48 L619.85 316.77 L620.81 316.17 L621.78 315.7 L622.74 315.41 L623.7 315.3 L624.24 315.34 L624.78 315.44 L625.31 315.6 L625.85 315.81 L626.39 316.07 L626.92 316.35 L627.46 316.67 L628 317 L628.7 317.59 L629.4 318.45 L630.1 319.53 L630.8 320.8 L631.5 322.2 L632.2 323.7 L632.9 325.24 L633.6 326.8 L634.34 328.53 L635.08 330.46 L635.81 332.55 L636.55 334.78 L637.29 337.12 L638.02 339.53 L638.76 342 L639.5 344.5 L640.74 348.9 L641.98 353.65 L643.21 358.65 L644.45 363.81 L645.69 369.03 L646.92 374.21 L648.16 379.27 L649.4 384.1 L650.64 388.75 L651.88 393.32 L653.11 397.83 L654.35 402.28 L655.59 406.68 L656.82 411.05 L658.06 415.39 L659.3 419.7 L660.29 423.11 L661.27 426.49 L662.26 429.83 L663.25 433.15 L664.24 436.46 L665.23 439.76 L666.21 443.07 L667.2 446.4" fill="none" stroke="#a8dbb8" stroke-width="1.4" stroke-linejoin="round"/>
<path d="M584.7 372.3 L585.61 368.79 L586.53 365.13 L587.44 361.41 L588.35 357.72 L589.26 354.15 L590.17 350.78 L591.09 347.7 L592 345 L593 342.38 L594 339.94 L595 337.66 L596 335.52 L597 333.51 L598 331.6 L599 329.77 L600 328 L600.75 326.69 L601.5 325.38 L602.25 324.11 L603 322.89 L603.75 321.74 L604.5 320.7 L605.25 319.78 L606 319 L606.56 318.47 L607.12 317.93 L607.69 317.41 L608.25 316.93 L608.81 316.51 L609.38 316.19 L609.94 315.98 L610.5 315.9 L611.06 315.94 L611.62 316.07 L612.19 316.27 L612.75 316.53 L613.31 316.85 L613.88 317.2 L614.44 317.59 L615 318 L615.6 318.57 L616.2 319.37 L616.8 320.35 L617.4 321.49 L618 322.74 L618.6 324.07 L619.2 325.43 L619.8 326.8 L621.04 329.84 L622.27 333.3 L623.51 337.12 L624.75 341.19 L625.99 345.44 L627.23 349.78 L628.46 354.13 L629.7 358.4 L630.93 362.65 L632.15 367.03 L633.38 371.52 L634.6 376.06 L635.83 380.63 L637.05 385.16 L638.27 389.63 L639.5 394 L640.74 398.39 L641.98 402.83 L643.21 407.28 L644.45 411.67 L645.69 415.95 L646.92 420.07 L648.16 423.97 L649.4 427.6 L650.64 431.02 L651.88 434.32 L653.11 437.49 L654.35 440.54 L655.59 443.45 L656.82 446.22 L658.06 448.84 L659.3 451.3 L660.29 453.14 L661.27 454.85 L662.26 456.48 L663.25 458.04 L664.24 459.57 L665.23 461.08 L666.21 462.62 L667.2 464.2" fill="none" stroke="#5fc0b8" stroke-width="1.4" stroke-linejoin="round"/>
<path d="M584.7 360 L585.61 357.17 L586.53 354.24 L587.44 351.26 L588.35 348.3 L589.26 345.43 L590.17 342.71 L591.09 340.21 L592 338 L593 335.83 L594 333.8 L595 331.9 L596 330.11 L597 328.42 L598 326.81 L599 325.28 L600 323.8 L600.62 322.88 L601.25 321.95 L601.88 321.03 L602.5 320.15 L603.12 319.34 L603.75 318.61 L604.38 317.99 L605 317.5 L605.61 317.1 L606.23 316.7 L606.84 316.33 L607.45 316 L608.06 315.71 L608.67 315.49 L609.29 315.35 L609.9 315.3 L610.41 315.34 L610.92 315.45 L611.44 315.62 L611.95 315.83 L612.46 316.09 L612.98 316.38 L613.49 316.69 L614 317 L614.73 317.53 L615.45 318.23 L616.17 319.08 L616.9 320.04 L617.62 321.12 L618.35 322.28 L619.07 323.52 L619.8 324.8 L621.04 327.34 L622.27 330.44 L623.51 333.99 L624.75 337.87 L625.99 341.96 L627.23 346.16 L628.46 350.34 L629.7 354.4 L630.93 358.4 L632.15 362.53 L633.38 366.76 L634.6 371.06 L635.83 375.37 L637.05 379.65 L638.27 383.88 L639.5 388 L640.74 392.13 L641.98 396.29 L643.21 400.45 L644.45 404.56 L645.69 408.58 L646.92 412.47 L648.16 416.19 L649.4 419.7 L650.64 423.04 L651.88 426.28 L653.11 429.42 L654.35 432.44 L655.59 435.36 L656.82 438.16 L658.06 440.84 L659.3 443.4 L660.29 445.33 L661.27 447.16 L662.26 448.91 L663.25 450.6 L664.24 452.27 L665.23 453.92 L666.21 455.59 L667.2 457.3" fill="none" stroke="#3f7fc8" stroke-width="1.4" stroke-linejoin="round"/>
</g>
<rect x="405.9" y="280.5" width="82.6" height="224.4" fill="none" stroke="#000" stroke-width="1.6"/>
<rect x="495.7" y="280.5" width="82.2" height="224.4" fill="none" stroke="#000" stroke-width="1.6"/>
<rect x="584.7" y="280.5" width="82.5" height="224.4" fill="none" stroke="#000" stroke-width="1.6"/>
<line x1="405.9" y1="504.9" x2="405.9" y2="509.1" stroke="#000" stroke-width="1.4"/>
<text x="405.9" y="520.7" font-size="11" text-anchor="middle">360</text>
<line x1="433.43" y1="504.9" x2="433.43" y2="509.1" stroke="#000" stroke-width="1.4"/>
<text x="433.43" y="520.7" font-size="11" text-anchor="middle">390</text>
<line x1="460.97" y1="504.9" x2="460.97" y2="509.1" stroke="#000" stroke-width="1.4"/>
<text x="460.97" y="520.7" font-size="11" text-anchor="middle">420</text>
<line x1="488.5" y1="504.9" x2="488.5" y2="509.1" stroke="#000" stroke-width="1.4"/>
<text x="488.5" y="520.7" font-size="11" text-anchor="middle">450</text>
<line x1="507.44" y1="504.9" x2="507.44" y2="509.1" stroke="#000" stroke-width="1.4"/>
<text x="507.44" y="520.7" font-size="11" text-anchor="middle">280</text>
<line x1="530.93" y1="504.9" x2="530.93" y2="509.1" stroke="#000" stroke-width="1.4"/>
<text x="530.93" y="520.7" font-size="11" text-anchor="middle">300</text>
<line x1="554.41" y1="504.9" x2="554.41" y2="509.1" stroke="#000" stroke-width="1.4"/>
<text x="554.41" y="520.7" font-size="11" text-anchor="middle">320</text>
<line x1="577.9" y1="504.9" x2="577.9" y2="509.1" stroke="#000" stroke-width="1.4"/>
<text x="577.9" y="520.7" font-size="11" text-anchor="middle">340</text>
<line x1="605.33" y1="504.9" x2="605.33" y2="509.1" stroke="#000" stroke-width="1.4"/>
<text x="605.33" y="520.7" font-size="11" text-anchor="middle">210</text>
<line x1="636.26" y1="504.9" x2="636.26" y2="509.1" stroke="#000" stroke-width="1.4"/>
<text x="636.26" y="520.7" font-size="11" text-anchor="middle">225</text>
<line x1="667.2" y1="504.9" x2="667.2" y2="509.1" stroke="#000" stroke-width="1.4"/>
<text x="667.2" y="520.7" font-size="11" text-anchor="middle">240</text>
<text x="353" y="294.6" font-size="22" font-weight="bold">d</text>
<text x="555.2" y="544.4" font-size="16.9" text-anchor="middle">Wavelength (nm)</text>
<text x="387.8" y="383" font-size="16.9" text-anchor="middle" transform="rotate(-90 387.8 383)">Absorbance (arb. units)</text>
<line x1="408.2" y1="289.8" x2="433.8" y2="289.8" stroke="#9b3570" stroke-width="1.4"/>
<text x="437.4" y="293.8" font-size="11"><tspan font-style="italic">t</tspan><tspan font-size="8" dy="3.2">1</tspan><tspan dy="-3.2"> = 2 h</tspan></text>
<line x1="408.2" y1="306.08" x2="433.8" y2="306.08" stroke="#d8566e" stroke-width="1.4"/>
<text x="437.4" y="310.08" font-size="11"><tspan font-style="italic">t</tspan><tspan font-size="8" dy="3.2">2</tspan><tspan dy="-3.2"> = 4 h</tspan></text>
<line x1="408.2" y1="322.36" x2="433.8" y2="322.36" stroke="#f26a4f" stroke-width="1.4"/>
<text x="437.4" y="326.36" font-size="11"><tspan font-style="italic">t</tspan><tspan font-size="8" dy="3.2">3</tspan><tspan dy="-3.2"> = 6 h</tspan></text>
<line x1="408.2" y1="338.64" x2="433.8" y2="338.64" stroke="#a8dbb8" stroke-width="1.4"/>
<text x="437.4" y="342.64" font-size="11"><tspan font-style="italic">t</tspan><tspan font-size="8" dy="3.2">4</tspan><tspan dy="-3.2"> = 8 h</tspan></text>
<line x1="408.2" y1="354.92" x2="433.8" y2="354.92" stroke="#5fc0b8" stroke-width="1.4"/>
<text x="437.4" y="358.92" font-size="11"><tspan font-style="italic">t</tspan><tspan font-size="8" dy="3.2">5</tspan><tspan dy="-3.2"> = 10 h</tspan></text>
<line x1="408.2" y1="371.2" x2="433.8" y2="371.2" stroke="#3f7fc8" stroke-width="1.4"/>
<text x="437.4" y="375.2" font-size="11"><tspan font-style="italic">t</tspan><tspan font-size="8" dy="3.2">6</tspan><tspan dy="-3.2"> = 12 h</tspan></text>
<line x1="452.1" y1="458.8" x2="456.97" y2="391.87" stroke="#222" stroke-width="1.3" stroke-dasharray="4.5 3"/>
<path d="M457.7 381.9 L459.67 392.07 L454.28 391.68 Z" fill="#111"/>
<line x1="532.3" y1="472.2" x2="532.3" y2="384.6" stroke="#222" stroke-width="1.3" stroke-dasharray="4.5 3"/>
<path d="M532.3 374.6 L535 384.6 L529.6 384.6 Z" fill="#111"/>
<line x1="632.3" y1="306.2" x2="609.82" y2="427.67" stroke="#222" stroke-width="1.3" stroke-dasharray="4.5 3"/>
<path d="M608 437.5 L607.16 427.18 L612.47 428.16 Z" fill="#111"/>
<text x="419.3" y="480.6" font-size="11.6">[Fe(CN)<tspan font-size="8.3" dy="3.5">6</tspan><tspan dy="-3.5">]</tspan><tspan font-size="8.3" dy="-5.5">3-</tspan></text>
<text x="509.3" y="366.4" font-size="11.6">[Fe(CN)<tspan font-size="8.3" dy="3.5">6</tspan><tspan dy="-3.5">]</tspan><tspan font-size="8.3" dy="-5.5">3-</tspan></text>
<text x="594.3" y="297.9" font-size="11.6">[Fe(CN)<tspan font-size="8.3" dy="3.5">6</tspan><tspan dy="-3.5">]</tspan><tspan font-size="8.3" dy="-5.5">4-</tspan></text>
<path d="M73.6 590.2 C79.72 594.65 98.07 606.72 110.3 616.9 C122.53 627.08 134.62 645.12 147 651.3 C159.38 657.48 172.22 652.32 184.6 654 C196.98 655.68 209.07 659.78 221.3 661.4 C233.53 663.02 245.75 663.13 258 663.7 C270.25 664.27 288.67 664.62 294.8 664.8" fill="none" stroke="#4a94dc" stroke-width="1.1"/>
<path d="M73.6 662.5 C79.72 660.25 98.07 652.08 110.3 649 C122.53 645.92 134.62 646.72 147 644 C159.38 641.28 172.22 634.77 184.6 632.7 C196.98 630.63 209.07 637.27 221.3 631.6 C233.53 625.93 245.75 605.02 258 598.7 C270.25 592.38 288.67 594.53 294.8 593.7" fill="none" stroke="#cf7e9e" stroke-width="1.1"/>
<circle cx="73.6" cy="590.2" r="4.2" fill="url(#spb)"/>
<circle cx="110.3" cy="616.9" r="4.2" fill="url(#spb)"/>
<circle cx="147" cy="651.3" r="4.2" fill="url(#spb)"/>
<circle cx="184.6" cy="654" r="4.2" fill="url(#spb)"/>
<circle cx="221.3" cy="661.4" r="4.2" fill="url(#spb)"/>
<circle cx="258" cy="663.7" r="4.2" fill="url(#spb)"/>
<circle cx="294.8" cy="664.8" r="4.2" fill="url(#spb)"/>
<circle cx="73.6" cy="662.5" r="4.2" fill="url(#spp)"/>
<circle cx="110.3" cy="649" r="4.2" fill="url(#spp)"/>
<circle cx="147" cy="644" r="4.2" fill="url(#spp)"/>
<circle cx="184.6" cy="632.7" r="4.2" fill="url(#spp)"/>
<circle cx="221.3" cy="631.6" r="4.2" fill="url(#spp)"/>
<circle cx="258" cy="598.7" r="4.2" fill="url(#spp)"/>
<circle cx="294.8" cy="593.7" r="4.2" fill="url(#spp)"/>
<line x1="55" y1="566.2" x2="314" y2="566.2" stroke="#000" stroke-width="1.6"/>
<line x1="55" y1="673.75" x2="314" y2="673.75" stroke="#000" stroke-width="1.6"/>
<line x1="55" y1="565.4" x2="55" y2="674.55" stroke="#000" stroke-width="1.8"/>
<line x1="314" y1="565.4" x2="314" y2="674.55" stroke="#b0517f" stroke-width="1.8"/>
<line x1="50.8" y1="570.8" x2="55" y2="570.8" stroke="#000" stroke-width="1.3"/>
<text x="46" y="575.4" font-size="13" text-anchor="end">1.2</text>
<line x1="50.8" y1="600" x2="55" y2="600" stroke="#000" stroke-width="1.3"/>
<text x="46" y="604.6" font-size="13" text-anchor="end">0.9</text>
<line x1="50.8" y1="629.3" x2="55" y2="629.3" stroke="#000" stroke-width="1.3"/>
<text x="46" y="633.9" font-size="13" text-anchor="end">0.6</text>
<line x1="50.8" y1="658.5" x2="55" y2="658.5" stroke="#000" stroke-width="1.3"/>
<text x="46" y="663.1" font-size="13" text-anchor="end">0.3</text>
<line x1="52.5" y1="585.4" x2="55" y2="585.4" stroke="#000" stroke-width="1.3"/>
<line x1="52.5" y1="614.65" x2="55" y2="614.65" stroke="#000" stroke-width="1.3"/>
<line x1="52.5" y1="643.9" x2="55" y2="643.9" stroke="#000" stroke-width="1.3"/>
<line x1="314" y1="673.6" x2="318" y2="673.6" stroke="#b0517f" stroke-width="1.3"/>
<text x="329.3" y="677.9" font-size="12.5" fill="#b0517f">0</text>
<line x1="314" y1="662.82" x2="316.5" y2="662.82" stroke="#b0517f" stroke-width="1.3"/>
<line x1="314" y1="652.04" x2="318" y2="652.04" stroke="#b0517f" stroke-width="1.3"/>
<text x="329.3" y="656.34" font-size="12.5" fill="#b0517f">2</text>
<line x1="314" y1="641.26" x2="316.5" y2="641.26" stroke="#b0517f" stroke-width="1.3"/>
<line x1="314" y1="630.48" x2="318" y2="630.48" stroke="#b0517f" stroke-width="1.3"/>
<text x="329.3" y="634.78" font-size="12.5" fill="#b0517f">4</text>
<line x1="314" y1="619.7" x2="316.5" y2="619.7" stroke="#b0517f" stroke-width="1.3"/>
<line x1="314" y1="608.92" x2="318" y2="608.92" stroke="#b0517f" stroke-width="1.3"/>
<text x="329.3" y="613.22" font-size="12.5" fill="#b0517f">6</text>
<line x1="314" y1="598.14" x2="316.5" y2="598.14" stroke="#b0517f" stroke-width="1.3"/>
<line x1="314" y1="587.36" x2="318" y2="587.36" stroke="#b0517f" stroke-width="1.3"/>
<text x="329.3" y="591.66" font-size="12.5" fill="#b0517f">8</text>
<line x1="314" y1="576.58" x2="316.5" y2="576.58" stroke="#b0517f" stroke-width="1.3"/>
<line x1="314" y1="565.8" x2="318" y2="565.8" stroke="#b0517f" stroke-width="1.3"/>
<text x="329.3" y="570.1" font-size="12.5" fill="#b0517f">10</text>
<line x1="88.9" y1="576" x2="113.4" y2="576" stroke="#4a94dc" stroke-width="1.1"/>
<circle cx="101.3" cy="576" r="4.2" fill="url(#spb)"/>
<text x="117" y="579.8" font-size="10.7"><tspan font-style="italic">c</tspan> ratio of I<tspan font-size="7.5" dy="3">3</tspan><tspan font-size="7.5" dy="-7">-</tspan><tspan dy="4">/I</tspan><tspan font-size="7.5" dy="-4">-</tspan></text>
<line x1="88.9" y1="591.8" x2="113.4" y2="591.8" stroke="#cf7e9e" stroke-width="1.1"/>
<circle cx="101.3" cy="591.8" r="4.2" fill="url(#spp)"/>
<text x="117" y="595.6" font-size="10.7"><tspan font-style="italic">c</tspan> ratio of Fe(CN)<tspan font-size="7.5" dy="3">6</tspan><tspan font-size="7.5" dy="-7">3-</tspan><tspan dy="4">/Fe(CN)</tspan><tspan font-size="7.5" dy="3">6</tspan><tspan font-size="7.5" dy="-7">4-</tspan></text>
<rect x="73.65" y="700.1" width="9.5" height="86.8" fill="url(#barb)" stroke="#2d4a6a" stroke-width="0.6"/>
<rect x="64.15" y="785.6" width="9.5" height="1.3" fill="url(#barp)" stroke="#5a3048" stroke-width="0.6"/>
<rect x="111.35" y="726.5" width="9.5" height="60.4" fill="url(#barb)" stroke="#2d4a6a" stroke-width="0.6"/>
<rect x="101.85" y="770.2" width="9.5" height="16.7" fill="url(#barp)" stroke="#5a3048" stroke-width="0.6"/>
<rect x="149.05" y="760.1" width="9.5" height="26.8" fill="url(#barb)" stroke="#2d4a6a" stroke-width="0.6"/>
<rect x="139.55" y="764.7" width="9.5" height="22.2" fill="url(#barp)" stroke="#5a3048" stroke-width="0.6"/>
<rect x="186.75" y="763.2" width="9.5" height="23.7" fill="url(#barb)" stroke="#2d4a6a" stroke-width="0.6"/>
<rect x="177.25" y="752" width="9.5" height="34.9" fill="url(#barp)" stroke="#5a3048" stroke-width="0.6"/>
<rect x="224.45" y="771" width="9.5" height="15.9" fill="url(#barb)" stroke="#2d4a6a" stroke-width="0.6"/>
<rect x="214.95" y="750" width="9.5" height="36.9" fill="url(#barp)" stroke="#5a3048" stroke-width="0.6"/>
<rect x="262.15" y="772.9" width="9.5" height="14" fill="url(#barb)" stroke="#2d4a6a" stroke-width="0.6"/>
<rect x="252.65" y="713.3" width="9.5" height="73.6" fill="url(#barp)" stroke="#5a3048" stroke-width="0.6"/>
<rect x="299.85" y="774.4" width="9.5" height="12.5" fill="url(#barb)" stroke="#2d4a6a" stroke-width="0.6"/>
<rect x="290.35" y="707.1" width="9.5" height="79.8" fill="url(#barp)" stroke="#5a3048" stroke-width="0.6"/>
<line x1="55" y1="679.3" x2="314" y2="679.3" stroke="#000" stroke-width="1.6"/>
<line x1="55" y1="786.9" x2="314" y2="786.9" stroke="#000" stroke-width="1.6"/>
<line x1="55" y1="678.5" x2="55" y2="787.7" stroke="#000" stroke-width="1.8"/>
<line x1="314" y1="678.5" x2="314" y2="787.7" stroke="#b0517f" stroke-width="1.8"/>
<line x1="50.8" y1="679.3" x2="55" y2="679.3" stroke="#000" stroke-width="1.3"/>
<text x="46" y="683.9" font-size="13" text-anchor="end">12</text>
<line x1="50.8" y1="708.9" x2="55" y2="708.9" stroke="#000" stroke-width="1.3"/>
<text x="46" y="713.5" font-size="13" text-anchor="end">9</text>
<line x1="50.8" y1="738.2" x2="55" y2="738.2" stroke="#000" stroke-width="1.3"/>
<text x="46" y="742.8" font-size="13" text-anchor="end">6</text>
<line x1="50.8" y1="767.6" x2="55" y2="767.6" stroke="#000" stroke-width="1.3"/>
<text x="46" y="772.2" font-size="13" text-anchor="end">3</text>
<line x1="52.5" y1="694" x2="55" y2="694" stroke="#000" stroke-width="1.3"/>
<line x1="52.5" y1="723.6" x2="55" y2="723.6" stroke="#000" stroke-width="1.3"/>
<line x1="52.5" y1="752.9" x2="55" y2="752.9" stroke="#000" stroke-width="1.3"/>
<line x1="52.5" y1="782.3" x2="55" y2="782.3" stroke="#000" stroke-width="1.3"/>
<line x1="314" y1="786.75" x2="316.5" y2="786.75" stroke="#b0517f" stroke-width="1.3"/>
<line x1="314" y1="776" x2="318" y2="776" stroke="#b0517f" stroke-width="1.3"/>
<text x="322.5" y="780.3" font-size="12.5" fill="#b0517f">0.04</text>
<line x1="314" y1="765.25" x2="316.5" y2="765.25" stroke="#b0517f" stroke-width="1.3"/>
<line x1="314" y1="754.5" x2="318" y2="754.5" stroke="#b0517f" stroke-width="1.3"/>
<text x="322.5" y="758.8" font-size="12.5" fill="#b0517f">0.08</text>
<line x1="314" y1="743.75" x2="316.5" y2="743.75" stroke="#b0517f" stroke-width="1.3"/>
<line x1="314" y1="733" x2="318" y2="733" stroke="#b0517f" stroke-width="1.3"/>
<text x="322.5" y="737.3" font-size="12.5" fill="#b0517f">0.12</text>
<line x1="314" y1="722.25" x2="316.5" y2="722.25" stroke="#b0517f" stroke-width="1.3"/>
<line x1="314" y1="711.5" x2="318" y2="711.5" stroke="#b0517f" stroke-width="1.3"/>
<text x="322.5" y="715.8" font-size="12.5" fill="#b0517f">0.16</text>
<line x1="314" y1="700.75" x2="316.5" y2="700.75" stroke="#b0517f" stroke-width="1.3"/>
<line x1="314" y1="690" x2="318" y2="690" stroke="#b0517f" stroke-width="1.3"/>
<text x="322.5" y="694.3" font-size="12.5" fill="#b0517f">0.20</text>
<line x1="314" y1="679.25" x2="316.5" y2="679.25" stroke="#b0517f" stroke-width="1.3"/>
<line x1="78.4" y1="786.9" x2="78.4" y2="791.4" stroke="#000" stroke-width="1.5"/>
<text x="78.4" y="806.8" font-size="13" text-anchor="middle">0</text>
<line x1="116.1" y1="786.9" x2="116.1" y2="791.4" stroke="#000" stroke-width="1.5"/>
<text x="116.1" y="806.8" font-size="13" text-anchor="middle">2</text>
<line x1="153.8" y1="786.9" x2="153.8" y2="791.4" stroke="#000" stroke-width="1.5"/>
<text x="153.8" y="806.8" font-size="13" text-anchor="middle">4</text>
<line x1="191.5" y1="786.9" x2="191.5" y2="791.4" stroke="#000" stroke-width="1.5"/>
<text x="191.5" y="806.8" font-size="13" text-anchor="middle">6</text>
<line x1="229.2" y1="786.9" x2="229.2" y2="791.4" stroke="#000" stroke-width="1.5"/>
<text x="229.2" y="806.8" font-size="13" text-anchor="middle">8</text>
<line x1="266.9" y1="786.9" x2="266.9" y2="791.4" stroke="#000" stroke-width="1.5"/>
<text x="266.9" y="806.8" font-size="13" text-anchor="middle">10</text>
<line x1="304.6" y1="786.9" x2="304.6" y2="791.4" stroke="#000" stroke-width="1.5"/>
<text x="304.6" y="806.8" font-size="13" text-anchor="middle">12</text>
<rect x="86" y="682.7" width="22.3" height="10.7" fill="url(#barb)" stroke="#2d4a6a" stroke-width="0.6"/>
<rect x="86" y="699.2" width="22.3" height="10.3" fill="url(#barp)" stroke="#5a3048" stroke-width="0.6"/>
<text x="111.1" y="691.5" font-size="10.3">Absorbance ratio of I<tspan font-size="7.5" dy="3">3</tspan><tspan font-size="7.5" dy="-7">-</tspan><tspan dy="4">/I</tspan><tspan font-size="7.5" dy="-4">-</tspan></text>
<text x="111.1" y="707.8" font-size="10.3">Absorbance ratio of Fe(CN)<tspan font-size="7.5" dy="3">6</tspan><tspan font-size="7.5" dy="-7">3-</tspan><tspan dy="4">/Fe(CN)</tspan><tspan font-size="7.5" dy="3">6</tspan><tspan font-size="7.5" dy="-7">4-</tspan></text>
<text x="-0.3" y="581.4" font-size="22" font-weight="bold">e</text>
<text x="17.8" y="622" font-size="19.3" text-anchor="middle" transform="rotate(-90 17.8 622)"><tspan font-style="italic">c</tspan> ratio</text>
<text x="19.8" y="733" font-size="19.3" text-anchor="middle" transform="rotate(-90 19.8 733)"><tspan font-style="italic">A</tspan> ratio</text>
<text x="43.2" y="829.9" font-size="17.9">Regeneration treatment time (<tspan font-style="italic">t</tspan><tspan font-size="13.5" dy="4">0-end</tspan><tspan dy="-4">)</tspan></text>
<path d="M427.4 636.24 C433.55 637.59 451.99 642.29 464.28 644.37 C476.57 646.45 488.87 647.16 501.16 648.72 C513.45 650.28 525.75 652.09 538.04 653.74 C550.33 655.39 562.63 657.29 574.92 658.62 C587.21 659.94 599.51 660.53 611.8 661.69 C624.09 662.85 642.53 664.93 648.68 665.58" fill="none" stroke="#4a94dc" stroke-width="1.1"/>
<circle cx="427.4" cy="636.24" r="4.2" fill="url(#spb)"/>
<circle cx="464.28" cy="644.37" r="4.2" fill="url(#spb)"/>
<circle cx="501.16" cy="648.72" r="4.2" fill="url(#spb)"/>
<circle cx="538.04" cy="653.74" r="4.2" fill="url(#spb)"/>
<circle cx="574.92" cy="658.62" r="4.2" fill="url(#spb)"/>
<circle cx="611.8" cy="661.69" r="4.2" fill="url(#spb)"/>
<circle cx="648.68" cy="665.58" r="4.2" fill="url(#spb)"/>
<path d="M427.4 685.73 C433.55 685.05 451.99 683.08 464.28 681.66 C476.57 680.25 488.87 678.57 501.16 677.25 C513.45 675.92 525.75 674.89 538.04 673.71 C550.33 672.53 562.63 671.18 574.92 670.18 C587.21 669.17 599.51 668.47 611.8 667.7 C624.09 666.94 642.53 665.93 648.68 665.58" fill="none" stroke="#8a8a8a" stroke-width="1.1"/>
<circle cx="427.4" cy="685.73" r="4.2" fill="url(#spg)"/>
<circle cx="464.28" cy="681.66" r="4.2" fill="url(#spg)"/>
<circle cx="501.16" cy="677.25" r="4.2" fill="url(#spg)"/>
<circle cx="538.04" cy="673.71" r="4.2" fill="url(#spg)"/>
<circle cx="574.92" cy="670.18" r="4.2" fill="url(#spg)"/>
<circle cx="611.8" cy="667.7" r="4.2" fill="url(#spg)"/>
<circle cx="648.68" cy="665.58" r="4.2" fill="url(#spg)"/>
<path d="M427.4 729.21 C433.55 731.12 451.99 737.25 464.28 740.66 C476.57 744.08 488.87 746.71 501.16 749.71 C513.45 752.71 525.75 755.75 538.04 758.66 C550.33 761.57 562.63 765 574.92 767.18 C587.21 769.35 599.51 769.86 611.8 771.7 C624.09 773.54 642.53 777.12 648.68 778.21" fill="none" stroke="#ee8272" stroke-width="1.1"/>
<circle cx="427.4" cy="729.21" r="4.2" fill="url(#spo)"/>
<circle cx="464.28" cy="740.66" r="4.2" fill="url(#spo)"/>
<circle cx="501.16" cy="749.71" r="4.2" fill="url(#spo)"/>
<circle cx="538.04" cy="758.66" r="4.2" fill="url(#spo)"/>
<circle cx="574.92" cy="767.18" r="4.2" fill="url(#spo)"/>
<circle cx="611.8" cy="771.7" r="4.2" fill="url(#spo)"/>
<circle cx="648.68" cy="778.21" r="4.2" fill="url(#spo)"/>
<rect x="409.2" y="566.4" width="258.2" height="221.3" fill="none" stroke="#000" stroke-width="1.8"/>
<line x1="405.2" y1="778.7" x2="409.2" y2="778.7" stroke="#000" stroke-width="1.3"/>
<text x="401.6" y="782.6" font-size="11" text-anchor="end">0</text>
<line x1="406.7" y1="761.03" x2="409.2" y2="761.03" stroke="#000" stroke-width="1.3"/>
<line x1="405.2" y1="743.35" x2="409.2" y2="743.35" stroke="#000" stroke-width="1.3"/>
<text x="401.6" y="747.25" font-size="11" text-anchor="end">100</text>
<line x1="406.7" y1="725.68" x2="409.2" y2="725.68" stroke="#000" stroke-width="1.3"/>
<line x1="405.2" y1="708" x2="409.2" y2="708" stroke="#000" stroke-width="1.3"/>
<text x="401.6" y="711.9" font-size="11" text-anchor="end">200</text>
<line x1="406.7" y1="690.33" x2="409.2" y2="690.33" stroke="#000" stroke-width="1.3"/>
<line x1="405.2" y1="672.65" x2="409.2" y2="672.65" stroke="#000" stroke-width="1.3"/>
<text x="401.6" y="676.55" font-size="11" text-anchor="end">300</text>
<line x1="406.7" y1="654.98" x2="409.2" y2="654.98" stroke="#000" stroke-width="1.3"/>
<line x1="405.2" y1="637.3" x2="409.2" y2="637.3" stroke="#000" stroke-width="1.3"/>
<text x="401.6" y="641.2" font-size="11" text-anchor="end">400</text>
<line x1="406.7" y1="619.62" x2="409.2" y2="619.62" stroke="#000" stroke-width="1.3"/>
<line x1="405.2" y1="601.95" x2="409.2" y2="601.95" stroke="#000" stroke-width="1.3"/>
<text x="401.6" y="605.85" font-size="11" text-anchor="end">500</text>
<line x1="406.7" y1="584.28" x2="409.2" y2="584.28" stroke="#000" stroke-width="1.3"/>
<line x1="405.2" y1="566.6" x2="409.2" y2="566.6" stroke="#000" stroke-width="1.3"/>
<text x="401.6" y="570.5" font-size="11" text-anchor="end">600</text>
<line x1="427.4" y1="787.7" x2="427.4" y2="791.7" stroke="#000" stroke-width="1.3"/>
<text x="427.4" y="803.4" font-size="11" text-anchor="middle">0</text>
<line x1="445.84" y1="787.7" x2="445.84" y2="790.2" stroke="#000" stroke-width="1.3"/>
<line x1="464.28" y1="787.7" x2="464.28" y2="791.7" stroke="#000" stroke-width="1.3"/>
<text x="464.28" y="803.4" font-size="11" text-anchor="middle">2</text>
<line x1="482.72" y1="787.7" x2="482.72" y2="790.2" stroke="#000" stroke-width="1.3"/>
<line x1="501.16" y1="787.7" x2="501.16" y2="791.7" stroke="#000" stroke-width="1.3"/>
<text x="501.16" y="803.4" font-size="11" text-anchor="middle">4</text>
<line x1="519.6" y1="787.7" x2="519.6" y2="790.2" stroke="#000" stroke-width="1.3"/>
<line x1="538.04" y1="787.7" x2="538.04" y2="791.7" stroke="#000" stroke-width="1.3"/>
<text x="538.04" y="803.4" font-size="11" text-anchor="middle">6</text>
<line x1="556.48" y1="787.7" x2="556.48" y2="790.2" stroke="#000" stroke-width="1.3"/>
<line x1="574.92" y1="787.7" x2="574.92" y2="791.7" stroke="#000" stroke-width="1.3"/>
<text x="574.92" y="803.4" font-size="11" text-anchor="middle">8</text>
<line x1="593.36" y1="787.7" x2="593.36" y2="790.2" stroke="#000" stroke-width="1.3"/>
<line x1="611.8" y1="787.7" x2="611.8" y2="791.7" stroke="#000" stroke-width="1.3"/>
<text x="611.8" y="803.4" font-size="11" text-anchor="middle">10</text>
<line x1="630.24" y1="787.7" x2="630.24" y2="790.2" stroke="#000" stroke-width="1.3"/>
<line x1="648.68" y1="787.7" x2="648.68" y2="791.7" stroke="#000" stroke-width="1.3"/>
<text x="648.68" y="803.4" font-size="11" text-anchor="middle">12</text>
<line x1="428.2" y1="580.8" x2="453.4" y2="580.8" stroke="#4a94dc" stroke-width="1.1"/>
<circle cx="440.7" cy="580.8" r="4.2" fill="url(#spb)"/>
<text x="456.7" y="584.7" font-size="11">I<tspan font-size="7.5" dy="3">3</tspan><tspan font-size="7.5" dy="-7">-</tspan><tspan dy="4">/I</tspan><tspan font-size="7.5" dy="-4">-</tspan></text>
<line x1="428.2" y1="598.6" x2="453.4" y2="598.6" stroke="#8a8a8a" stroke-width="1.1"/>
<circle cx="440.7" cy="598.6" r="4.2" fill="url(#spg)"/>
<text x="456.7" y="602.5" font-size="11">Fe(CN)<tspan font-size="7.5" dy="3">6</tspan><tspan font-size="7.5" dy="-7">3-</tspan><tspan dy="4">/Fe(CN)</tspan><tspan font-size="7.5" dy="3">6</tspan><tspan font-size="7.5" dy="-7">4-</tspan></text>
<line x1="428.2" y1="614.7" x2="453.4" y2="614.7" stroke="#ee8272" stroke-width="1.1"/>
<circle cx="440.7" cy="614.7" r="4.2" fill="url(#spo)"/>
<text x="456.7" y="618.6" font-size="11">Full device</text>
<text x="572" y="758.2" font-size="11.2" fill="#ee8272">Full potential</text>
<text x="359.8" y="580.7" font-size="22" font-weight="bold">f</text>
<text x="377.8" y="676.5" font-size="16.2" text-anchor="middle" transform="rotate(-90 377.8 676.5)"><tspan font-style="italic">E</tspan> vs Ag/AgCl (mV)</text>
<text x="410.2" y="827" font-size="16.05">Regeneration treatment time (<tspan font-style="italic">t</tspan><tspan font-size="12.5" dy="3.8">0-end</tspan><tspan dy="-3.8">)</tspan></text>
</svg></body></html>
